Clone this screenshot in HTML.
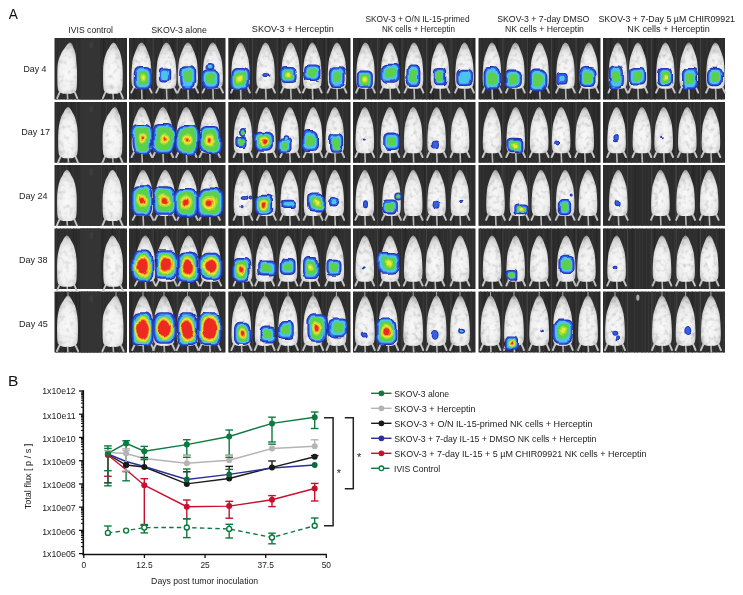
<!DOCTYPE html><html><head><meta charset="utf-8"><style>html,body{margin:0;padding:0;background:#fff;}svg{display:block}text{font-family:"Liberation Sans",Arial,sans-serif;fill:#222}</style></head><body>
<svg width="743" height="595" viewBox="0 0 743 595">
<defs>
<radialGradient id="mg" cx="0.5" cy="0.62" r="0.62"><stop offset="0" stop-color="#fafafa"/><stop offset="0.6" stop-color="#eeeeee"/><stop offset="0.87" stop-color="#d0d0d0"/><stop offset="1" stop-color="#949494"/></radialGradient>
<radialGradient id="mg1" cx="0.5" cy="0.6" r="0.62"><stop offset="0" stop-color="#fafafa"/><stop offset="0.6" stop-color="#f0f0f0"/><stop offset="0.88" stop-color="#d4d4d4"/><stop offset="1" stop-color="#9a9a9a"/></radialGradient>
<filter id="bl" x="-20%" y="-20%" width="140%" height="140%"><feGaussianBlur stdDeviation="0.55"/></filter>
<filter id="tex" filterUnits="userSpaceOnUse" x="50" y="35" width="680" height="320"><feTurbulence type="fractalNoise" baseFrequency="0.22" numOctaves="2" seed="5" result="n"/><feColorMatrix in="n" type="matrix" values="0 0 0 0 0  0 0 0 0 0  0 0 0 0 0  0 0 0 -0.8 0.42" result="a"/><feComposite in="a" in2="SourceGraphic" operator="in" result="t"/><feMerge><feMergeNode in="SourceGraphic"/><feMergeNode in="t"/></feMerge></filter>
<filter id="tex1" filterUnits="userSpaceOnUse" x="50" y="35" width="80" height="320"><feTurbulence type="fractalNoise" baseFrequency="0.2" numOctaves="2" seed="9" result="n"/><feColorMatrix in="n" type="matrix" values="0 0 0 0 0  0 0 0 0 0  0 0 0 0 0  0 0 0 -0.7 0.36" result="a"/><feComposite in="a" in2="SourceGraphic" operator="in" result="t"/><feMerge><feMergeNode in="SourceGraphic"/><feMergeNode in="t"/></feMerge></filter>
<filter id="bb" filterUnits="userSpaceOnUse" x="50" y="35" width="680" height="320"><feTurbulence type="fractalNoise" baseFrequency="0.07" numOctaves="1" seed="11" result="n"/><feDisplacementMap in="SourceGraphic" in2="n" scale="6" xChannelSelector="R" yChannelSelector="G" result="d"/><feGaussianBlur in="d" stdDeviation="0.75"/></filter>
</defs>
<rect x="54.5" y="38" width="72.50" height="61.50" fill="#2d2d2d"/>
<rect x="56.0" y="38" width="0.9" height="61.50" fill="#333"/>
<rect x="59.3" y="38" width="0.6" height="61.50" fill="#353535"/>
<rect x="62.5" y="38" width="0.6" height="61.50" fill="#333"/>
<rect x="65.1" y="38" width="0.9" height="61.50" fill="#353535"/>
<rect x="68.1" y="38" width="1.0" height="61.50" fill="#353535"/>
<rect x="72.2" y="38" width="0.7" height="61.50" fill="#333"/>
<rect x="76.0" y="38" width="1.1" height="61.50" fill="#353535"/>
<rect x="79.6" y="38" width="0.9" height="61.50" fill="#333"/>
<rect x="82.2" y="38" width="1.3" height="61.50" fill="#383838"/>
<rect x="85.6" y="38" width="1.0" height="61.50" fill="#383838"/>
<rect x="89.2" y="38" width="1.1" height="61.50" fill="#353535"/>
<rect x="92.9" y="38" width="1.1" height="61.50" fill="#383838"/>
<rect x="95.6" y="38" width="1.2" height="61.50" fill="#353535"/>
<rect x="99.3" y="38" width="1.0" height="61.50" fill="#262626"/>
<rect x="103.3" y="38" width="1.0" height="61.50" fill="#262626"/>
<rect x="106.6" y="38" width="0.8" height="61.50" fill="#333"/>
<rect x="110.5" y="38" width="0.8" height="61.50" fill="#383838"/>
<rect x="114.0" y="38" width="1.3" height="61.50" fill="#262626"/>
<rect x="117.1" y="38" width="1.4" height="61.50" fill="#353535"/>
<rect x="120.6" y="38" width="0.7" height="61.50" fill="#383838"/>
<rect x="123.4" y="38" width="1.0" height="61.50" fill="#353535"/>
<rect x="80.5" y="38" width="20" height="61.50" fill="#343434"/>
<ellipse cx="91.3" cy="45.0" rx="2" ry="3.6" fill="#3e3e3e" filter="url(#bl)"/>
<rect x="129" y="38" width="96.50" height="61.50" fill="#2d2d2d"/>
<rect x="130.5" y="38" width="0.7" height="61.50" fill="#383838"/>
<rect x="133.7" y="38" width="0.9" height="61.50" fill="#262626"/>
<rect x="137.3" y="38" width="1.0" height="61.50" fill="#353535"/>
<rect x="141.7" y="38" width="1.0" height="61.50" fill="#353535"/>
<rect x="144.4" y="38" width="1.2" height="61.50" fill="#262626"/>
<rect x="147.4" y="38" width="0.9" height="61.50" fill="#383838"/>
<rect x="150.0" y="38" width="1.0" height="61.50" fill="#333"/>
<rect x="153.7" y="38" width="1.0" height="61.50" fill="#333"/>
<rect x="157.7" y="38" width="0.7" height="61.50" fill="#333"/>
<rect x="161.0" y="38" width="1.3" height="61.50" fill="#262626"/>
<rect x="163.7" y="38" width="1.0" height="61.50" fill="#383838"/>
<rect x="167.9" y="38" width="1.3" height="61.50" fill="#383838"/>
<rect x="171.9" y="38" width="1.4" height="61.50" fill="#262626"/>
<rect x="176.3" y="38" width="0.7" height="61.50" fill="#333"/>
<rect x="179.1" y="38" width="1.1" height="61.50" fill="#353535"/>
<rect x="182.5" y="38" width="1.1" height="61.50" fill="#383838"/>
<rect x="185.6" y="38" width="0.7" height="61.50" fill="#383838"/>
<rect x="189.3" y="38" width="0.9" height="61.50" fill="#333"/>
<rect x="193.2" y="38" width="1.0" height="61.50" fill="#353535"/>
<rect x="196.6" y="38" width="1.3" height="61.50" fill="#262626"/>
<rect x="199.9" y="38" width="0.9" height="61.50" fill="#262626"/>
<rect x="203.7" y="38" width="0.6" height="61.50" fill="#353535"/>
<rect x="208.2" y="38" width="1.0" height="61.50" fill="#353535"/>
<rect x="211.3" y="38" width="0.6" height="61.50" fill="#353535"/>
<rect x="215.0" y="38" width="1.0" height="61.50" fill="#383838"/>
<rect x="218.7" y="38" width="0.7" height="61.50" fill="#333"/>
<rect x="222.4" y="38" width="0.7" height="61.50" fill="#383838"/>
<rect x="152.7" y="38" width="0.8" height="61.50" fill="#4a4a4a"/>
<rect x="176.8" y="38" width="0.8" height="61.50" fill="#4a4a4a"/>
<rect x="201.0" y="38" width="0.8" height="61.50" fill="#4a4a4a"/>
<rect x="228.3" y="38" width="122.20" height="61.50" fill="#2d2d2d"/>
<rect x="229.8" y="38" width="1.1" height="61.50" fill="#262626"/>
<rect x="232.5" y="38" width="1.3" height="61.50" fill="#262626"/>
<rect x="236.0" y="38" width="0.8" height="61.50" fill="#333"/>
<rect x="238.7" y="38" width="0.9" height="61.50" fill="#383838"/>
<rect x="242.2" y="38" width="1.2" height="61.50" fill="#353535"/>
<rect x="245.1" y="38" width="1.4" height="61.50" fill="#383838"/>
<rect x="247.9" y="38" width="1.0" height="61.50" fill="#353535"/>
<rect x="251.9" y="38" width="0.8" height="61.50" fill="#353535"/>
<rect x="255.8" y="38" width="0.8" height="61.50" fill="#383838"/>
<rect x="260.1" y="38" width="0.9" height="61.50" fill="#333"/>
<rect x="263.7" y="38" width="1.2" height="61.50" fill="#383838"/>
<rect x="267.4" y="38" width="1.1" height="61.50" fill="#333"/>
<rect x="271.5" y="38" width="1.3" height="61.50" fill="#333"/>
<rect x="274.4" y="38" width="1.0" height="61.50" fill="#353535"/>
<rect x="278.9" y="38" width="1.2" height="61.50" fill="#262626"/>
<rect x="281.9" y="38" width="1.2" height="61.50" fill="#383838"/>
<rect x="285.3" y="38" width="1.3" height="61.50" fill="#383838"/>
<rect x="289.7" y="38" width="0.9" height="61.50" fill="#333"/>
<rect x="292.5" y="38" width="1.0" height="61.50" fill="#383838"/>
<rect x="295.4" y="38" width="1.1" height="61.50" fill="#353535"/>
<rect x="298.8" y="38" width="1.1" height="61.50" fill="#353535"/>
<rect x="303.0" y="38" width="0.7" height="61.50" fill="#262626"/>
<rect x="307.1" y="38" width="1.2" height="61.50" fill="#262626"/>
<rect x="311.3" y="38" width="0.9" height="61.50" fill="#383838"/>
<rect x="314.0" y="38" width="1.4" height="61.50" fill="#262626"/>
<rect x="317.4" y="38" width="1.2" height="61.50" fill="#353535"/>
<rect x="321.4" y="38" width="0.7" height="61.50" fill="#333"/>
<rect x="323.9" y="38" width="1.1" height="61.50" fill="#262626"/>
<rect x="328.1" y="38" width="0.7" height="61.50" fill="#262626"/>
<rect x="331.9" y="38" width="0.9" height="61.50" fill="#333"/>
<rect x="334.4" y="38" width="1.2" height="61.50" fill="#353535"/>
<rect x="338.0" y="38" width="1.3" height="61.50" fill="#262626"/>
<rect x="342.4" y="38" width="0.8" height="61.50" fill="#333"/>
<rect x="345.0" y="38" width="0.8" height="61.50" fill="#333"/>
<rect x="349.0" y="38" width="0.9" height="61.50" fill="#262626"/>
<rect x="252.3" y="38" width="0.8" height="61.50" fill="#4a4a4a"/>
<rect x="276.8" y="38" width="0.8" height="61.50" fill="#4a4a4a"/>
<rect x="301.2" y="38" width="0.8" height="61.50" fill="#4a4a4a"/>
<rect x="325.7" y="38" width="0.8" height="61.50" fill="#4a4a4a"/>
<rect x="353" y="38" width="122.50" height="61.50" fill="#2d2d2d"/>
<rect x="354.5" y="38" width="0.6" height="61.50" fill="#383838"/>
<rect x="358.8" y="38" width="1.1" height="61.50" fill="#262626"/>
<rect x="362.9" y="38" width="1.3" height="61.50" fill="#333"/>
<rect x="366.5" y="38" width="1.0" height="61.50" fill="#353535"/>
<rect x="370.8" y="38" width="1.2" height="61.50" fill="#353535"/>
<rect x="374.8" y="38" width="0.7" height="61.50" fill="#333"/>
<rect x="378.3" y="38" width="1.2" height="61.50" fill="#353535"/>
<rect x="381.4" y="38" width="1.0" height="61.50" fill="#262626"/>
<rect x="385.5" y="38" width="0.7" height="61.50" fill="#353535"/>
<rect x="388.5" y="38" width="0.8" height="61.50" fill="#353535"/>
<rect x="392.0" y="38" width="1.0" height="61.50" fill="#353535"/>
<rect x="395.4" y="38" width="1.1" height="61.50" fill="#333"/>
<rect x="399.3" y="38" width="1.0" height="61.50" fill="#262626"/>
<rect x="402.8" y="38" width="0.8" height="61.50" fill="#383838"/>
<rect x="407.1" y="38" width="1.3" height="61.50" fill="#333"/>
<rect x="411.3" y="38" width="0.7" height="61.50" fill="#353535"/>
<rect x="414.6" y="38" width="0.9" height="61.50" fill="#333"/>
<rect x="417.9" y="38" width="0.8" height="61.50" fill="#383838"/>
<rect x="422.0" y="38" width="1.3" height="61.50" fill="#333"/>
<rect x="426.4" y="38" width="1.1" height="61.50" fill="#383838"/>
<rect x="429.2" y="38" width="1.3" height="61.50" fill="#262626"/>
<rect x="432.1" y="38" width="1.4" height="61.50" fill="#262626"/>
<rect x="436.4" y="38" width="0.7" height="61.50" fill="#333"/>
<rect x="439.2" y="38" width="0.9" height="61.50" fill="#262626"/>
<rect x="442.4" y="38" width="0.8" height="61.50" fill="#383838"/>
<rect x="445.1" y="38" width="0.9" height="61.50" fill="#383838"/>
<rect x="448.7" y="38" width="1.0" height="61.50" fill="#353535"/>
<rect x="451.9" y="38" width="1.0" height="61.50" fill="#383838"/>
<rect x="455.5" y="38" width="0.7" height="61.50" fill="#333"/>
<rect x="459.9" y="38" width="0.7" height="61.50" fill="#383838"/>
<rect x="463.0" y="38" width="1.3" height="61.50" fill="#333"/>
<rect x="466.0" y="38" width="0.7" height="61.50" fill="#262626"/>
<rect x="470.2" y="38" width="1.1" height="61.50" fill="#383838"/>
<rect x="473.5" y="38" width="1.0" height="61.50" fill="#262626"/>
<rect x="377.1" y="38" width="0.8" height="61.50" fill="#4a4a4a"/>
<rect x="401.6" y="38" width="0.8" height="61.50" fill="#4a4a4a"/>
<rect x="426.1" y="38" width="0.8" height="61.50" fill="#4a4a4a"/>
<rect x="450.6" y="38" width="0.8" height="61.50" fill="#4a4a4a"/>
<rect x="478.5" y="38" width="122.00" height="61.50" fill="#2d2d2d"/>
<rect x="480.0" y="38" width="0.7" height="61.50" fill="#353535"/>
<rect x="484.1" y="38" width="0.7" height="61.50" fill="#353535"/>
<rect x="487.1" y="38" width="0.6" height="61.50" fill="#353535"/>
<rect x="491.2" y="38" width="0.7" height="61.50" fill="#333"/>
<rect x="493.9" y="38" width="1.3" height="61.50" fill="#262626"/>
<rect x="496.4" y="38" width="1.4" height="61.50" fill="#262626"/>
<rect x="500.7" y="38" width="0.8" height="61.50" fill="#333"/>
<rect x="503.3" y="38" width="1.2" height="61.50" fill="#353535"/>
<rect x="507.8" y="38" width="0.8" height="61.50" fill="#333"/>
<rect x="510.7" y="38" width="0.8" height="61.50" fill="#383838"/>
<rect x="514.2" y="38" width="0.8" height="61.50" fill="#262626"/>
<rect x="517.7" y="38" width="0.7" height="61.50" fill="#383838"/>
<rect x="521.8" y="38" width="1.4" height="61.50" fill="#353535"/>
<rect x="524.4" y="38" width="1.2" height="61.50" fill="#333"/>
<rect x="527.9" y="38" width="0.8" height="61.50" fill="#262626"/>
<rect x="530.6" y="38" width="1.3" height="61.50" fill="#262626"/>
<rect x="534.4" y="38" width="1.0" height="61.50" fill="#262626"/>
<rect x="538.9" y="38" width="0.8" height="61.50" fill="#333"/>
<rect x="543.3" y="38" width="0.9" height="61.50" fill="#333"/>
<rect x="546.6" y="38" width="0.9" height="61.50" fill="#353535"/>
<rect x="550.8" y="38" width="0.6" height="61.50" fill="#383838"/>
<rect x="554.2" y="38" width="0.6" height="61.50" fill="#262626"/>
<rect x="558.4" y="38" width="1.1" height="61.50" fill="#383838"/>
<rect x="562.1" y="38" width="1.2" height="61.50" fill="#353535"/>
<rect x="565.5" y="38" width="0.7" height="61.50" fill="#262626"/>
<rect x="568.0" y="38" width="0.9" height="61.50" fill="#383838"/>
<rect x="572.5" y="38" width="1.0" height="61.50" fill="#333"/>
<rect x="575.1" y="38" width="1.3" height="61.50" fill="#333"/>
<rect x="578.3" y="38" width="0.6" height="61.50" fill="#262626"/>
<rect x="580.9" y="38" width="0.8" height="61.50" fill="#333"/>
<rect x="583.9" y="38" width="1.2" height="61.50" fill="#353535"/>
<rect x="587.0" y="38" width="0.7" height="61.50" fill="#262626"/>
<rect x="590.6" y="38" width="0.9" height="61.50" fill="#383838"/>
<rect x="593.7" y="38" width="0.8" height="61.50" fill="#333"/>
<rect x="597.6" y="38" width="1.2" height="61.50" fill="#262626"/>
<rect x="502.5" y="38" width="0.8" height="61.50" fill="#4a4a4a"/>
<rect x="526.9" y="38" width="0.8" height="61.50" fill="#4a4a4a"/>
<rect x="551.3" y="38" width="0.8" height="61.50" fill="#4a4a4a"/>
<rect x="575.7" y="38" width="0.8" height="61.50" fill="#4a4a4a"/>
<rect x="603" y="38" width="122.00" height="61.50" fill="#2d2d2d"/>
<rect x="604.5" y="38" width="1.2" height="61.50" fill="#262626"/>
<rect x="607.3" y="38" width="1.2" height="61.50" fill="#333"/>
<rect x="609.9" y="38" width="1.3" height="61.50" fill="#262626"/>
<rect x="613.9" y="38" width="1.2" height="61.50" fill="#333"/>
<rect x="618.2" y="38" width="1.2" height="61.50" fill="#353535"/>
<rect x="622.3" y="38" width="1.1" height="61.50" fill="#333"/>
<rect x="625.0" y="38" width="0.6" height="61.50" fill="#383838"/>
<rect x="629.4" y="38" width="0.9" height="61.50" fill="#262626"/>
<rect x="633.0" y="38" width="1.1" height="61.50" fill="#333"/>
<rect x="636.5" y="38" width="0.6" height="61.50" fill="#353535"/>
<rect x="640.5" y="38" width="1.0" height="61.50" fill="#353535"/>
<rect x="644.3" y="38" width="0.7" height="61.50" fill="#262626"/>
<rect x="647.3" y="38" width="0.7" height="61.50" fill="#383838"/>
<rect x="650.3" y="38" width="1.2" height="61.50" fill="#333"/>
<rect x="654.3" y="38" width="1.4" height="61.50" fill="#262626"/>
<rect x="658.5" y="38" width="0.7" height="61.50" fill="#383838"/>
<rect x="662.5" y="38" width="1.1" height="61.50" fill="#333"/>
<rect x="665.2" y="38" width="0.7" height="61.50" fill="#383838"/>
<rect x="669.0" y="38" width="1.2" height="61.50" fill="#333"/>
<rect x="671.5" y="38" width="0.6" height="61.50" fill="#383838"/>
<rect x="675.9" y="38" width="0.7" height="61.50" fill="#333"/>
<rect x="679.8" y="38" width="0.8" height="61.50" fill="#383838"/>
<rect x="683.2" y="38" width="1.0" height="61.50" fill="#353535"/>
<rect x="687.7" y="38" width="1.0" height="61.50" fill="#383838"/>
<rect x="692.2" y="38" width="1.3" height="61.50" fill="#353535"/>
<rect x="695.2" y="38" width="0.7" height="61.50" fill="#262626"/>
<rect x="699.7" y="38" width="0.9" height="61.50" fill="#333"/>
<rect x="702.4" y="38" width="0.7" height="61.50" fill="#383838"/>
<rect x="706.8" y="38" width="0.7" height="61.50" fill="#383838"/>
<rect x="711.1" y="38" width="1.2" height="61.50" fill="#333"/>
<rect x="714.5" y="38" width="1.3" height="61.50" fill="#262626"/>
<rect x="717.1" y="38" width="0.6" height="61.50" fill="#262626"/>
<rect x="721.0" y="38" width="0.9" height="61.50" fill="#333"/>
<rect x="627.0" y="38" width="0.8" height="61.50" fill="#4a4a4a"/>
<rect x="651.4" y="38" width="0.8" height="61.50" fill="#4a4a4a"/>
<rect x="675.8" y="38" width="0.8" height="61.50" fill="#4a4a4a"/>
<rect x="700.2" y="38" width="0.8" height="61.50" fill="#4a4a4a"/>
<rect x="54.5" y="102" width="72.50" height="60.80" fill="#2d2d2d"/>
<rect x="56.0" y="102" width="0.9" height="60.80" fill="#353535"/>
<rect x="60.2" y="102" width="0.6" height="60.80" fill="#383838"/>
<rect x="64.4" y="102" width="0.7" height="60.80" fill="#333"/>
<rect x="68.3" y="102" width="1.3" height="60.80" fill="#383838"/>
<rect x="71.3" y="102" width="0.7" height="60.80" fill="#262626"/>
<rect x="75.8" y="102" width="1.1" height="60.80" fill="#383838"/>
<rect x="80.1" y="102" width="1.2" height="60.80" fill="#353535"/>
<rect x="83.2" y="102" width="0.6" height="60.80" fill="#383838"/>
<rect x="87.0" y="102" width="0.7" height="60.80" fill="#383838"/>
<rect x="90.3" y="102" width="0.9" height="60.80" fill="#383838"/>
<rect x="94.4" y="102" width="0.9" height="60.80" fill="#353535"/>
<rect x="98.5" y="102" width="1.1" height="60.80" fill="#333"/>
<rect x="102.5" y="102" width="0.6" height="60.80" fill="#262626"/>
<rect x="105.9" y="102" width="1.2" height="60.80" fill="#383838"/>
<rect x="109.3" y="102" width="1.3" height="60.80" fill="#333"/>
<rect x="112.2" y="102" width="0.9" height="60.80" fill="#383838"/>
<rect x="115.3" y="102" width="1.2" height="60.80" fill="#383838"/>
<rect x="118.6" y="102" width="0.8" height="60.80" fill="#262626"/>
<rect x="122.2" y="102" width="0.9" height="60.80" fill="#333"/>
<rect x="80.5" y="102" width="20" height="60.80" fill="#343434"/>
<ellipse cx="91.3" cy="109.0" rx="2" ry="3.6" fill="#3e3e3e" filter="url(#bl)"/>
<rect x="129" y="102" width="96.50" height="60.80" fill="#2d2d2d"/>
<rect x="130.5" y="102" width="0.7" height="60.80" fill="#262626"/>
<rect x="134.1" y="102" width="1.0" height="60.80" fill="#383838"/>
<rect x="138.6" y="102" width="1.0" height="60.80" fill="#333"/>
<rect x="142.2" y="102" width="0.8" height="60.80" fill="#333"/>
<rect x="145.4" y="102" width="0.7" height="60.80" fill="#333"/>
<rect x="148.6" y="102" width="1.2" height="60.80" fill="#333"/>
<rect x="152.9" y="102" width="1.2" height="60.80" fill="#262626"/>
<rect x="156.1" y="102" width="1.2" height="60.80" fill="#333"/>
<rect x="159.4" y="102" width="0.9" height="60.80" fill="#353535"/>
<rect x="162.9" y="102" width="1.1" height="60.80" fill="#383838"/>
<rect x="165.7" y="102" width="1.0" height="60.80" fill="#333"/>
<rect x="168.3" y="102" width="1.3" height="60.80" fill="#262626"/>
<rect x="171.6" y="102" width="1.0" height="60.80" fill="#383838"/>
<rect x="175.8" y="102" width="1.3" height="60.80" fill="#353535"/>
<rect x="178.6" y="102" width="0.9" height="60.80" fill="#262626"/>
<rect x="183.0" y="102" width="1.0" height="60.80" fill="#353535"/>
<rect x="186.3" y="102" width="1.3" height="60.80" fill="#262626"/>
<rect x="190.8" y="102" width="0.8" height="60.80" fill="#353535"/>
<rect x="193.7" y="102" width="0.7" height="60.80" fill="#353535"/>
<rect x="198.1" y="102" width="1.2" height="60.80" fill="#262626"/>
<rect x="200.8" y="102" width="1.2" height="60.80" fill="#353535"/>
<rect x="204.8" y="102" width="0.8" height="60.80" fill="#353535"/>
<rect x="208.6" y="102" width="0.8" height="60.80" fill="#333"/>
<rect x="212.4" y="102" width="1.0" height="60.80" fill="#262626"/>
<rect x="216.3" y="102" width="0.7" height="60.80" fill="#353535"/>
<rect x="219.4" y="102" width="1.4" height="60.80" fill="#333"/>
<rect x="222.6" y="102" width="0.8" height="60.80" fill="#353535"/>
<rect x="152.7" y="102" width="0.8" height="60.80" fill="#4a4a4a"/>
<rect x="176.8" y="102" width="0.8" height="60.80" fill="#4a4a4a"/>
<rect x="201.0" y="102" width="0.8" height="60.80" fill="#4a4a4a"/>
<rect x="228.3" y="102" width="122.20" height="60.80" fill="#2d2d2d"/>
<rect x="229.8" y="102" width="0.8" height="60.80" fill="#262626"/>
<rect x="232.9" y="102" width="0.9" height="60.80" fill="#333"/>
<rect x="236.3" y="102" width="0.8" height="60.80" fill="#333"/>
<rect x="238.9" y="102" width="0.9" height="60.80" fill="#383838"/>
<rect x="241.5" y="102" width="0.8" height="60.80" fill="#262626"/>
<rect x="244.1" y="102" width="0.8" height="60.80" fill="#262626"/>
<rect x="248.5" y="102" width="0.8" height="60.80" fill="#353535"/>
<rect x="252.4" y="102" width="1.2" height="60.80" fill="#383838"/>
<rect x="256.2" y="102" width="0.8" height="60.80" fill="#383838"/>
<rect x="260.2" y="102" width="1.0" height="60.80" fill="#333"/>
<rect x="263.7" y="102" width="0.8" height="60.80" fill="#333"/>
<rect x="266.7" y="102" width="0.8" height="60.80" fill="#383838"/>
<rect x="269.4" y="102" width="1.1" height="60.80" fill="#333"/>
<rect x="273.7" y="102" width="1.0" height="60.80" fill="#353535"/>
<rect x="278.1" y="102" width="0.7" height="60.80" fill="#262626"/>
<rect x="280.7" y="102" width="0.6" height="60.80" fill="#333"/>
<rect x="284.0" y="102" width="1.2" height="60.80" fill="#333"/>
<rect x="287.3" y="102" width="1.3" height="60.80" fill="#383838"/>
<rect x="291.3" y="102" width="1.4" height="60.80" fill="#333"/>
<rect x="294.4" y="102" width="0.7" height="60.80" fill="#262626"/>
<rect x="297.0" y="102" width="1.1" height="60.80" fill="#262626"/>
<rect x="301.2" y="102" width="1.4" height="60.80" fill="#262626"/>
<rect x="304.0" y="102" width="0.6" height="60.80" fill="#383838"/>
<rect x="306.7" y="102" width="0.9" height="60.80" fill="#353535"/>
<rect x="310.3" y="102" width="1.2" height="60.80" fill="#262626"/>
<rect x="313.5" y="102" width="1.3" height="60.80" fill="#262626"/>
<rect x="316.2" y="102" width="1.2" height="60.80" fill="#333"/>
<rect x="319.4" y="102" width="1.3" height="60.80" fill="#333"/>
<rect x="322.6" y="102" width="1.2" height="60.80" fill="#262626"/>
<rect x="325.1" y="102" width="0.9" height="60.80" fill="#262626"/>
<rect x="327.7" y="102" width="0.6" height="60.80" fill="#353535"/>
<rect x="331.8" y="102" width="0.6" height="60.80" fill="#333"/>
<rect x="335.8" y="102" width="1.3" height="60.80" fill="#383838"/>
<rect x="339.1" y="102" width="0.9" height="60.80" fill="#353535"/>
<rect x="342.1" y="102" width="1.2" height="60.80" fill="#383838"/>
<rect x="346.4" y="102" width="0.8" height="60.80" fill="#353535"/>
<rect x="349.0" y="102" width="0.8" height="60.80" fill="#262626"/>
<rect x="252.3" y="102" width="0.8" height="60.80" fill="#4a4a4a"/>
<rect x="276.8" y="102" width="0.8" height="60.80" fill="#4a4a4a"/>
<rect x="301.2" y="102" width="0.8" height="60.80" fill="#4a4a4a"/>
<rect x="325.7" y="102" width="0.8" height="60.80" fill="#4a4a4a"/>
<rect x="353" y="102" width="122.50" height="60.80" fill="#2d2d2d"/>
<rect x="354.5" y="102" width="1.0" height="60.80" fill="#262626"/>
<rect x="358.6" y="102" width="1.3" height="60.80" fill="#262626"/>
<rect x="361.3" y="102" width="1.0" height="60.80" fill="#353535"/>
<rect x="365.5" y="102" width="1.2" height="60.80" fill="#333"/>
<rect x="369.2" y="102" width="0.9" height="60.80" fill="#383838"/>
<rect x="372.6" y="102" width="1.2" height="60.80" fill="#353535"/>
<rect x="376.1" y="102" width="0.9" height="60.80" fill="#333"/>
<rect x="379.1" y="102" width="0.7" height="60.80" fill="#353535"/>
<rect x="382.6" y="102" width="1.0" height="60.80" fill="#333"/>
<rect x="387.0" y="102" width="1.3" height="60.80" fill="#353535"/>
<rect x="390.1" y="102" width="0.7" height="60.80" fill="#353535"/>
<rect x="393.4" y="102" width="1.4" height="60.80" fill="#262626"/>
<rect x="396.2" y="102" width="0.7" height="60.80" fill="#262626"/>
<rect x="400.0" y="102" width="1.1" height="60.80" fill="#353535"/>
<rect x="404.0" y="102" width="0.8" height="60.80" fill="#383838"/>
<rect x="407.7" y="102" width="0.9" height="60.80" fill="#383838"/>
<rect x="410.6" y="102" width="0.8" height="60.80" fill="#333"/>
<rect x="413.6" y="102" width="0.8" height="60.80" fill="#333"/>
<rect x="416.7" y="102" width="0.9" height="60.80" fill="#333"/>
<rect x="420.2" y="102" width="0.8" height="60.80" fill="#353535"/>
<rect x="424.0" y="102" width="1.4" height="60.80" fill="#353535"/>
<rect x="426.5" y="102" width="1.3" height="60.80" fill="#333"/>
<rect x="430.7" y="102" width="1.3" height="60.80" fill="#353535"/>
<rect x="435.0" y="102" width="0.8" height="60.80" fill="#353535"/>
<rect x="437.8" y="102" width="1.4" height="60.80" fill="#333"/>
<rect x="442.2" y="102" width="0.9" height="60.80" fill="#333"/>
<rect x="445.6" y="102" width="0.8" height="60.80" fill="#353535"/>
<rect x="448.3" y="102" width="1.1" height="60.80" fill="#383838"/>
<rect x="451.3" y="102" width="0.9" height="60.80" fill="#333"/>
<rect x="453.8" y="102" width="1.4" height="60.80" fill="#353535"/>
<rect x="457.5" y="102" width="1.1" height="60.80" fill="#333"/>
<rect x="461.7" y="102" width="1.3" height="60.80" fill="#262626"/>
<rect x="465.5" y="102" width="0.7" height="60.80" fill="#383838"/>
<rect x="468.2" y="102" width="0.6" height="60.80" fill="#262626"/>
<rect x="471.8" y="102" width="0.7" height="60.80" fill="#353535"/>
<rect x="377.1" y="102" width="0.8" height="60.80" fill="#4a4a4a"/>
<rect x="401.6" y="102" width="0.8" height="60.80" fill="#4a4a4a"/>
<rect x="426.1" y="102" width="0.8" height="60.80" fill="#4a4a4a"/>
<rect x="450.6" y="102" width="0.8" height="60.80" fill="#4a4a4a"/>
<rect x="478.5" y="102" width="122.00" height="60.80" fill="#2d2d2d"/>
<rect x="480.0" y="102" width="1.1" height="60.80" fill="#333"/>
<rect x="483.8" y="102" width="0.7" height="60.80" fill="#333"/>
<rect x="487.1" y="102" width="0.8" height="60.80" fill="#383838"/>
<rect x="490.9" y="102" width="0.9" height="60.80" fill="#353535"/>
<rect x="494.0" y="102" width="1.1" height="60.80" fill="#383838"/>
<rect x="497.4" y="102" width="0.6" height="60.80" fill="#383838"/>
<rect x="501.2" y="102" width="0.9" height="60.80" fill="#262626"/>
<rect x="504.1" y="102" width="0.6" height="60.80" fill="#333"/>
<rect x="507.4" y="102" width="1.3" height="60.80" fill="#262626"/>
<rect x="511.1" y="102" width="0.9" height="60.80" fill="#333"/>
<rect x="513.8" y="102" width="0.6" height="60.80" fill="#333"/>
<rect x="517.6" y="102" width="1.3" height="60.80" fill="#353535"/>
<rect x="521.2" y="102" width="1.3" height="60.80" fill="#333"/>
<rect x="524.0" y="102" width="0.8" height="60.80" fill="#333"/>
<rect x="528.4" y="102" width="0.7" height="60.80" fill="#262626"/>
<rect x="532.4" y="102" width="1.2" height="60.80" fill="#333"/>
<rect x="535.5" y="102" width="1.3" height="60.80" fill="#353535"/>
<rect x="540.0" y="102" width="1.0" height="60.80" fill="#353535"/>
<rect x="543.7" y="102" width="1.1" height="60.80" fill="#353535"/>
<rect x="548.0" y="102" width="1.1" height="60.80" fill="#333"/>
<rect x="551.8" y="102" width="1.3" height="60.80" fill="#262626"/>
<rect x="555.5" y="102" width="0.8" height="60.80" fill="#262626"/>
<rect x="558.4" y="102" width="0.8" height="60.80" fill="#262626"/>
<rect x="562.7" y="102" width="0.7" height="60.80" fill="#383838"/>
<rect x="565.5" y="102" width="0.8" height="60.80" fill="#333"/>
<rect x="568.1" y="102" width="1.0" height="60.80" fill="#353535"/>
<rect x="571.9" y="102" width="0.9" height="60.80" fill="#262626"/>
<rect x="575.6" y="102" width="1.0" height="60.80" fill="#383838"/>
<rect x="579.4" y="102" width="0.8" height="60.80" fill="#333"/>
<rect x="582.7" y="102" width="1.1" height="60.80" fill="#262626"/>
<rect x="586.2" y="102" width="0.7" height="60.80" fill="#353535"/>
<rect x="590.0" y="102" width="1.0" height="60.80" fill="#333"/>
<rect x="593.4" y="102" width="1.1" height="60.80" fill="#262626"/>
<rect x="597.6" y="102" width="1.2" height="60.80" fill="#262626"/>
<rect x="502.5" y="102" width="0.8" height="60.80" fill="#4a4a4a"/>
<rect x="526.9" y="102" width="0.8" height="60.80" fill="#4a4a4a"/>
<rect x="551.3" y="102" width="0.8" height="60.80" fill="#4a4a4a"/>
<rect x="575.7" y="102" width="0.8" height="60.80" fill="#4a4a4a"/>
<rect x="603" y="102" width="122.00" height="60.80" fill="#2d2d2d"/>
<rect x="604.5" y="102" width="0.7" height="60.80" fill="#262626"/>
<rect x="607.7" y="102" width="1.2" height="60.80" fill="#353535"/>
<rect x="610.3" y="102" width="0.7" height="60.80" fill="#383838"/>
<rect x="614.4" y="102" width="1.0" height="60.80" fill="#353535"/>
<rect x="618.4" y="102" width="1.3" height="60.80" fill="#333"/>
<rect x="620.9" y="102" width="0.7" height="60.80" fill="#353535"/>
<rect x="623.8" y="102" width="1.4" height="60.80" fill="#262626"/>
<rect x="626.9" y="102" width="1.2" height="60.80" fill="#333"/>
<rect x="630.8" y="102" width="1.2" height="60.80" fill="#333"/>
<rect x="633.4" y="102" width="0.9" height="60.80" fill="#383838"/>
<rect x="636.2" y="102" width="1.3" height="60.80" fill="#383838"/>
<rect x="640.5" y="102" width="1.0" height="60.80" fill="#383838"/>
<rect x="644.0" y="102" width="1.3" height="60.80" fill="#333"/>
<rect x="647.7" y="102" width="1.1" height="60.80" fill="#333"/>
<rect x="650.8" y="102" width="0.6" height="60.80" fill="#333"/>
<rect x="654.2" y="102" width="1.1" height="60.80" fill="#383838"/>
<rect x="658.0" y="102" width="1.3" height="60.80" fill="#333"/>
<rect x="662.1" y="102" width="0.8" height="60.80" fill="#353535"/>
<rect x="665.9" y="102" width="0.9" height="60.80" fill="#262626"/>
<rect x="669.5" y="102" width="1.1" height="60.80" fill="#353535"/>
<rect x="672.5" y="102" width="1.0" height="60.80" fill="#262626"/>
<rect x="676.5" y="102" width="0.9" height="60.80" fill="#262626"/>
<rect x="680.9" y="102" width="1.1" height="60.80" fill="#383838"/>
<rect x="684.1" y="102" width="0.7" height="60.80" fill="#333"/>
<rect x="687.0" y="102" width="1.2" height="60.80" fill="#353535"/>
<rect x="690.0" y="102" width="1.0" height="60.80" fill="#383838"/>
<rect x="693.8" y="102" width="1.4" height="60.80" fill="#383838"/>
<rect x="697.8" y="102" width="1.2" height="60.80" fill="#333"/>
<rect x="700.6" y="102" width="1.1" height="60.80" fill="#262626"/>
<rect x="703.9" y="102" width="0.9" height="60.80" fill="#353535"/>
<rect x="706.7" y="102" width="0.8" height="60.80" fill="#353535"/>
<rect x="709.2" y="102" width="0.6" height="60.80" fill="#383838"/>
<rect x="712.3" y="102" width="1.0" height="60.80" fill="#333"/>
<rect x="715.7" y="102" width="0.8" height="60.80" fill="#333"/>
<rect x="718.6" y="102" width="1.1" height="60.80" fill="#262626"/>
<rect x="721.4" y="102" width="0.6" height="60.80" fill="#333"/>
<rect x="627.0" y="102" width="0.8" height="60.80" fill="#4a4a4a"/>
<rect x="651.4" y="102" width="0.8" height="60.80" fill="#4a4a4a"/>
<rect x="675.8" y="102" width="0.8" height="60.80" fill="#4a4a4a"/>
<rect x="700.2" y="102" width="0.8" height="60.80" fill="#4a4a4a"/>
<rect x="54.5" y="165" width="72.50" height="60.80" fill="#2d2d2d"/>
<rect x="56.0" y="165" width="1.0" height="60.80" fill="#353535"/>
<rect x="59.8" y="165" width="1.3" height="60.80" fill="#383838"/>
<rect x="63.1" y="165" width="0.8" height="60.80" fill="#353535"/>
<rect x="65.7" y="165" width="1.3" height="60.80" fill="#383838"/>
<rect x="69.4" y="165" width="1.1" height="60.80" fill="#262626"/>
<rect x="72.4" y="165" width="1.3" height="60.80" fill="#353535"/>
<rect x="75.0" y="165" width="0.6" height="60.80" fill="#333"/>
<rect x="78.0" y="165" width="0.6" height="60.80" fill="#353535"/>
<rect x="80.5" y="165" width="1.0" height="60.80" fill="#333"/>
<rect x="83.3" y="165" width="0.8" height="60.80" fill="#262626"/>
<rect x="87.4" y="165" width="0.7" height="60.80" fill="#383838"/>
<rect x="90.0" y="165" width="1.1" height="60.80" fill="#262626"/>
<rect x="94.0" y="165" width="0.6" height="60.80" fill="#262626"/>
<rect x="98.0" y="165" width="1.0" height="60.80" fill="#262626"/>
<rect x="100.8" y="165" width="1.4" height="60.80" fill="#383838"/>
<rect x="103.8" y="165" width="0.6" height="60.80" fill="#383838"/>
<rect x="108.1" y="165" width="1.3" height="60.80" fill="#383838"/>
<rect x="112.0" y="165" width="0.8" height="60.80" fill="#262626"/>
<rect x="115.9" y="165" width="1.3" height="60.80" fill="#383838"/>
<rect x="118.9" y="165" width="1.3" height="60.80" fill="#333"/>
<rect x="121.6" y="165" width="1.0" height="60.80" fill="#333"/>
<rect x="124.6" y="165" width="0.8" height="60.80" fill="#333"/>
<rect x="80.5" y="165" width="20" height="60.80" fill="#343434"/>
<ellipse cx="91.3" cy="172.0" rx="2" ry="3.6" fill="#3e3e3e" filter="url(#bl)"/>
<rect x="129" y="165" width="96.50" height="60.80" fill="#2d2d2d"/>
<rect x="130.5" y="165" width="1.2" height="60.80" fill="#383838"/>
<rect x="133.4" y="165" width="0.9" height="60.80" fill="#333"/>
<rect x="136.6" y="165" width="1.3" height="60.80" fill="#262626"/>
<rect x="140.1" y="165" width="1.0" height="60.80" fill="#353535"/>
<rect x="144.3" y="165" width="0.9" height="60.80" fill="#333"/>
<rect x="147.9" y="165" width="0.8" height="60.80" fill="#333"/>
<rect x="151.2" y="165" width="1.1" height="60.80" fill="#333"/>
<rect x="154.0" y="165" width="0.6" height="60.80" fill="#353535"/>
<rect x="157.8" y="165" width="0.7" height="60.80" fill="#333"/>
<rect x="161.7" y="165" width="0.6" height="60.80" fill="#333"/>
<rect x="165.5" y="165" width="1.1" height="60.80" fill="#353535"/>
<rect x="169.5" y="165" width="0.7" height="60.80" fill="#383838"/>
<rect x="172.4" y="165" width="1.4" height="60.80" fill="#353535"/>
<rect x="176.7" y="165" width="1.2" height="60.80" fill="#262626"/>
<rect x="179.4" y="165" width="0.8" height="60.80" fill="#353535"/>
<rect x="182.0" y="165" width="1.4" height="60.80" fill="#353535"/>
<rect x="186.1" y="165" width="1.1" height="60.80" fill="#383838"/>
<rect x="189.6" y="165" width="0.7" height="60.80" fill="#333"/>
<rect x="192.7" y="165" width="0.9" height="60.80" fill="#383838"/>
<rect x="195.2" y="165" width="0.8" height="60.80" fill="#383838"/>
<rect x="197.8" y="165" width="1.2" height="60.80" fill="#383838"/>
<rect x="201.8" y="165" width="1.1" height="60.80" fill="#262626"/>
<rect x="206.0" y="165" width="1.1" height="60.80" fill="#353535"/>
<rect x="210.1" y="165" width="0.6" height="60.80" fill="#353535"/>
<rect x="213.3" y="165" width="1.2" height="60.80" fill="#333"/>
<rect x="217.2" y="165" width="1.3" height="60.80" fill="#383838"/>
<rect x="220.1" y="165" width="0.6" height="60.80" fill="#333"/>
<rect x="223.2" y="165" width="1.2" height="60.80" fill="#353535"/>
<rect x="152.7" y="165" width="0.8" height="60.80" fill="#4a4a4a"/>
<rect x="176.8" y="165" width="0.8" height="60.80" fill="#4a4a4a"/>
<rect x="201.0" y="165" width="0.8" height="60.80" fill="#4a4a4a"/>
<rect x="228.3" y="165" width="122.20" height="60.80" fill="#2d2d2d"/>
<rect x="229.8" y="165" width="1.0" height="60.80" fill="#262626"/>
<rect x="233.7" y="165" width="1.3" height="60.80" fill="#262626"/>
<rect x="237.4" y="165" width="1.4" height="60.80" fill="#383838"/>
<rect x="241.0" y="165" width="0.7" height="60.80" fill="#333"/>
<rect x="245.4" y="165" width="0.8" height="60.80" fill="#333"/>
<rect x="248.1" y="165" width="1.1" height="60.80" fill="#353535"/>
<rect x="251.6" y="165" width="1.4" height="60.80" fill="#353535"/>
<rect x="255.4" y="165" width="0.9" height="60.80" fill="#262626"/>
<rect x="259.7" y="165" width="1.3" height="60.80" fill="#353535"/>
<rect x="263.1" y="165" width="1.1" height="60.80" fill="#383838"/>
<rect x="266.0" y="165" width="0.8" height="60.80" fill="#333"/>
<rect x="269.2" y="165" width="1.3" height="60.80" fill="#333"/>
<rect x="273.6" y="165" width="0.7" height="60.80" fill="#353535"/>
<rect x="276.8" y="165" width="0.9" height="60.80" fill="#333"/>
<rect x="281.1" y="165" width="1.0" height="60.80" fill="#383838"/>
<rect x="283.9" y="165" width="1.0" height="60.80" fill="#383838"/>
<rect x="287.6" y="165" width="0.7" height="60.80" fill="#262626"/>
<rect x="291.3" y="165" width="1.2" height="60.80" fill="#333"/>
<rect x="294.4" y="165" width="1.2" height="60.80" fill="#333"/>
<rect x="298.3" y="165" width="1.4" height="60.80" fill="#383838"/>
<rect x="302.0" y="165" width="0.9" height="60.80" fill="#333"/>
<rect x="305.2" y="165" width="0.8" height="60.80" fill="#353535"/>
<rect x="308.0" y="165" width="1.1" height="60.80" fill="#333"/>
<rect x="311.3" y="165" width="1.4" height="60.80" fill="#383838"/>
<rect x="315.2" y="165" width="0.9" height="60.80" fill="#333"/>
<rect x="318.0" y="165" width="1.3" height="60.80" fill="#383838"/>
<rect x="320.9" y="165" width="0.9" height="60.80" fill="#353535"/>
<rect x="323.4" y="165" width="1.3" height="60.80" fill="#262626"/>
<rect x="327.3" y="165" width="1.0" height="60.80" fill="#383838"/>
<rect x="330.7" y="165" width="0.7" height="60.80" fill="#262626"/>
<rect x="333.2" y="165" width="0.8" height="60.80" fill="#262626"/>
<rect x="337.1" y="165" width="1.1" height="60.80" fill="#262626"/>
<rect x="341.3" y="165" width="1.1" height="60.80" fill="#333"/>
<rect x="345.2" y="165" width="1.1" height="60.80" fill="#262626"/>
<rect x="348.5" y="165" width="0.8" height="60.80" fill="#353535"/>
<rect x="252.3" y="165" width="0.8" height="60.80" fill="#4a4a4a"/>
<rect x="276.8" y="165" width="0.8" height="60.80" fill="#4a4a4a"/>
<rect x="301.2" y="165" width="0.8" height="60.80" fill="#4a4a4a"/>
<rect x="325.7" y="165" width="0.8" height="60.80" fill="#4a4a4a"/>
<rect x="353" y="165" width="122.50" height="60.80" fill="#2d2d2d"/>
<rect x="354.5" y="165" width="0.8" height="60.80" fill="#262626"/>
<rect x="358.4" y="165" width="1.1" height="60.80" fill="#383838"/>
<rect x="362.6" y="165" width="1.0" height="60.80" fill="#353535"/>
<rect x="366.4" y="165" width="0.9" height="60.80" fill="#333"/>
<rect x="370.7" y="165" width="0.9" height="60.80" fill="#353535"/>
<rect x="373.9" y="165" width="1.0" height="60.80" fill="#353535"/>
<rect x="376.5" y="165" width="1.0" height="60.80" fill="#333"/>
<rect x="380.4" y="165" width="1.4" height="60.80" fill="#333"/>
<rect x="384.0" y="165" width="0.7" height="60.80" fill="#262626"/>
<rect x="387.6" y="165" width="1.2" height="60.80" fill="#353535"/>
<rect x="391.3" y="165" width="1.3" height="60.80" fill="#383838"/>
<rect x="394.7" y="165" width="1.4" height="60.80" fill="#333"/>
<rect x="399.1" y="165" width="0.7" height="60.80" fill="#353535"/>
<rect x="403.1" y="165" width="1.1" height="60.80" fill="#353535"/>
<rect x="406.1" y="165" width="0.9" height="60.80" fill="#353535"/>
<rect x="408.6" y="165" width="0.9" height="60.80" fill="#262626"/>
<rect x="412.4" y="165" width="1.1" height="60.80" fill="#383838"/>
<rect x="415.1" y="165" width="0.8" height="60.80" fill="#262626"/>
<rect x="419.5" y="165" width="1.0" height="60.80" fill="#333"/>
<rect x="424.0" y="165" width="1.4" height="60.80" fill="#262626"/>
<rect x="426.9" y="165" width="0.7" height="60.80" fill="#353535"/>
<rect x="431.0" y="165" width="1.1" height="60.80" fill="#262626"/>
<rect x="434.8" y="165" width="1.2" height="60.80" fill="#333"/>
<rect x="438.0" y="165" width="1.1" height="60.80" fill="#262626"/>
<rect x="441.4" y="165" width="0.8" height="60.80" fill="#333"/>
<rect x="445.5" y="165" width="1.0" height="60.80" fill="#333"/>
<rect x="448.5" y="165" width="0.9" height="60.80" fill="#383838"/>
<rect x="453.0" y="165" width="1.1" height="60.80" fill="#262626"/>
<rect x="455.5" y="165" width="1.2" height="60.80" fill="#383838"/>
<rect x="458.7" y="165" width="1.1" height="60.80" fill="#383838"/>
<rect x="462.2" y="165" width="0.9" height="60.80" fill="#353535"/>
<rect x="466.0" y="165" width="0.9" height="60.80" fill="#383838"/>
<rect x="470.2" y="165" width="0.6" height="60.80" fill="#383838"/>
<rect x="474.3" y="165" width="0.7" height="60.80" fill="#383838"/>
<rect x="377.1" y="165" width="0.8" height="60.80" fill="#4a4a4a"/>
<rect x="401.6" y="165" width="0.8" height="60.80" fill="#4a4a4a"/>
<rect x="426.1" y="165" width="0.8" height="60.80" fill="#4a4a4a"/>
<rect x="450.6" y="165" width="0.8" height="60.80" fill="#4a4a4a"/>
<rect x="478.5" y="165" width="122.00" height="60.80" fill="#2d2d2d"/>
<rect x="480.0" y="165" width="0.6" height="60.80" fill="#353535"/>
<rect x="482.9" y="165" width="0.7" height="60.80" fill="#383838"/>
<rect x="485.9" y="165" width="0.7" height="60.80" fill="#333"/>
<rect x="490.1" y="165" width="0.7" height="60.80" fill="#262626"/>
<rect x="493.3" y="165" width="0.7" height="60.80" fill="#262626"/>
<rect x="497.4" y="165" width="0.7" height="60.80" fill="#353535"/>
<rect x="501.2" y="165" width="1.3" height="60.80" fill="#383838"/>
<rect x="504.1" y="165" width="1.2" height="60.80" fill="#353535"/>
<rect x="508.1" y="165" width="1.0" height="60.80" fill="#353535"/>
<rect x="511.7" y="165" width="0.8" height="60.80" fill="#333"/>
<rect x="515.9" y="165" width="1.0" height="60.80" fill="#353535"/>
<rect x="519.4" y="165" width="1.3" height="60.80" fill="#262626"/>
<rect x="522.3" y="165" width="0.7" height="60.80" fill="#353535"/>
<rect x="525.2" y="165" width="0.9" height="60.80" fill="#262626"/>
<rect x="529.0" y="165" width="1.3" height="60.80" fill="#383838"/>
<rect x="532.3" y="165" width="1.4" height="60.80" fill="#353535"/>
<rect x="535.2" y="165" width="0.9" height="60.80" fill="#353535"/>
<rect x="537.8" y="165" width="0.6" height="60.80" fill="#383838"/>
<rect x="541.9" y="165" width="0.7" height="60.80" fill="#262626"/>
<rect x="545.3" y="165" width="1.3" height="60.80" fill="#353535"/>
<rect x="548.3" y="165" width="0.9" height="60.80" fill="#333"/>
<rect x="551.4" y="165" width="1.3" height="60.80" fill="#383838"/>
<rect x="554.6" y="165" width="1.2" height="60.80" fill="#333"/>
<rect x="557.7" y="165" width="0.9" height="60.80" fill="#383838"/>
<rect x="561.3" y="165" width="1.3" height="60.80" fill="#383838"/>
<rect x="564.5" y="165" width="1.0" height="60.80" fill="#383838"/>
<rect x="568.0" y="165" width="0.8" height="60.80" fill="#383838"/>
<rect x="572.5" y="165" width="1.1" height="60.80" fill="#353535"/>
<rect x="575.6" y="165" width="0.9" height="60.80" fill="#383838"/>
<rect x="578.4" y="165" width="1.4" height="60.80" fill="#353535"/>
<rect x="582.5" y="165" width="0.6" height="60.80" fill="#262626"/>
<rect x="586.0" y="165" width="0.6" height="60.80" fill="#383838"/>
<rect x="588.8" y="165" width="0.6" height="60.80" fill="#262626"/>
<rect x="592.5" y="165" width="1.1" height="60.80" fill="#262626"/>
<rect x="596.2" y="165" width="1.1" height="60.80" fill="#353535"/>
<rect x="599.1" y="165" width="1.1" height="60.80" fill="#262626"/>
<rect x="502.5" y="165" width="0.8" height="60.80" fill="#4a4a4a"/>
<rect x="526.9" y="165" width="0.8" height="60.80" fill="#4a4a4a"/>
<rect x="551.3" y="165" width="0.8" height="60.80" fill="#4a4a4a"/>
<rect x="575.7" y="165" width="0.8" height="60.80" fill="#4a4a4a"/>
<rect x="603" y="165" width="122.00" height="60.80" fill="#2d2d2d"/>
<rect x="604.5" y="165" width="0.7" height="60.80" fill="#333"/>
<rect x="608.7" y="165" width="0.9" height="60.80" fill="#353535"/>
<rect x="613.1" y="165" width="1.1" height="60.80" fill="#383838"/>
<rect x="617.3" y="165" width="0.7" height="60.80" fill="#383838"/>
<rect x="620.9" y="165" width="0.8" height="60.80" fill="#383838"/>
<rect x="623.8" y="165" width="0.6" height="60.80" fill="#353535"/>
<rect x="627.2" y="165" width="1.1" height="60.80" fill="#353535"/>
<rect x="630.7" y="165" width="1.0" height="60.80" fill="#353535"/>
<rect x="634.7" y="165" width="0.9" height="60.80" fill="#262626"/>
<rect x="638.1" y="165" width="0.6" height="60.80" fill="#262626"/>
<rect x="641.8" y="165" width="1.4" height="60.80" fill="#333"/>
<rect x="645.2" y="165" width="0.9" height="60.80" fill="#353535"/>
<rect x="647.9" y="165" width="1.0" height="60.80" fill="#333"/>
<rect x="651.7" y="165" width="0.9" height="60.80" fill="#353535"/>
<rect x="655.5" y="165" width="0.7" height="60.80" fill="#353535"/>
<rect x="658.5" y="165" width="0.7" height="60.80" fill="#262626"/>
<rect x="661.0" y="165" width="1.2" height="60.80" fill="#333"/>
<rect x="664.4" y="165" width="1.2" height="60.80" fill="#353535"/>
<rect x="667.6" y="165" width="1.2" height="60.80" fill="#333"/>
<rect x="671.6" y="165" width="0.7" height="60.80" fill="#262626"/>
<rect x="675.0" y="165" width="1.3" height="60.80" fill="#383838"/>
<rect x="679.3" y="165" width="0.6" height="60.80" fill="#353535"/>
<rect x="681.9" y="165" width="0.6" height="60.80" fill="#353535"/>
<rect x="685.1" y="165" width="0.8" height="60.80" fill="#333"/>
<rect x="689.6" y="165" width="1.3" height="60.80" fill="#353535"/>
<rect x="692.7" y="165" width="1.4" height="60.80" fill="#262626"/>
<rect x="696.1" y="165" width="0.7" height="60.80" fill="#353535"/>
<rect x="699.4" y="165" width="1.1" height="60.80" fill="#262626"/>
<rect x="702.8" y="165" width="1.2" height="60.80" fill="#262626"/>
<rect x="707.2" y="165" width="1.2" height="60.80" fill="#383838"/>
<rect x="710.3" y="165" width="0.6" height="60.80" fill="#383838"/>
<rect x="714.5" y="165" width="1.2" height="60.80" fill="#353535"/>
<rect x="718.7" y="165" width="1.1" height="60.80" fill="#383838"/>
<rect x="722.4" y="165" width="1.4" height="60.80" fill="#333"/>
<rect x="627.0" y="165" width="0.8" height="60.80" fill="#4a4a4a"/>
<rect x="651.4" y="165" width="0.8" height="60.80" fill="#4a4a4a"/>
<rect x="675.8" y="165" width="0.8" height="60.80" fill="#4a4a4a"/>
<rect x="700.2" y="165" width="0.8" height="60.80" fill="#4a4a4a"/>
<rect x="54.5" y="228.5" width="72.50" height="60.50" fill="#2d2d2d"/>
<rect x="56.0" y="228.5" width="1.1" height="60.50" fill="#333"/>
<rect x="60.1" y="228.5" width="0.8" height="60.50" fill="#353535"/>
<rect x="63.3" y="228.5" width="0.8" height="60.50" fill="#333"/>
<rect x="66.9" y="228.5" width="1.3" height="60.50" fill="#353535"/>
<rect x="70.0" y="228.5" width="0.7" height="60.50" fill="#333"/>
<rect x="73.1" y="228.5" width="1.3" height="60.50" fill="#262626"/>
<rect x="76.2" y="228.5" width="0.7" height="60.50" fill="#262626"/>
<rect x="80.3" y="228.5" width="0.8" height="60.50" fill="#333"/>
<rect x="83.5" y="228.5" width="0.6" height="60.50" fill="#262626"/>
<rect x="86.9" y="228.5" width="0.8" height="60.50" fill="#383838"/>
<rect x="90.6" y="228.5" width="0.6" height="60.50" fill="#262626"/>
<rect x="94.0" y="228.5" width="0.7" height="60.50" fill="#383838"/>
<rect x="98.0" y="228.5" width="0.8" height="60.50" fill="#383838"/>
<rect x="102.3" y="228.5" width="1.0" height="60.50" fill="#262626"/>
<rect x="105.8" y="228.5" width="0.8" height="60.50" fill="#333"/>
<rect x="108.7" y="228.5" width="0.7" height="60.50" fill="#383838"/>
<rect x="111.9" y="228.5" width="1.1" height="60.50" fill="#262626"/>
<rect x="116.0" y="228.5" width="1.3" height="60.50" fill="#333"/>
<rect x="118.6" y="228.5" width="1.4" height="60.50" fill="#383838"/>
<rect x="122.8" y="228.5" width="0.9" height="60.50" fill="#262626"/>
<rect x="80.5" y="228.5" width="20" height="60.50" fill="#343434"/>
<ellipse cx="91.3" cy="235.5" rx="2" ry="3.6" fill="#3e3e3e" filter="url(#bl)"/>
<rect x="129" y="228.5" width="96.50" height="60.50" fill="#2d2d2d"/>
<rect x="130.5" y="228.5" width="0.7" height="60.50" fill="#353535"/>
<rect x="133.7" y="228.5" width="1.0" height="60.50" fill="#353535"/>
<rect x="136.4" y="228.5" width="0.8" height="60.50" fill="#262626"/>
<rect x="140.1" y="228.5" width="0.8" height="60.50" fill="#383838"/>
<rect x="143.4" y="228.5" width="1.4" height="60.50" fill="#333"/>
<rect x="146.4" y="228.5" width="0.6" height="60.50" fill="#333"/>
<rect x="150.9" y="228.5" width="0.9" height="60.50" fill="#353535"/>
<rect x="153.5" y="228.5" width="1.0" height="60.50" fill="#262626"/>
<rect x="157.0" y="228.5" width="1.3" height="60.50" fill="#353535"/>
<rect x="161.2" y="228.5" width="1.1" height="60.50" fill="#353535"/>
<rect x="165.1" y="228.5" width="0.7" height="60.50" fill="#383838"/>
<rect x="168.7" y="228.5" width="1.1" height="60.50" fill="#262626"/>
<rect x="171.6" y="228.5" width="1.3" height="60.50" fill="#383838"/>
<rect x="176.0" y="228.5" width="1.4" height="60.50" fill="#333"/>
<rect x="178.9" y="228.5" width="1.4" height="60.50" fill="#383838"/>
<rect x="181.5" y="228.5" width="1.0" height="60.50" fill="#353535"/>
<rect x="185.7" y="228.5" width="0.6" height="60.50" fill="#262626"/>
<rect x="188.3" y="228.5" width="0.7" height="60.50" fill="#353535"/>
<rect x="192.7" y="228.5" width="1.1" height="60.50" fill="#383838"/>
<rect x="196.3" y="228.5" width="1.0" height="60.50" fill="#353535"/>
<rect x="199.8" y="228.5" width="0.9" height="60.50" fill="#262626"/>
<rect x="202.5" y="228.5" width="1.0" height="60.50" fill="#333"/>
<rect x="205.9" y="228.5" width="1.2" height="60.50" fill="#353535"/>
<rect x="209.4" y="228.5" width="1.3" height="60.50" fill="#353535"/>
<rect x="212.2" y="228.5" width="1.3" height="60.50" fill="#353535"/>
<rect x="216.5" y="228.5" width="1.3" height="60.50" fill="#333"/>
<rect x="220.6" y="228.5" width="1.4" height="60.50" fill="#262626"/>
<rect x="152.7" y="228.5" width="0.8" height="60.50" fill="#4a4a4a"/>
<rect x="176.8" y="228.5" width="0.8" height="60.50" fill="#4a4a4a"/>
<rect x="201.0" y="228.5" width="0.8" height="60.50" fill="#4a4a4a"/>
<rect x="228.3" y="228.5" width="122.20" height="60.50" fill="#2d2d2d"/>
<rect x="229.8" y="228.5" width="1.1" height="60.50" fill="#262626"/>
<rect x="234.2" y="228.5" width="0.9" height="60.50" fill="#333"/>
<rect x="237.7" y="228.5" width="1.1" height="60.50" fill="#333"/>
<rect x="240.9" y="228.5" width="1.2" height="60.50" fill="#333"/>
<rect x="244.8" y="228.5" width="1.0" height="60.50" fill="#333"/>
<rect x="248.2" y="228.5" width="0.7" height="60.50" fill="#262626"/>
<rect x="251.5" y="228.5" width="0.7" height="60.50" fill="#383838"/>
<rect x="255.1" y="228.5" width="0.8" height="60.50" fill="#333"/>
<rect x="258.2" y="228.5" width="0.7" height="60.50" fill="#262626"/>
<rect x="262.5" y="228.5" width="0.7" height="60.50" fill="#353535"/>
<rect x="266.2" y="228.5" width="1.2" height="60.50" fill="#333"/>
<rect x="269.8" y="228.5" width="1.3" height="60.50" fill="#353535"/>
<rect x="272.9" y="228.5" width="0.8" height="60.50" fill="#383838"/>
<rect x="276.2" y="228.5" width="0.8" height="60.50" fill="#333"/>
<rect x="280.6" y="228.5" width="0.7" height="60.50" fill="#383838"/>
<rect x="283.9" y="228.5" width="0.7" height="60.50" fill="#383838"/>
<rect x="286.7" y="228.5" width="1.1" height="60.50" fill="#262626"/>
<rect x="290.8" y="228.5" width="0.9" height="60.50" fill="#333"/>
<rect x="294.2" y="228.5" width="1.2" height="60.50" fill="#383838"/>
<rect x="297.1" y="228.5" width="0.9" height="60.50" fill="#262626"/>
<rect x="300.0" y="228.5" width="1.1" height="60.50" fill="#333"/>
<rect x="304.2" y="228.5" width="1.0" height="60.50" fill="#333"/>
<rect x="308.1" y="228.5" width="0.8" height="60.50" fill="#353535"/>
<rect x="312.3" y="228.5" width="1.3" height="60.50" fill="#262626"/>
<rect x="316.3" y="228.5" width="0.7" height="60.50" fill="#333"/>
<rect x="320.0" y="228.5" width="1.2" height="60.50" fill="#333"/>
<rect x="323.7" y="228.5" width="0.8" height="60.50" fill="#353535"/>
<rect x="327.6" y="228.5" width="1.0" height="60.50" fill="#353535"/>
<rect x="331.1" y="228.5" width="0.9" height="60.50" fill="#383838"/>
<rect x="335.3" y="228.5" width="1.3" height="60.50" fill="#262626"/>
<rect x="338.0" y="228.5" width="0.9" height="60.50" fill="#262626"/>
<rect x="340.7" y="228.5" width="1.1" height="60.50" fill="#333"/>
<rect x="343.6" y="228.5" width="1.3" height="60.50" fill="#383838"/>
<rect x="346.2" y="228.5" width="1.2" height="60.50" fill="#353535"/>
<rect x="349.4" y="228.5" width="1.3" height="60.50" fill="#353535"/>
<rect x="252.3" y="228.5" width="0.8" height="60.50" fill="#4a4a4a"/>
<rect x="276.8" y="228.5" width="0.8" height="60.50" fill="#4a4a4a"/>
<rect x="301.2" y="228.5" width="0.8" height="60.50" fill="#4a4a4a"/>
<rect x="325.7" y="228.5" width="0.8" height="60.50" fill="#4a4a4a"/>
<rect x="353" y="228.5" width="122.50" height="60.50" fill="#2d2d2d"/>
<rect x="354.5" y="228.5" width="1.2" height="60.50" fill="#383838"/>
<rect x="358.6" y="228.5" width="1.3" height="60.50" fill="#353535"/>
<rect x="361.6" y="228.5" width="0.7" height="60.50" fill="#262626"/>
<rect x="365.0" y="228.5" width="0.6" height="60.50" fill="#333"/>
<rect x="367.6" y="228.5" width="1.4" height="60.50" fill="#333"/>
<rect x="371.3" y="228.5" width="0.7" height="60.50" fill="#383838"/>
<rect x="374.3" y="228.5" width="1.3" height="60.50" fill="#353535"/>
<rect x="376.9" y="228.5" width="1.3" height="60.50" fill="#333"/>
<rect x="379.9" y="228.5" width="1.3" height="60.50" fill="#262626"/>
<rect x="383.4" y="228.5" width="1.2" height="60.50" fill="#353535"/>
<rect x="386.6" y="228.5" width="0.7" height="60.50" fill="#333"/>
<rect x="389.2" y="228.5" width="0.7" height="60.50" fill="#262626"/>
<rect x="392.9" y="228.5" width="1.2" height="60.50" fill="#353535"/>
<rect x="395.6" y="228.5" width="0.9" height="60.50" fill="#333"/>
<rect x="399.2" y="228.5" width="0.8" height="60.50" fill="#333"/>
<rect x="402.0" y="228.5" width="1.1" height="60.50" fill="#262626"/>
<rect x="404.8" y="228.5" width="1.3" height="60.50" fill="#262626"/>
<rect x="408.7" y="228.5" width="1.1" height="60.50" fill="#353535"/>
<rect x="412.0" y="228.5" width="1.4" height="60.50" fill="#383838"/>
<rect x="415.2" y="228.5" width="0.8" height="60.50" fill="#383838"/>
<rect x="419.1" y="228.5" width="1.3" height="60.50" fill="#383838"/>
<rect x="423.3" y="228.5" width="1.3" height="60.50" fill="#353535"/>
<rect x="426.4" y="228.5" width="0.7" height="60.50" fill="#383838"/>
<rect x="429.4" y="228.5" width="0.9" height="60.50" fill="#353535"/>
<rect x="432.6" y="228.5" width="1.0" height="60.50" fill="#353535"/>
<rect x="435.8" y="228.5" width="0.8" height="60.50" fill="#353535"/>
<rect x="438.7" y="228.5" width="0.9" height="60.50" fill="#262626"/>
<rect x="442.8" y="228.5" width="1.3" height="60.50" fill="#353535"/>
<rect x="446.9" y="228.5" width="1.3" height="60.50" fill="#353535"/>
<rect x="449.5" y="228.5" width="1.1" height="60.50" fill="#383838"/>
<rect x="453.8" y="228.5" width="1.1" height="60.50" fill="#353535"/>
<rect x="457.5" y="228.5" width="0.8" height="60.50" fill="#353535"/>
<rect x="460.9" y="228.5" width="1.4" height="60.50" fill="#383838"/>
<rect x="463.6" y="228.5" width="0.9" height="60.50" fill="#333"/>
<rect x="466.4" y="228.5" width="1.1" height="60.50" fill="#383838"/>
<rect x="469.1" y="228.5" width="1.1" height="60.50" fill="#333"/>
<rect x="472.4" y="228.5" width="1.0" height="60.50" fill="#383838"/>
<rect x="377.1" y="228.5" width="0.8" height="60.50" fill="#4a4a4a"/>
<rect x="401.6" y="228.5" width="0.8" height="60.50" fill="#4a4a4a"/>
<rect x="426.1" y="228.5" width="0.8" height="60.50" fill="#4a4a4a"/>
<rect x="450.6" y="228.5" width="0.8" height="60.50" fill="#4a4a4a"/>
<rect x="478.5" y="228.5" width="122.00" height="60.50" fill="#2d2d2d"/>
<rect x="480.0" y="228.5" width="1.1" height="60.50" fill="#383838"/>
<rect x="483.0" y="228.5" width="0.7" height="60.50" fill="#383838"/>
<rect x="487.2" y="228.5" width="1.1" height="60.50" fill="#333"/>
<rect x="491.0" y="228.5" width="0.8" height="60.50" fill="#383838"/>
<rect x="494.4" y="228.5" width="1.0" height="60.50" fill="#262626"/>
<rect x="497.8" y="228.5" width="0.8" height="60.50" fill="#333"/>
<rect x="501.0" y="228.5" width="0.8" height="60.50" fill="#262626"/>
<rect x="505.4" y="228.5" width="0.9" height="60.50" fill="#383838"/>
<rect x="508.3" y="228.5" width="1.4" height="60.50" fill="#383838"/>
<rect x="511.9" y="228.5" width="1.0" height="60.50" fill="#383838"/>
<rect x="516.1" y="228.5" width="0.8" height="60.50" fill="#353535"/>
<rect x="520.2" y="228.5" width="0.7" height="60.50" fill="#353535"/>
<rect x="523.9" y="228.5" width="0.9" height="60.50" fill="#353535"/>
<rect x="527.4" y="228.5" width="1.3" height="60.50" fill="#383838"/>
<rect x="531.4" y="228.5" width="0.7" height="60.50" fill="#333"/>
<rect x="535.9" y="228.5" width="1.1" height="60.50" fill="#333"/>
<rect x="539.2" y="228.5" width="1.1" height="60.50" fill="#333"/>
<rect x="543.1" y="228.5" width="1.1" height="60.50" fill="#383838"/>
<rect x="547.2" y="228.5" width="1.0" height="60.50" fill="#262626"/>
<rect x="550.2" y="228.5" width="1.1" height="60.50" fill="#333"/>
<rect x="553.6" y="228.5" width="0.7" height="60.50" fill="#262626"/>
<rect x="557.6" y="228.5" width="1.1" height="60.50" fill="#262626"/>
<rect x="560.9" y="228.5" width="1.4" height="60.50" fill="#333"/>
<rect x="564.2" y="228.5" width="1.2" height="60.50" fill="#353535"/>
<rect x="567.5" y="228.5" width="1.0" height="60.50" fill="#262626"/>
<rect x="570.6" y="228.5" width="0.9" height="60.50" fill="#383838"/>
<rect x="573.8" y="228.5" width="1.0" height="60.50" fill="#262626"/>
<rect x="577.6" y="228.5" width="0.6" height="60.50" fill="#262626"/>
<rect x="580.9" y="228.5" width="0.8" height="60.50" fill="#383838"/>
<rect x="585.0" y="228.5" width="0.9" height="60.50" fill="#262626"/>
<rect x="588.7" y="228.5" width="0.7" height="60.50" fill="#383838"/>
<rect x="591.8" y="228.5" width="1.3" height="60.50" fill="#333"/>
<rect x="596.2" y="228.5" width="0.8" height="60.50" fill="#262626"/>
<rect x="502.5" y="228.5" width="0.8" height="60.50" fill="#4a4a4a"/>
<rect x="526.9" y="228.5" width="0.8" height="60.50" fill="#4a4a4a"/>
<rect x="551.3" y="228.5" width="0.8" height="60.50" fill="#4a4a4a"/>
<rect x="575.7" y="228.5" width="0.8" height="60.50" fill="#4a4a4a"/>
<rect x="603" y="228.5" width="122.00" height="60.50" fill="#2d2d2d"/>
<rect x="604.5" y="228.5" width="1.4" height="60.50" fill="#353535"/>
<rect x="607.1" y="228.5" width="1.1" height="60.50" fill="#262626"/>
<rect x="610.2" y="228.5" width="1.0" height="60.50" fill="#383838"/>
<rect x="613.8" y="228.5" width="1.4" height="60.50" fill="#262626"/>
<rect x="617.1" y="228.5" width="0.9" height="60.50" fill="#383838"/>
<rect x="620.5" y="228.5" width="0.6" height="60.50" fill="#353535"/>
<rect x="624.0" y="228.5" width="0.7" height="60.50" fill="#383838"/>
<rect x="627.5" y="228.5" width="1.1" height="60.50" fill="#333"/>
<rect x="631.8" y="228.5" width="1.4" height="60.50" fill="#262626"/>
<rect x="635.1" y="228.5" width="1.2" height="60.50" fill="#383838"/>
<rect x="639.0" y="228.5" width="1.2" height="60.50" fill="#353535"/>
<rect x="641.8" y="228.5" width="0.9" height="60.50" fill="#353535"/>
<rect x="645.9" y="228.5" width="1.0" height="60.50" fill="#353535"/>
<rect x="649.8" y="228.5" width="0.8" height="60.50" fill="#383838"/>
<rect x="653.9" y="228.5" width="1.4" height="60.50" fill="#262626"/>
<rect x="657.7" y="228.5" width="1.0" height="60.50" fill="#333"/>
<rect x="661.2" y="228.5" width="0.8" height="60.50" fill="#333"/>
<rect x="663.8" y="228.5" width="1.1" height="60.50" fill="#353535"/>
<rect x="667.0" y="228.5" width="1.4" height="60.50" fill="#353535"/>
<rect x="670.9" y="228.5" width="0.6" height="60.50" fill="#353535"/>
<rect x="674.0" y="228.5" width="1.2" height="60.50" fill="#353535"/>
<rect x="678.3" y="228.5" width="0.9" height="60.50" fill="#353535"/>
<rect x="682.0" y="228.5" width="1.1" height="60.50" fill="#333"/>
<rect x="684.9" y="228.5" width="1.2" height="60.50" fill="#383838"/>
<rect x="689.1" y="228.5" width="1.3" height="60.50" fill="#333"/>
<rect x="692.7" y="228.5" width="0.9" height="60.50" fill="#353535"/>
<rect x="695.5" y="228.5" width="1.0" height="60.50" fill="#353535"/>
<rect x="698.1" y="228.5" width="0.7" height="60.50" fill="#262626"/>
<rect x="702.2" y="228.5" width="1.1" height="60.50" fill="#353535"/>
<rect x="706.0" y="228.5" width="1.1" height="60.50" fill="#383838"/>
<rect x="708.8" y="228.5" width="0.8" height="60.50" fill="#383838"/>
<rect x="711.7" y="228.5" width="0.8" height="60.50" fill="#353535"/>
<rect x="715.9" y="228.5" width="1.4" height="60.50" fill="#353535"/>
<rect x="719.1" y="228.5" width="1.0" height="60.50" fill="#262626"/>
<rect x="721.6" y="228.5" width="0.8" height="60.50" fill="#262626"/>
<rect x="627.0" y="228.5" width="0.8" height="60.50" fill="#4a4a4a"/>
<rect x="651.4" y="228.5" width="0.8" height="60.50" fill="#4a4a4a"/>
<rect x="675.8" y="228.5" width="0.8" height="60.50" fill="#4a4a4a"/>
<rect x="700.2" y="228.5" width="0.8" height="60.50" fill="#4a4a4a"/>
<rect x="54.5" y="291.6" width="72.50" height="60.90" fill="#2d2d2d"/>
<rect x="56.0" y="291.6" width="1.4" height="60.90" fill="#262626"/>
<rect x="58.6" y="291.6" width="0.8" height="60.90" fill="#333"/>
<rect x="61.2" y="291.6" width="1.3" height="60.90" fill="#333"/>
<rect x="64.3" y="291.6" width="1.3" height="60.90" fill="#262626"/>
<rect x="67.4" y="291.6" width="1.1" height="60.90" fill="#262626"/>
<rect x="71.9" y="291.6" width="0.7" height="60.90" fill="#262626"/>
<rect x="75.7" y="291.6" width="1.1" height="60.90" fill="#262626"/>
<rect x="78.9" y="291.6" width="1.3" height="60.90" fill="#262626"/>
<rect x="81.4" y="291.6" width="1.3" height="60.90" fill="#353535"/>
<rect x="84.3" y="291.6" width="0.9" height="60.90" fill="#333"/>
<rect x="86.8" y="291.6" width="1.3" height="60.90" fill="#262626"/>
<rect x="90.4" y="291.6" width="0.7" height="60.90" fill="#262626"/>
<rect x="93.6" y="291.6" width="1.1" height="60.90" fill="#353535"/>
<rect x="96.9" y="291.6" width="1.3" height="60.90" fill="#333"/>
<rect x="100.2" y="291.6" width="1.0" height="60.90" fill="#383838"/>
<rect x="103.2" y="291.6" width="0.6" height="60.90" fill="#353535"/>
<rect x="106.3" y="291.6" width="0.7" height="60.90" fill="#333"/>
<rect x="109.0" y="291.6" width="0.8" height="60.90" fill="#333"/>
<rect x="112.6" y="291.6" width="1.0" height="60.90" fill="#333"/>
<rect x="115.5" y="291.6" width="0.9" height="60.90" fill="#262626"/>
<rect x="118.7" y="291.6" width="1.4" height="60.90" fill="#333"/>
<rect x="121.8" y="291.6" width="1.0" height="60.90" fill="#333"/>
<rect x="124.8" y="291.6" width="1.0" height="60.90" fill="#333"/>
<rect x="80.5" y="291.6" width="20" height="60.90" fill="#343434"/>
<ellipse cx="91.3" cy="298.6" rx="2" ry="3.6" fill="#3e3e3e" filter="url(#bl)"/>
<rect x="129" y="291.6" width="96.50" height="60.90" fill="#2d2d2d"/>
<rect x="130.5" y="291.6" width="1.4" height="60.90" fill="#262626"/>
<rect x="134.2" y="291.6" width="0.9" height="60.90" fill="#333"/>
<rect x="137.5" y="291.6" width="1.0" height="60.90" fill="#333"/>
<rect x="141.7" y="291.6" width="0.7" height="60.90" fill="#353535"/>
<rect x="145.3" y="291.6" width="0.8" height="60.90" fill="#262626"/>
<rect x="147.9" y="291.6" width="1.2" height="60.90" fill="#333"/>
<rect x="151.0" y="291.6" width="0.9" height="60.90" fill="#353535"/>
<rect x="154.9" y="291.6" width="1.2" height="60.90" fill="#333"/>
<rect x="158.0" y="291.6" width="1.1" height="60.90" fill="#353535"/>
<rect x="160.7" y="291.6" width="1.3" height="60.90" fill="#383838"/>
<rect x="163.5" y="291.6" width="1.2" height="60.90" fill="#353535"/>
<rect x="166.5" y="291.6" width="0.7" height="60.90" fill="#262626"/>
<rect x="169.6" y="291.6" width="0.9" height="60.90" fill="#262626"/>
<rect x="173.6" y="291.6" width="1.3" height="60.90" fill="#333"/>
<rect x="178.0" y="291.6" width="0.7" height="60.90" fill="#383838"/>
<rect x="181.8" y="291.6" width="1.1" height="60.90" fill="#383838"/>
<rect x="186.1" y="291.6" width="0.6" height="60.90" fill="#262626"/>
<rect x="189.1" y="291.6" width="1.3" height="60.90" fill="#383838"/>
<rect x="193.4" y="291.6" width="0.7" height="60.90" fill="#383838"/>
<rect x="196.2" y="291.6" width="1.3" height="60.90" fill="#333"/>
<rect x="200.1" y="291.6" width="0.6" height="60.90" fill="#353535"/>
<rect x="203.8" y="291.6" width="0.9" height="60.90" fill="#383838"/>
<rect x="206.6" y="291.6" width="1.2" height="60.90" fill="#383838"/>
<rect x="210.4" y="291.6" width="1.4" height="60.90" fill="#333"/>
<rect x="214.0" y="291.6" width="1.2" height="60.90" fill="#383838"/>
<rect x="218.4" y="291.6" width="1.1" height="60.90" fill="#383838"/>
<rect x="222.8" y="291.6" width="0.7" height="60.90" fill="#383838"/>
<rect x="152.7" y="291.6" width="0.8" height="60.90" fill="#4a4a4a"/>
<rect x="176.8" y="291.6" width="0.8" height="60.90" fill="#4a4a4a"/>
<rect x="201.0" y="291.6" width="0.8" height="60.90" fill="#4a4a4a"/>
<rect x="228.3" y="291.6" width="122.20" height="60.90" fill="#2d2d2d"/>
<rect x="229.8" y="291.6" width="1.3" height="60.90" fill="#353535"/>
<rect x="234.2" y="291.6" width="1.1" height="60.90" fill="#353535"/>
<rect x="238.3" y="291.6" width="0.8" height="60.90" fill="#383838"/>
<rect x="242.3" y="291.6" width="0.7" height="60.90" fill="#262626"/>
<rect x="246.8" y="291.6" width="1.1" height="60.90" fill="#333"/>
<rect x="249.9" y="291.6" width="0.7" height="60.90" fill="#262626"/>
<rect x="253.3" y="291.6" width="0.9" height="60.90" fill="#262626"/>
<rect x="256.8" y="291.6" width="1.1" height="60.90" fill="#333"/>
<rect x="260.1" y="291.6" width="1.0" height="60.90" fill="#333"/>
<rect x="263.6" y="291.6" width="0.8" height="60.90" fill="#383838"/>
<rect x="266.5" y="291.6" width="0.7" height="60.90" fill="#333"/>
<rect x="270.1" y="291.6" width="0.8" height="60.90" fill="#353535"/>
<rect x="272.9" y="291.6" width="0.9" height="60.90" fill="#353535"/>
<rect x="275.8" y="291.6" width="0.8" height="60.90" fill="#333"/>
<rect x="279.7" y="291.6" width="1.0" height="60.90" fill="#262626"/>
<rect x="282.7" y="291.6" width="0.8" height="60.90" fill="#262626"/>
<rect x="285.4" y="291.6" width="1.1" height="60.90" fill="#383838"/>
<rect x="288.2" y="291.6" width="1.2" height="60.90" fill="#333"/>
<rect x="291.4" y="291.6" width="1.3" height="60.90" fill="#262626"/>
<rect x="295.4" y="291.6" width="0.7" height="60.90" fill="#333"/>
<rect x="299.1" y="291.6" width="1.0" height="60.90" fill="#262626"/>
<rect x="303.2" y="291.6" width="0.7" height="60.90" fill="#383838"/>
<rect x="305.8" y="291.6" width="1.0" height="60.90" fill="#353535"/>
<rect x="308.4" y="291.6" width="0.8" height="60.90" fill="#333"/>
<rect x="311.1" y="291.6" width="0.8" height="60.90" fill="#353535"/>
<rect x="313.9" y="291.6" width="1.0" height="60.90" fill="#383838"/>
<rect x="317.0" y="291.6" width="1.0" height="60.90" fill="#353535"/>
<rect x="319.5" y="291.6" width="1.4" height="60.90" fill="#262626"/>
<rect x="322.2" y="291.6" width="1.2" height="60.90" fill="#383838"/>
<rect x="324.9" y="291.6" width="1.0" height="60.90" fill="#262626"/>
<rect x="328.4" y="291.6" width="1.2" height="60.90" fill="#383838"/>
<rect x="330.9" y="291.6" width="1.3" height="60.90" fill="#383838"/>
<rect x="334.7" y="291.6" width="1.3" height="60.90" fill="#383838"/>
<rect x="338.5" y="291.6" width="0.7" height="60.90" fill="#353535"/>
<rect x="341.0" y="291.6" width="0.9" height="60.90" fill="#333"/>
<rect x="344.1" y="291.6" width="0.7" height="60.90" fill="#333"/>
<rect x="346.8" y="291.6" width="1.2" height="60.90" fill="#383838"/>
<rect x="252.3" y="291.6" width="0.8" height="60.90" fill="#4a4a4a"/>
<rect x="276.8" y="291.6" width="0.8" height="60.90" fill="#4a4a4a"/>
<rect x="301.2" y="291.6" width="0.8" height="60.90" fill="#4a4a4a"/>
<rect x="325.7" y="291.6" width="0.8" height="60.90" fill="#4a4a4a"/>
<rect x="353" y="291.6" width="122.50" height="60.90" fill="#2d2d2d"/>
<rect x="354.5" y="291.6" width="0.9" height="60.90" fill="#333"/>
<rect x="358.3" y="291.6" width="0.9" height="60.90" fill="#333"/>
<rect x="361.5" y="291.6" width="1.0" height="60.90" fill="#383838"/>
<rect x="365.7" y="291.6" width="0.8" height="60.90" fill="#353535"/>
<rect x="368.3" y="291.6" width="1.1" height="60.90" fill="#262626"/>
<rect x="372.6" y="291.6" width="1.4" height="60.90" fill="#262626"/>
<rect x="375.9" y="291.6" width="1.2" height="60.90" fill="#383838"/>
<rect x="379.7" y="291.6" width="1.1" height="60.90" fill="#333"/>
<rect x="383.5" y="291.6" width="0.7" height="60.90" fill="#262626"/>
<rect x="387.3" y="291.6" width="0.9" height="60.90" fill="#353535"/>
<rect x="391.5" y="291.6" width="1.0" height="60.90" fill="#333"/>
<rect x="395.4" y="291.6" width="0.6" height="60.90" fill="#262626"/>
<rect x="398.2" y="291.6" width="0.7" height="60.90" fill="#353535"/>
<rect x="401.8" y="291.6" width="0.9" height="60.90" fill="#383838"/>
<rect x="404.4" y="291.6" width="0.6" height="60.90" fill="#333"/>
<rect x="408.7" y="291.6" width="0.7" height="60.90" fill="#383838"/>
<rect x="411.2" y="291.6" width="1.2" height="60.90" fill="#383838"/>
<rect x="414.8" y="291.6" width="1.0" height="60.90" fill="#383838"/>
<rect x="418.4" y="291.6" width="0.9" height="60.90" fill="#333"/>
<rect x="422.8" y="291.6" width="1.4" height="60.90" fill="#353535"/>
<rect x="426.9" y="291.6" width="0.6" height="60.90" fill="#383838"/>
<rect x="430.7" y="291.6" width="0.8" height="60.90" fill="#262626"/>
<rect x="435.1" y="291.6" width="1.0" height="60.90" fill="#333"/>
<rect x="438.2" y="291.6" width="0.9" height="60.90" fill="#353535"/>
<rect x="442.4" y="291.6" width="0.8" height="60.90" fill="#262626"/>
<rect x="446.2" y="291.6" width="0.7" height="60.90" fill="#383838"/>
<rect x="449.9" y="291.6" width="1.4" height="60.90" fill="#383838"/>
<rect x="453.4" y="291.6" width="1.1" height="60.90" fill="#262626"/>
<rect x="456.4" y="291.6" width="0.8" height="60.90" fill="#333"/>
<rect x="460.0" y="291.6" width="0.7" height="60.90" fill="#383838"/>
<rect x="463.8" y="291.6" width="0.8" height="60.90" fill="#383838"/>
<rect x="467.8" y="291.6" width="0.8" height="60.90" fill="#262626"/>
<rect x="470.7" y="291.6" width="1.1" height="60.90" fill="#353535"/>
<rect x="377.1" y="291.6" width="0.8" height="60.90" fill="#4a4a4a"/>
<rect x="401.6" y="291.6" width="0.8" height="60.90" fill="#4a4a4a"/>
<rect x="426.1" y="291.6" width="0.8" height="60.90" fill="#4a4a4a"/>
<rect x="450.6" y="291.6" width="0.8" height="60.90" fill="#4a4a4a"/>
<rect x="478.5" y="291.6" width="122.00" height="60.90" fill="#2d2d2d"/>
<rect x="480.0" y="291.6" width="1.3" height="60.90" fill="#353535"/>
<rect x="484.2" y="291.6" width="1.1" height="60.90" fill="#262626"/>
<rect x="487.0" y="291.6" width="1.0" height="60.90" fill="#353535"/>
<rect x="490.7" y="291.6" width="1.4" height="60.90" fill="#353535"/>
<rect x="494.1" y="291.6" width="1.1" height="60.90" fill="#333"/>
<rect x="498.6" y="291.6" width="0.8" height="60.90" fill="#262626"/>
<rect x="502.6" y="291.6" width="0.7" height="60.90" fill="#353535"/>
<rect x="505.9" y="291.6" width="0.6" height="60.90" fill="#353535"/>
<rect x="508.5" y="291.6" width="1.1" height="60.90" fill="#333"/>
<rect x="511.9" y="291.6" width="0.7" height="60.90" fill="#333"/>
<rect x="515.2" y="291.6" width="1.3" height="60.90" fill="#333"/>
<rect x="518.9" y="291.6" width="1.3" height="60.90" fill="#383838"/>
<rect x="521.7" y="291.6" width="1.2" height="60.90" fill="#383838"/>
<rect x="525.8" y="291.6" width="1.2" height="60.90" fill="#353535"/>
<rect x="530.0" y="291.6" width="0.7" height="60.90" fill="#383838"/>
<rect x="533.5" y="291.6" width="1.0" height="60.90" fill="#383838"/>
<rect x="537.4" y="291.6" width="0.6" height="60.90" fill="#383838"/>
<rect x="540.1" y="291.6" width="1.0" height="60.90" fill="#353535"/>
<rect x="542.7" y="291.6" width="1.3" height="60.90" fill="#333"/>
<rect x="545.7" y="291.6" width="0.8" height="60.90" fill="#262626"/>
<rect x="548.3" y="291.6" width="1.4" height="60.90" fill="#262626"/>
<rect x="551.0" y="291.6" width="0.6" height="60.90" fill="#353535"/>
<rect x="553.6" y="291.6" width="0.8" height="60.90" fill="#333"/>
<rect x="557.2" y="291.6" width="0.8" height="60.90" fill="#262626"/>
<rect x="561.4" y="291.6" width="1.1" height="60.90" fill="#383838"/>
<rect x="565.0" y="291.6" width="1.2" height="60.90" fill="#383838"/>
<rect x="569.4" y="291.6" width="0.6" height="60.90" fill="#383838"/>
<rect x="573.9" y="291.6" width="1.0" height="60.90" fill="#262626"/>
<rect x="578.1" y="291.6" width="1.2" height="60.90" fill="#353535"/>
<rect x="580.8" y="291.6" width="1.1" height="60.90" fill="#262626"/>
<rect x="585.0" y="291.6" width="1.4" height="60.90" fill="#262626"/>
<rect x="588.2" y="291.6" width="1.3" height="60.90" fill="#353535"/>
<rect x="591.5" y="291.6" width="1.0" height="60.90" fill="#383838"/>
<rect x="595.7" y="291.6" width="1.1" height="60.90" fill="#353535"/>
<rect x="598.7" y="291.6" width="1.3" height="60.90" fill="#262626"/>
<rect x="502.5" y="291.6" width="0.8" height="60.90" fill="#4a4a4a"/>
<rect x="526.9" y="291.6" width="0.8" height="60.90" fill="#4a4a4a"/>
<rect x="551.3" y="291.6" width="0.8" height="60.90" fill="#4a4a4a"/>
<rect x="575.7" y="291.6" width="0.8" height="60.90" fill="#4a4a4a"/>
<rect x="603" y="291.6" width="122.00" height="60.90" fill="#2d2d2d"/>
<rect x="604.5" y="291.6" width="1.0" height="60.90" fill="#383838"/>
<rect x="607.6" y="291.6" width="0.9" height="60.90" fill="#262626"/>
<rect x="610.8" y="291.6" width="0.6" height="60.90" fill="#262626"/>
<rect x="615.0" y="291.6" width="1.1" height="60.90" fill="#333"/>
<rect x="619.0" y="291.6" width="0.7" height="60.90" fill="#262626"/>
<rect x="622.0" y="291.6" width="1.0" height="60.90" fill="#383838"/>
<rect x="625.3" y="291.6" width="1.1" height="60.90" fill="#333"/>
<rect x="629.7" y="291.6" width="0.6" height="60.90" fill="#353535"/>
<rect x="634.0" y="291.6" width="1.2" height="60.90" fill="#353535"/>
<rect x="637.2" y="291.6" width="0.8" height="60.90" fill="#333"/>
<rect x="641.5" y="291.6" width="1.4" height="60.90" fill="#353535"/>
<rect x="644.6" y="291.6" width="1.2" height="60.90" fill="#383838"/>
<rect x="648.1" y="291.6" width="1.1" height="60.90" fill="#383838"/>
<rect x="652.3" y="291.6" width="1.2" height="60.90" fill="#383838"/>
<rect x="655.0" y="291.6" width="0.9" height="60.90" fill="#383838"/>
<rect x="659.2" y="291.6" width="1.2" height="60.90" fill="#383838"/>
<rect x="663.5" y="291.6" width="1.2" height="60.90" fill="#383838"/>
<rect x="666.3" y="291.6" width="0.8" height="60.90" fill="#262626"/>
<rect x="669.6" y="291.6" width="0.9" height="60.90" fill="#383838"/>
<rect x="674.0" y="291.6" width="1.1" height="60.90" fill="#333"/>
<rect x="677.1" y="291.6" width="0.8" height="60.90" fill="#383838"/>
<rect x="679.7" y="291.6" width="0.8" height="60.90" fill="#353535"/>
<rect x="683.4" y="291.6" width="0.8" height="60.90" fill="#383838"/>
<rect x="687.9" y="291.6" width="0.9" height="60.90" fill="#262626"/>
<rect x="691.8" y="291.6" width="1.3" height="60.90" fill="#262626"/>
<rect x="695.0" y="291.6" width="0.7" height="60.90" fill="#383838"/>
<rect x="698.6" y="291.6" width="1.2" height="60.90" fill="#383838"/>
<rect x="701.5" y="291.6" width="0.6" height="60.90" fill="#353535"/>
<rect x="704.8" y="291.6" width="0.8" height="60.90" fill="#383838"/>
<rect x="709.1" y="291.6" width="1.1" height="60.90" fill="#333"/>
<rect x="712.0" y="291.6" width="0.6" height="60.90" fill="#333"/>
<rect x="715.7" y="291.6" width="0.7" height="60.90" fill="#383838"/>
<rect x="719.7" y="291.6" width="0.6" height="60.90" fill="#383838"/>
<rect x="723.2" y="291.6" width="1.3" height="60.90" fill="#383838"/>
<ellipse cx="637.8" cy="297.6" rx="1.6" ry="3.2" fill="#aaa" filter="url(#bl)"/>
<rect x="627.0" y="291.6" width="0.8" height="60.90" fill="#4a4a4a"/>
<rect x="651.4" y="291.6" width="0.8" height="60.90" fill="#4a4a4a"/>
<rect x="675.8" y="291.6" width="0.8" height="60.90" fill="#4a4a4a"/>
<rect x="700.2" y="291.6" width="0.8" height="60.90" fill="#4a4a4a"/>
<g filter="url(#tex1)">
<line x1="67.2" y1="91.5" x2="67.7" y2="99.5" stroke="#bcbcbc" stroke-width="1.6"/>
<path d="M61.8,88.4 Q58.9,93.5 57.2,98.1" stroke="#c8c8c8" stroke-width="1.9" stroke-linecap="round" fill="none"/>
<path d="M72.6,88.4 Q75.5,93.5 77.2,98.1" stroke="#c8c8c8" stroke-width="1.9" stroke-linecap="round" fill="none"/>
<path d="M70.10,42.50 C70.92,42.50 71.64,43.60 72.22,44.54 C72.80,45.48 73.07,46.66 73.60,48.11 C74.13,49.55 74.96,50.91 75.42,53.21 C75.87,55.51 76.05,58.99 76.31,61.88 C76.58,64.77 76.89,67.66 77.00,70.55 C77.11,73.44 77.03,76.58 77.00,79.22 C76.97,81.86 77.00,84.41 76.80,86.36 C76.61,88.31 76.61,89.76 75.82,90.95 C75.04,92.14 73.54,93.03 72.10,93.50 C70.66,93.97 68.83,93.75 67.20,93.75 C65.57,93.75 63.74,93.97 62.30,93.50 C60.86,93.03 59.36,92.14 58.58,90.95 C57.79,89.76 57.79,88.31 57.60,86.36 C57.40,84.41 57.43,81.86 57.40,79.22 C57.37,76.58 57.29,73.44 57.40,70.55 C57.51,67.66 57.44,64.77 58.09,61.88 C58.74,58.99 60.19,55.51 61.30,53.21 C62.42,50.91 63.78,49.55 64.78,48.11 C65.78,46.66 66.43,45.48 67.32,44.54 C68.21,43.60 69.28,42.50 70.10,42.50 Z" fill="url(#mg1)" filter="url(#bl)"/>
<line x1="112.9" y1="91.5" x2="113.4" y2="99.5" stroke="#bcbcbc" stroke-width="1.6"/>
<path d="M107.5,88.4 Q104.6,93.5 102.9,98.1" stroke="#c8c8c8" stroke-width="1.9" stroke-linecap="round" fill="none"/>
<path d="M118.3,88.4 Q121.2,93.5 122.9,98.1" stroke="#c8c8c8" stroke-width="1.9" stroke-linecap="round" fill="none"/>
<path d="M113.70,42.50 C114.52,42.50 115.37,43.60 116.06,44.54 C116.75,45.48 117.16,46.66 117.86,48.11 C118.56,49.55 119.58,50.91 120.28,53.21 C120.97,55.51 121.61,58.99 122.01,61.88 C122.42,64.77 122.59,67.66 122.70,70.55 C122.81,73.44 122.73,76.58 122.70,79.22 C122.67,81.86 122.70,84.41 122.50,86.36 C122.31,88.31 122.31,89.76 121.52,90.95 C120.74,92.14 119.24,93.03 117.80,93.50 C116.36,93.97 114.53,93.75 112.90,93.75 C111.27,93.75 109.44,93.97 108.00,93.50 C106.56,93.03 105.06,92.14 104.28,90.95 C103.49,89.76 103.49,88.31 103.30,86.36 C103.10,84.41 103.13,81.86 103.10,79.22 C103.07,76.58 102.99,73.44 103.10,70.55 C103.21,67.66 103.28,64.77 103.79,61.88 C104.30,58.99 105.29,55.51 106.16,53.21 C107.04,50.91 108.21,49.55 109.04,48.11 C109.87,46.66 110.38,45.48 111.16,44.54 C111.94,43.60 112.88,42.50 113.70,42.50 Z" fill="url(#mg1)" filter="url(#bl)"/>
<line x1="68.0" y1="156.0" x2="68.5" y2="162.8" stroke="#bcbcbc" stroke-width="1.6"/>
<path d="M62.6,152.9 Q59.7,158.0 58.0,162.6" stroke="#c8c8c8" stroke-width="1.9" stroke-linecap="round" fill="none"/>
<path d="M73.4,152.9 Q76.3,158.0 78.0,162.6" stroke="#c8c8c8" stroke-width="1.9" stroke-linecap="round" fill="none"/>
<path d="M68.00,107.00 C68.82,107.00 69.72,108.11 70.45,109.04 C71.19,109.98 71.64,111.17 72.41,112.61 C73.18,114.05 74.27,115.41 75.06,117.71 C75.84,120.00 76.66,123.49 77.11,126.38 C77.57,129.27 77.69,132.16 77.80,135.05 C77.91,137.94 77.83,141.09 77.80,143.72 C77.77,146.35 77.80,148.91 77.60,150.86 C77.41,152.81 77.41,154.26 76.62,155.45 C75.84,156.64 74.34,157.53 72.90,158.00 C71.46,158.47 69.63,158.25 68.00,158.25 C66.37,158.25 64.54,158.47 63.10,158.00 C61.66,157.53 60.16,156.64 59.38,155.45 C58.59,154.26 58.59,152.81 58.40,150.86 C58.20,148.91 58.23,146.35 58.20,143.72 C58.17,141.09 58.09,137.94 58.20,135.05 C58.31,132.16 58.43,129.27 58.89,126.38 C59.34,123.49 60.16,120.00 60.94,117.71 C61.73,115.41 62.82,114.05 63.59,112.61 C64.36,111.17 64.81,109.98 65.55,109.04 C66.28,108.11 67.18,107.00 68.00,107.00 Z" fill="url(#mg1)" filter="url(#bl)"/>
<line x1="112.5" y1="156.0" x2="113.0" y2="162.8" stroke="#bcbcbc" stroke-width="1.6"/>
<path d="M107.1,152.9 Q104.2,158.0 102.5,162.6" stroke="#c8c8c8" stroke-width="1.9" stroke-linecap="round" fill="none"/>
<path d="M117.9,152.9 Q120.8,158.0 122.5,162.6" stroke="#c8c8c8" stroke-width="1.9" stroke-linecap="round" fill="none"/>
<path d="M114.90,107.00 C115.72,107.00 116.47,108.11 117.08,109.04 C117.69,109.98 117.98,111.17 118.56,112.61 C119.13,114.05 120.01,115.41 120.52,117.71 C121.03,120.00 121.32,123.49 121.61,126.38 C121.91,129.27 122.19,132.16 122.30,135.05 C122.41,137.94 122.33,141.09 122.30,143.72 C122.27,146.35 122.30,148.91 122.10,150.86 C121.91,152.81 121.91,154.26 121.12,155.45 C120.34,156.64 118.84,157.53 117.40,158.00 C115.96,158.47 114.13,158.25 112.50,158.25 C110.87,158.25 109.04,158.47 107.60,158.00 C106.16,157.53 104.66,156.64 103.88,155.45 C103.09,154.26 103.09,152.81 102.90,150.86 C102.70,148.91 102.73,146.35 102.70,143.72 C102.67,141.09 102.59,137.94 102.70,135.05 C102.81,132.16 102.77,129.27 103.39,126.38 C104.00,123.49 105.35,120.00 106.40,117.71 C107.46,115.41 108.77,114.05 109.74,112.61 C110.70,111.17 111.32,109.98 112.18,109.04 C113.04,108.11 114.08,107.00 114.90,107.00 Z" fill="url(#mg1)" filter="url(#bl)"/>
<line x1="66.9" y1="218.8" x2="67.4" y2="225.8" stroke="#bcbcbc" stroke-width="1.6"/>
<path d="M61.5,215.7 Q58.6,220.8 56.9,225.4" stroke="#c8c8c8" stroke-width="1.9" stroke-linecap="round" fill="none"/>
<path d="M72.3,215.7 Q75.2,220.8 76.9,225.4" stroke="#c8c8c8" stroke-width="1.9" stroke-linecap="round" fill="none"/>
<path d="M66.90,169.80 C67.72,169.80 68.62,170.91 69.35,171.84 C70.09,172.78 70.54,173.97 71.31,175.41 C72.08,176.86 73.17,178.22 73.96,180.51 C74.74,182.81 75.56,186.29 76.01,189.18 C76.47,192.07 76.59,194.96 76.70,197.85 C76.81,200.74 76.73,203.89 76.70,206.52 C76.67,209.16 76.70,211.71 76.50,213.66 C76.31,215.62 76.31,217.06 75.52,218.25 C74.74,219.44 73.24,220.33 71.80,220.80 C70.36,221.27 68.53,221.06 66.90,221.06 C65.27,221.06 63.44,221.27 62.00,220.80 C60.56,220.33 59.06,219.44 58.28,218.25 C57.49,217.06 57.49,215.62 57.30,213.66 C57.10,211.71 57.13,209.16 57.10,206.52 C57.07,203.89 56.99,200.74 57.10,197.85 C57.21,194.96 57.33,192.07 57.79,189.18 C58.24,186.29 59.06,182.81 59.84,180.51 C60.63,178.22 61.72,176.86 62.49,175.41 C63.26,173.97 63.72,172.78 64.45,171.84 C65.19,170.91 66.08,169.80 66.90,169.80 Z" fill="url(#mg1)" filter="url(#bl)"/>
<line x1="112.5" y1="218.8" x2="113.0" y2="225.8" stroke="#bcbcbc" stroke-width="1.6"/>
<path d="M107.1,215.7 Q104.2,220.8 102.5,225.4" stroke="#c8c8c8" stroke-width="1.9" stroke-linecap="round" fill="none"/>
<path d="M117.9,215.7 Q120.8,220.8 122.5,225.4" stroke="#c8c8c8" stroke-width="1.9" stroke-linecap="round" fill="none"/>
<path d="M112.50,169.80 C113.32,169.80 114.22,170.91 114.95,171.84 C115.69,172.78 116.14,173.97 116.91,175.41 C117.68,176.86 118.77,178.22 119.56,180.51 C120.34,182.81 121.16,186.29 121.61,189.18 C122.07,192.07 122.19,194.96 122.30,197.85 C122.41,200.74 122.33,203.89 122.30,206.52 C122.27,209.16 122.30,211.71 122.10,213.66 C121.91,215.62 121.91,217.06 121.12,218.25 C120.34,219.44 118.84,220.33 117.40,220.80 C115.96,221.27 114.13,221.06 112.50,221.06 C110.87,221.06 109.04,221.27 107.60,220.80 C106.16,220.33 104.66,219.44 103.88,218.25 C103.09,217.06 103.09,215.62 102.90,213.66 C102.70,211.71 102.73,209.16 102.70,206.52 C102.67,203.89 102.59,200.74 102.70,197.85 C102.81,194.96 102.93,192.07 103.39,189.18 C103.84,186.29 104.66,182.81 105.44,180.51 C106.23,178.22 107.32,176.86 108.09,175.41 C108.86,173.97 109.31,172.78 110.05,171.84 C110.78,170.91 111.68,169.80 112.50,169.80 Z" fill="url(#mg1)" filter="url(#bl)"/>
<line x1="66.9" y1="284.5" x2="67.4" y2="289.0" stroke="#bcbcbc" stroke-width="1.6"/>
<path d="M61.5,281.4 Q58.6,286.5 56.9,291.1" stroke="#c8c8c8" stroke-width="1.9" stroke-linecap="round" fill="none"/>
<path d="M72.3,281.4 Q75.2,286.5 76.9,291.1" stroke="#c8c8c8" stroke-width="1.9" stroke-linecap="round" fill="none"/>
<path d="M66.90,235.50 C67.72,235.50 68.62,236.60 69.35,237.54 C70.09,238.47 70.54,239.67 71.31,241.11 C72.08,242.56 73.17,243.92 73.96,246.21 C74.74,248.50 75.56,251.99 76.01,254.88 C76.47,257.77 76.59,260.66 76.70,263.55 C76.81,266.44 76.73,269.59 76.70,272.22 C76.67,274.86 76.70,277.41 76.50,279.36 C76.31,281.31 76.31,282.76 75.52,283.95 C74.74,285.14 73.24,286.03 71.80,286.50 C70.36,286.97 68.53,286.75 66.90,286.75 C65.27,286.75 63.44,286.97 62.00,286.50 C60.56,286.03 59.06,285.14 58.28,283.95 C57.49,282.76 57.49,281.31 57.30,279.36 C57.10,277.41 57.13,274.86 57.10,272.22 C57.07,269.59 56.99,266.44 57.10,263.55 C57.21,260.66 57.33,257.77 57.79,254.88 C58.24,251.99 59.06,248.50 59.84,246.21 C60.63,243.92 61.72,242.56 62.49,241.11 C63.26,239.67 63.72,238.47 64.45,237.54 C65.19,236.60 66.08,235.50 66.90,235.50 Z" fill="url(#mg1)" filter="url(#bl)"/>
<line x1="113.1" y1="284.5" x2="113.6" y2="289.0" stroke="#bcbcbc" stroke-width="1.6"/>
<path d="M107.7,281.4 Q104.8,286.5 103.1,291.1" stroke="#c8c8c8" stroke-width="1.9" stroke-linecap="round" fill="none"/>
<path d="M118.5,281.4 Q121.4,286.5 123.1,291.1" stroke="#c8c8c8" stroke-width="1.9" stroke-linecap="round" fill="none"/>
<path d="M112.50,235.50 C113.32,235.50 114.25,236.60 115.02,237.54 C115.78,238.47 116.28,239.67 117.10,241.11 C117.91,242.56 119.06,243.92 119.92,246.21 C120.77,248.50 121.72,251.99 122.21,254.88 C122.71,257.77 122.79,260.66 122.90,263.55 C123.01,266.44 122.93,269.59 122.90,272.22 C122.87,274.86 122.90,277.41 122.70,279.36 C122.51,281.31 122.51,282.76 121.72,283.95 C120.94,285.14 119.44,286.03 118.00,286.50 C116.56,286.97 114.73,286.75 113.10,286.75 C111.47,286.75 109.64,286.97 108.20,286.50 C106.76,286.03 105.26,285.14 104.48,283.95 C103.69,282.76 103.69,281.31 103.50,279.36 C103.30,277.41 103.33,274.86 103.30,272.22 C103.27,269.59 103.19,266.44 103.30,263.55 C103.41,260.66 103.57,257.77 103.99,254.88 C104.40,251.99 105.09,248.50 105.80,246.21 C106.52,243.92 107.56,242.56 108.28,241.11 C109.00,239.67 109.41,238.47 110.12,237.54 C110.82,236.60 111.68,235.50 112.50,235.50 Z" fill="url(#mg1)" filter="url(#bl)"/>
<line x1="68.0" y1="291.6" x2="68.0" y2="297.6" stroke="#aaa" stroke-width="1"/>
<line x1="67.5" y1="344.6" x2="68.0" y2="352.5" stroke="#bcbcbc" stroke-width="1.6"/>
<path d="M61.8,341.5 Q58.7,346.6 56.9,351.2" stroke="#c8c8c8" stroke-width="1.9" stroke-linecap="round" fill="none"/>
<path d="M73.2,341.5 Q76.3,346.6 78.1,351.2" stroke="#c8c8c8" stroke-width="1.9" stroke-linecap="round" fill="none"/>
<path d="M68.00,295.60 C68.87,295.60 69.79,296.71 70.54,297.64 C71.30,298.58 71.75,299.77 72.52,301.21 C73.30,302.66 74.41,304.01 75.19,306.31 C75.96,308.61 76.72,312.09 77.17,314.98 C77.62,317.87 77.78,320.76 77.90,323.65 C78.02,326.54 77.93,329.69 77.90,332.32 C77.87,334.96 77.90,337.51 77.69,339.46 C77.48,341.42 77.48,342.86 76.65,344.05 C75.82,345.24 74.23,346.13 72.70,346.60 C71.17,347.07 69.23,346.86 67.50,346.86 C65.77,346.86 63.83,347.07 62.30,346.60 C60.77,346.13 59.18,345.24 58.35,344.05 C57.52,342.86 57.52,341.42 57.31,339.46 C57.10,337.51 57.13,334.96 57.10,332.32 C57.07,329.69 56.98,326.54 57.10,323.65 C57.22,320.76 57.31,317.87 57.83,314.98 C58.35,312.09 59.32,308.61 60.21,306.31 C61.10,304.01 62.31,302.66 63.16,301.21 C64.02,299.77 64.54,298.58 65.34,297.64 C66.15,296.71 67.13,295.60 68.00,295.60 Z" fill="url(#mg1)" filter="url(#bl)"/>
<line x1="116.0" y1="291.6" x2="116.0" y2="297.6" stroke="#aaa" stroke-width="1"/>
<line x1="113.0" y1="344.6" x2="113.5" y2="352.5" stroke="#bcbcbc" stroke-width="1.6"/>
<path d="M107.3,341.5 Q104.2,346.6 102.4,351.2" stroke="#c8c8c8" stroke-width="1.9" stroke-linecap="round" fill="none"/>
<path d="M118.7,341.5 Q121.8,346.6 123.6,351.2" stroke="#c8c8c8" stroke-width="1.9" stroke-linecap="round" fill="none"/>
<path d="M116.00,295.60 C116.87,295.60 117.63,296.71 118.26,297.64 C118.88,298.58 119.17,299.77 119.74,301.21 C120.31,302.66 121.20,304.01 121.69,306.31 C122.18,308.61 122.39,312.09 122.67,314.98 C122.96,317.87 123.28,320.76 123.40,323.65 C123.52,326.54 123.43,329.69 123.40,332.32 C123.37,334.96 123.40,337.51 123.19,339.46 C122.98,341.42 122.98,342.86 122.15,344.05 C121.32,345.24 119.73,346.13 118.20,346.60 C116.67,347.07 114.73,346.86 113.00,346.86 C111.27,346.86 109.33,347.07 107.80,346.60 C106.27,346.13 104.68,345.24 103.85,344.05 C103.02,342.86 103.02,341.42 102.81,339.46 C102.60,337.51 102.63,334.96 102.60,332.32 C102.57,329.69 102.48,326.54 102.60,323.65 C102.72,320.76 102.64,317.87 103.33,314.98 C104.01,312.09 105.54,308.61 106.71,306.31 C107.89,304.01 109.32,302.66 110.38,301.21 C111.43,299.77 112.12,298.58 113.06,297.64 C113.99,296.71 115.13,295.60 116.00,295.60 Z" fill="url(#mg1)" filter="url(#bl)"/>
</g>
<g filter="url(#tex)">
<line x1="141.5" y1="86.5" x2="142.0" y2="99.5" stroke="#bcbcbc" stroke-width="1.6"/>
<path d="M136.0,83.9 Q133.0,88.5 131.3,92.6" stroke="#c8c8c8" stroke-width="1.9" stroke-linecap="round" fill="none"/>
<path d="M147.0,83.9 Q150.0,88.5 151.7,92.6" stroke="#c8c8c8" stroke-width="1.9" stroke-linecap="round" fill="none"/>
<path d="M141.50,42.50 C142.33,42.50 143.25,43.42 144.00,44.34 C144.75,45.26 145.28,46.49 146.00,48.02 C146.72,49.55 147.62,51.70 148.30,53.54 C148.98,55.38 149.65,57.07 150.10,59.06 C150.55,61.05 150.77,63.05 151.00,65.50 C151.23,67.95 151.42,71.17 151.50,73.78 C151.58,76.39 151.67,79.07 151.50,81.14 C151.33,83.21 151.33,84.97 150.50,86.20 C149.67,87.43 148.00,88.08 146.50,88.50 C145.00,88.92 143.17,88.73 141.50,88.73 C139.83,88.73 138.00,88.92 136.50,88.50 C135.00,88.08 133.33,87.43 132.50,86.20 C131.67,84.97 131.67,83.21 131.50,81.14 C131.33,79.07 131.42,76.39 131.50,73.78 C131.58,71.17 131.77,67.95 132.00,65.50 C132.23,63.05 132.45,61.05 132.90,59.06 C133.35,57.07 134.02,55.38 134.70,53.54 C135.38,51.70 136.28,49.55 137.00,48.02 C137.72,46.49 138.25,45.26 139.00,44.34 C139.75,43.42 140.67,42.50 141.50,42.50 Z" fill="url(#mg)" filter="url(#bl)"/>
<line x1="166.4" y1="86.5" x2="166.9" y2="99.5" stroke="#bcbcbc" stroke-width="1.6"/>
<path d="M160.9,83.9 Q157.9,88.5 156.2,92.6" stroke="#c8c8c8" stroke-width="1.9" stroke-linecap="round" fill="none"/>
<path d="M171.9,83.9 Q174.9,88.5 176.6,92.6" stroke="#c8c8c8" stroke-width="1.9" stroke-linecap="round" fill="none"/>
<path d="M166.40,42.50 C167.23,42.50 168.15,43.42 168.90,44.34 C169.65,45.26 170.18,46.49 170.90,48.02 C171.62,49.55 172.52,51.70 173.20,53.54 C173.88,55.38 174.55,57.07 175.00,59.06 C175.45,61.05 175.67,63.05 175.90,65.50 C176.13,67.95 176.32,71.17 176.40,73.78 C176.48,76.39 176.57,79.07 176.40,81.14 C176.23,83.21 176.23,84.97 175.40,86.20 C174.57,87.43 172.90,88.08 171.40,88.50 C169.90,88.92 168.07,88.73 166.40,88.73 C164.73,88.73 162.90,88.92 161.40,88.50 C159.90,88.08 158.23,87.43 157.40,86.20 C156.57,84.97 156.57,83.21 156.40,81.14 C156.23,79.07 156.32,76.39 156.40,73.78 C156.48,71.17 156.67,67.95 156.90,65.50 C157.13,63.05 157.35,61.05 157.80,59.06 C158.25,57.07 158.92,55.38 159.60,53.54 C160.28,51.70 161.18,49.55 161.90,48.02 C162.62,46.49 163.15,45.26 163.90,44.34 C164.65,43.42 165.57,42.50 166.40,42.50 Z" fill="url(#mg)" filter="url(#bl)"/>
<line x1="187.9" y1="86.5" x2="188.4" y2="99.5" stroke="#bcbcbc" stroke-width="1.6"/>
<path d="M182.4,83.9 Q179.4,88.5 177.7,92.6" stroke="#c8c8c8" stroke-width="1.9" stroke-linecap="round" fill="none"/>
<path d="M193.4,83.9 Q196.4,88.5 198.1,92.6" stroke="#c8c8c8" stroke-width="1.9" stroke-linecap="round" fill="none"/>
<path d="M187.90,42.50 C188.73,42.50 189.65,43.42 190.40,44.34 C191.15,45.26 191.68,46.49 192.40,48.02 C193.12,49.55 194.02,51.70 194.70,53.54 C195.38,55.38 196.05,57.07 196.50,59.06 C196.95,61.05 197.17,63.05 197.40,65.50 C197.63,67.95 197.82,71.17 197.90,73.78 C197.98,76.39 198.07,79.07 197.90,81.14 C197.73,83.21 197.73,84.97 196.90,86.20 C196.07,87.43 194.40,88.08 192.90,88.50 C191.40,88.92 189.57,88.73 187.90,88.73 C186.23,88.73 184.40,88.92 182.90,88.50 C181.40,88.08 179.73,87.43 178.90,86.20 C178.07,84.97 178.07,83.21 177.90,81.14 C177.73,79.07 177.82,76.39 177.90,73.78 C177.98,71.17 178.17,67.95 178.40,65.50 C178.63,63.05 178.85,61.05 179.30,59.06 C179.75,57.07 180.42,55.38 181.10,53.54 C181.78,51.70 182.68,49.55 183.40,48.02 C184.12,46.49 184.65,45.26 185.40,44.34 C186.15,43.42 187.07,42.50 187.90,42.50 Z" fill="url(#mg)" filter="url(#bl)"/>
<line x1="212.8" y1="86.5" x2="213.3" y2="99.5" stroke="#bcbcbc" stroke-width="1.6"/>
<path d="M207.3,83.9 Q204.3,88.5 202.6,92.6" stroke="#c8c8c8" stroke-width="1.9" stroke-linecap="round" fill="none"/>
<path d="M218.3,83.9 Q221.3,88.5 223.0,92.6" stroke="#c8c8c8" stroke-width="1.9" stroke-linecap="round" fill="none"/>
<path d="M212.80,42.50 C213.63,42.50 214.55,43.42 215.30,44.34 C216.05,45.26 216.58,46.49 217.30,48.02 C218.02,49.55 218.92,51.70 219.60,53.54 C220.28,55.38 220.95,57.07 221.40,59.06 C221.85,61.05 222.07,63.05 222.30,65.50 C222.53,67.95 222.72,71.17 222.80,73.78 C222.88,76.39 222.97,79.07 222.80,81.14 C222.63,83.21 222.63,84.97 221.80,86.20 C220.97,87.43 219.30,88.08 217.80,88.50 C216.30,88.92 214.47,88.73 212.80,88.73 C211.13,88.73 209.30,88.92 207.80,88.50 C206.30,88.08 204.63,87.43 203.80,86.20 C202.97,84.97 202.97,83.21 202.80,81.14 C202.63,79.07 202.72,76.39 202.80,73.78 C202.88,71.17 203.07,67.95 203.30,65.50 C203.53,63.05 203.75,61.05 204.20,59.06 C204.65,57.07 205.32,55.38 206.00,53.54 C206.68,51.70 207.58,49.55 208.30,48.02 C209.02,46.49 209.55,45.26 210.30,44.34 C211.05,43.42 211.97,42.50 212.80,42.50 Z" fill="url(#mg)" filter="url(#bl)"/>
<line x1="240.5" y1="86.5" x2="241.0" y2="99.5" stroke="#bcbcbc" stroke-width="1.6"/>
<path d="M235.4,83.9 Q232.7,88.5 231.1,92.6" stroke="#c8c8c8" stroke-width="1.9" stroke-linecap="round" fill="none"/>
<path d="M245.6,83.9 Q248.3,88.5 249.9,92.6" stroke="#c8c8c8" stroke-width="1.9" stroke-linecap="round" fill="none"/>
<path d="M240.50,42.50 C241.27,42.50 242.11,43.42 242.80,44.34 C243.49,45.26 243.98,46.49 244.64,48.02 C245.30,49.55 246.13,51.70 246.76,53.54 C247.38,55.38 248.00,57.07 248.41,59.06 C248.83,61.05 249.03,63.05 249.24,65.50 C249.45,67.95 249.62,71.17 249.70,73.78 C249.78,76.39 249.85,79.07 249.70,81.14 C249.55,83.21 249.55,84.97 248.78,86.20 C248.01,87.43 246.48,88.08 245.10,88.50 C243.72,88.92 242.03,88.73 240.50,88.73 C238.97,88.73 237.28,88.92 235.90,88.50 C234.52,88.08 232.99,87.43 232.22,86.20 C231.45,84.97 231.45,83.21 231.30,81.14 C231.15,79.07 231.22,76.39 231.30,73.78 C231.38,71.17 231.55,67.95 231.76,65.50 C231.97,63.05 232.17,61.05 232.59,59.06 C233.00,57.07 233.62,55.38 234.24,53.54 C234.87,51.70 235.70,49.55 236.36,48.02 C237.02,46.49 237.51,45.26 238.20,44.34 C238.89,43.42 239.73,42.50 240.50,42.50 Z" fill="url(#mg)" filter="url(#bl)"/>
<line x1="265.6" y1="86.5" x2="266.1" y2="99.5" stroke="#bcbcbc" stroke-width="1.6"/>
<path d="M260.5,83.9 Q257.8,88.5 256.2,92.6" stroke="#c8c8c8" stroke-width="1.9" stroke-linecap="round" fill="none"/>
<path d="M270.7,83.9 Q273.4,88.5 275.0,92.6" stroke="#c8c8c8" stroke-width="1.9" stroke-linecap="round" fill="none"/>
<path d="M265.60,42.50 C266.37,42.50 267.21,43.42 267.90,44.34 C268.59,45.26 269.08,46.49 269.74,48.02 C270.40,49.55 271.23,51.70 271.86,53.54 C272.48,55.38 273.10,57.07 273.51,59.06 C273.93,61.05 274.13,63.05 274.34,65.50 C274.55,67.95 274.72,71.17 274.80,73.78 C274.88,76.39 274.95,79.07 274.80,81.14 C274.65,83.21 274.65,84.97 273.88,86.20 C273.11,87.43 271.58,88.08 270.20,88.50 C268.82,88.92 267.13,88.73 265.60,88.73 C264.07,88.73 262.38,88.92 261.00,88.50 C259.62,88.08 258.09,87.43 257.32,86.20 C256.55,84.97 256.55,83.21 256.40,81.14 C256.25,79.07 256.32,76.39 256.40,73.78 C256.48,71.17 256.65,67.95 256.86,65.50 C257.07,63.05 257.27,61.05 257.69,59.06 C258.10,57.07 258.72,55.38 259.34,53.54 C259.97,51.70 260.80,49.55 261.46,48.02 C262.12,46.49 262.61,45.26 263.30,44.34 C263.99,43.42 264.83,42.50 265.60,42.50 Z" fill="url(#mg)" filter="url(#bl)"/>
<line x1="290.6" y1="86.5" x2="291.1" y2="99.5" stroke="#bcbcbc" stroke-width="1.6"/>
<path d="M285.5,83.9 Q282.8,88.5 281.2,92.6" stroke="#c8c8c8" stroke-width="1.9" stroke-linecap="round" fill="none"/>
<path d="M295.7,83.9 Q298.4,88.5 300.0,92.6" stroke="#c8c8c8" stroke-width="1.9" stroke-linecap="round" fill="none"/>
<path d="M290.60,42.50 C291.37,42.50 292.21,43.42 292.90,44.34 C293.59,45.26 294.08,46.49 294.74,48.02 C295.40,49.55 296.23,51.70 296.86,53.54 C297.48,55.38 298.10,57.07 298.51,59.06 C298.93,61.05 299.13,63.05 299.34,65.50 C299.55,67.95 299.72,71.17 299.80,73.78 C299.88,76.39 299.95,79.07 299.80,81.14 C299.65,83.21 299.65,84.97 298.88,86.20 C298.11,87.43 296.58,88.08 295.20,88.50 C293.82,88.92 292.13,88.73 290.60,88.73 C289.07,88.73 287.38,88.92 286.00,88.50 C284.62,88.08 283.09,87.43 282.32,86.20 C281.55,84.97 281.55,83.21 281.40,81.14 C281.25,79.07 281.32,76.39 281.40,73.78 C281.48,71.17 281.65,67.95 281.86,65.50 C282.07,63.05 282.27,61.05 282.69,59.06 C283.10,57.07 283.72,55.38 284.34,53.54 C284.97,51.70 285.80,49.55 286.46,48.02 C287.12,46.49 287.61,45.26 288.30,44.34 C288.99,43.42 289.83,42.50 290.60,42.50 Z" fill="url(#mg)" filter="url(#bl)"/>
<line x1="312.3" y1="86.5" x2="312.8" y2="99.5" stroke="#bcbcbc" stroke-width="1.6"/>
<path d="M307.2,83.9 Q304.5,88.5 302.9,92.6" stroke="#c8c8c8" stroke-width="1.9" stroke-linecap="round" fill="none"/>
<path d="M317.4,83.9 Q320.1,88.5 321.7,92.6" stroke="#c8c8c8" stroke-width="1.9" stroke-linecap="round" fill="none"/>
<path d="M312.30,42.50 C313.07,42.50 313.91,43.42 314.60,44.34 C315.29,45.26 315.78,46.49 316.44,48.02 C317.10,49.55 317.93,51.70 318.56,53.54 C319.18,55.38 319.80,57.07 320.21,59.06 C320.63,61.05 320.83,63.05 321.04,65.50 C321.25,67.95 321.42,71.17 321.50,73.78 C321.58,76.39 321.65,79.07 321.50,81.14 C321.35,83.21 321.35,84.97 320.58,86.20 C319.81,87.43 318.28,88.08 316.90,88.50 C315.52,88.92 313.83,88.73 312.30,88.73 C310.77,88.73 309.08,88.92 307.70,88.50 C306.32,88.08 304.79,87.43 304.02,86.20 C303.25,84.97 303.25,83.21 303.10,81.14 C302.95,79.07 303.02,76.39 303.10,73.78 C303.18,71.17 303.35,67.95 303.56,65.50 C303.77,63.05 303.97,61.05 304.39,59.06 C304.80,57.07 305.42,55.38 306.04,53.54 C306.67,51.70 307.50,49.55 308.16,48.02 C308.82,46.49 309.31,45.26 310.00,44.34 C310.69,43.42 311.53,42.50 312.30,42.50 Z" fill="url(#mg)" filter="url(#bl)"/>
<line x1="337.0" y1="86.5" x2="337.5" y2="99.5" stroke="#bcbcbc" stroke-width="1.6"/>
<path d="M331.9,83.9 Q329.2,88.5 327.6,92.6" stroke="#c8c8c8" stroke-width="1.9" stroke-linecap="round" fill="none"/>
<path d="M342.1,83.9 Q344.8,88.5 346.4,92.6" stroke="#c8c8c8" stroke-width="1.9" stroke-linecap="round" fill="none"/>
<path d="M337.00,42.50 C337.77,42.50 338.61,43.42 339.30,44.34 C339.99,45.26 340.48,46.49 341.14,48.02 C341.80,49.55 342.63,51.70 343.26,53.54 C343.88,55.38 344.50,57.07 344.91,59.06 C345.33,61.05 345.53,63.05 345.74,65.50 C345.95,67.95 346.12,71.17 346.20,73.78 C346.28,76.39 346.35,79.07 346.20,81.14 C346.05,83.21 346.05,84.97 345.28,86.20 C344.51,87.43 342.98,88.08 341.60,88.50 C340.22,88.92 338.53,88.73 337.00,88.73 C335.47,88.73 333.78,88.92 332.40,88.50 C331.02,88.08 329.49,87.43 328.72,86.20 C327.95,84.97 327.95,83.21 327.80,81.14 C327.65,79.07 327.72,76.39 327.80,73.78 C327.88,71.17 328.05,67.95 328.26,65.50 C328.47,63.05 328.67,61.05 329.09,59.06 C329.50,57.07 330.12,55.38 330.74,53.54 C331.37,51.70 332.20,49.55 332.86,48.02 C333.52,46.49 334.01,45.26 334.70,44.34 C335.39,43.42 336.23,42.50 337.00,42.50 Z" fill="url(#mg)" filter="url(#bl)"/>
<line x1="365.5" y1="86.5" x2="366.0" y2="99.5" stroke="#bcbcbc" stroke-width="1.6"/>
<path d="M360.4,83.9 Q357.7,88.5 356.1,92.6" stroke="#c8c8c8" stroke-width="1.9" stroke-linecap="round" fill="none"/>
<path d="M370.6,83.9 Q373.3,88.5 374.9,92.6" stroke="#c8c8c8" stroke-width="1.9" stroke-linecap="round" fill="none"/>
<path d="M365.50,42.50 C366.27,42.50 367.11,43.42 367.80,44.34 C368.49,45.26 368.98,46.49 369.64,48.02 C370.30,49.55 371.13,51.70 371.76,53.54 C372.38,55.38 373.00,57.07 373.41,59.06 C373.83,61.05 374.03,63.05 374.24,65.50 C374.45,67.95 374.62,71.17 374.70,73.78 C374.78,76.39 374.85,79.07 374.70,81.14 C374.55,83.21 374.55,84.97 373.78,86.20 C373.01,87.43 371.48,88.08 370.10,88.50 C368.72,88.92 367.03,88.73 365.50,88.73 C363.97,88.73 362.28,88.92 360.90,88.50 C359.52,88.08 357.99,87.43 357.22,86.20 C356.45,84.97 356.45,83.21 356.30,81.14 C356.15,79.07 356.22,76.39 356.30,73.78 C356.38,71.17 356.55,67.95 356.76,65.50 C356.97,63.05 357.17,61.05 357.59,59.06 C358.00,57.07 358.62,55.38 359.24,53.54 C359.87,51.70 360.70,49.55 361.36,48.02 C362.02,46.49 362.51,45.26 363.20,44.34 C363.89,43.42 364.73,42.50 365.50,42.50 Z" fill="url(#mg)" filter="url(#bl)"/>
<line x1="390.0" y1="86.5" x2="390.5" y2="99.5" stroke="#bcbcbc" stroke-width="1.6"/>
<path d="M384.9,83.9 Q382.2,88.5 380.6,92.6" stroke="#c8c8c8" stroke-width="1.9" stroke-linecap="round" fill="none"/>
<path d="M395.1,83.9 Q397.8,88.5 399.4,92.6" stroke="#c8c8c8" stroke-width="1.9" stroke-linecap="round" fill="none"/>
<path d="M390.00,42.50 C390.77,42.50 391.61,43.42 392.30,44.34 C392.99,45.26 393.48,46.49 394.14,48.02 C394.80,49.55 395.63,51.70 396.26,53.54 C396.88,55.38 397.50,57.07 397.91,59.06 C398.33,61.05 398.53,63.05 398.74,65.50 C398.95,67.95 399.12,71.17 399.20,73.78 C399.28,76.39 399.35,79.07 399.20,81.14 C399.05,83.21 399.05,84.97 398.28,86.20 C397.51,87.43 395.98,88.08 394.60,88.50 C393.22,88.92 391.53,88.73 390.00,88.73 C388.47,88.73 386.78,88.92 385.40,88.50 C384.02,88.08 382.49,87.43 381.72,86.20 C380.95,84.97 380.95,83.21 380.80,81.14 C380.65,79.07 380.72,76.39 380.80,73.78 C380.88,71.17 381.05,67.95 381.26,65.50 C381.47,63.05 381.67,61.05 382.09,59.06 C382.50,57.07 383.12,55.38 383.74,53.54 C384.37,51.70 385.20,49.55 385.86,48.02 C386.52,46.49 387.01,45.26 387.70,44.34 C388.39,43.42 389.23,42.50 390.00,42.50 Z" fill="url(#mg)" filter="url(#bl)"/>
<line x1="414.0" y1="86.5" x2="414.5" y2="99.5" stroke="#bcbcbc" stroke-width="1.6"/>
<path d="M408.9,83.9 Q406.2,88.5 404.6,92.6" stroke="#c8c8c8" stroke-width="1.9" stroke-linecap="round" fill="none"/>
<path d="M419.1,83.9 Q421.8,88.5 423.4,92.6" stroke="#c8c8c8" stroke-width="1.9" stroke-linecap="round" fill="none"/>
<path d="M414.00,42.50 C414.77,42.50 415.61,43.42 416.30,44.34 C416.99,45.26 417.48,46.49 418.14,48.02 C418.80,49.55 419.63,51.70 420.26,53.54 C420.88,55.38 421.50,57.07 421.91,59.06 C422.33,61.05 422.53,63.05 422.74,65.50 C422.95,67.95 423.12,71.17 423.20,73.78 C423.28,76.39 423.35,79.07 423.20,81.14 C423.05,83.21 423.05,84.97 422.28,86.20 C421.51,87.43 419.98,88.08 418.60,88.50 C417.22,88.92 415.53,88.73 414.00,88.73 C412.47,88.73 410.78,88.92 409.40,88.50 C408.02,88.08 406.49,87.43 405.72,86.20 C404.95,84.97 404.95,83.21 404.80,81.14 C404.65,79.07 404.72,76.39 404.80,73.78 C404.88,71.17 405.05,67.95 405.26,65.50 C405.47,63.05 405.67,61.05 406.09,59.06 C406.50,57.07 407.12,55.38 407.74,53.54 C408.37,51.70 409.20,49.55 409.86,48.02 C410.52,46.49 411.01,45.26 411.70,44.34 C412.39,43.42 413.23,42.50 414.00,42.50 Z" fill="url(#mg)" filter="url(#bl)"/>
<line x1="440.0" y1="86.5" x2="440.5" y2="99.5" stroke="#bcbcbc" stroke-width="1.6"/>
<path d="M434.9,83.9 Q432.2,88.5 430.6,92.6" stroke="#c8c8c8" stroke-width="1.9" stroke-linecap="round" fill="none"/>
<path d="M445.1,83.9 Q447.8,88.5 449.4,92.6" stroke="#c8c8c8" stroke-width="1.9" stroke-linecap="round" fill="none"/>
<path d="M440.00,42.50 C440.77,42.50 441.61,43.42 442.30,44.34 C442.99,45.26 443.48,46.49 444.14,48.02 C444.80,49.55 445.63,51.70 446.26,53.54 C446.88,55.38 447.50,57.07 447.91,59.06 C448.33,61.05 448.53,63.05 448.74,65.50 C448.95,67.95 449.12,71.17 449.20,73.78 C449.28,76.39 449.35,79.07 449.20,81.14 C449.05,83.21 449.05,84.97 448.28,86.20 C447.51,87.43 445.98,88.08 444.60,88.50 C443.22,88.92 441.53,88.73 440.00,88.73 C438.47,88.73 436.78,88.92 435.40,88.50 C434.02,88.08 432.49,87.43 431.72,86.20 C430.95,84.97 430.95,83.21 430.80,81.14 C430.65,79.07 430.72,76.39 430.80,73.78 C430.88,71.17 431.05,67.95 431.26,65.50 C431.47,63.05 431.67,61.05 432.09,59.06 C432.50,57.07 433.12,55.38 433.74,53.54 C434.37,51.70 435.20,49.55 435.86,48.02 C436.52,46.49 437.01,45.26 437.70,44.34 C438.39,43.42 439.23,42.50 440.00,42.50 Z" fill="url(#mg)" filter="url(#bl)"/>
<line x1="464.5" y1="86.5" x2="465.0" y2="99.5" stroke="#bcbcbc" stroke-width="1.6"/>
<path d="M459.4,83.9 Q456.7,88.5 455.1,92.6" stroke="#c8c8c8" stroke-width="1.9" stroke-linecap="round" fill="none"/>
<path d="M469.6,83.9 Q472.3,88.5 473.9,92.6" stroke="#c8c8c8" stroke-width="1.9" stroke-linecap="round" fill="none"/>
<path d="M464.50,42.50 C465.27,42.50 466.11,43.42 466.80,44.34 C467.49,45.26 467.98,46.49 468.64,48.02 C469.30,49.55 470.13,51.70 470.76,53.54 C471.38,55.38 472.00,57.07 472.41,59.06 C472.83,61.05 473.03,63.05 473.24,65.50 C473.45,67.95 473.62,71.17 473.70,73.78 C473.78,76.39 473.85,79.07 473.70,81.14 C473.55,83.21 473.55,84.97 472.78,86.20 C472.01,87.43 470.48,88.08 469.10,88.50 C467.72,88.92 466.03,88.73 464.50,88.73 C462.97,88.73 461.28,88.92 459.90,88.50 C458.52,88.08 456.99,87.43 456.22,86.20 C455.45,84.97 455.45,83.21 455.30,81.14 C455.15,79.07 455.22,76.39 455.30,73.78 C455.38,71.17 455.55,67.95 455.76,65.50 C455.97,63.05 456.17,61.05 456.59,59.06 C457.00,57.07 457.62,55.38 458.24,53.54 C458.87,51.70 459.70,49.55 460.36,48.02 C461.02,46.49 461.51,45.26 462.20,44.34 C462.89,43.42 463.73,42.50 464.50,42.50 Z" fill="url(#mg)" filter="url(#bl)"/>
<line x1="492.0" y1="86.5" x2="492.5" y2="99.5" stroke="#bcbcbc" stroke-width="1.6"/>
<path d="M486.9,83.9 Q484.2,88.5 482.6,92.6" stroke="#c8c8c8" stroke-width="1.9" stroke-linecap="round" fill="none"/>
<path d="M497.1,83.9 Q499.8,88.5 501.4,92.6" stroke="#c8c8c8" stroke-width="1.9" stroke-linecap="round" fill="none"/>
<path d="M492.00,42.50 C492.77,42.50 493.61,43.42 494.30,44.34 C494.99,45.26 495.48,46.49 496.14,48.02 C496.80,49.55 497.63,51.70 498.26,53.54 C498.88,55.38 499.50,57.07 499.91,59.06 C500.33,61.05 500.53,63.05 500.74,65.50 C500.95,67.95 501.12,71.17 501.20,73.78 C501.28,76.39 501.35,79.07 501.20,81.14 C501.05,83.21 501.05,84.97 500.28,86.20 C499.51,87.43 497.98,88.08 496.60,88.50 C495.22,88.92 493.53,88.73 492.00,88.73 C490.47,88.73 488.78,88.92 487.40,88.50 C486.02,88.08 484.49,87.43 483.72,86.20 C482.95,84.97 482.95,83.21 482.80,81.14 C482.65,79.07 482.72,76.39 482.80,73.78 C482.88,71.17 483.05,67.95 483.26,65.50 C483.47,63.05 483.67,61.05 484.09,59.06 C484.50,57.07 485.12,55.38 485.74,53.54 C486.37,51.70 487.20,49.55 487.86,48.02 C488.52,46.49 489.01,45.26 489.70,44.34 C490.39,43.42 491.23,42.50 492.00,42.50 Z" fill="url(#mg)" filter="url(#bl)"/>
<line x1="515.4" y1="86.5" x2="515.9" y2="99.5" stroke="#bcbcbc" stroke-width="1.6"/>
<path d="M510.3,83.9 Q507.6,88.5 506.0,92.6" stroke="#c8c8c8" stroke-width="1.9" stroke-linecap="round" fill="none"/>
<path d="M520.5,83.9 Q523.2,88.5 524.8,92.6" stroke="#c8c8c8" stroke-width="1.9" stroke-linecap="round" fill="none"/>
<path d="M515.40,42.50 C516.17,42.50 517.01,43.42 517.70,44.34 C518.39,45.26 518.88,46.49 519.54,48.02 C520.20,49.55 521.03,51.70 521.66,53.54 C522.28,55.38 522.90,57.07 523.31,59.06 C523.73,61.05 523.93,63.05 524.14,65.50 C524.35,67.95 524.52,71.17 524.60,73.78 C524.68,76.39 524.75,79.07 524.60,81.14 C524.45,83.21 524.45,84.97 523.68,86.20 C522.91,87.43 521.38,88.08 520.00,88.50 C518.62,88.92 516.93,88.73 515.40,88.73 C513.87,88.73 512.18,88.92 510.80,88.50 C509.42,88.08 507.89,87.43 507.12,86.20 C506.35,84.97 506.35,83.21 506.20,81.14 C506.05,79.07 506.12,76.39 506.20,73.78 C506.28,71.17 506.45,67.95 506.66,65.50 C506.87,63.05 507.07,61.05 507.49,59.06 C507.90,57.07 508.52,55.38 509.14,53.54 C509.77,51.70 510.60,49.55 511.26,48.02 C511.92,46.49 512.41,45.26 513.10,44.34 C513.79,43.42 514.63,42.50 515.40,42.50 Z" fill="url(#mg)" filter="url(#bl)"/>
<line x1="539.6" y1="86.5" x2="540.1" y2="99.5" stroke="#bcbcbc" stroke-width="1.6"/>
<path d="M534.5,83.9 Q531.8,88.5 530.2,92.6" stroke="#c8c8c8" stroke-width="1.9" stroke-linecap="round" fill="none"/>
<path d="M544.7,83.9 Q547.4,88.5 549.0,92.6" stroke="#c8c8c8" stroke-width="1.9" stroke-linecap="round" fill="none"/>
<path d="M539.60,42.50 C540.37,42.50 541.21,43.42 541.90,44.34 C542.59,45.26 543.08,46.49 543.74,48.02 C544.40,49.55 545.23,51.70 545.86,53.54 C546.48,55.38 547.10,57.07 547.51,59.06 C547.93,61.05 548.13,63.05 548.34,65.50 C548.55,67.95 548.72,71.17 548.80,73.78 C548.88,76.39 548.95,79.07 548.80,81.14 C548.65,83.21 548.65,84.97 547.88,86.20 C547.11,87.43 545.58,88.08 544.20,88.50 C542.82,88.92 541.13,88.73 539.60,88.73 C538.07,88.73 536.38,88.92 535.00,88.50 C533.62,88.08 532.09,87.43 531.32,86.20 C530.55,84.97 530.55,83.21 530.40,81.14 C530.25,79.07 530.32,76.39 530.40,73.78 C530.48,71.17 530.65,67.95 530.86,65.50 C531.07,63.05 531.27,61.05 531.69,59.06 C532.10,57.07 532.72,55.38 533.34,53.54 C533.97,51.70 534.80,49.55 535.46,48.02 C536.12,46.49 536.61,45.26 537.30,44.34 C537.99,43.42 538.83,42.50 539.60,42.50 Z" fill="url(#mg)" filter="url(#bl)"/>
<line x1="565.5" y1="86.5" x2="566.0" y2="99.5" stroke="#bcbcbc" stroke-width="1.6"/>
<path d="M560.4,83.9 Q557.7,88.5 556.1,92.6" stroke="#c8c8c8" stroke-width="1.9" stroke-linecap="round" fill="none"/>
<path d="M570.6,83.9 Q573.3,88.5 574.9,92.6" stroke="#c8c8c8" stroke-width="1.9" stroke-linecap="round" fill="none"/>
<path d="M565.50,42.50 C566.27,42.50 567.11,43.42 567.80,44.34 C568.49,45.26 568.98,46.49 569.64,48.02 C570.30,49.55 571.13,51.70 571.76,53.54 C572.38,55.38 573.00,57.07 573.41,59.06 C573.83,61.05 574.03,63.05 574.24,65.50 C574.45,67.95 574.62,71.17 574.70,73.78 C574.78,76.39 574.85,79.07 574.70,81.14 C574.55,83.21 574.55,84.97 573.78,86.20 C573.01,87.43 571.48,88.08 570.10,88.50 C568.72,88.92 567.03,88.73 565.50,88.73 C563.97,88.73 562.28,88.92 560.90,88.50 C559.52,88.08 557.99,87.43 557.22,86.20 C556.45,84.97 556.45,83.21 556.30,81.14 C556.15,79.07 556.22,76.39 556.30,73.78 C556.38,71.17 556.55,67.95 556.76,65.50 C556.97,63.05 557.17,61.05 557.59,59.06 C558.00,57.07 558.62,55.38 559.24,53.54 C559.87,51.70 560.70,49.55 561.36,48.02 C562.02,46.49 562.51,45.26 563.20,44.34 C563.89,43.42 564.73,42.50 565.50,42.50 Z" fill="url(#mg)" filter="url(#bl)"/>
<line x1="588.9" y1="86.5" x2="589.4" y2="99.5" stroke="#bcbcbc" stroke-width="1.6"/>
<path d="M583.8,83.9 Q581.1,88.5 579.5,92.6" stroke="#c8c8c8" stroke-width="1.9" stroke-linecap="round" fill="none"/>
<path d="M594.0,83.9 Q596.7,88.5 598.3,92.6" stroke="#c8c8c8" stroke-width="1.9" stroke-linecap="round" fill="none"/>
<path d="M588.90,42.50 C589.67,42.50 590.51,43.42 591.20,44.34 C591.89,45.26 592.38,46.49 593.04,48.02 C593.70,49.55 594.53,51.70 595.16,53.54 C595.78,55.38 596.40,57.07 596.81,59.06 C597.23,61.05 597.43,63.05 597.64,65.50 C597.85,67.95 598.02,71.17 598.10,73.78 C598.18,76.39 598.25,79.07 598.10,81.14 C597.95,83.21 597.95,84.97 597.18,86.20 C596.41,87.43 594.88,88.08 593.50,88.50 C592.12,88.92 590.43,88.73 588.90,88.73 C587.37,88.73 585.68,88.92 584.30,88.50 C582.92,88.08 581.39,87.43 580.62,86.20 C579.85,84.97 579.85,83.21 579.70,81.14 C579.55,79.07 579.62,76.39 579.70,73.78 C579.78,71.17 579.95,67.95 580.16,65.50 C580.37,63.05 580.57,61.05 580.99,59.06 C581.40,57.07 582.02,55.38 582.64,53.54 C583.27,51.70 584.10,49.55 584.76,48.02 C585.42,46.49 585.91,45.26 586.60,44.34 C587.29,43.42 588.13,42.50 588.90,42.50 Z" fill="url(#mg)" filter="url(#bl)"/>
<line x1="617.9" y1="86.5" x2="618.4" y2="99.5" stroke="#bcbcbc" stroke-width="1.6"/>
<path d="M612.8,83.9 Q610.1,88.5 608.5,92.6" stroke="#c8c8c8" stroke-width="1.9" stroke-linecap="round" fill="none"/>
<path d="M623.0,83.9 Q625.7,88.5 627.3,92.6" stroke="#c8c8c8" stroke-width="1.9" stroke-linecap="round" fill="none"/>
<path d="M617.90,42.50 C618.67,42.50 619.51,43.42 620.20,44.34 C620.89,45.26 621.38,46.49 622.04,48.02 C622.70,49.55 623.53,51.70 624.16,53.54 C624.78,55.38 625.40,57.07 625.81,59.06 C626.23,61.05 626.43,63.05 626.64,65.50 C626.85,67.95 627.02,71.17 627.10,73.78 C627.18,76.39 627.25,79.07 627.10,81.14 C626.95,83.21 626.95,84.97 626.18,86.20 C625.41,87.43 623.88,88.08 622.50,88.50 C621.12,88.92 619.43,88.73 617.90,88.73 C616.37,88.73 614.68,88.92 613.30,88.50 C611.92,88.08 610.39,87.43 609.62,86.20 C608.85,84.97 608.85,83.21 608.70,81.14 C608.55,79.07 608.62,76.39 608.70,73.78 C608.78,71.17 608.95,67.95 609.16,65.50 C609.37,63.05 609.57,61.05 609.99,59.06 C610.40,57.07 611.02,55.38 611.64,53.54 C612.27,51.70 613.10,49.55 613.76,48.02 C614.42,46.49 614.91,45.26 615.60,44.34 C616.29,43.42 617.13,42.50 617.90,42.50 Z" fill="url(#mg)" filter="url(#bl)"/>
<line x1="637.9" y1="86.5" x2="638.4" y2="99.5" stroke="#bcbcbc" stroke-width="1.6"/>
<path d="M632.8,83.9 Q630.1,88.5 628.5,92.6" stroke="#c8c8c8" stroke-width="1.9" stroke-linecap="round" fill="none"/>
<path d="M643.0,83.9 Q645.7,88.5 647.3,92.6" stroke="#c8c8c8" stroke-width="1.9" stroke-linecap="round" fill="none"/>
<path d="M637.90,42.50 C638.67,42.50 639.51,43.42 640.20,44.34 C640.89,45.26 641.38,46.49 642.04,48.02 C642.70,49.55 643.53,51.70 644.16,53.54 C644.78,55.38 645.40,57.07 645.81,59.06 C646.23,61.05 646.43,63.05 646.64,65.50 C646.85,67.95 647.02,71.17 647.10,73.78 C647.18,76.39 647.25,79.07 647.10,81.14 C646.95,83.21 646.95,84.97 646.18,86.20 C645.41,87.43 643.88,88.08 642.50,88.50 C641.12,88.92 639.43,88.73 637.90,88.73 C636.37,88.73 634.68,88.92 633.30,88.50 C631.92,88.08 630.39,87.43 629.62,86.20 C628.85,84.97 628.85,83.21 628.70,81.14 C628.55,79.07 628.62,76.39 628.70,73.78 C628.78,71.17 628.95,67.95 629.16,65.50 C629.37,63.05 629.57,61.05 629.99,59.06 C630.40,57.07 631.02,55.38 631.64,53.54 C632.27,51.70 633.10,49.55 633.76,48.02 C634.42,46.49 634.91,45.26 635.60,44.34 C636.29,43.42 637.13,42.50 637.90,42.50 Z" fill="url(#mg)" filter="url(#bl)"/>
<line x1="665.4" y1="86.5" x2="665.9" y2="99.5" stroke="#bcbcbc" stroke-width="1.6"/>
<path d="M660.3,83.9 Q657.6,88.5 656.0,92.6" stroke="#c8c8c8" stroke-width="1.9" stroke-linecap="round" fill="none"/>
<path d="M670.5,83.9 Q673.2,88.5 674.8,92.6" stroke="#c8c8c8" stroke-width="1.9" stroke-linecap="round" fill="none"/>
<path d="M665.40,42.50 C666.17,42.50 667.01,43.42 667.70,44.34 C668.39,45.26 668.88,46.49 669.54,48.02 C670.20,49.55 671.03,51.70 671.66,53.54 C672.28,55.38 672.90,57.07 673.31,59.06 C673.73,61.05 673.93,63.05 674.14,65.50 C674.35,67.95 674.52,71.17 674.60,73.78 C674.68,76.39 674.75,79.07 674.60,81.14 C674.45,83.21 674.45,84.97 673.68,86.20 C672.91,87.43 671.38,88.08 670.00,88.50 C668.62,88.92 666.93,88.73 665.40,88.73 C663.87,88.73 662.18,88.92 660.80,88.50 C659.42,88.08 657.89,87.43 657.12,86.20 C656.35,84.97 656.35,83.21 656.20,81.14 C656.05,79.07 656.12,76.39 656.20,73.78 C656.28,71.17 656.45,67.95 656.66,65.50 C656.87,63.05 657.07,61.05 657.49,59.06 C657.90,57.07 658.52,55.38 659.14,53.54 C659.77,51.70 660.60,49.55 661.26,48.02 C661.92,46.49 662.41,45.26 663.10,44.34 C663.79,43.42 664.63,42.50 665.40,42.50 Z" fill="url(#mg)" filter="url(#bl)"/>
<line x1="688.8" y1="86.5" x2="689.3" y2="99.5" stroke="#bcbcbc" stroke-width="1.6"/>
<path d="M683.7,83.9 Q681.0,88.5 679.4,92.6" stroke="#c8c8c8" stroke-width="1.9" stroke-linecap="round" fill="none"/>
<path d="M693.9,83.9 Q696.6,88.5 698.2,92.6" stroke="#c8c8c8" stroke-width="1.9" stroke-linecap="round" fill="none"/>
<path d="M688.80,42.50 C689.57,42.50 690.41,43.42 691.10,44.34 C691.79,45.26 692.28,46.49 692.94,48.02 C693.60,49.55 694.43,51.70 695.06,53.54 C695.68,55.38 696.30,57.07 696.71,59.06 C697.13,61.05 697.33,63.05 697.54,65.50 C697.75,67.95 697.92,71.17 698.00,73.78 C698.08,76.39 698.15,79.07 698.00,81.14 C697.85,83.21 697.85,84.97 697.08,86.20 C696.31,87.43 694.78,88.08 693.40,88.50 C692.02,88.92 690.33,88.73 688.80,88.73 C687.27,88.73 685.58,88.92 684.20,88.50 C682.82,88.08 681.29,87.43 680.52,86.20 C679.75,84.97 679.75,83.21 679.60,81.14 C679.45,79.07 679.52,76.39 679.60,73.78 C679.68,71.17 679.85,67.95 680.06,65.50 C680.27,63.05 680.47,61.05 680.89,59.06 C681.30,57.07 681.92,55.38 682.54,53.54 C683.17,51.70 684.00,49.55 684.66,48.02 C685.32,46.49 685.81,45.26 686.50,44.34 C687.19,43.42 688.03,42.50 688.80,42.50 Z" fill="url(#mg)" filter="url(#bl)"/>
<line x1="715.5" y1="86.5" x2="716.0" y2="99.5" stroke="#bcbcbc" stroke-width="1.6"/>
<path d="M710.4,83.9 Q707.7,88.5 706.1,92.6" stroke="#c8c8c8" stroke-width="1.9" stroke-linecap="round" fill="none"/>
<path d="M720.6,83.9 Q723.3,88.5 724.9,92.6" stroke="#c8c8c8" stroke-width="1.9" stroke-linecap="round" fill="none"/>
<path d="M715.50,42.50 C716.27,42.50 717.11,43.42 717.80,44.34 C718.49,45.26 718.98,46.49 719.64,48.02 C720.30,49.55 721.13,51.70 721.76,53.54 C722.38,55.38 723.00,57.07 723.41,59.06 C723.83,61.05 724.03,63.05 724.24,65.50 C724.45,67.95 724.62,71.17 724.70,73.78 C724.78,76.39 724.85,79.07 724.70,81.14 C724.55,83.21 724.55,84.97 723.78,86.20 C723.01,87.43 721.48,88.08 720.10,88.50 C718.72,88.92 717.03,88.73 715.50,88.73 C713.97,88.73 712.28,88.92 710.90,88.50 C709.52,88.08 707.99,87.43 707.22,86.20 C706.45,84.97 706.45,83.21 706.30,81.14 C706.15,79.07 706.22,76.39 706.30,73.78 C706.38,71.17 706.55,67.95 706.76,65.50 C706.97,63.05 707.17,61.05 707.59,59.06 C708.00,57.07 708.62,55.38 709.24,53.54 C709.87,51.70 710.70,49.55 711.36,48.02 C712.02,46.49 712.51,45.26 713.20,44.34 C713.89,43.42 714.73,42.50 715.50,42.50 Z" fill="url(#mg)" filter="url(#bl)"/>
<line x1="141.8" y1="151.0" x2="142.3" y2="162.8" stroke="#bcbcbc" stroke-width="1.6"/>
<path d="M136.3,148.4 Q133.3,153.0 131.6,157.1" stroke="#c8c8c8" stroke-width="1.9" stroke-linecap="round" fill="none"/>
<path d="M147.3,148.4 Q150.3,153.0 152.0,157.1" stroke="#c8c8c8" stroke-width="1.9" stroke-linecap="round" fill="none"/>
<path d="M141.80,107.00 C142.63,107.00 143.55,107.92 144.30,108.84 C145.05,109.76 145.58,110.99 146.30,112.52 C147.02,114.05 147.92,116.20 148.60,118.04 C149.28,119.88 149.95,121.57 150.40,123.56 C150.85,125.55 151.07,127.55 151.30,130.00 C151.53,132.45 151.72,135.67 151.80,138.28 C151.88,140.89 151.97,143.57 151.80,145.64 C151.63,147.71 151.63,149.47 150.80,150.70 C149.97,151.93 148.30,152.58 146.80,153.00 C145.30,153.42 143.47,153.23 141.80,153.23 C140.13,153.23 138.30,153.42 136.80,153.00 C135.30,152.58 133.63,151.93 132.80,150.70 C131.97,149.47 131.97,147.71 131.80,145.64 C131.63,143.57 131.72,140.89 131.80,138.28 C131.88,135.67 132.07,132.45 132.30,130.00 C132.53,127.55 132.75,125.55 133.20,123.56 C133.65,121.57 134.32,119.88 135.00,118.04 C135.68,116.20 136.58,114.05 137.30,112.52 C138.02,110.99 138.55,109.76 139.30,108.84 C140.05,107.92 140.97,107.00 141.80,107.00 Z" fill="url(#mg)" filter="url(#bl)"/>
<line x1="162.9" y1="151.0" x2="163.4" y2="162.8" stroke="#bcbcbc" stroke-width="1.6"/>
<path d="M157.4,148.4 Q154.4,153.0 152.7,157.1" stroke="#c8c8c8" stroke-width="1.9" stroke-linecap="round" fill="none"/>
<path d="M168.4,148.4 Q171.4,153.0 173.1,157.1" stroke="#c8c8c8" stroke-width="1.9" stroke-linecap="round" fill="none"/>
<path d="M162.90,107.00 C163.73,107.00 164.65,107.92 165.40,108.84 C166.15,109.76 166.68,110.99 167.40,112.52 C168.12,114.05 169.02,116.20 169.70,118.04 C170.38,119.88 171.05,121.57 171.50,123.56 C171.95,125.55 172.17,127.55 172.40,130.00 C172.63,132.45 172.82,135.67 172.90,138.28 C172.98,140.89 173.07,143.57 172.90,145.64 C172.73,147.71 172.73,149.47 171.90,150.70 C171.07,151.93 169.40,152.58 167.90,153.00 C166.40,153.42 164.57,153.23 162.90,153.23 C161.23,153.23 159.40,153.42 157.90,153.00 C156.40,152.58 154.73,151.93 153.90,150.70 C153.07,149.47 153.07,147.71 152.90,145.64 C152.73,143.57 152.82,140.89 152.90,138.28 C152.98,135.67 153.17,132.45 153.40,130.00 C153.63,127.55 153.85,125.55 154.30,123.56 C154.75,121.57 155.42,119.88 156.10,118.04 C156.78,116.20 157.68,114.05 158.40,112.52 C159.12,110.99 159.65,109.76 160.40,108.84 C161.15,107.92 162.07,107.00 162.90,107.00 Z" fill="url(#mg)" filter="url(#bl)"/>
<line x1="186.3" y1="151.0" x2="186.8" y2="162.8" stroke="#bcbcbc" stroke-width="1.6"/>
<path d="M180.8,148.4 Q177.8,153.0 176.1,157.1" stroke="#c8c8c8" stroke-width="1.9" stroke-linecap="round" fill="none"/>
<path d="M191.8,148.4 Q194.8,153.0 196.5,157.1" stroke="#c8c8c8" stroke-width="1.9" stroke-linecap="round" fill="none"/>
<path d="M186.30,107.00 C187.13,107.00 188.05,107.92 188.80,108.84 C189.55,109.76 190.08,110.99 190.80,112.52 C191.52,114.05 192.42,116.20 193.10,118.04 C193.78,119.88 194.45,121.57 194.90,123.56 C195.35,125.55 195.57,127.55 195.80,130.00 C196.03,132.45 196.22,135.67 196.30,138.28 C196.38,140.89 196.47,143.57 196.30,145.64 C196.13,147.71 196.13,149.47 195.30,150.70 C194.47,151.93 192.80,152.58 191.30,153.00 C189.80,153.42 187.97,153.23 186.30,153.23 C184.63,153.23 182.80,153.42 181.30,153.00 C179.80,152.58 178.13,151.93 177.30,150.70 C176.47,149.47 176.47,147.71 176.30,145.64 C176.13,143.57 176.22,140.89 176.30,138.28 C176.38,135.67 176.57,132.45 176.80,130.00 C177.03,127.55 177.25,125.55 177.70,123.56 C178.15,121.57 178.82,119.88 179.50,118.04 C180.18,116.20 181.08,114.05 181.80,112.52 C182.52,110.99 183.05,109.76 183.80,108.84 C184.55,107.92 185.47,107.00 186.30,107.00 Z" fill="url(#mg)" filter="url(#bl)"/>
<line x1="209.7" y1="151.0" x2="210.2" y2="162.8" stroke="#bcbcbc" stroke-width="1.6"/>
<path d="M204.2,148.4 Q201.2,153.0 199.5,157.1" stroke="#c8c8c8" stroke-width="1.9" stroke-linecap="round" fill="none"/>
<path d="M215.2,148.4 Q218.2,153.0 219.9,157.1" stroke="#c8c8c8" stroke-width="1.9" stroke-linecap="round" fill="none"/>
<path d="M209.70,107.00 C210.53,107.00 211.45,107.92 212.20,108.84 C212.95,109.76 213.48,110.99 214.20,112.52 C214.92,114.05 215.82,116.20 216.50,118.04 C217.18,119.88 217.85,121.57 218.30,123.56 C218.75,125.55 218.97,127.55 219.20,130.00 C219.43,132.45 219.62,135.67 219.70,138.28 C219.78,140.89 219.87,143.57 219.70,145.64 C219.53,147.71 219.53,149.47 218.70,150.70 C217.87,151.93 216.20,152.58 214.70,153.00 C213.20,153.42 211.37,153.23 209.70,153.23 C208.03,153.23 206.20,153.42 204.70,153.00 C203.20,152.58 201.53,151.93 200.70,150.70 C199.87,149.47 199.87,147.71 199.70,145.64 C199.53,143.57 199.62,140.89 199.70,138.28 C199.78,135.67 199.97,132.45 200.20,130.00 C200.43,127.55 200.65,125.55 201.10,123.56 C201.55,121.57 202.22,119.88 202.90,118.04 C203.58,116.20 204.48,114.05 205.20,112.52 C205.92,110.99 206.45,109.76 207.20,108.84 C207.95,107.92 208.87,107.00 209.70,107.00 Z" fill="url(#mg)" filter="url(#bl)"/>
<line x1="243.0" y1="151.0" x2="243.5" y2="162.8" stroke="#bcbcbc" stroke-width="1.6"/>
<path d="M237.9,148.4 Q235.2,153.0 233.6,157.1" stroke="#c8c8c8" stroke-width="1.9" stroke-linecap="round" fill="none"/>
<path d="M248.1,148.4 Q250.8,153.0 252.4,157.1" stroke="#c8c8c8" stroke-width="1.9" stroke-linecap="round" fill="none"/>
<path d="M243.00,107.00 C243.77,107.00 244.61,107.92 245.30,108.84 C245.99,109.76 246.48,110.99 247.14,112.52 C247.80,114.05 248.63,116.20 249.26,118.04 C249.88,119.88 250.50,121.57 250.91,123.56 C251.33,125.55 251.53,127.55 251.74,130.00 C251.95,132.45 252.12,135.67 252.20,138.28 C252.28,140.89 252.35,143.57 252.20,145.64 C252.05,147.71 252.05,149.47 251.28,150.70 C250.51,151.93 248.98,152.58 247.60,153.00 C246.22,153.42 244.53,153.23 243.00,153.23 C241.47,153.23 239.78,153.42 238.40,153.00 C237.02,152.58 235.49,151.93 234.72,150.70 C233.95,149.47 233.95,147.71 233.80,145.64 C233.65,143.57 233.72,140.89 233.80,138.28 C233.88,135.67 234.05,132.45 234.26,130.00 C234.47,127.55 234.67,125.55 235.09,123.56 C235.50,121.57 236.12,119.88 236.74,118.04 C237.37,116.20 238.20,114.05 238.86,112.52 C239.52,110.99 240.01,109.76 240.70,108.84 C241.39,107.92 242.23,107.00 243.00,107.00 Z" fill="url(#mg)" filter="url(#bl)"/>
<line x1="266.4" y1="151.0" x2="266.9" y2="162.8" stroke="#bcbcbc" stroke-width="1.6"/>
<path d="M261.3,148.4 Q258.6,153.0 257.0,157.1" stroke="#c8c8c8" stroke-width="1.9" stroke-linecap="round" fill="none"/>
<path d="M271.5,148.4 Q274.2,153.0 275.8,157.1" stroke="#c8c8c8" stroke-width="1.9" stroke-linecap="round" fill="none"/>
<path d="M266.40,107.00 C267.17,107.00 268.01,107.92 268.70,108.84 C269.39,109.76 269.88,110.99 270.54,112.52 C271.20,114.05 272.03,116.20 272.66,118.04 C273.28,119.88 273.90,121.57 274.31,123.56 C274.73,125.55 274.93,127.55 275.14,130.00 C275.35,132.45 275.52,135.67 275.60,138.28 C275.68,140.89 275.75,143.57 275.60,145.64 C275.45,147.71 275.45,149.47 274.68,150.70 C273.91,151.93 272.38,152.58 271.00,153.00 C269.62,153.42 267.93,153.23 266.40,153.23 C264.87,153.23 263.18,153.42 261.80,153.00 C260.42,152.58 258.89,151.93 258.12,150.70 C257.35,149.47 257.35,147.71 257.20,145.64 C257.05,143.57 257.12,140.89 257.20,138.28 C257.28,135.67 257.45,132.45 257.66,130.00 C257.87,127.55 258.07,125.55 258.49,123.56 C258.90,121.57 259.52,119.88 260.14,118.04 C260.77,116.20 261.60,114.05 262.26,112.52 C262.92,110.99 263.41,109.76 264.10,108.84 C264.79,107.92 265.63,107.00 266.40,107.00 Z" fill="url(#mg)" filter="url(#bl)"/>
<line x1="289.7" y1="151.0" x2="290.2" y2="162.8" stroke="#bcbcbc" stroke-width="1.6"/>
<path d="M284.6,148.4 Q281.9,153.0 280.3,157.1" stroke="#c8c8c8" stroke-width="1.9" stroke-linecap="round" fill="none"/>
<path d="M294.8,148.4 Q297.5,153.0 299.1,157.1" stroke="#c8c8c8" stroke-width="1.9" stroke-linecap="round" fill="none"/>
<path d="M289.70,107.00 C290.47,107.00 291.31,107.92 292.00,108.84 C292.69,109.76 293.18,110.99 293.84,112.52 C294.50,114.05 295.33,116.20 295.96,118.04 C296.58,119.88 297.20,121.57 297.61,123.56 C298.03,125.55 298.23,127.55 298.44,130.00 C298.65,132.45 298.82,135.67 298.90,138.28 C298.98,140.89 299.05,143.57 298.90,145.64 C298.75,147.71 298.75,149.47 297.98,150.70 C297.21,151.93 295.68,152.58 294.30,153.00 C292.92,153.42 291.23,153.23 289.70,153.23 C288.17,153.23 286.48,153.42 285.10,153.00 C283.72,152.58 282.19,151.93 281.42,150.70 C280.65,149.47 280.65,147.71 280.50,145.64 C280.35,143.57 280.42,140.89 280.50,138.28 C280.58,135.67 280.75,132.45 280.96,130.00 C281.17,127.55 281.37,125.55 281.79,123.56 C282.20,121.57 282.82,119.88 283.44,118.04 C284.07,116.20 284.90,114.05 285.56,112.52 C286.22,110.99 286.71,109.76 287.40,108.84 C288.09,107.92 288.93,107.00 289.70,107.00 Z" fill="url(#mg)" filter="url(#bl)"/>
<line x1="313.1" y1="151.0" x2="313.6" y2="162.8" stroke="#bcbcbc" stroke-width="1.6"/>
<path d="M308.0,148.4 Q305.3,153.0 303.7,157.1" stroke="#c8c8c8" stroke-width="1.9" stroke-linecap="round" fill="none"/>
<path d="M318.2,148.4 Q320.9,153.0 322.5,157.1" stroke="#c8c8c8" stroke-width="1.9" stroke-linecap="round" fill="none"/>
<path d="M313.10,107.00 C313.87,107.00 314.71,107.92 315.40,108.84 C316.09,109.76 316.58,110.99 317.24,112.52 C317.90,114.05 318.73,116.20 319.36,118.04 C319.98,119.88 320.60,121.57 321.01,123.56 C321.43,125.55 321.63,127.55 321.84,130.00 C322.05,132.45 322.22,135.67 322.30,138.28 C322.38,140.89 322.45,143.57 322.30,145.64 C322.15,147.71 322.15,149.47 321.38,150.70 C320.61,151.93 319.08,152.58 317.70,153.00 C316.32,153.42 314.63,153.23 313.10,153.23 C311.57,153.23 309.88,153.42 308.50,153.00 C307.12,152.58 305.59,151.93 304.82,150.70 C304.05,149.47 304.05,147.71 303.90,145.64 C303.75,143.57 303.82,140.89 303.90,138.28 C303.98,135.67 304.15,132.45 304.36,130.00 C304.57,127.55 304.77,125.55 305.19,123.56 C305.60,121.57 306.22,119.88 306.84,118.04 C307.47,116.20 308.30,114.05 308.96,112.52 C309.62,110.99 310.11,109.76 310.80,108.84 C311.49,107.92 312.33,107.00 313.10,107.00 Z" fill="url(#mg)" filter="url(#bl)"/>
<line x1="334.8" y1="151.0" x2="335.3" y2="162.8" stroke="#bcbcbc" stroke-width="1.6"/>
<path d="M329.7,148.4 Q327.0,153.0 325.4,157.1" stroke="#c8c8c8" stroke-width="1.9" stroke-linecap="round" fill="none"/>
<path d="M339.9,148.4 Q342.6,153.0 344.2,157.1" stroke="#c8c8c8" stroke-width="1.9" stroke-linecap="round" fill="none"/>
<path d="M334.80,107.00 C335.57,107.00 336.41,107.92 337.10,108.84 C337.79,109.76 338.28,110.99 338.94,112.52 C339.60,114.05 340.43,116.20 341.06,118.04 C341.68,119.88 342.30,121.57 342.71,123.56 C343.13,125.55 343.33,127.55 343.54,130.00 C343.75,132.45 343.92,135.67 344.00,138.28 C344.08,140.89 344.15,143.57 344.00,145.64 C343.85,147.71 343.85,149.47 343.08,150.70 C342.31,151.93 340.78,152.58 339.40,153.00 C338.02,153.42 336.33,153.23 334.80,153.23 C333.27,153.23 331.58,153.42 330.20,153.00 C328.82,152.58 327.29,151.93 326.52,150.70 C325.75,149.47 325.75,147.71 325.60,145.64 C325.45,143.57 325.52,140.89 325.60,138.28 C325.68,135.67 325.85,132.45 326.06,130.00 C326.27,127.55 326.47,125.55 326.89,123.56 C327.30,121.57 327.92,119.88 328.54,118.04 C329.17,116.20 330.00,114.05 330.66,112.52 C331.32,110.99 331.81,109.76 332.50,108.84 C333.19,107.92 334.03,107.00 334.80,107.00 Z" fill="url(#mg)" filter="url(#bl)"/>
<line x1="364.8" y1="151.0" x2="365.3" y2="162.8" stroke="#bcbcbc" stroke-width="1.6"/>
<path d="M359.7,148.4 Q357.0,153.0 355.4,157.1" stroke="#c8c8c8" stroke-width="1.9" stroke-linecap="round" fill="none"/>
<path d="M369.9,148.4 Q372.6,153.0 374.2,157.1" stroke="#c8c8c8" stroke-width="1.9" stroke-linecap="round" fill="none"/>
<path d="M364.80,107.00 C365.57,107.00 366.41,107.92 367.10,108.84 C367.79,109.76 368.28,110.99 368.94,112.52 C369.60,114.05 370.43,116.20 371.06,118.04 C371.68,119.88 372.30,121.57 372.71,123.56 C373.13,125.55 373.33,127.55 373.54,130.00 C373.75,132.45 373.92,135.67 374.00,138.28 C374.08,140.89 374.15,143.57 374.00,145.64 C373.85,147.71 373.85,149.47 373.08,150.70 C372.31,151.93 370.78,152.58 369.40,153.00 C368.02,153.42 366.33,153.23 364.80,153.23 C363.27,153.23 361.58,153.42 360.20,153.00 C358.82,152.58 357.29,151.93 356.52,150.70 C355.75,149.47 355.75,147.71 355.60,145.64 C355.45,143.57 355.52,140.89 355.60,138.28 C355.68,135.67 355.85,132.45 356.06,130.00 C356.27,127.55 356.47,125.55 356.89,123.56 C357.30,121.57 357.92,119.88 358.54,118.04 C359.17,116.20 360.00,114.05 360.66,112.52 C361.32,110.99 361.81,109.76 362.50,108.84 C363.19,107.92 364.03,107.00 364.80,107.00 Z" fill="url(#mg)" filter="url(#bl)"/>
<line x1="389.9" y1="151.0" x2="390.4" y2="162.8" stroke="#bcbcbc" stroke-width="1.6"/>
<path d="M384.8,148.4 Q382.1,153.0 380.5,157.1" stroke="#c8c8c8" stroke-width="1.9" stroke-linecap="round" fill="none"/>
<path d="M395.0,148.4 Q397.7,153.0 399.3,157.1" stroke="#c8c8c8" stroke-width="1.9" stroke-linecap="round" fill="none"/>
<path d="M389.90,107.00 C390.67,107.00 391.51,107.92 392.20,108.84 C392.89,109.76 393.38,110.99 394.04,112.52 C394.70,114.05 395.53,116.20 396.16,118.04 C396.78,119.88 397.40,121.57 397.81,123.56 C398.23,125.55 398.43,127.55 398.64,130.00 C398.85,132.45 399.02,135.67 399.10,138.28 C399.18,140.89 399.25,143.57 399.10,145.64 C398.95,147.71 398.95,149.47 398.18,150.70 C397.41,151.93 395.88,152.58 394.50,153.00 C393.12,153.42 391.43,153.23 389.90,153.23 C388.37,153.23 386.68,153.42 385.30,153.00 C383.92,152.58 382.39,151.93 381.62,150.70 C380.85,149.47 380.85,147.71 380.70,145.64 C380.55,143.57 380.62,140.89 380.70,138.28 C380.78,135.67 380.95,132.45 381.16,130.00 C381.37,127.55 381.57,125.55 381.99,123.56 C382.40,121.57 383.02,119.88 383.64,118.04 C384.27,116.20 385.10,114.05 385.76,112.52 C386.42,110.99 386.91,109.76 387.60,108.84 C388.29,107.92 389.13,107.00 389.90,107.00 Z" fill="url(#mg)" filter="url(#bl)"/>
<line x1="413.2" y1="151.0" x2="413.7" y2="162.8" stroke="#bcbcbc" stroke-width="1.6"/>
<path d="M408.1,148.4 Q405.4,153.0 403.8,157.1" stroke="#c8c8c8" stroke-width="1.9" stroke-linecap="round" fill="none"/>
<path d="M418.3,148.4 Q421.0,153.0 422.6,157.1" stroke="#c8c8c8" stroke-width="1.9" stroke-linecap="round" fill="none"/>
<path d="M413.20,107.00 C413.97,107.00 414.81,107.92 415.50,108.84 C416.19,109.76 416.68,110.99 417.34,112.52 C418.00,114.05 418.83,116.20 419.46,118.04 C420.08,119.88 420.70,121.57 421.11,123.56 C421.53,125.55 421.73,127.55 421.94,130.00 C422.15,132.45 422.32,135.67 422.40,138.28 C422.48,140.89 422.55,143.57 422.40,145.64 C422.25,147.71 422.25,149.47 421.48,150.70 C420.71,151.93 419.18,152.58 417.80,153.00 C416.42,153.42 414.73,153.23 413.20,153.23 C411.67,153.23 409.98,153.42 408.60,153.00 C407.22,152.58 405.69,151.93 404.92,150.70 C404.15,149.47 404.15,147.71 404.00,145.64 C403.85,143.57 403.92,140.89 404.00,138.28 C404.08,135.67 404.25,132.45 404.46,130.00 C404.67,127.55 404.87,125.55 405.29,123.56 C405.70,121.57 406.32,119.88 406.94,118.04 C407.57,116.20 408.40,114.05 409.06,112.52 C409.72,110.99 410.21,109.76 410.90,108.84 C411.59,107.92 412.43,107.00 413.20,107.00 Z" fill="url(#mg)" filter="url(#bl)"/>
<line x1="436.6" y1="151.0" x2="437.1" y2="162.8" stroke="#bcbcbc" stroke-width="1.6"/>
<path d="M431.5,148.4 Q428.8,153.0 427.2,157.1" stroke="#c8c8c8" stroke-width="1.9" stroke-linecap="round" fill="none"/>
<path d="M441.7,148.4 Q444.4,153.0 446.0,157.1" stroke="#c8c8c8" stroke-width="1.9" stroke-linecap="round" fill="none"/>
<path d="M436.60,107.00 C437.37,107.00 438.21,107.92 438.90,108.84 C439.59,109.76 440.08,110.99 440.74,112.52 C441.40,114.05 442.23,116.20 442.86,118.04 C443.48,119.88 444.10,121.57 444.51,123.56 C444.93,125.55 445.13,127.55 445.34,130.00 C445.55,132.45 445.72,135.67 445.80,138.28 C445.88,140.89 445.95,143.57 445.80,145.64 C445.65,147.71 445.65,149.47 444.88,150.70 C444.11,151.93 442.58,152.58 441.20,153.00 C439.82,153.42 438.13,153.23 436.60,153.23 C435.07,153.23 433.38,153.42 432.00,153.00 C430.62,152.58 429.09,151.93 428.32,150.70 C427.55,149.47 427.55,147.71 427.40,145.64 C427.25,143.57 427.32,140.89 427.40,138.28 C427.48,135.67 427.65,132.45 427.86,130.00 C428.07,127.55 428.27,125.55 428.69,123.56 C429.10,121.57 429.72,119.88 430.34,118.04 C430.97,116.20 431.80,114.05 432.46,112.52 C433.12,110.99 433.61,109.76 434.30,108.84 C434.99,107.92 435.83,107.00 436.60,107.00 Z" fill="url(#mg)" filter="url(#bl)"/>
<line x1="460.0" y1="151.0" x2="460.5" y2="162.8" stroke="#bcbcbc" stroke-width="1.6"/>
<path d="M454.9,148.4 Q452.2,153.0 450.6,157.1" stroke="#c8c8c8" stroke-width="1.9" stroke-linecap="round" fill="none"/>
<path d="M465.1,148.4 Q467.8,153.0 469.4,157.1" stroke="#c8c8c8" stroke-width="1.9" stroke-linecap="round" fill="none"/>
<path d="M460.00,107.00 C460.77,107.00 461.61,107.92 462.30,108.84 C462.99,109.76 463.48,110.99 464.14,112.52 C464.80,114.05 465.63,116.20 466.26,118.04 C466.88,119.88 467.50,121.57 467.91,123.56 C468.33,125.55 468.53,127.55 468.74,130.00 C468.95,132.45 469.12,135.67 469.20,138.28 C469.28,140.89 469.35,143.57 469.20,145.64 C469.05,147.71 469.05,149.47 468.28,150.70 C467.51,151.93 465.98,152.58 464.60,153.00 C463.22,153.42 461.53,153.23 460.00,153.23 C458.47,153.23 456.78,153.42 455.40,153.00 C454.02,152.58 452.49,151.93 451.72,150.70 C450.95,149.47 450.95,147.71 450.80,145.64 C450.65,143.57 450.72,140.89 450.80,138.28 C450.88,135.67 451.05,132.45 451.26,130.00 C451.47,127.55 451.67,125.55 452.09,123.56 C452.50,121.57 453.12,119.88 453.74,118.04 C454.37,116.20 455.20,114.05 455.86,112.52 C456.52,110.99 457.01,109.76 457.70,108.84 C458.39,107.92 459.23,107.00 460.00,107.00 Z" fill="url(#mg)" filter="url(#bl)"/>
<line x1="492.1" y1="151.0" x2="492.6" y2="162.8" stroke="#bcbcbc" stroke-width="1.6"/>
<path d="M487.0,148.4 Q484.3,153.0 482.7,157.1" stroke="#c8c8c8" stroke-width="1.9" stroke-linecap="round" fill="none"/>
<path d="M497.2,148.4 Q499.9,153.0 501.5,157.1" stroke="#c8c8c8" stroke-width="1.9" stroke-linecap="round" fill="none"/>
<path d="M492.10,107.00 C492.87,107.00 493.71,107.92 494.40,108.84 C495.09,109.76 495.58,110.99 496.24,112.52 C496.90,114.05 497.73,116.20 498.36,118.04 C498.98,119.88 499.60,121.57 500.01,123.56 C500.43,125.55 500.63,127.55 500.84,130.00 C501.05,132.45 501.22,135.67 501.30,138.28 C501.38,140.89 501.45,143.57 501.30,145.64 C501.15,147.71 501.15,149.47 500.38,150.70 C499.61,151.93 498.08,152.58 496.70,153.00 C495.32,153.42 493.63,153.23 492.10,153.23 C490.57,153.23 488.88,153.42 487.50,153.00 C486.12,152.58 484.59,151.93 483.82,150.70 C483.05,149.47 483.05,147.71 482.90,145.64 C482.75,143.57 482.82,140.89 482.90,138.28 C482.98,135.67 483.15,132.45 483.36,130.00 C483.57,127.55 483.77,125.55 484.19,123.56 C484.60,121.57 485.22,119.88 485.84,118.04 C486.47,116.20 487.30,114.05 487.96,112.52 C488.62,110.99 489.11,109.76 489.80,108.84 C490.49,107.92 491.33,107.00 492.10,107.00 Z" fill="url(#mg)" filter="url(#bl)"/>
<line x1="515.7" y1="151.0" x2="516.2" y2="162.8" stroke="#bcbcbc" stroke-width="1.6"/>
<path d="M510.6,148.4 Q507.9,153.0 506.3,157.1" stroke="#c8c8c8" stroke-width="1.9" stroke-linecap="round" fill="none"/>
<path d="M520.8,148.4 Q523.5,153.0 525.1,157.1" stroke="#c8c8c8" stroke-width="1.9" stroke-linecap="round" fill="none"/>
<path d="M515.70,107.00 C516.47,107.00 517.31,107.92 518.00,108.84 C518.69,109.76 519.18,110.99 519.84,112.52 C520.50,114.05 521.33,116.20 521.96,118.04 C522.58,119.88 523.20,121.57 523.61,123.56 C524.03,125.55 524.23,127.55 524.44,130.00 C524.65,132.45 524.82,135.67 524.90,138.28 C524.98,140.89 525.05,143.57 524.90,145.64 C524.75,147.71 524.75,149.47 523.98,150.70 C523.21,151.93 521.68,152.58 520.30,153.00 C518.92,153.42 517.23,153.23 515.70,153.23 C514.17,153.23 512.48,153.42 511.10,153.00 C509.72,152.58 508.19,151.93 507.42,150.70 C506.65,149.47 506.65,147.71 506.50,145.64 C506.35,143.57 506.42,140.89 506.50,138.28 C506.58,135.67 506.75,132.45 506.96,130.00 C507.17,127.55 507.37,125.55 507.79,123.56 C508.20,121.57 508.82,119.88 509.44,118.04 C510.07,116.20 510.90,114.05 511.56,112.52 C512.22,110.99 512.71,109.76 513.40,108.84 C514.09,107.92 514.93,107.00 515.70,107.00 Z" fill="url(#mg)" filter="url(#bl)"/>
<line x1="539.2" y1="151.0" x2="539.7" y2="162.8" stroke="#bcbcbc" stroke-width="1.6"/>
<path d="M534.1,148.4 Q531.4,153.0 529.8,157.1" stroke="#c8c8c8" stroke-width="1.9" stroke-linecap="round" fill="none"/>
<path d="M544.3,148.4 Q547.0,153.0 548.6,157.1" stroke="#c8c8c8" stroke-width="1.9" stroke-linecap="round" fill="none"/>
<path d="M539.20,107.00 C539.97,107.00 540.81,107.92 541.50,108.84 C542.19,109.76 542.68,110.99 543.34,112.52 C544.00,114.05 544.83,116.20 545.46,118.04 C546.08,119.88 546.70,121.57 547.11,123.56 C547.53,125.55 547.73,127.55 547.94,130.00 C548.15,132.45 548.32,135.67 548.40,138.28 C548.48,140.89 548.55,143.57 548.40,145.64 C548.25,147.71 548.25,149.47 547.48,150.70 C546.71,151.93 545.18,152.58 543.80,153.00 C542.42,153.42 540.73,153.23 539.20,153.23 C537.67,153.23 535.98,153.42 534.60,153.00 C533.22,152.58 531.69,151.93 530.92,150.70 C530.15,149.47 530.15,147.71 530.00,145.64 C529.85,143.57 529.92,140.89 530.00,138.28 C530.08,135.67 530.25,132.45 530.46,130.00 C530.67,127.55 530.87,125.55 531.29,123.56 C531.70,121.57 532.32,119.88 532.94,118.04 C533.57,116.20 534.40,114.05 535.06,112.52 C535.72,110.99 536.21,109.76 536.90,108.84 C537.59,107.92 538.43,107.00 539.20,107.00 Z" fill="url(#mg)" filter="url(#bl)"/>
<line x1="561.1" y1="151.0" x2="561.6" y2="162.8" stroke="#bcbcbc" stroke-width="1.6"/>
<path d="M556.0,148.4 Q553.3,153.0 551.7,157.1" stroke="#c8c8c8" stroke-width="1.9" stroke-linecap="round" fill="none"/>
<path d="M566.2,148.4 Q568.9,153.0 570.5,157.1" stroke="#c8c8c8" stroke-width="1.9" stroke-linecap="round" fill="none"/>
<path d="M561.10,107.00 C561.87,107.00 562.71,107.92 563.40,108.84 C564.09,109.76 564.58,110.99 565.24,112.52 C565.90,114.05 566.73,116.20 567.36,118.04 C567.98,119.88 568.60,121.57 569.01,123.56 C569.43,125.55 569.63,127.55 569.84,130.00 C570.05,132.45 570.22,135.67 570.30,138.28 C570.38,140.89 570.45,143.57 570.30,145.64 C570.15,147.71 570.15,149.47 569.38,150.70 C568.61,151.93 567.08,152.58 565.70,153.00 C564.32,153.42 562.63,153.23 561.10,153.23 C559.57,153.23 557.88,153.42 556.50,153.00 C555.12,152.58 553.59,151.93 552.82,150.70 C552.05,149.47 552.05,147.71 551.90,145.64 C551.75,143.57 551.82,140.89 551.90,138.28 C551.98,135.67 552.15,132.45 552.36,130.00 C552.57,127.55 552.77,125.55 553.19,123.56 C553.60,121.57 554.22,119.88 554.84,118.04 C555.47,116.20 556.30,114.05 556.96,112.52 C557.62,110.99 558.11,109.76 558.80,108.84 C559.49,107.92 560.33,107.00 561.10,107.00 Z" fill="url(#mg)" filter="url(#bl)"/>
<line x1="584.7" y1="151.0" x2="585.2" y2="162.8" stroke="#bcbcbc" stroke-width="1.6"/>
<path d="M579.6,148.4 Q576.9,153.0 575.3,157.1" stroke="#c8c8c8" stroke-width="1.9" stroke-linecap="round" fill="none"/>
<path d="M589.8,148.4 Q592.5,153.0 594.1,157.1" stroke="#c8c8c8" stroke-width="1.9" stroke-linecap="round" fill="none"/>
<path d="M584.70,107.00 C585.47,107.00 586.31,107.92 587.00,108.84 C587.69,109.76 588.18,110.99 588.84,112.52 C589.50,114.05 590.33,116.20 590.96,118.04 C591.58,119.88 592.20,121.57 592.61,123.56 C593.03,125.55 593.23,127.55 593.44,130.00 C593.65,132.45 593.82,135.67 593.90,138.28 C593.98,140.89 594.05,143.57 593.90,145.64 C593.75,147.71 593.75,149.47 592.98,150.70 C592.21,151.93 590.68,152.58 589.30,153.00 C587.92,153.42 586.23,153.23 584.70,153.23 C583.17,153.23 581.48,153.42 580.10,153.00 C578.72,152.58 577.19,151.93 576.42,150.70 C575.65,149.47 575.65,147.71 575.50,145.64 C575.35,143.57 575.42,140.89 575.50,138.28 C575.58,135.67 575.75,132.45 575.96,130.00 C576.17,127.55 576.37,125.55 576.79,123.56 C577.20,121.57 577.82,119.88 578.44,118.04 C579.07,116.20 579.90,114.05 580.56,112.52 C581.22,110.99 581.71,109.76 582.40,108.84 C583.09,107.92 583.93,107.00 584.70,107.00 Z" fill="url(#mg)" filter="url(#bl)"/>
<line x1="616.6" y1="151.0" x2="617.1" y2="162.8" stroke="#bcbcbc" stroke-width="1.6"/>
<path d="M611.5,148.4 Q608.8,153.0 607.2,157.1" stroke="#c8c8c8" stroke-width="1.9" stroke-linecap="round" fill="none"/>
<path d="M621.7,148.4 Q624.4,153.0 626.0,157.1" stroke="#c8c8c8" stroke-width="1.9" stroke-linecap="round" fill="none"/>
<path d="M616.60,107.00 C617.37,107.00 618.21,107.92 618.90,108.84 C619.59,109.76 620.08,110.99 620.74,112.52 C621.40,114.05 622.23,116.20 622.86,118.04 C623.48,119.88 624.10,121.57 624.51,123.56 C624.93,125.55 625.13,127.55 625.34,130.00 C625.55,132.45 625.72,135.67 625.80,138.28 C625.88,140.89 625.95,143.57 625.80,145.64 C625.65,147.71 625.65,149.47 624.88,150.70 C624.11,151.93 622.58,152.58 621.20,153.00 C619.82,153.42 618.13,153.23 616.60,153.23 C615.07,153.23 613.38,153.42 612.00,153.00 C610.62,152.58 609.09,151.93 608.32,150.70 C607.55,149.47 607.55,147.71 607.40,145.64 C607.25,143.57 607.32,140.89 607.40,138.28 C607.48,135.67 607.65,132.45 607.86,130.00 C608.07,127.55 608.27,125.55 608.69,123.56 C609.10,121.57 609.72,119.88 610.34,118.04 C610.97,116.20 611.80,114.05 612.46,112.52 C613.12,110.99 613.61,109.76 614.30,108.84 C614.99,107.92 615.83,107.00 616.60,107.00 Z" fill="url(#mg)" filter="url(#bl)"/>
<line x1="641.9" y1="151.0" x2="642.4" y2="162.8" stroke="#bcbcbc" stroke-width="1.6"/>
<path d="M636.8,148.4 Q634.1,153.0 632.5,157.1" stroke="#c8c8c8" stroke-width="1.9" stroke-linecap="round" fill="none"/>
<path d="M647.0,148.4 Q649.7,153.0 651.3,157.1" stroke="#c8c8c8" stroke-width="1.9" stroke-linecap="round" fill="none"/>
<path d="M641.90,107.00 C642.67,107.00 643.51,107.92 644.20,108.84 C644.89,109.76 645.38,110.99 646.04,112.52 C646.70,114.05 647.53,116.20 648.16,118.04 C648.78,119.88 649.40,121.57 649.81,123.56 C650.23,125.55 650.43,127.55 650.64,130.00 C650.85,132.45 651.02,135.67 651.10,138.28 C651.18,140.89 651.25,143.57 651.10,145.64 C650.95,147.71 650.95,149.47 650.18,150.70 C649.41,151.93 647.88,152.58 646.50,153.00 C645.12,153.42 643.43,153.23 641.90,153.23 C640.37,153.23 638.68,153.42 637.30,153.00 C635.92,152.58 634.39,151.93 633.62,150.70 C632.85,149.47 632.85,147.71 632.70,145.64 C632.55,143.57 632.62,140.89 632.70,138.28 C632.78,135.67 632.95,132.45 633.16,130.00 C633.37,127.55 633.57,125.55 633.99,123.56 C634.40,121.57 635.02,119.88 635.64,118.04 C636.27,116.20 637.10,114.05 637.76,112.52 C638.42,110.99 638.91,109.76 639.60,108.84 C640.29,107.92 641.13,107.00 641.90,107.00 Z" fill="url(#mg)" filter="url(#bl)"/>
<line x1="663.7" y1="151.0" x2="664.2" y2="162.8" stroke="#bcbcbc" stroke-width="1.6"/>
<path d="M658.6,148.4 Q655.9,153.0 654.3,157.1" stroke="#c8c8c8" stroke-width="1.9" stroke-linecap="round" fill="none"/>
<path d="M668.8,148.4 Q671.5,153.0 673.1,157.1" stroke="#c8c8c8" stroke-width="1.9" stroke-linecap="round" fill="none"/>
<path d="M663.70,107.00 C664.47,107.00 665.31,107.92 666.00,108.84 C666.69,109.76 667.18,110.99 667.84,112.52 C668.50,114.05 669.33,116.20 669.96,118.04 C670.58,119.88 671.20,121.57 671.61,123.56 C672.03,125.55 672.23,127.55 672.44,130.00 C672.65,132.45 672.82,135.67 672.90,138.28 C672.98,140.89 673.05,143.57 672.90,145.64 C672.75,147.71 672.75,149.47 671.98,150.70 C671.21,151.93 669.68,152.58 668.30,153.00 C666.92,153.42 665.23,153.23 663.70,153.23 C662.17,153.23 660.48,153.42 659.10,153.00 C657.72,152.58 656.19,151.93 655.42,150.70 C654.65,149.47 654.65,147.71 654.50,145.64 C654.35,143.57 654.42,140.89 654.50,138.28 C654.58,135.67 654.75,132.45 654.96,130.00 C655.17,127.55 655.37,125.55 655.79,123.56 C656.20,121.57 656.82,119.88 657.44,118.04 C658.07,116.20 658.90,114.05 659.56,112.52 C660.22,110.99 660.71,109.76 661.40,108.84 C662.09,107.92 662.93,107.00 663.70,107.00 Z" fill="url(#mg)" filter="url(#bl)"/>
<line x1="687.3" y1="151.0" x2="687.8" y2="162.8" stroke="#bcbcbc" stroke-width="1.6"/>
<path d="M682.2,148.4 Q679.5,153.0 677.9,157.1" stroke="#c8c8c8" stroke-width="1.9" stroke-linecap="round" fill="none"/>
<path d="M692.4,148.4 Q695.1,153.0 696.7,157.1" stroke="#c8c8c8" stroke-width="1.9" stroke-linecap="round" fill="none"/>
<path d="M687.30,107.00 C688.07,107.00 688.91,107.92 689.60,108.84 C690.29,109.76 690.78,110.99 691.44,112.52 C692.10,114.05 692.93,116.20 693.56,118.04 C694.18,119.88 694.80,121.57 695.21,123.56 C695.63,125.55 695.83,127.55 696.04,130.00 C696.25,132.45 696.42,135.67 696.50,138.28 C696.58,140.89 696.65,143.57 696.50,145.64 C696.35,147.71 696.35,149.47 695.58,150.70 C694.81,151.93 693.28,152.58 691.90,153.00 C690.52,153.42 688.83,153.23 687.30,153.23 C685.77,153.23 684.08,153.42 682.70,153.00 C681.32,152.58 679.79,151.93 679.02,150.70 C678.25,149.47 678.25,147.71 678.10,145.64 C677.95,143.57 678.02,140.89 678.10,138.28 C678.18,135.67 678.35,132.45 678.56,130.00 C678.77,127.55 678.97,125.55 679.39,123.56 C679.80,121.57 680.42,119.88 681.04,118.04 C681.67,116.20 682.50,114.05 683.16,112.52 C683.82,110.99 684.31,109.76 685.00,108.84 C685.69,107.92 686.53,107.00 687.30,107.00 Z" fill="url(#mg)" filter="url(#bl)"/>
<line x1="710.9" y1="151.0" x2="711.4" y2="162.8" stroke="#bcbcbc" stroke-width="1.6"/>
<path d="M705.8,148.4 Q703.1,153.0 701.5,157.1" stroke="#c8c8c8" stroke-width="1.9" stroke-linecap="round" fill="none"/>
<path d="M716.0,148.4 Q718.7,153.0 720.3,157.1" stroke="#c8c8c8" stroke-width="1.9" stroke-linecap="round" fill="none"/>
<path d="M710.90,107.00 C711.67,107.00 712.51,107.92 713.20,108.84 C713.89,109.76 714.38,110.99 715.04,112.52 C715.70,114.05 716.53,116.20 717.16,118.04 C717.78,119.88 718.40,121.57 718.81,123.56 C719.23,125.55 719.43,127.55 719.64,130.00 C719.85,132.45 720.02,135.67 720.10,138.28 C720.18,140.89 720.25,143.57 720.10,145.64 C719.95,147.71 719.95,149.47 719.18,150.70 C718.41,151.93 716.88,152.58 715.50,153.00 C714.12,153.42 712.43,153.23 710.90,153.23 C709.37,153.23 707.68,153.42 706.30,153.00 C704.92,152.58 703.39,151.93 702.62,150.70 C701.85,149.47 701.85,147.71 701.70,145.64 C701.55,143.57 701.62,140.89 701.70,138.28 C701.78,135.67 701.95,132.45 702.16,130.00 C702.37,127.55 702.57,125.55 702.99,123.56 C703.40,121.57 704.02,119.88 704.64,118.04 C705.27,116.20 706.10,114.05 706.76,112.52 C707.42,110.99 707.91,109.76 708.60,108.84 C709.29,107.92 710.13,107.00 710.90,107.00 Z" fill="url(#mg)" filter="url(#bl)"/>
<line x1="143.0" y1="213.8" x2="143.5" y2="225.8" stroke="#bcbcbc" stroke-width="1.6"/>
<path d="M137.5,211.2 Q134.5,215.8 132.8,219.9" stroke="#c8c8c8" stroke-width="1.9" stroke-linecap="round" fill="none"/>
<path d="M148.5,211.2 Q151.5,215.8 153.2,219.9" stroke="#c8c8c8" stroke-width="1.9" stroke-linecap="round" fill="none"/>
<path d="M143.00,169.80 C143.83,169.80 144.75,170.72 145.50,171.64 C146.25,172.56 146.78,173.79 147.50,175.32 C148.22,176.85 149.12,179.00 149.80,180.84 C150.48,182.68 151.15,184.37 151.60,186.36 C152.05,188.35 152.27,190.35 152.50,192.80 C152.73,195.25 152.92,198.47 153.00,201.08 C153.08,203.69 153.17,206.37 153.00,208.44 C152.83,210.51 152.83,212.27 152.00,213.50 C151.17,214.73 149.50,215.38 148.00,215.80 C146.50,216.22 144.67,216.03 143.00,216.03 C141.33,216.03 139.50,216.22 138.00,215.80 C136.50,215.38 134.83,214.73 134.00,213.50 C133.17,212.27 133.17,210.51 133.00,208.44 C132.83,206.37 132.92,203.69 133.00,201.08 C133.08,198.47 133.27,195.25 133.50,192.80 C133.73,190.35 133.95,188.35 134.40,186.36 C134.85,184.37 135.52,182.68 136.20,180.84 C136.88,179.00 137.78,176.85 138.50,175.32 C139.22,173.79 139.75,172.56 140.50,171.64 C141.25,170.72 142.17,169.80 143.00,169.80 Z" fill="url(#mg)" filter="url(#bl)"/>
<line x1="165.2" y1="213.8" x2="165.7" y2="225.8" stroke="#bcbcbc" stroke-width="1.6"/>
<path d="M159.7,211.2 Q156.7,215.8 155.0,219.9" stroke="#c8c8c8" stroke-width="1.9" stroke-linecap="round" fill="none"/>
<path d="M170.7,211.2 Q173.7,215.8 175.4,219.9" stroke="#c8c8c8" stroke-width="1.9" stroke-linecap="round" fill="none"/>
<path d="M165.20,169.80 C166.03,169.80 166.95,170.72 167.70,171.64 C168.45,172.56 168.98,173.79 169.70,175.32 C170.42,176.85 171.32,179.00 172.00,180.84 C172.68,182.68 173.35,184.37 173.80,186.36 C174.25,188.35 174.47,190.35 174.70,192.80 C174.93,195.25 175.12,198.47 175.20,201.08 C175.28,203.69 175.37,206.37 175.20,208.44 C175.03,210.51 175.03,212.27 174.20,213.50 C173.37,214.73 171.70,215.38 170.20,215.80 C168.70,216.22 166.87,216.03 165.20,216.03 C163.53,216.03 161.70,216.22 160.20,215.80 C158.70,215.38 157.03,214.73 156.20,213.50 C155.37,212.27 155.37,210.51 155.20,208.44 C155.03,206.37 155.12,203.69 155.20,201.08 C155.28,198.47 155.47,195.25 155.70,192.80 C155.93,190.35 156.15,188.35 156.60,186.36 C157.05,184.37 157.72,182.68 158.40,180.84 C159.08,179.00 159.98,176.85 160.70,175.32 C161.42,173.79 161.95,172.56 162.70,171.64 C163.45,170.72 164.37,169.80 165.20,169.80 Z" fill="url(#mg)" filter="url(#bl)"/>
<line x1="187.5" y1="213.8" x2="188.0" y2="225.8" stroke="#bcbcbc" stroke-width="1.6"/>
<path d="M182.0,211.2 Q179.0,215.8 177.3,219.9" stroke="#c8c8c8" stroke-width="1.9" stroke-linecap="round" fill="none"/>
<path d="M193.0,211.2 Q196.0,215.8 197.7,219.9" stroke="#c8c8c8" stroke-width="1.9" stroke-linecap="round" fill="none"/>
<path d="M187.50,169.80 C188.33,169.80 189.25,170.72 190.00,171.64 C190.75,172.56 191.28,173.79 192.00,175.32 C192.72,176.85 193.62,179.00 194.30,180.84 C194.98,182.68 195.65,184.37 196.10,186.36 C196.55,188.35 196.77,190.35 197.00,192.80 C197.23,195.25 197.42,198.47 197.50,201.08 C197.58,203.69 197.67,206.37 197.50,208.44 C197.33,210.51 197.33,212.27 196.50,213.50 C195.67,214.73 194.00,215.38 192.50,215.80 C191.00,216.22 189.17,216.03 187.50,216.03 C185.83,216.03 184.00,216.22 182.50,215.80 C181.00,215.38 179.33,214.73 178.50,213.50 C177.67,212.27 177.67,210.51 177.50,208.44 C177.33,206.37 177.42,203.69 177.50,201.08 C177.58,198.47 177.77,195.25 178.00,192.80 C178.23,190.35 178.45,188.35 178.90,186.36 C179.35,184.37 180.02,182.68 180.70,180.84 C181.38,179.00 182.28,176.85 183.00,175.32 C183.72,173.79 184.25,172.56 185.00,171.64 C185.75,170.72 186.67,169.80 187.50,169.80 Z" fill="url(#mg)" filter="url(#bl)"/>
<line x1="209.7" y1="213.8" x2="210.2" y2="225.8" stroke="#bcbcbc" stroke-width="1.6"/>
<path d="M204.2,211.2 Q201.2,215.8 199.5,219.9" stroke="#c8c8c8" stroke-width="1.9" stroke-linecap="round" fill="none"/>
<path d="M215.2,211.2 Q218.2,215.8 219.9,219.9" stroke="#c8c8c8" stroke-width="1.9" stroke-linecap="round" fill="none"/>
<path d="M209.70,169.80 C210.53,169.80 211.45,170.72 212.20,171.64 C212.95,172.56 213.48,173.79 214.20,175.32 C214.92,176.85 215.82,179.00 216.50,180.84 C217.18,182.68 217.85,184.37 218.30,186.36 C218.75,188.35 218.97,190.35 219.20,192.80 C219.43,195.25 219.62,198.47 219.70,201.08 C219.78,203.69 219.87,206.37 219.70,208.44 C219.53,210.51 219.53,212.27 218.70,213.50 C217.87,214.73 216.20,215.38 214.70,215.80 C213.20,216.22 211.37,216.03 209.70,216.03 C208.03,216.03 206.20,216.22 204.70,215.80 C203.20,215.38 201.53,214.73 200.70,213.50 C199.87,212.27 199.87,210.51 199.70,208.44 C199.53,206.37 199.62,203.69 199.70,201.08 C199.78,198.47 199.97,195.25 200.20,192.80 C200.43,190.35 200.65,188.35 201.10,186.36 C201.55,184.37 202.22,182.68 202.90,180.84 C203.58,179.00 204.48,176.85 205.20,175.32 C205.92,173.79 206.45,172.56 207.20,171.64 C207.95,170.72 208.87,169.80 209.70,169.80 Z" fill="url(#mg)" filter="url(#bl)"/>
<line x1="243.0" y1="213.8" x2="243.5" y2="225.8" stroke="#bcbcbc" stroke-width="1.6"/>
<path d="M237.9,211.2 Q235.2,215.8 233.6,219.9" stroke="#c8c8c8" stroke-width="1.9" stroke-linecap="round" fill="none"/>
<path d="M248.1,211.2 Q250.8,215.8 252.4,219.9" stroke="#c8c8c8" stroke-width="1.9" stroke-linecap="round" fill="none"/>
<path d="M243.00,169.80 C243.77,169.80 244.61,170.72 245.30,171.64 C245.99,172.56 246.48,173.79 247.14,175.32 C247.80,176.85 248.63,179.00 249.26,180.84 C249.88,182.68 250.50,184.37 250.91,186.36 C251.33,188.35 251.53,190.35 251.74,192.80 C251.95,195.25 252.12,198.47 252.20,201.08 C252.28,203.69 252.35,206.37 252.20,208.44 C252.05,210.51 252.05,212.27 251.28,213.50 C250.51,214.73 248.98,215.38 247.60,215.80 C246.22,216.22 244.53,216.03 243.00,216.03 C241.47,216.03 239.78,216.22 238.40,215.80 C237.02,215.38 235.49,214.73 234.72,213.50 C233.95,212.27 233.95,210.51 233.80,208.44 C233.65,206.37 233.72,203.69 233.80,201.08 C233.88,198.47 234.05,195.25 234.26,192.80 C234.47,190.35 234.67,188.35 235.09,186.36 C235.50,184.37 236.12,182.68 236.74,180.84 C237.37,179.00 238.20,176.85 238.86,175.32 C239.52,173.79 240.01,172.56 240.70,171.64 C241.39,170.72 242.23,169.80 243.00,169.80 Z" fill="url(#mg)" filter="url(#bl)"/>
<line x1="266.4" y1="213.8" x2="266.9" y2="225.8" stroke="#bcbcbc" stroke-width="1.6"/>
<path d="M261.3,211.2 Q258.6,215.8 257.0,219.9" stroke="#c8c8c8" stroke-width="1.9" stroke-linecap="round" fill="none"/>
<path d="M271.5,211.2 Q274.2,215.8 275.8,219.9" stroke="#c8c8c8" stroke-width="1.9" stroke-linecap="round" fill="none"/>
<path d="M266.40,169.80 C267.17,169.80 268.01,170.72 268.70,171.64 C269.39,172.56 269.88,173.79 270.54,175.32 C271.20,176.85 272.03,179.00 272.66,180.84 C273.28,182.68 273.90,184.37 274.31,186.36 C274.73,188.35 274.93,190.35 275.14,192.80 C275.35,195.25 275.52,198.47 275.60,201.08 C275.68,203.69 275.75,206.37 275.60,208.44 C275.45,210.51 275.45,212.27 274.68,213.50 C273.91,214.73 272.38,215.38 271.00,215.80 C269.62,216.22 267.93,216.03 266.40,216.03 C264.87,216.03 263.18,216.22 261.80,215.80 C260.42,215.38 258.89,214.73 258.12,213.50 C257.35,212.27 257.35,210.51 257.20,208.44 C257.05,206.37 257.12,203.69 257.20,201.08 C257.28,198.47 257.45,195.25 257.66,192.80 C257.87,190.35 258.07,188.35 258.49,186.36 C258.90,184.37 259.52,182.68 260.14,180.84 C260.77,179.00 261.60,176.85 262.26,175.32 C262.92,173.79 263.41,172.56 264.10,171.64 C264.79,170.72 265.63,169.80 266.40,169.80 Z" fill="url(#mg)" filter="url(#bl)"/>
<line x1="289.7" y1="213.8" x2="290.2" y2="225.8" stroke="#bcbcbc" stroke-width="1.6"/>
<path d="M284.6,211.2 Q281.9,215.8 280.3,219.9" stroke="#c8c8c8" stroke-width="1.9" stroke-linecap="round" fill="none"/>
<path d="M294.8,211.2 Q297.5,215.8 299.1,219.9" stroke="#c8c8c8" stroke-width="1.9" stroke-linecap="round" fill="none"/>
<path d="M289.70,169.80 C290.47,169.80 291.31,170.72 292.00,171.64 C292.69,172.56 293.18,173.79 293.84,175.32 C294.50,176.85 295.33,179.00 295.96,180.84 C296.58,182.68 297.20,184.37 297.61,186.36 C298.03,188.35 298.23,190.35 298.44,192.80 C298.65,195.25 298.82,198.47 298.90,201.08 C298.98,203.69 299.05,206.37 298.90,208.44 C298.75,210.51 298.75,212.27 297.98,213.50 C297.21,214.73 295.68,215.38 294.30,215.80 C292.92,216.22 291.23,216.03 289.70,216.03 C288.17,216.03 286.48,216.22 285.10,215.80 C283.72,215.38 282.19,214.73 281.42,213.50 C280.65,212.27 280.65,210.51 280.50,208.44 C280.35,206.37 280.42,203.69 280.50,201.08 C280.58,198.47 280.75,195.25 280.96,192.80 C281.17,190.35 281.37,188.35 281.79,186.36 C282.20,184.37 282.82,182.68 283.44,180.84 C284.07,179.00 284.90,176.85 285.56,175.32 C286.22,173.79 286.71,172.56 287.40,171.64 C288.09,170.72 288.93,169.80 289.70,169.80 Z" fill="url(#mg)" filter="url(#bl)"/>
<line x1="313.1" y1="213.8" x2="313.6" y2="225.8" stroke="#bcbcbc" stroke-width="1.6"/>
<path d="M308.0,211.2 Q305.3,215.8 303.7,219.9" stroke="#c8c8c8" stroke-width="1.9" stroke-linecap="round" fill="none"/>
<path d="M318.2,211.2 Q320.9,215.8 322.5,219.9" stroke="#c8c8c8" stroke-width="1.9" stroke-linecap="round" fill="none"/>
<path d="M313.10,169.80 C313.87,169.80 314.71,170.72 315.40,171.64 C316.09,172.56 316.58,173.79 317.24,175.32 C317.90,176.85 318.73,179.00 319.36,180.84 C319.98,182.68 320.60,184.37 321.01,186.36 C321.43,188.35 321.63,190.35 321.84,192.80 C322.05,195.25 322.22,198.47 322.30,201.08 C322.38,203.69 322.45,206.37 322.30,208.44 C322.15,210.51 322.15,212.27 321.38,213.50 C320.61,214.73 319.08,215.38 317.70,215.80 C316.32,216.22 314.63,216.03 313.10,216.03 C311.57,216.03 309.88,216.22 308.50,215.80 C307.12,215.38 305.59,214.73 304.82,213.50 C304.05,212.27 304.05,210.51 303.90,208.44 C303.75,206.37 303.82,203.69 303.90,201.08 C303.98,198.47 304.15,195.25 304.36,192.80 C304.57,190.35 304.77,188.35 305.19,186.36 C305.60,184.37 306.22,182.68 306.84,180.84 C307.47,179.00 308.30,176.85 308.96,175.32 C309.62,173.79 310.11,172.56 310.80,171.64 C311.49,170.72 312.33,169.80 313.10,169.80 Z" fill="url(#mg)" filter="url(#bl)"/>
<line x1="334.8" y1="213.8" x2="335.3" y2="225.8" stroke="#bcbcbc" stroke-width="1.6"/>
<path d="M329.7,211.2 Q327.0,215.8 325.4,219.9" stroke="#c8c8c8" stroke-width="1.9" stroke-linecap="round" fill="none"/>
<path d="M339.9,211.2 Q342.6,215.8 344.2,219.9" stroke="#c8c8c8" stroke-width="1.9" stroke-linecap="round" fill="none"/>
<path d="M334.80,169.80 C335.57,169.80 336.41,170.72 337.10,171.64 C337.79,172.56 338.28,173.79 338.94,175.32 C339.60,176.85 340.43,179.00 341.06,180.84 C341.68,182.68 342.30,184.37 342.71,186.36 C343.13,188.35 343.33,190.35 343.54,192.80 C343.75,195.25 343.92,198.47 344.00,201.08 C344.08,203.69 344.15,206.37 344.00,208.44 C343.85,210.51 343.85,212.27 343.08,213.50 C342.31,214.73 340.78,215.38 339.40,215.80 C338.02,216.22 336.33,216.03 334.80,216.03 C333.27,216.03 331.58,216.22 330.20,215.80 C328.82,215.38 327.29,214.73 326.52,213.50 C325.75,212.27 325.75,210.51 325.60,208.44 C325.45,206.37 325.52,203.69 325.60,201.08 C325.68,198.47 325.85,195.25 326.06,192.80 C326.27,190.35 326.47,188.35 326.89,186.36 C327.30,184.37 327.92,182.68 328.54,180.84 C329.17,179.00 330.00,176.85 330.66,175.32 C331.32,173.79 331.81,172.56 332.50,171.64 C333.19,170.72 334.03,169.80 334.80,169.80 Z" fill="url(#mg)" filter="url(#bl)"/>
<line x1="364.8" y1="213.8" x2="365.3" y2="225.8" stroke="#bcbcbc" stroke-width="1.6"/>
<path d="M359.7,211.2 Q357.0,215.8 355.4,219.9" stroke="#c8c8c8" stroke-width="1.9" stroke-linecap="round" fill="none"/>
<path d="M369.9,211.2 Q372.6,215.8 374.2,219.9" stroke="#c8c8c8" stroke-width="1.9" stroke-linecap="round" fill="none"/>
<path d="M364.80,169.80 C365.57,169.80 366.41,170.72 367.10,171.64 C367.79,172.56 368.28,173.79 368.94,175.32 C369.60,176.85 370.43,179.00 371.06,180.84 C371.68,182.68 372.30,184.37 372.71,186.36 C373.13,188.35 373.33,190.35 373.54,192.80 C373.75,195.25 373.92,198.47 374.00,201.08 C374.08,203.69 374.15,206.37 374.00,208.44 C373.85,210.51 373.85,212.27 373.08,213.50 C372.31,214.73 370.78,215.38 369.40,215.80 C368.02,216.22 366.33,216.03 364.80,216.03 C363.27,216.03 361.58,216.22 360.20,215.80 C358.82,215.38 357.29,214.73 356.52,213.50 C355.75,212.27 355.75,210.51 355.60,208.44 C355.45,206.37 355.52,203.69 355.60,201.08 C355.68,198.47 355.85,195.25 356.06,192.80 C356.27,190.35 356.47,188.35 356.89,186.36 C357.30,184.37 357.92,182.68 358.54,180.84 C359.17,179.00 360.00,176.85 360.66,175.32 C361.32,173.79 361.81,172.56 362.50,171.64 C363.19,170.72 364.03,169.80 364.80,169.80 Z" fill="url(#mg)" filter="url(#bl)"/>
<line x1="391.5" y1="213.8" x2="392.0" y2="225.8" stroke="#bcbcbc" stroke-width="1.6"/>
<path d="M386.4,211.2 Q383.7,215.8 382.1,219.9" stroke="#c8c8c8" stroke-width="1.9" stroke-linecap="round" fill="none"/>
<path d="M396.6,211.2 Q399.3,215.8 400.9,219.9" stroke="#c8c8c8" stroke-width="1.9" stroke-linecap="round" fill="none"/>
<path d="M391.50,169.80 C392.27,169.80 393.11,170.72 393.80,171.64 C394.49,172.56 394.98,173.79 395.64,175.32 C396.30,176.85 397.13,179.00 397.76,180.84 C398.38,182.68 399.00,184.37 399.41,186.36 C399.83,188.35 400.03,190.35 400.24,192.80 C400.45,195.25 400.62,198.47 400.70,201.08 C400.78,203.69 400.85,206.37 400.70,208.44 C400.55,210.51 400.55,212.27 399.78,213.50 C399.01,214.73 397.48,215.38 396.10,215.80 C394.72,216.22 393.03,216.03 391.50,216.03 C389.97,216.03 388.28,216.22 386.90,215.80 C385.52,215.38 383.99,214.73 383.22,213.50 C382.45,212.27 382.45,210.51 382.30,208.44 C382.15,206.37 382.22,203.69 382.30,201.08 C382.38,198.47 382.55,195.25 382.76,192.80 C382.97,190.35 383.17,188.35 383.59,186.36 C384.00,184.37 384.62,182.68 385.24,180.84 C385.87,179.00 386.70,176.85 387.36,175.32 C388.02,173.79 388.51,172.56 389.20,171.64 C389.89,170.72 390.73,169.80 391.50,169.80 Z" fill="url(#mg)" filter="url(#bl)"/>
<line x1="413.2" y1="213.8" x2="413.7" y2="225.8" stroke="#bcbcbc" stroke-width="1.6"/>
<path d="M408.1,211.2 Q405.4,215.8 403.8,219.9" stroke="#c8c8c8" stroke-width="1.9" stroke-linecap="round" fill="none"/>
<path d="M418.3,211.2 Q421.0,215.8 422.6,219.9" stroke="#c8c8c8" stroke-width="1.9" stroke-linecap="round" fill="none"/>
<path d="M413.20,169.80 C413.97,169.80 414.81,170.72 415.50,171.64 C416.19,172.56 416.68,173.79 417.34,175.32 C418.00,176.85 418.83,179.00 419.46,180.84 C420.08,182.68 420.70,184.37 421.11,186.36 C421.53,188.35 421.73,190.35 421.94,192.80 C422.15,195.25 422.32,198.47 422.40,201.08 C422.48,203.69 422.55,206.37 422.40,208.44 C422.25,210.51 422.25,212.27 421.48,213.50 C420.71,214.73 419.18,215.38 417.80,215.80 C416.42,216.22 414.73,216.03 413.20,216.03 C411.67,216.03 409.98,216.22 408.60,215.80 C407.22,215.38 405.69,214.73 404.92,213.50 C404.15,212.27 404.15,210.51 404.00,208.44 C403.85,206.37 403.92,203.69 404.00,201.08 C404.08,198.47 404.25,195.25 404.46,192.80 C404.67,190.35 404.87,188.35 405.29,186.36 C405.70,184.37 406.32,182.68 406.94,180.84 C407.57,179.00 408.40,176.85 409.06,175.32 C409.72,173.79 410.21,172.56 410.90,171.64 C411.59,170.72 412.43,169.80 413.20,169.80 Z" fill="url(#mg)" filter="url(#bl)"/>
<line x1="436.6" y1="213.8" x2="437.1" y2="225.8" stroke="#bcbcbc" stroke-width="1.6"/>
<path d="M431.5,211.2 Q428.8,215.8 427.2,219.9" stroke="#c8c8c8" stroke-width="1.9" stroke-linecap="round" fill="none"/>
<path d="M441.7,211.2 Q444.4,215.8 446.0,219.9" stroke="#c8c8c8" stroke-width="1.9" stroke-linecap="round" fill="none"/>
<path d="M436.60,169.80 C437.37,169.80 438.21,170.72 438.90,171.64 C439.59,172.56 440.08,173.79 440.74,175.32 C441.40,176.85 442.23,179.00 442.86,180.84 C443.48,182.68 444.10,184.37 444.51,186.36 C444.93,188.35 445.13,190.35 445.34,192.80 C445.55,195.25 445.72,198.47 445.80,201.08 C445.88,203.69 445.95,206.37 445.80,208.44 C445.65,210.51 445.65,212.27 444.88,213.50 C444.11,214.73 442.58,215.38 441.20,215.80 C439.82,216.22 438.13,216.03 436.60,216.03 C435.07,216.03 433.38,216.22 432.00,215.80 C430.62,215.38 429.09,214.73 428.32,213.50 C427.55,212.27 427.55,210.51 427.40,208.44 C427.25,206.37 427.32,203.69 427.40,201.08 C427.48,198.47 427.65,195.25 427.86,192.80 C428.07,190.35 428.27,188.35 428.69,186.36 C429.10,184.37 429.72,182.68 430.34,180.84 C430.97,179.00 431.80,176.85 432.46,175.32 C433.12,173.79 433.61,172.56 434.30,171.64 C434.99,170.72 435.83,169.80 436.60,169.80 Z" fill="url(#mg)" filter="url(#bl)"/>
<line x1="460.0" y1="213.8" x2="460.5" y2="225.8" stroke="#bcbcbc" stroke-width="1.6"/>
<path d="M454.9,211.2 Q452.2,215.8 450.6,219.9" stroke="#c8c8c8" stroke-width="1.9" stroke-linecap="round" fill="none"/>
<path d="M465.1,211.2 Q467.8,215.8 469.4,219.9" stroke="#c8c8c8" stroke-width="1.9" stroke-linecap="round" fill="none"/>
<path d="M460.00,169.80 C460.77,169.80 461.61,170.72 462.30,171.64 C462.99,172.56 463.48,173.79 464.14,175.32 C464.80,176.85 465.63,179.00 466.26,180.84 C466.88,182.68 467.50,184.37 467.91,186.36 C468.33,188.35 468.53,190.35 468.74,192.80 C468.95,195.25 469.12,198.47 469.20,201.08 C469.28,203.69 469.35,206.37 469.20,208.44 C469.05,210.51 469.05,212.27 468.28,213.50 C467.51,214.73 465.98,215.38 464.60,215.80 C463.22,216.22 461.53,216.03 460.00,216.03 C458.47,216.03 456.78,216.22 455.40,215.80 C454.02,215.38 452.49,214.73 451.72,213.50 C450.95,212.27 450.95,210.51 450.80,208.44 C450.65,206.37 450.72,203.69 450.80,201.08 C450.88,198.47 451.05,195.25 451.26,192.80 C451.47,190.35 451.67,188.35 452.09,186.36 C452.50,184.37 453.12,182.68 453.74,180.84 C454.37,179.00 455.20,176.85 455.86,175.32 C456.52,173.79 457.01,172.56 457.70,171.64 C458.39,170.72 459.23,169.80 460.00,169.80 Z" fill="url(#mg)" filter="url(#bl)"/>
<line x1="495.5" y1="213.8" x2="496.0" y2="225.8" stroke="#bcbcbc" stroke-width="1.6"/>
<path d="M490.4,211.2 Q487.7,215.8 486.1,219.9" stroke="#c8c8c8" stroke-width="1.9" stroke-linecap="round" fill="none"/>
<path d="M500.6,211.2 Q503.3,215.8 504.9,219.9" stroke="#c8c8c8" stroke-width="1.9" stroke-linecap="round" fill="none"/>
<path d="M495.50,169.80 C496.27,169.80 497.11,170.72 497.80,171.64 C498.49,172.56 498.98,173.79 499.64,175.32 C500.30,176.85 501.13,179.00 501.76,180.84 C502.38,182.68 503.00,184.37 503.41,186.36 C503.83,188.35 504.03,190.35 504.24,192.80 C504.45,195.25 504.62,198.47 504.70,201.08 C504.78,203.69 504.85,206.37 504.70,208.44 C504.55,210.51 504.55,212.27 503.78,213.50 C503.01,214.73 501.48,215.38 500.10,215.80 C498.72,216.22 497.03,216.03 495.50,216.03 C493.97,216.03 492.28,216.22 490.90,215.80 C489.52,215.38 487.99,214.73 487.22,213.50 C486.45,212.27 486.45,210.51 486.30,208.44 C486.15,206.37 486.22,203.69 486.30,201.08 C486.38,198.47 486.55,195.25 486.76,192.80 C486.97,190.35 487.17,188.35 487.59,186.36 C488.00,184.37 488.62,182.68 489.24,180.84 C489.87,179.00 490.70,176.85 491.36,175.32 C492.02,173.79 492.51,172.56 493.20,171.64 C493.89,170.72 494.73,169.80 495.50,169.80 Z" fill="url(#mg)" filter="url(#bl)"/>
<line x1="519.0" y1="213.8" x2="519.5" y2="225.8" stroke="#bcbcbc" stroke-width="1.6"/>
<path d="M513.9,211.2 Q511.2,215.8 509.6,219.9" stroke="#c8c8c8" stroke-width="1.9" stroke-linecap="round" fill="none"/>
<path d="M524.1,211.2 Q526.8,215.8 528.4,219.9" stroke="#c8c8c8" stroke-width="1.9" stroke-linecap="round" fill="none"/>
<path d="M519.00,169.80 C519.77,169.80 520.61,170.72 521.30,171.64 C521.99,172.56 522.48,173.79 523.14,175.32 C523.80,176.85 524.63,179.00 525.26,180.84 C525.88,182.68 526.50,184.37 526.91,186.36 C527.33,188.35 527.53,190.35 527.74,192.80 C527.95,195.25 528.12,198.47 528.20,201.08 C528.28,203.69 528.35,206.37 528.20,208.44 C528.05,210.51 528.05,212.27 527.28,213.50 C526.51,214.73 524.98,215.38 523.60,215.80 C522.22,216.22 520.53,216.03 519.00,216.03 C517.47,216.03 515.78,216.22 514.40,215.80 C513.02,215.38 511.49,214.73 510.72,213.50 C509.95,212.27 509.95,210.51 509.80,208.44 C509.65,206.37 509.72,203.69 509.80,201.08 C509.88,198.47 510.05,195.25 510.26,192.80 C510.47,190.35 510.67,188.35 511.09,186.36 C511.50,184.37 512.12,182.68 512.74,180.84 C513.37,179.00 514.20,176.85 514.86,175.32 C515.52,173.79 516.01,172.56 516.70,171.64 C517.39,170.72 518.23,169.80 519.00,169.80 Z" fill="url(#mg)" filter="url(#bl)"/>
<line x1="540.9" y1="213.8" x2="541.4" y2="225.8" stroke="#bcbcbc" stroke-width="1.6"/>
<path d="M535.8,211.2 Q533.1,215.8 531.5,219.9" stroke="#c8c8c8" stroke-width="1.9" stroke-linecap="round" fill="none"/>
<path d="M546.0,211.2 Q548.7,215.8 550.3,219.9" stroke="#c8c8c8" stroke-width="1.9" stroke-linecap="round" fill="none"/>
<path d="M540.90,169.80 C541.67,169.80 542.51,170.72 543.20,171.64 C543.89,172.56 544.38,173.79 545.04,175.32 C545.70,176.85 546.53,179.00 547.16,180.84 C547.78,182.68 548.40,184.37 548.81,186.36 C549.23,188.35 549.43,190.35 549.64,192.80 C549.85,195.25 550.02,198.47 550.10,201.08 C550.18,203.69 550.25,206.37 550.10,208.44 C549.95,210.51 549.95,212.27 549.18,213.50 C548.41,214.73 546.88,215.38 545.50,215.80 C544.12,216.22 542.43,216.03 540.90,216.03 C539.37,216.03 537.68,216.22 536.30,215.80 C534.92,215.38 533.39,214.73 532.62,213.50 C531.85,212.27 531.85,210.51 531.70,208.44 C531.55,206.37 531.62,203.69 531.70,201.08 C531.78,198.47 531.95,195.25 532.16,192.80 C532.37,190.35 532.57,188.35 532.99,186.36 C533.40,184.37 534.02,182.68 534.64,180.84 C535.27,179.00 536.10,176.85 536.76,175.32 C537.42,173.79 537.91,172.56 538.60,171.64 C539.29,170.72 540.13,169.80 540.90,169.80 Z" fill="url(#mg)" filter="url(#bl)"/>
<line x1="565.2" y1="213.8" x2="565.7" y2="225.8" stroke="#bcbcbc" stroke-width="1.6"/>
<path d="M560.1,211.2 Q557.4,215.8 555.8,219.9" stroke="#c8c8c8" stroke-width="1.9" stroke-linecap="round" fill="none"/>
<path d="M570.3,211.2 Q573.0,215.8 574.6,219.9" stroke="#c8c8c8" stroke-width="1.9" stroke-linecap="round" fill="none"/>
<path d="M565.20,169.80 C565.97,169.80 566.81,170.72 567.50,171.64 C568.19,172.56 568.68,173.79 569.34,175.32 C570.00,176.85 570.83,179.00 571.46,180.84 C572.08,182.68 572.70,184.37 573.11,186.36 C573.53,188.35 573.73,190.35 573.94,192.80 C574.15,195.25 574.32,198.47 574.40,201.08 C574.48,203.69 574.55,206.37 574.40,208.44 C574.25,210.51 574.25,212.27 573.48,213.50 C572.71,214.73 571.18,215.38 569.80,215.80 C568.42,216.22 566.73,216.03 565.20,216.03 C563.67,216.03 561.98,216.22 560.60,215.80 C559.22,215.38 557.69,214.73 556.92,213.50 C556.15,212.27 556.15,210.51 556.00,208.44 C555.85,206.37 555.92,203.69 556.00,201.08 C556.08,198.47 556.25,195.25 556.46,192.80 C556.67,190.35 556.87,188.35 557.29,186.36 C557.70,184.37 558.32,182.68 558.94,180.84 C559.57,179.00 560.40,176.85 561.06,175.32 C561.72,173.79 562.21,172.56 562.90,171.64 C563.59,170.72 564.43,169.80 565.20,169.80 Z" fill="url(#mg)" filter="url(#bl)"/>
<line x1="588.0" y1="213.8" x2="588.5" y2="225.8" stroke="#bcbcbc" stroke-width="1.6"/>
<path d="M582.9,211.2 Q580.2,215.8 578.6,219.9" stroke="#c8c8c8" stroke-width="1.9" stroke-linecap="round" fill="none"/>
<path d="M593.1,211.2 Q595.8,215.8 597.4,219.9" stroke="#c8c8c8" stroke-width="1.9" stroke-linecap="round" fill="none"/>
<path d="M588.00,169.80 C588.77,169.80 589.61,170.72 590.30,171.64 C590.99,172.56 591.48,173.79 592.14,175.32 C592.80,176.85 593.63,179.00 594.26,180.84 C594.88,182.68 595.50,184.37 595.91,186.36 C596.33,188.35 596.53,190.35 596.74,192.80 C596.95,195.25 597.12,198.47 597.20,201.08 C597.28,203.69 597.35,206.37 597.20,208.44 C597.05,210.51 597.05,212.27 596.28,213.50 C595.51,214.73 593.98,215.38 592.60,215.80 C591.22,216.22 589.53,216.03 588.00,216.03 C586.47,216.03 584.78,216.22 583.40,215.80 C582.02,215.38 580.49,214.73 579.72,213.50 C578.95,212.27 578.95,210.51 578.80,208.44 C578.65,206.37 578.72,203.69 578.80,201.08 C578.88,198.47 579.05,195.25 579.26,192.80 C579.47,190.35 579.67,188.35 580.09,186.36 C580.50,184.37 581.12,182.68 581.74,180.84 C582.37,179.00 583.20,176.85 583.86,175.32 C584.52,173.79 585.01,172.56 585.70,171.64 C586.39,170.72 587.23,169.80 588.00,169.80 Z" fill="url(#mg)" filter="url(#bl)"/>
<line x1="618.3" y1="213.8" x2="618.8" y2="225.8" stroke="#bcbcbc" stroke-width="1.6"/>
<path d="M613.2,211.2 Q610.5,215.8 608.9,219.9" stroke="#c8c8c8" stroke-width="1.9" stroke-linecap="round" fill="none"/>
<path d="M623.4,211.2 Q626.1,215.8 627.7,219.9" stroke="#c8c8c8" stroke-width="1.9" stroke-linecap="round" fill="none"/>
<path d="M618.30,169.80 C619.07,169.80 619.91,170.72 620.60,171.64 C621.29,172.56 621.78,173.79 622.44,175.32 C623.10,176.85 623.93,179.00 624.56,180.84 C625.18,182.68 625.80,184.37 626.21,186.36 C626.63,188.35 626.83,190.35 627.04,192.80 C627.25,195.25 627.42,198.47 627.50,201.08 C627.58,203.69 627.65,206.37 627.50,208.44 C627.35,210.51 627.35,212.27 626.58,213.50 C625.81,214.73 624.28,215.38 622.90,215.80 C621.52,216.22 619.83,216.03 618.30,216.03 C616.77,216.03 615.08,216.22 613.70,215.80 C612.32,215.38 610.79,214.73 610.02,213.50 C609.25,212.27 609.25,210.51 609.10,208.44 C608.95,206.37 609.02,203.69 609.10,201.08 C609.18,198.47 609.35,195.25 609.56,192.80 C609.77,190.35 609.97,188.35 610.39,186.36 C610.80,184.37 611.42,182.68 612.04,180.84 C612.67,179.00 613.50,176.85 614.16,175.32 C614.82,173.79 615.31,172.56 616.00,171.64 C616.69,170.72 617.53,169.80 618.30,169.80 Z" fill="url(#mg)" filter="url(#bl)"/>
<line x1="660.4" y1="213.8" x2="660.9" y2="225.8" stroke="#bcbcbc" stroke-width="1.6"/>
<path d="M655.3,211.2 Q652.6,215.8 651.0,219.9" stroke="#c8c8c8" stroke-width="1.9" stroke-linecap="round" fill="none"/>
<path d="M665.5,211.2 Q668.2,215.8 669.8,219.9" stroke="#c8c8c8" stroke-width="1.9" stroke-linecap="round" fill="none"/>
<path d="M660.40,169.80 C661.17,169.80 662.01,170.72 662.70,171.64 C663.39,172.56 663.88,173.79 664.54,175.32 C665.20,176.85 666.03,179.00 666.66,180.84 C667.28,182.68 667.90,184.37 668.31,186.36 C668.73,188.35 668.93,190.35 669.14,192.80 C669.35,195.25 669.52,198.47 669.60,201.08 C669.68,203.69 669.75,206.37 669.60,208.44 C669.45,210.51 669.45,212.27 668.68,213.50 C667.91,214.73 666.38,215.38 665.00,215.80 C663.62,216.22 661.93,216.03 660.40,216.03 C658.87,216.03 657.18,216.22 655.80,215.80 C654.42,215.38 652.89,214.73 652.12,213.50 C651.35,212.27 651.35,210.51 651.20,208.44 C651.05,206.37 651.12,203.69 651.20,201.08 C651.28,198.47 651.45,195.25 651.66,192.80 C651.87,190.35 652.07,188.35 652.49,186.36 C652.90,184.37 653.52,182.68 654.14,180.84 C654.77,179.00 655.60,176.85 656.26,175.32 C656.92,173.79 657.41,172.56 658.10,171.64 C658.79,170.72 659.63,169.80 660.40,169.80 Z" fill="url(#mg)" filter="url(#bl)"/>
<line x1="685.6" y1="213.8" x2="686.1" y2="225.8" stroke="#bcbcbc" stroke-width="1.6"/>
<path d="M680.5,211.2 Q677.8,215.8 676.2,219.9" stroke="#c8c8c8" stroke-width="1.9" stroke-linecap="round" fill="none"/>
<path d="M690.7,211.2 Q693.4,215.8 695.0,219.9" stroke="#c8c8c8" stroke-width="1.9" stroke-linecap="round" fill="none"/>
<path d="M685.60,169.80 C686.37,169.80 687.21,170.72 687.90,171.64 C688.59,172.56 689.08,173.79 689.74,175.32 C690.40,176.85 691.23,179.00 691.86,180.84 C692.48,182.68 693.10,184.37 693.51,186.36 C693.93,188.35 694.13,190.35 694.34,192.80 C694.55,195.25 694.72,198.47 694.80,201.08 C694.88,203.69 694.95,206.37 694.80,208.44 C694.65,210.51 694.65,212.27 693.88,213.50 C693.11,214.73 691.58,215.38 690.20,215.80 C688.82,216.22 687.13,216.03 685.60,216.03 C684.07,216.03 682.38,216.22 681.00,215.80 C679.62,215.38 678.09,214.73 677.32,213.50 C676.55,212.27 676.55,210.51 676.40,208.44 C676.25,206.37 676.32,203.69 676.40,201.08 C676.48,198.47 676.65,195.25 676.86,192.80 C677.07,190.35 677.27,188.35 677.69,186.36 C678.10,184.37 678.72,182.68 679.34,180.84 C679.97,179.00 680.80,176.85 681.46,175.32 C682.12,173.79 682.61,172.56 683.30,171.64 C683.99,170.72 684.83,169.80 685.60,169.80 Z" fill="url(#mg)" filter="url(#bl)"/>
<line x1="709.2" y1="213.8" x2="709.7" y2="225.8" stroke="#bcbcbc" stroke-width="1.6"/>
<path d="M704.1,211.2 Q701.4,215.8 699.8,219.9" stroke="#c8c8c8" stroke-width="1.9" stroke-linecap="round" fill="none"/>
<path d="M714.3,211.2 Q717.0,215.8 718.6,219.9" stroke="#c8c8c8" stroke-width="1.9" stroke-linecap="round" fill="none"/>
<path d="M709.20,169.80 C709.97,169.80 710.81,170.72 711.50,171.64 C712.19,172.56 712.68,173.79 713.34,175.32 C714.00,176.85 714.83,179.00 715.46,180.84 C716.08,182.68 716.70,184.37 717.11,186.36 C717.53,188.35 717.73,190.35 717.94,192.80 C718.15,195.25 718.32,198.47 718.40,201.08 C718.48,203.69 718.55,206.37 718.40,208.44 C718.25,210.51 718.25,212.27 717.48,213.50 C716.71,214.73 715.18,215.38 713.80,215.80 C712.42,216.22 710.73,216.03 709.20,216.03 C707.67,216.03 705.98,216.22 704.60,215.80 C703.22,215.38 701.69,214.73 700.92,213.50 C700.15,212.27 700.15,210.51 700.00,208.44 C699.85,206.37 699.92,203.69 700.00,201.08 C700.08,198.47 700.25,195.25 700.46,192.80 C700.67,190.35 700.87,188.35 701.29,186.36 C701.70,184.37 702.32,182.68 702.94,180.84 C703.57,179.00 704.40,176.85 705.06,175.32 C705.72,173.79 706.21,172.56 706.90,171.64 C707.59,170.72 708.43,169.80 709.20,169.80 Z" fill="url(#mg)" filter="url(#bl)"/>
<line x1="145.3" y1="279.5" x2="145.8" y2="289.0" stroke="#bcbcbc" stroke-width="1.6"/>
<path d="M139.8,276.9 Q136.8,281.5 135.1,285.6" stroke="#c8c8c8" stroke-width="1.9" stroke-linecap="round" fill="none"/>
<path d="M150.8,276.9 Q153.8,281.5 155.5,285.6" stroke="#c8c8c8" stroke-width="1.9" stroke-linecap="round" fill="none"/>
<path d="M145.30,235.50 C146.13,235.50 147.05,236.42 147.80,237.34 C148.55,238.26 149.08,239.49 149.80,241.02 C150.52,242.55 151.42,244.70 152.10,246.54 C152.78,248.38 153.45,250.07 153.90,252.06 C154.35,254.05 154.57,256.05 154.80,258.50 C155.03,260.95 155.22,264.17 155.30,266.78 C155.38,269.39 155.47,272.07 155.30,274.14 C155.13,276.21 155.13,277.97 154.30,279.20 C153.47,280.43 151.80,281.08 150.30,281.50 C148.80,281.92 146.97,281.73 145.30,281.73 C143.63,281.73 141.80,281.92 140.30,281.50 C138.80,281.08 137.13,280.43 136.30,279.20 C135.47,277.97 135.47,276.21 135.30,274.14 C135.13,272.07 135.22,269.39 135.30,266.78 C135.38,264.17 135.57,260.95 135.80,258.50 C136.03,256.05 136.25,254.05 136.70,252.06 C137.15,250.07 137.82,248.38 138.50,246.54 C139.18,244.70 140.08,242.55 140.80,241.02 C141.52,239.49 142.05,238.26 142.80,237.34 C143.55,236.42 144.47,235.50 145.30,235.50 Z" fill="url(#mg)" filter="url(#bl)"/>
<line x1="166.4" y1="279.5" x2="166.9" y2="289.0" stroke="#bcbcbc" stroke-width="1.6"/>
<path d="M160.9,276.9 Q157.9,281.5 156.2,285.6" stroke="#c8c8c8" stroke-width="1.9" stroke-linecap="round" fill="none"/>
<path d="M171.9,276.9 Q174.9,281.5 176.6,285.6" stroke="#c8c8c8" stroke-width="1.9" stroke-linecap="round" fill="none"/>
<path d="M166.40,235.50 C167.23,235.50 168.15,236.42 168.90,237.34 C169.65,238.26 170.18,239.49 170.90,241.02 C171.62,242.55 172.52,244.70 173.20,246.54 C173.88,248.38 174.55,250.07 175.00,252.06 C175.45,254.05 175.67,256.05 175.90,258.50 C176.13,260.95 176.32,264.17 176.40,266.78 C176.48,269.39 176.57,272.07 176.40,274.14 C176.23,276.21 176.23,277.97 175.40,279.20 C174.57,280.43 172.90,281.08 171.40,281.50 C169.90,281.92 168.07,281.73 166.40,281.73 C164.73,281.73 162.90,281.92 161.40,281.50 C159.90,281.08 158.23,280.43 157.40,279.20 C156.57,277.97 156.57,276.21 156.40,274.14 C156.23,272.07 156.32,269.39 156.40,266.78 C156.48,264.17 156.67,260.95 156.90,258.50 C157.13,256.05 157.35,254.05 157.80,252.06 C158.25,250.07 158.92,248.38 159.60,246.54 C160.28,244.70 161.18,242.55 161.90,241.02 C162.62,239.49 163.15,238.26 163.90,237.34 C164.65,236.42 165.57,235.50 166.40,235.50 Z" fill="url(#mg)" filter="url(#bl)"/>
<line x1="188.7" y1="279.5" x2="189.2" y2="289.0" stroke="#bcbcbc" stroke-width="1.6"/>
<path d="M183.2,276.9 Q180.2,281.5 178.5,285.6" stroke="#c8c8c8" stroke-width="1.9" stroke-linecap="round" fill="none"/>
<path d="M194.2,276.9 Q197.2,281.5 198.9,285.6" stroke="#c8c8c8" stroke-width="1.9" stroke-linecap="round" fill="none"/>
<path d="M188.70,235.50 C189.53,235.50 190.45,236.42 191.20,237.34 C191.95,238.26 192.48,239.49 193.20,241.02 C193.92,242.55 194.82,244.70 195.50,246.54 C196.18,248.38 196.85,250.07 197.30,252.06 C197.75,254.05 197.97,256.05 198.20,258.50 C198.43,260.95 198.62,264.17 198.70,266.78 C198.78,269.39 198.87,272.07 198.70,274.14 C198.53,276.21 198.53,277.97 197.70,279.20 C196.87,280.43 195.20,281.08 193.70,281.50 C192.20,281.92 190.37,281.73 188.70,281.73 C187.03,281.73 185.20,281.92 183.70,281.50 C182.20,281.08 180.53,280.43 179.70,279.20 C178.87,277.97 178.87,276.21 178.70,274.14 C178.53,272.07 178.62,269.39 178.70,266.78 C178.78,264.17 178.97,260.95 179.20,258.50 C179.43,256.05 179.65,254.05 180.10,252.06 C180.55,250.07 181.22,248.38 181.90,246.54 C182.58,244.70 183.48,242.55 184.20,241.02 C184.92,239.49 185.45,238.26 186.20,237.34 C186.95,236.42 187.87,235.50 188.70,235.50 Z" fill="url(#mg)" filter="url(#bl)"/>
<line x1="210.9" y1="279.5" x2="211.4" y2="289.0" stroke="#bcbcbc" stroke-width="1.6"/>
<path d="M205.4,276.9 Q202.4,281.5 200.7,285.6" stroke="#c8c8c8" stroke-width="1.9" stroke-linecap="round" fill="none"/>
<path d="M216.4,276.9 Q219.4,281.5 221.1,285.6" stroke="#c8c8c8" stroke-width="1.9" stroke-linecap="round" fill="none"/>
<path d="M210.90,235.50 C211.73,235.50 212.65,236.42 213.40,237.34 C214.15,238.26 214.68,239.49 215.40,241.02 C216.12,242.55 217.02,244.70 217.70,246.54 C218.38,248.38 219.05,250.07 219.50,252.06 C219.95,254.05 220.17,256.05 220.40,258.50 C220.63,260.95 220.82,264.17 220.90,266.78 C220.98,269.39 221.07,272.07 220.90,274.14 C220.73,276.21 220.73,277.97 219.90,279.20 C219.07,280.43 217.40,281.08 215.90,281.50 C214.40,281.92 212.57,281.73 210.90,281.73 C209.23,281.73 207.40,281.92 205.90,281.50 C204.40,281.08 202.73,280.43 201.90,279.20 C201.07,277.97 201.07,276.21 200.90,274.14 C200.73,272.07 200.82,269.39 200.90,266.78 C200.98,264.17 201.17,260.95 201.40,258.50 C201.63,256.05 201.85,254.05 202.30,252.06 C202.75,250.07 203.42,248.38 204.10,246.54 C204.78,244.70 205.68,242.55 206.40,241.02 C207.12,239.49 207.65,238.26 208.40,237.34 C209.15,236.42 210.07,235.50 210.90,235.50 Z" fill="url(#mg)" filter="url(#bl)"/>
<line x1="243.0" y1="279.5" x2="243.5" y2="289.0" stroke="#bcbcbc" stroke-width="1.6"/>
<path d="M237.9,276.9 Q235.2,281.5 233.6,285.6" stroke="#c8c8c8" stroke-width="1.9" stroke-linecap="round" fill="none"/>
<path d="M248.1,276.9 Q250.8,281.5 252.4,285.6" stroke="#c8c8c8" stroke-width="1.9" stroke-linecap="round" fill="none"/>
<path d="M243.00,235.50 C243.77,235.50 244.61,236.42 245.30,237.34 C245.99,238.26 246.48,239.49 247.14,241.02 C247.80,242.55 248.63,244.70 249.26,246.54 C249.88,248.38 250.50,250.07 250.91,252.06 C251.33,254.05 251.53,256.05 251.74,258.50 C251.95,260.95 252.12,264.17 252.20,266.78 C252.28,269.39 252.35,272.07 252.20,274.14 C252.05,276.21 252.05,277.97 251.28,279.20 C250.51,280.43 248.98,281.08 247.60,281.50 C246.22,281.92 244.53,281.73 243.00,281.73 C241.47,281.73 239.78,281.92 238.40,281.50 C237.02,281.08 235.49,280.43 234.72,279.20 C233.95,277.97 233.95,276.21 233.80,274.14 C233.65,272.07 233.72,269.39 233.80,266.78 C233.88,264.17 234.05,260.95 234.26,258.50 C234.47,256.05 234.67,254.05 235.09,252.06 C235.50,250.07 236.12,248.38 236.74,246.54 C237.37,244.70 238.20,242.55 238.86,241.02 C239.52,239.49 240.01,238.26 240.70,237.34 C241.39,236.42 242.23,235.50 243.00,235.50 Z" fill="url(#mg)" filter="url(#bl)"/>
<line x1="264.7" y1="279.5" x2="265.2" y2="289.0" stroke="#bcbcbc" stroke-width="1.6"/>
<path d="M259.6,276.9 Q256.9,281.5 255.3,285.6" stroke="#c8c8c8" stroke-width="1.9" stroke-linecap="round" fill="none"/>
<path d="M269.8,276.9 Q272.5,281.5 274.1,285.6" stroke="#c8c8c8" stroke-width="1.9" stroke-linecap="round" fill="none"/>
<path d="M264.70,235.50 C265.47,235.50 266.31,236.42 267.00,237.34 C267.69,238.26 268.18,239.49 268.84,241.02 C269.50,242.55 270.33,244.70 270.96,246.54 C271.58,248.38 272.20,250.07 272.61,252.06 C273.03,254.05 273.23,256.05 273.44,258.50 C273.65,260.95 273.82,264.17 273.90,266.78 C273.98,269.39 274.05,272.07 273.90,274.14 C273.75,276.21 273.75,277.97 272.98,279.20 C272.21,280.43 270.68,281.08 269.30,281.50 C267.92,281.92 266.23,281.73 264.70,281.73 C263.17,281.73 261.48,281.92 260.10,281.50 C258.72,281.08 257.19,280.43 256.42,279.20 C255.65,277.97 255.65,276.21 255.50,274.14 C255.35,272.07 255.42,269.39 255.50,266.78 C255.58,264.17 255.75,260.95 255.96,258.50 C256.17,256.05 256.37,254.05 256.79,252.06 C257.20,250.07 257.82,248.38 258.44,246.54 C259.07,244.70 259.90,242.55 260.56,241.02 C261.22,239.49 261.71,238.26 262.40,237.34 C263.09,236.42 263.93,235.50 264.70,235.50 Z" fill="url(#mg)" filter="url(#bl)"/>
<line x1="288.0" y1="279.5" x2="288.5" y2="289.0" stroke="#bcbcbc" stroke-width="1.6"/>
<path d="M282.9,276.9 Q280.2,281.5 278.6,285.6" stroke="#c8c8c8" stroke-width="1.9" stroke-linecap="round" fill="none"/>
<path d="M293.1,276.9 Q295.8,281.5 297.4,285.6" stroke="#c8c8c8" stroke-width="1.9" stroke-linecap="round" fill="none"/>
<path d="M288.00,235.50 C288.77,235.50 289.61,236.42 290.30,237.34 C290.99,238.26 291.48,239.49 292.14,241.02 C292.80,242.55 293.63,244.70 294.26,246.54 C294.88,248.38 295.50,250.07 295.91,252.06 C296.33,254.05 296.53,256.05 296.74,258.50 C296.95,260.95 297.12,264.17 297.20,266.78 C297.28,269.39 297.35,272.07 297.20,274.14 C297.05,276.21 297.05,277.97 296.28,279.20 C295.51,280.43 293.98,281.08 292.60,281.50 C291.22,281.92 289.53,281.73 288.00,281.73 C286.47,281.73 284.78,281.92 283.40,281.50 C282.02,281.08 280.49,280.43 279.72,279.20 C278.95,277.97 278.95,276.21 278.80,274.14 C278.65,272.07 278.72,269.39 278.80,266.78 C278.88,264.17 279.05,260.95 279.26,258.50 C279.47,256.05 279.67,254.05 280.09,252.06 C280.50,250.07 281.12,248.38 281.74,246.54 C282.37,244.70 283.20,242.55 283.86,241.02 C284.52,239.49 285.01,238.26 285.70,237.34 C286.39,236.42 287.23,235.50 288.00,235.50 Z" fill="url(#mg)" filter="url(#bl)"/>
<line x1="309.8" y1="279.5" x2="310.3" y2="289.0" stroke="#bcbcbc" stroke-width="1.6"/>
<path d="M304.7,276.9 Q302.0,281.5 300.4,285.6" stroke="#c8c8c8" stroke-width="1.9" stroke-linecap="round" fill="none"/>
<path d="M314.9,276.9 Q317.6,281.5 319.2,285.6" stroke="#c8c8c8" stroke-width="1.9" stroke-linecap="round" fill="none"/>
<path d="M309.80,235.50 C310.57,235.50 311.41,236.42 312.10,237.34 C312.79,238.26 313.28,239.49 313.94,241.02 C314.60,242.55 315.43,244.70 316.06,246.54 C316.68,248.38 317.30,250.07 317.71,252.06 C318.13,254.05 318.33,256.05 318.54,258.50 C318.75,260.95 318.92,264.17 319.00,266.78 C319.08,269.39 319.15,272.07 319.00,274.14 C318.85,276.21 318.85,277.97 318.08,279.20 C317.31,280.43 315.78,281.08 314.40,281.50 C313.02,281.92 311.33,281.73 309.80,281.73 C308.27,281.73 306.58,281.92 305.20,281.50 C303.82,281.08 302.29,280.43 301.52,279.20 C300.75,277.97 300.75,276.21 300.60,274.14 C300.45,272.07 300.52,269.39 300.60,266.78 C300.68,264.17 300.85,260.95 301.06,258.50 C301.27,256.05 301.47,254.05 301.89,252.06 C302.30,250.07 302.92,248.38 303.54,246.54 C304.17,244.70 305.00,242.55 305.66,241.02 C306.32,239.49 306.81,238.26 307.50,237.34 C308.19,236.42 309.03,235.50 309.80,235.50 Z" fill="url(#mg)" filter="url(#bl)"/>
<line x1="334.8" y1="279.5" x2="335.3" y2="289.0" stroke="#bcbcbc" stroke-width="1.6"/>
<path d="M329.7,276.9 Q327.0,281.5 325.4,285.6" stroke="#c8c8c8" stroke-width="1.9" stroke-linecap="round" fill="none"/>
<path d="M339.9,276.9 Q342.6,281.5 344.2,285.6" stroke="#c8c8c8" stroke-width="1.9" stroke-linecap="round" fill="none"/>
<path d="M334.80,235.50 C335.57,235.50 336.41,236.42 337.10,237.34 C337.79,238.26 338.28,239.49 338.94,241.02 C339.60,242.55 340.43,244.70 341.06,246.54 C341.68,248.38 342.30,250.07 342.71,252.06 C343.13,254.05 343.33,256.05 343.54,258.50 C343.75,260.95 343.92,264.17 344.00,266.78 C344.08,269.39 344.15,272.07 344.00,274.14 C343.85,276.21 343.85,277.97 343.08,279.20 C342.31,280.43 340.78,281.08 339.40,281.50 C338.02,281.92 336.33,281.73 334.80,281.73 C333.27,281.73 331.58,281.92 330.20,281.50 C328.82,281.08 327.29,280.43 326.52,279.20 C325.75,277.97 325.75,276.21 325.60,274.14 C325.45,272.07 325.52,269.39 325.60,266.78 C325.68,264.17 325.85,260.95 326.06,258.50 C326.27,256.05 326.47,254.05 326.89,252.06 C327.30,250.07 327.92,248.38 328.54,246.54 C329.17,244.70 330.00,242.55 330.66,241.02 C331.32,239.49 331.81,238.26 332.50,237.34 C333.19,236.42 334.03,235.50 334.80,235.50 Z" fill="url(#mg)" filter="url(#bl)"/>
<line x1="364.8" y1="279.5" x2="365.3" y2="289.0" stroke="#bcbcbc" stroke-width="1.6"/>
<path d="M359.7,276.9 Q357.0,281.5 355.4,285.6" stroke="#c8c8c8" stroke-width="1.9" stroke-linecap="round" fill="none"/>
<path d="M369.9,276.9 Q372.6,281.5 374.2,285.6" stroke="#c8c8c8" stroke-width="1.9" stroke-linecap="round" fill="none"/>
<path d="M364.80,235.50 C365.57,235.50 366.41,236.42 367.10,237.34 C367.79,238.26 368.28,239.49 368.94,241.02 C369.60,242.55 370.43,244.70 371.06,246.54 C371.68,248.38 372.30,250.07 372.71,252.06 C373.13,254.05 373.33,256.05 373.54,258.50 C373.75,260.95 373.92,264.17 374.00,266.78 C374.08,269.39 374.15,272.07 374.00,274.14 C373.85,276.21 373.85,277.97 373.08,279.20 C372.31,280.43 370.78,281.08 369.40,281.50 C368.02,281.92 366.33,281.73 364.80,281.73 C363.27,281.73 361.58,281.92 360.20,281.50 C358.82,281.08 357.29,280.43 356.52,279.20 C355.75,277.97 355.75,276.21 355.60,274.14 C355.45,272.07 355.52,269.39 355.60,266.78 C355.68,264.17 355.85,260.95 356.06,258.50 C356.27,256.05 356.47,254.05 356.89,252.06 C357.30,250.07 357.92,248.38 358.54,246.54 C359.17,244.70 360.00,242.55 360.66,241.02 C361.32,239.49 361.81,238.26 362.50,237.34 C363.19,236.42 364.03,235.50 364.80,235.50 Z" fill="url(#mg)" filter="url(#bl)"/>
<line x1="389.9" y1="279.5" x2="390.4" y2="289.0" stroke="#bcbcbc" stroke-width="1.6"/>
<path d="M384.8,276.9 Q382.1,281.5 380.5,285.6" stroke="#c8c8c8" stroke-width="1.9" stroke-linecap="round" fill="none"/>
<path d="M395.0,276.9 Q397.7,281.5 399.3,285.6" stroke="#c8c8c8" stroke-width="1.9" stroke-linecap="round" fill="none"/>
<path d="M389.90,235.50 C390.67,235.50 391.51,236.42 392.20,237.34 C392.89,238.26 393.38,239.49 394.04,241.02 C394.70,242.55 395.53,244.70 396.16,246.54 C396.78,248.38 397.40,250.07 397.81,252.06 C398.23,254.05 398.43,256.05 398.64,258.50 C398.85,260.95 399.02,264.17 399.10,266.78 C399.18,269.39 399.25,272.07 399.10,274.14 C398.95,276.21 398.95,277.97 398.18,279.20 C397.41,280.43 395.88,281.08 394.50,281.50 C393.12,281.92 391.43,281.73 389.90,281.73 C388.37,281.73 386.68,281.92 385.30,281.50 C383.92,281.08 382.39,280.43 381.62,279.20 C380.85,277.97 380.85,276.21 380.70,274.14 C380.55,272.07 380.62,269.39 380.70,266.78 C380.78,264.17 380.95,260.95 381.16,258.50 C381.37,256.05 381.57,254.05 381.99,252.06 C382.40,250.07 383.02,248.38 383.64,246.54 C384.27,244.70 385.10,242.55 385.76,241.02 C386.42,239.49 386.91,238.26 387.60,237.34 C388.29,236.42 389.13,235.50 389.90,235.50 Z" fill="url(#mg)" filter="url(#bl)"/>
<line x1="413.2" y1="279.5" x2="413.7" y2="289.0" stroke="#bcbcbc" stroke-width="1.6"/>
<path d="M408.1,276.9 Q405.4,281.5 403.8,285.6" stroke="#c8c8c8" stroke-width="1.9" stroke-linecap="round" fill="none"/>
<path d="M418.3,276.9 Q421.0,281.5 422.6,285.6" stroke="#c8c8c8" stroke-width="1.9" stroke-linecap="round" fill="none"/>
<path d="M413.20,235.50 C413.97,235.50 414.81,236.42 415.50,237.34 C416.19,238.26 416.68,239.49 417.34,241.02 C418.00,242.55 418.83,244.70 419.46,246.54 C420.08,248.38 420.70,250.07 421.11,252.06 C421.53,254.05 421.73,256.05 421.94,258.50 C422.15,260.95 422.32,264.17 422.40,266.78 C422.48,269.39 422.55,272.07 422.40,274.14 C422.25,276.21 422.25,277.97 421.48,279.20 C420.71,280.43 419.18,281.08 417.80,281.50 C416.42,281.92 414.73,281.73 413.20,281.73 C411.67,281.73 409.98,281.92 408.60,281.50 C407.22,281.08 405.69,280.43 404.92,279.20 C404.15,277.97 404.15,276.21 404.00,274.14 C403.85,272.07 403.92,269.39 404.00,266.78 C404.08,264.17 404.25,260.95 404.46,258.50 C404.67,256.05 404.87,254.05 405.29,252.06 C405.70,250.07 406.32,248.38 406.94,246.54 C407.57,244.70 408.40,242.55 409.06,241.02 C409.72,239.49 410.21,238.26 410.90,237.34 C411.59,236.42 412.43,235.50 413.20,235.50 Z" fill="url(#mg)" filter="url(#bl)"/>
<line x1="435.0" y1="279.5" x2="435.5" y2="289.0" stroke="#bcbcbc" stroke-width="1.6"/>
<path d="M429.9,276.9 Q427.2,281.5 425.6,285.6" stroke="#c8c8c8" stroke-width="1.9" stroke-linecap="round" fill="none"/>
<path d="M440.1,276.9 Q442.8,281.5 444.4,285.6" stroke="#c8c8c8" stroke-width="1.9" stroke-linecap="round" fill="none"/>
<path d="M435.00,235.50 C435.77,235.50 436.61,236.42 437.30,237.34 C437.99,238.26 438.48,239.49 439.14,241.02 C439.80,242.55 440.63,244.70 441.26,246.54 C441.88,248.38 442.50,250.07 442.91,252.06 C443.33,254.05 443.53,256.05 443.74,258.50 C443.95,260.95 444.12,264.17 444.20,266.78 C444.28,269.39 444.35,272.07 444.20,274.14 C444.05,276.21 444.05,277.97 443.28,279.20 C442.51,280.43 440.98,281.08 439.60,281.50 C438.22,281.92 436.53,281.73 435.00,281.73 C433.47,281.73 431.78,281.92 430.40,281.50 C429.02,281.08 427.49,280.43 426.72,279.20 C425.95,277.97 425.95,276.21 425.80,274.14 C425.65,272.07 425.72,269.39 425.80,266.78 C425.88,264.17 426.05,260.95 426.26,258.50 C426.47,256.05 426.67,254.05 427.09,252.06 C427.50,250.07 428.12,248.38 428.74,246.54 C429.37,244.70 430.20,242.55 430.86,241.02 C431.52,239.49 432.01,238.26 432.70,237.34 C433.39,236.42 434.23,235.50 435.00,235.50 Z" fill="url(#mg)" filter="url(#bl)"/>
<line x1="460.0" y1="279.5" x2="460.5" y2="289.0" stroke="#bcbcbc" stroke-width="1.6"/>
<path d="M454.9,276.9 Q452.2,281.5 450.6,285.6" stroke="#c8c8c8" stroke-width="1.9" stroke-linecap="round" fill="none"/>
<path d="M465.1,276.9 Q467.8,281.5 469.4,285.6" stroke="#c8c8c8" stroke-width="1.9" stroke-linecap="round" fill="none"/>
<path d="M460.00,235.50 C460.77,235.50 461.61,236.42 462.30,237.34 C462.99,238.26 463.48,239.49 464.14,241.02 C464.80,242.55 465.63,244.70 466.26,246.54 C466.88,248.38 467.50,250.07 467.91,252.06 C468.33,254.05 468.53,256.05 468.74,258.50 C468.95,260.95 469.12,264.17 469.20,266.78 C469.28,269.39 469.35,272.07 469.20,274.14 C469.05,276.21 469.05,277.97 468.28,279.20 C467.51,280.43 465.98,281.08 464.60,281.50 C463.22,281.92 461.53,281.73 460.00,281.73 C458.47,281.73 456.78,281.92 455.40,281.50 C454.02,281.08 452.49,280.43 451.72,279.20 C450.95,277.97 450.95,276.21 450.80,274.14 C450.65,272.07 450.72,269.39 450.80,266.78 C450.88,264.17 451.05,260.95 451.26,258.50 C451.47,256.05 451.67,254.05 452.09,252.06 C452.50,250.07 453.12,248.38 453.74,246.54 C454.37,244.70 455.20,242.55 455.86,241.02 C456.52,239.49 457.01,238.26 457.70,237.34 C458.39,236.42 459.23,235.50 460.00,235.50 Z" fill="url(#mg)" filter="url(#bl)"/>
<line x1="492.1" y1="279.5" x2="492.6" y2="289.0" stroke="#bcbcbc" stroke-width="1.6"/>
<path d="M487.0,276.9 Q484.3,281.5 482.7,285.6" stroke="#c8c8c8" stroke-width="1.9" stroke-linecap="round" fill="none"/>
<path d="M497.2,276.9 Q499.9,281.5 501.5,285.6" stroke="#c8c8c8" stroke-width="1.9" stroke-linecap="round" fill="none"/>
<path d="M492.10,235.50 C492.87,235.50 493.71,236.42 494.40,237.34 C495.09,238.26 495.58,239.49 496.24,241.02 C496.90,242.55 497.73,244.70 498.36,246.54 C498.98,248.38 499.60,250.07 500.01,252.06 C500.43,254.05 500.63,256.05 500.84,258.50 C501.05,260.95 501.22,264.17 501.30,266.78 C501.38,269.39 501.45,272.07 501.30,274.14 C501.15,276.21 501.15,277.97 500.38,279.20 C499.61,280.43 498.08,281.08 496.70,281.50 C495.32,281.92 493.63,281.73 492.10,281.73 C490.57,281.73 488.88,281.92 487.50,281.50 C486.12,281.08 484.59,280.43 483.82,279.20 C483.05,277.97 483.05,276.21 482.90,274.14 C482.75,272.07 482.82,269.39 482.90,266.78 C482.98,264.17 483.15,260.95 483.36,258.50 C483.57,256.05 483.77,254.05 484.19,252.06 C484.60,250.07 485.22,248.38 485.84,246.54 C486.47,244.70 487.30,242.55 487.96,241.02 C488.62,239.49 489.11,238.26 489.80,237.34 C490.49,236.42 491.33,235.50 492.10,235.50 Z" fill="url(#mg)" filter="url(#bl)"/>
<line x1="515.7" y1="279.5" x2="516.2" y2="289.0" stroke="#bcbcbc" stroke-width="1.6"/>
<path d="M510.6,276.9 Q507.9,281.5 506.3,285.6" stroke="#c8c8c8" stroke-width="1.9" stroke-linecap="round" fill="none"/>
<path d="M520.8,276.9 Q523.5,281.5 525.1,285.6" stroke="#c8c8c8" stroke-width="1.9" stroke-linecap="round" fill="none"/>
<path d="M515.70,235.50 C516.47,235.50 517.31,236.42 518.00,237.34 C518.69,238.26 519.18,239.49 519.84,241.02 C520.50,242.55 521.33,244.70 521.96,246.54 C522.58,248.38 523.20,250.07 523.61,252.06 C524.03,254.05 524.23,256.05 524.44,258.50 C524.65,260.95 524.82,264.17 524.90,266.78 C524.98,269.39 525.05,272.07 524.90,274.14 C524.75,276.21 524.75,277.97 523.98,279.20 C523.21,280.43 521.68,281.08 520.30,281.50 C518.92,281.92 517.23,281.73 515.70,281.73 C514.17,281.73 512.48,281.92 511.10,281.50 C509.72,281.08 508.19,280.43 507.42,279.20 C506.65,277.97 506.65,276.21 506.50,274.14 C506.35,272.07 506.42,269.39 506.50,266.78 C506.58,264.17 506.75,260.95 506.96,258.50 C507.17,256.05 507.37,254.05 507.79,252.06 C508.20,250.07 508.82,248.38 509.44,246.54 C510.07,244.70 510.90,242.55 511.56,241.02 C512.22,239.49 512.71,238.26 513.40,237.34 C514.09,236.42 514.93,235.50 515.70,235.50 Z" fill="url(#mg)" filter="url(#bl)"/>
<line x1="539.2" y1="279.5" x2="539.7" y2="289.0" stroke="#bcbcbc" stroke-width="1.6"/>
<path d="M534.1,276.9 Q531.4,281.5 529.8,285.6" stroke="#c8c8c8" stroke-width="1.9" stroke-linecap="round" fill="none"/>
<path d="M544.3,276.9 Q547.0,281.5 548.6,285.6" stroke="#c8c8c8" stroke-width="1.9" stroke-linecap="round" fill="none"/>
<path d="M539.20,235.50 C539.97,235.50 540.81,236.42 541.50,237.34 C542.19,238.26 542.68,239.49 543.34,241.02 C544.00,242.55 544.83,244.70 545.46,246.54 C546.08,248.38 546.70,250.07 547.11,252.06 C547.53,254.05 547.73,256.05 547.94,258.50 C548.15,260.95 548.32,264.17 548.40,266.78 C548.48,269.39 548.55,272.07 548.40,274.14 C548.25,276.21 548.25,277.97 547.48,279.20 C546.71,280.43 545.18,281.08 543.80,281.50 C542.42,281.92 540.73,281.73 539.20,281.73 C537.67,281.73 535.98,281.92 534.60,281.50 C533.22,281.08 531.69,280.43 530.92,279.20 C530.15,277.97 530.15,276.21 530.00,274.14 C529.85,272.07 529.92,269.39 530.00,266.78 C530.08,264.17 530.25,260.95 530.46,258.50 C530.67,256.05 530.87,254.05 531.29,252.06 C531.70,250.07 532.32,248.38 532.94,246.54 C533.57,244.70 534.40,242.55 535.06,241.02 C535.72,239.49 536.21,238.26 536.90,237.34 C537.59,236.42 538.43,235.50 539.20,235.50 Z" fill="url(#mg)" filter="url(#bl)"/>
<line x1="566.2" y1="279.5" x2="566.7" y2="289.0" stroke="#bcbcbc" stroke-width="1.6"/>
<path d="M561.1,276.9 Q558.4,281.5 556.8,285.6" stroke="#c8c8c8" stroke-width="1.9" stroke-linecap="round" fill="none"/>
<path d="M571.3,276.9 Q574.0,281.5 575.6,285.6" stroke="#c8c8c8" stroke-width="1.9" stroke-linecap="round" fill="none"/>
<path d="M566.20,235.50 C566.97,235.50 567.81,236.42 568.50,237.34 C569.19,238.26 569.68,239.49 570.34,241.02 C571.00,242.55 571.83,244.70 572.46,246.54 C573.08,248.38 573.70,250.07 574.11,252.06 C574.53,254.05 574.73,256.05 574.94,258.50 C575.15,260.95 575.32,264.17 575.40,266.78 C575.48,269.39 575.55,272.07 575.40,274.14 C575.25,276.21 575.25,277.97 574.48,279.20 C573.71,280.43 572.18,281.08 570.80,281.50 C569.42,281.92 567.73,281.73 566.20,281.73 C564.67,281.73 562.98,281.92 561.60,281.50 C560.22,281.08 558.69,280.43 557.92,279.20 C557.15,277.97 557.15,276.21 557.00,274.14 C556.85,272.07 556.92,269.39 557.00,266.78 C557.08,264.17 557.25,260.95 557.46,258.50 C557.67,256.05 557.87,254.05 558.29,252.06 C558.70,250.07 559.32,248.38 559.94,246.54 C560.57,244.70 561.40,242.55 562.06,241.02 C562.72,239.49 563.21,238.26 563.90,237.34 C564.59,236.42 565.43,235.50 566.20,235.50 Z" fill="url(#mg)" filter="url(#bl)"/>
<line x1="586.4" y1="279.5" x2="586.9" y2="289.0" stroke="#bcbcbc" stroke-width="1.6"/>
<path d="M581.3,276.9 Q578.6,281.5 577.0,285.6" stroke="#c8c8c8" stroke-width="1.9" stroke-linecap="round" fill="none"/>
<path d="M591.5,276.9 Q594.2,281.5 595.8,285.6" stroke="#c8c8c8" stroke-width="1.9" stroke-linecap="round" fill="none"/>
<path d="M586.40,235.50 C587.17,235.50 588.01,236.42 588.70,237.34 C589.39,238.26 589.88,239.49 590.54,241.02 C591.20,242.55 592.03,244.70 592.66,246.54 C593.28,248.38 593.90,250.07 594.31,252.06 C594.73,254.05 594.93,256.05 595.14,258.50 C595.35,260.95 595.52,264.17 595.60,266.78 C595.68,269.39 595.75,272.07 595.60,274.14 C595.45,276.21 595.45,277.97 594.68,279.20 C593.91,280.43 592.38,281.08 591.00,281.50 C589.62,281.92 587.93,281.73 586.40,281.73 C584.87,281.73 583.18,281.92 581.80,281.50 C580.42,281.08 578.89,280.43 578.12,279.20 C577.35,277.97 577.35,276.21 577.20,274.14 C577.05,272.07 577.12,269.39 577.20,266.78 C577.28,264.17 577.45,260.95 577.66,258.50 C577.87,256.05 578.07,254.05 578.49,252.06 C578.90,250.07 579.52,248.38 580.14,246.54 C580.77,244.70 581.60,242.55 582.26,241.02 C582.92,239.49 583.41,238.26 584.10,237.34 C584.79,236.42 585.63,235.50 586.40,235.50 Z" fill="url(#mg)" filter="url(#bl)"/>
<line x1="616.6" y1="279.5" x2="617.1" y2="289.0" stroke="#bcbcbc" stroke-width="1.6"/>
<path d="M611.5,276.9 Q608.8,281.5 607.2,285.6" stroke="#c8c8c8" stroke-width="1.9" stroke-linecap="round" fill="none"/>
<path d="M621.7,276.9 Q624.4,281.5 626.0,285.6" stroke="#c8c8c8" stroke-width="1.9" stroke-linecap="round" fill="none"/>
<path d="M616.60,235.50 C617.37,235.50 618.21,236.42 618.90,237.34 C619.59,238.26 620.08,239.49 620.74,241.02 C621.40,242.55 622.23,244.70 622.86,246.54 C623.48,248.38 624.10,250.07 624.51,252.06 C624.93,254.05 625.13,256.05 625.34,258.50 C625.55,260.95 625.72,264.17 625.80,266.78 C625.88,269.39 625.95,272.07 625.80,274.14 C625.65,276.21 625.65,277.97 624.88,279.20 C624.11,280.43 622.58,281.08 621.20,281.50 C619.82,281.92 618.13,281.73 616.60,281.73 C615.07,281.73 613.38,281.92 612.00,281.50 C610.62,281.08 609.09,280.43 608.32,279.20 C607.55,277.97 607.55,276.21 607.40,274.14 C607.25,272.07 607.32,269.39 607.40,266.78 C607.48,264.17 607.65,260.95 607.86,258.50 C608.07,256.05 608.27,254.05 608.69,252.06 C609.10,250.07 609.72,248.38 610.34,246.54 C610.97,244.70 611.80,242.55 612.46,241.02 C613.12,239.49 613.61,238.26 614.30,237.34 C614.99,236.42 615.83,235.50 616.60,235.50 Z" fill="url(#mg)" filter="url(#bl)"/>
<line x1="662.0" y1="279.5" x2="662.5" y2="289.0" stroke="#bcbcbc" stroke-width="1.6"/>
<path d="M656.9,276.9 Q654.2,281.5 652.6,285.6" stroke="#c8c8c8" stroke-width="1.9" stroke-linecap="round" fill="none"/>
<path d="M667.1,276.9 Q669.8,281.5 671.4,285.6" stroke="#c8c8c8" stroke-width="1.9" stroke-linecap="round" fill="none"/>
<path d="M662.00,235.50 C662.77,235.50 663.61,236.42 664.30,237.34 C664.99,238.26 665.48,239.49 666.14,241.02 C666.80,242.55 667.63,244.70 668.26,246.54 C668.88,248.38 669.50,250.07 669.91,252.06 C670.33,254.05 670.53,256.05 670.74,258.50 C670.95,260.95 671.12,264.17 671.20,266.78 C671.28,269.39 671.35,272.07 671.20,274.14 C671.05,276.21 671.05,277.97 670.28,279.20 C669.51,280.43 667.98,281.08 666.60,281.50 C665.22,281.92 663.53,281.73 662.00,281.73 C660.47,281.73 658.78,281.92 657.40,281.50 C656.02,281.08 654.49,280.43 653.72,279.20 C652.95,277.97 652.95,276.21 652.80,274.14 C652.65,272.07 652.72,269.39 652.80,266.78 C652.88,264.17 653.05,260.95 653.26,258.50 C653.47,256.05 653.67,254.05 654.09,252.06 C654.50,250.07 655.12,248.38 655.74,246.54 C656.37,244.70 657.20,242.55 657.86,241.02 C658.52,239.49 659.01,238.26 659.70,237.34 C660.39,236.42 661.23,235.50 662.00,235.50 Z" fill="url(#mg)" filter="url(#bl)"/>
<line x1="685.6" y1="279.5" x2="686.1" y2="289.0" stroke="#bcbcbc" stroke-width="1.6"/>
<path d="M680.5,276.9 Q677.8,281.5 676.2,285.6" stroke="#c8c8c8" stroke-width="1.9" stroke-linecap="round" fill="none"/>
<path d="M690.7,276.9 Q693.4,281.5 695.0,285.6" stroke="#c8c8c8" stroke-width="1.9" stroke-linecap="round" fill="none"/>
<path d="M685.60,235.50 C686.37,235.50 687.21,236.42 687.90,237.34 C688.59,238.26 689.08,239.49 689.74,241.02 C690.40,242.55 691.23,244.70 691.86,246.54 C692.48,248.38 693.10,250.07 693.51,252.06 C693.93,254.05 694.13,256.05 694.34,258.50 C694.55,260.95 694.72,264.17 694.80,266.78 C694.88,269.39 694.95,272.07 694.80,274.14 C694.65,276.21 694.65,277.97 693.88,279.20 C693.11,280.43 691.58,281.08 690.20,281.50 C688.82,281.92 687.13,281.73 685.60,281.73 C684.07,281.73 682.38,281.92 681.00,281.50 C679.62,281.08 678.09,280.43 677.32,279.20 C676.55,277.97 676.55,276.21 676.40,274.14 C676.25,272.07 676.32,269.39 676.40,266.78 C676.48,264.17 676.65,260.95 676.86,258.50 C677.07,256.05 677.27,254.05 677.69,252.06 C678.10,250.07 678.72,248.38 679.34,246.54 C679.97,244.70 680.80,242.55 681.46,241.02 C682.12,239.49 682.61,238.26 683.30,237.34 C683.99,236.42 684.83,235.50 685.60,235.50 Z" fill="url(#mg)" filter="url(#bl)"/>
<line x1="709.2" y1="279.5" x2="709.7" y2="289.0" stroke="#bcbcbc" stroke-width="1.6"/>
<path d="M704.1,276.9 Q701.4,281.5 699.8,285.6" stroke="#c8c8c8" stroke-width="1.9" stroke-linecap="round" fill="none"/>
<path d="M714.3,276.9 Q717.0,281.5 718.6,285.6" stroke="#c8c8c8" stroke-width="1.9" stroke-linecap="round" fill="none"/>
<path d="M709.20,235.50 C709.97,235.50 710.81,236.42 711.50,237.34 C712.19,238.26 712.68,239.49 713.34,241.02 C714.00,242.55 714.83,244.70 715.46,246.54 C716.08,248.38 716.70,250.07 717.11,252.06 C717.53,254.05 717.73,256.05 717.94,258.50 C718.15,260.95 718.32,264.17 718.40,266.78 C718.48,269.39 718.55,272.07 718.40,274.14 C718.25,276.21 718.25,277.97 717.48,279.20 C716.71,280.43 715.18,281.08 713.80,281.50 C712.42,281.92 710.73,281.73 709.20,281.73 C707.67,281.73 705.98,281.92 704.60,281.50 C703.22,281.08 701.69,280.43 700.92,279.20 C700.15,277.97 700.15,276.21 700.00,274.14 C699.85,272.07 699.92,269.39 700.00,266.78 C700.08,264.17 700.25,260.95 700.46,258.50 C700.67,256.05 700.87,254.05 701.29,252.06 C701.70,250.07 702.32,248.38 702.94,246.54 C703.57,244.70 704.40,242.55 705.06,241.02 C705.72,239.49 706.21,238.26 706.90,237.34 C707.59,236.42 708.43,235.50 709.20,235.50 Z" fill="url(#mg)" filter="url(#bl)"/>
<line x1="143.0" y1="291.6" x2="143.0" y2="297.6" stroke="#aaa" stroke-width="1"/>
<line x1="143.0" y1="343.6" x2="143.5" y2="352.5" stroke="#bcbcbc" stroke-width="1.6"/>
<path d="M137.2,340.6 Q134.0,345.6 132.2,350.1" stroke="#c8c8c8" stroke-width="1.9" stroke-linecap="round" fill="none"/>
<path d="M148.8,340.6 Q152.0,345.6 153.8,350.1" stroke="#c8c8c8" stroke-width="1.9" stroke-linecap="round" fill="none"/>
<path d="M143.00,295.60 C143.88,295.60 144.86,296.60 145.65,297.60 C146.44,298.60 147.01,299.93 147.77,301.60 C148.53,303.27 149.48,305.60 150.21,307.60 C150.93,309.60 151.64,311.43 152.12,313.60 C152.59,315.77 152.82,317.93 153.07,320.60 C153.32,323.27 153.51,326.77 153.60,329.60 C153.69,332.43 153.78,335.35 153.60,337.60 C153.42,339.85 153.42,341.77 152.54,343.10 C151.66,344.43 149.89,345.14 148.30,345.60 C146.71,346.06 144.77,345.85 143.00,345.85 C141.23,345.85 139.29,346.06 137.70,345.60 C136.11,345.14 134.34,344.43 133.46,343.10 C132.58,341.77 132.58,339.85 132.40,337.60 C132.22,335.35 132.31,332.43 132.40,329.60 C132.49,326.77 132.68,323.27 132.93,320.60 C133.18,317.93 133.41,315.77 133.88,313.60 C134.36,311.43 135.07,309.60 135.79,307.60 C136.52,305.60 137.47,303.27 138.23,301.60 C138.99,299.93 139.56,298.60 140.35,297.60 C141.14,296.60 142.12,295.60 143.00,295.60 Z" fill="url(#mg)" filter="url(#bl)"/>
<line x1="164.0" y1="291.6" x2="164.0" y2="297.6" stroke="#aaa" stroke-width="1"/>
<line x1="164.0" y1="343.6" x2="164.5" y2="352.5" stroke="#bcbcbc" stroke-width="1.6"/>
<path d="M158.2,340.6 Q155.0,345.6 153.2,350.1" stroke="#c8c8c8" stroke-width="1.9" stroke-linecap="round" fill="none"/>
<path d="M169.8,340.6 Q173.0,345.6 174.8,350.1" stroke="#c8c8c8" stroke-width="1.9" stroke-linecap="round" fill="none"/>
<path d="M164.00,295.60 C164.88,295.60 165.86,296.60 166.65,297.60 C167.44,298.60 168.01,299.93 168.77,301.60 C169.53,303.27 170.48,305.60 171.21,307.60 C171.93,309.60 172.64,311.43 173.12,313.60 C173.59,315.77 173.82,317.93 174.07,320.60 C174.32,323.27 174.51,326.77 174.60,329.60 C174.69,332.43 174.78,335.35 174.60,337.60 C174.42,339.85 174.42,341.77 173.54,343.10 C172.66,344.43 170.89,345.14 169.30,345.60 C167.71,346.06 165.77,345.85 164.00,345.85 C162.23,345.85 160.29,346.06 158.70,345.60 C157.11,345.14 155.34,344.43 154.46,343.10 C153.58,341.77 153.58,339.85 153.40,337.60 C153.22,335.35 153.31,332.43 153.40,329.60 C153.49,326.77 153.68,323.27 153.93,320.60 C154.18,317.93 154.41,315.77 154.88,313.60 C155.36,311.43 156.07,309.60 156.79,307.60 C157.52,305.60 158.47,303.27 159.23,301.60 C159.99,299.93 160.56,298.60 161.35,297.60 C162.14,296.60 163.12,295.60 164.00,295.60 Z" fill="url(#mg)" filter="url(#bl)"/>
<line x1="187.5" y1="291.6" x2="187.5" y2="297.6" stroke="#aaa" stroke-width="1"/>
<line x1="187.5" y1="343.6" x2="188.0" y2="352.5" stroke="#bcbcbc" stroke-width="1.6"/>
<path d="M181.7,340.6 Q178.5,345.6 176.7,350.1" stroke="#c8c8c8" stroke-width="1.9" stroke-linecap="round" fill="none"/>
<path d="M193.3,340.6 Q196.5,345.6 198.3,350.1" stroke="#c8c8c8" stroke-width="1.9" stroke-linecap="round" fill="none"/>
<path d="M187.50,295.60 C188.38,295.60 189.36,296.60 190.15,297.60 C190.94,298.60 191.51,299.93 192.27,301.60 C193.03,303.27 193.98,305.60 194.71,307.60 C195.43,309.60 196.14,311.43 196.62,313.60 C197.09,315.77 197.32,317.93 197.57,320.60 C197.82,323.27 198.01,326.77 198.10,329.60 C198.19,332.43 198.28,335.35 198.10,337.60 C197.92,339.85 197.92,341.77 197.04,343.10 C196.16,344.43 194.39,345.14 192.80,345.60 C191.21,346.06 189.27,345.85 187.50,345.85 C185.73,345.85 183.79,346.06 182.20,345.60 C180.61,345.14 178.84,344.43 177.96,343.10 C177.08,341.77 177.08,339.85 176.90,337.60 C176.72,335.35 176.81,332.43 176.90,329.60 C176.99,326.77 177.18,323.27 177.43,320.60 C177.68,317.93 177.91,315.77 178.38,313.60 C178.86,311.43 179.57,309.60 180.29,307.60 C181.02,305.60 181.97,303.27 182.73,301.60 C183.49,299.93 184.06,298.60 184.85,297.60 C185.64,296.60 186.62,295.60 187.50,295.60 Z" fill="url(#mg)" filter="url(#bl)"/>
<line x1="209.7" y1="291.6" x2="209.7" y2="297.6" stroke="#aaa" stroke-width="1"/>
<line x1="209.7" y1="343.6" x2="210.2" y2="352.5" stroke="#bcbcbc" stroke-width="1.6"/>
<path d="M203.9,340.6 Q200.7,345.6 198.9,350.1" stroke="#c8c8c8" stroke-width="1.9" stroke-linecap="round" fill="none"/>
<path d="M215.5,340.6 Q218.7,345.6 220.5,350.1" stroke="#c8c8c8" stroke-width="1.9" stroke-linecap="round" fill="none"/>
<path d="M209.70,295.60 C210.58,295.60 211.56,296.60 212.35,297.60 C213.14,298.60 213.71,299.93 214.47,301.60 C215.23,303.27 216.18,305.60 216.91,307.60 C217.63,309.60 218.34,311.43 218.82,313.60 C219.29,315.77 219.52,317.93 219.77,320.60 C220.02,323.27 220.21,326.77 220.30,329.60 C220.39,332.43 220.48,335.35 220.30,337.60 C220.12,339.85 220.12,341.77 219.24,343.10 C218.36,344.43 216.59,345.14 215.00,345.60 C213.41,346.06 211.47,345.85 209.70,345.85 C207.93,345.85 205.99,346.06 204.40,345.60 C202.81,345.14 201.04,344.43 200.16,343.10 C199.28,341.77 199.28,339.85 199.10,337.60 C198.92,335.35 199.01,332.43 199.10,329.60 C199.19,326.77 199.38,323.27 199.63,320.60 C199.88,317.93 200.11,315.77 200.58,313.60 C201.06,311.43 201.77,309.60 202.49,307.60 C203.22,305.60 204.17,303.27 204.93,301.60 C205.69,299.93 206.25,298.60 207.05,297.60 C207.84,296.60 208.82,295.60 209.70,295.60 Z" fill="url(#mg)" filter="url(#bl)"/>
<line x1="241.4" y1="291.6" x2="241.4" y2="297.6" stroke="#aaa" stroke-width="1"/>
<line x1="241.4" y1="343.6" x2="241.9" y2="352.5" stroke="#bcbcbc" stroke-width="1.6"/>
<path d="M236.0,340.6 Q233.1,345.6 231.4,350.1" stroke="#c8c8c8" stroke-width="1.9" stroke-linecap="round" fill="none"/>
<path d="M246.8,340.6 Q249.7,345.6 251.4,350.1" stroke="#c8c8c8" stroke-width="1.9" stroke-linecap="round" fill="none"/>
<path d="M241.40,295.60 C242.22,295.60 243.12,296.60 243.85,297.60 C244.58,298.60 245.11,299.93 245.81,301.60 C246.51,303.27 247.39,305.60 248.06,307.60 C248.73,309.60 249.39,311.43 249.83,313.60 C250.27,315.77 250.48,317.93 250.71,320.60 C250.94,323.27 251.12,326.77 251.20,329.60 C251.28,332.43 251.36,335.35 251.20,337.60 C251.04,339.85 251.04,341.77 250.22,343.10 C249.40,344.43 247.77,345.14 246.30,345.60 C244.83,346.06 243.03,345.85 241.40,345.85 C239.77,345.85 237.97,346.06 236.50,345.60 C235.03,345.14 233.40,344.43 232.58,343.10 C231.76,341.77 231.76,339.85 231.60,337.60 C231.44,335.35 231.52,332.43 231.60,329.60 C231.68,326.77 231.86,323.27 232.09,320.60 C232.32,317.93 232.53,315.77 232.97,313.60 C233.41,311.43 234.07,309.60 234.74,307.60 C235.41,305.60 236.29,303.27 236.99,301.60 C237.69,299.93 238.22,298.60 238.95,297.60 C239.69,296.60 240.58,295.60 241.40,295.60 Z" fill="url(#mg)" filter="url(#bl)"/>
<line x1="264.7" y1="291.6" x2="264.7" y2="297.6" stroke="#aaa" stroke-width="1"/>
<line x1="264.7" y1="343.6" x2="265.2" y2="352.5" stroke="#bcbcbc" stroke-width="1.6"/>
<path d="M259.3,340.6 Q256.4,345.6 254.7,350.1" stroke="#c8c8c8" stroke-width="1.9" stroke-linecap="round" fill="none"/>
<path d="M270.1,340.6 Q273.0,345.6 274.7,350.1" stroke="#c8c8c8" stroke-width="1.9" stroke-linecap="round" fill="none"/>
<path d="M264.70,295.60 C265.52,295.60 266.41,296.60 267.15,297.60 C267.88,298.60 268.41,299.93 269.11,301.60 C269.81,303.27 270.69,305.60 271.36,307.60 C272.03,309.60 272.69,311.43 273.13,313.60 C273.57,315.77 273.78,317.93 274.01,320.60 C274.24,323.27 274.42,326.77 274.50,329.60 C274.58,332.43 274.66,335.35 274.50,337.60 C274.34,339.85 274.34,341.77 273.52,343.10 C272.70,344.43 271.07,345.14 269.60,345.60 C268.13,346.06 266.33,345.85 264.70,345.85 C263.07,345.85 261.27,346.06 259.80,345.60 C258.33,345.14 256.70,344.43 255.88,343.10 C255.06,341.77 255.06,339.85 254.90,337.60 C254.74,335.35 254.82,332.43 254.90,329.60 C254.98,326.77 255.16,323.27 255.39,320.60 C255.62,317.93 255.83,315.77 256.27,313.60 C256.71,311.43 257.37,309.60 258.04,307.60 C258.71,305.60 259.59,303.27 260.29,301.60 C260.99,299.93 261.51,298.60 262.25,297.60 C262.99,296.60 263.88,295.60 264.70,295.60 Z" fill="url(#mg)" filter="url(#bl)"/>
<line x1="288.0" y1="291.6" x2="288.0" y2="297.6" stroke="#aaa" stroke-width="1"/>
<line x1="288.0" y1="343.6" x2="288.5" y2="352.5" stroke="#bcbcbc" stroke-width="1.6"/>
<path d="M282.6,340.6 Q279.7,345.6 278.0,350.1" stroke="#c8c8c8" stroke-width="1.9" stroke-linecap="round" fill="none"/>
<path d="M293.4,340.6 Q296.3,345.6 298.0,350.1" stroke="#c8c8c8" stroke-width="1.9" stroke-linecap="round" fill="none"/>
<path d="M288.00,295.60 C288.82,295.60 289.71,296.60 290.45,297.60 C291.19,298.60 291.71,299.93 292.41,301.60 C293.11,303.27 293.99,305.60 294.66,307.60 C295.33,309.60 295.99,311.43 296.43,313.60 C296.87,315.77 297.08,317.93 297.31,320.60 C297.54,323.27 297.72,326.77 297.80,329.60 C297.88,332.43 297.96,335.35 297.80,337.60 C297.64,339.85 297.64,341.77 296.82,343.10 C296.00,344.43 294.37,345.14 292.90,345.60 C291.43,346.06 289.63,345.85 288.00,345.85 C286.37,345.85 284.57,346.06 283.10,345.60 C281.63,345.14 280.00,344.43 279.18,343.10 C278.36,341.77 278.36,339.85 278.20,337.60 C278.04,335.35 278.12,332.43 278.20,329.60 C278.28,326.77 278.46,323.27 278.69,320.60 C278.92,317.93 279.13,315.77 279.57,313.60 C280.01,311.43 280.67,309.60 281.34,307.60 C282.01,305.60 282.89,303.27 283.59,301.60 C284.29,299.93 284.81,298.60 285.55,297.60 C286.29,296.60 287.18,295.60 288.00,295.60 Z" fill="url(#mg)" filter="url(#bl)"/>
<line x1="313.1" y1="291.6" x2="313.1" y2="297.6" stroke="#aaa" stroke-width="1"/>
<line x1="313.1" y1="343.6" x2="313.6" y2="352.5" stroke="#bcbcbc" stroke-width="1.6"/>
<path d="M307.7,340.6 Q304.8,345.6 303.1,350.1" stroke="#c8c8c8" stroke-width="1.9" stroke-linecap="round" fill="none"/>
<path d="M318.5,340.6 Q321.4,345.6 323.1,350.1" stroke="#c8c8c8" stroke-width="1.9" stroke-linecap="round" fill="none"/>
<path d="M313.10,295.60 C313.92,295.60 314.81,296.60 315.55,297.60 C316.29,298.60 316.81,299.93 317.51,301.60 C318.21,303.27 319.09,305.60 319.76,307.60 C320.43,309.60 321.09,311.43 321.53,313.60 C321.97,315.77 322.18,317.93 322.41,320.60 C322.64,323.27 322.82,326.77 322.90,329.60 C322.98,332.43 323.06,335.35 322.90,337.60 C322.74,339.85 322.74,341.77 321.92,343.10 C321.10,344.43 319.47,345.14 318.00,345.60 C316.53,346.06 314.73,345.85 313.10,345.85 C311.47,345.85 309.67,346.06 308.20,345.60 C306.73,345.14 305.10,344.43 304.28,343.10 C303.46,341.77 303.46,339.85 303.30,337.60 C303.14,335.35 303.22,332.43 303.30,329.60 C303.38,326.77 303.56,323.27 303.79,320.60 C304.02,317.93 304.23,315.77 304.67,313.60 C305.11,311.43 305.77,309.60 306.44,307.60 C307.11,305.60 307.99,303.27 308.69,301.60 C309.39,299.93 309.92,298.60 310.65,297.60 C311.39,296.60 312.28,295.60 313.10,295.60 Z" fill="url(#mg)" filter="url(#bl)"/>
<line x1="336.5" y1="291.6" x2="336.5" y2="297.6" stroke="#aaa" stroke-width="1"/>
<line x1="336.5" y1="343.6" x2="337.0" y2="352.5" stroke="#bcbcbc" stroke-width="1.6"/>
<path d="M331.1,340.6 Q328.2,345.6 326.5,350.1" stroke="#c8c8c8" stroke-width="1.9" stroke-linecap="round" fill="none"/>
<path d="M341.9,340.6 Q344.8,345.6 346.5,350.1" stroke="#c8c8c8" stroke-width="1.9" stroke-linecap="round" fill="none"/>
<path d="M336.50,295.60 C337.32,295.60 338.21,296.60 338.95,297.60 C339.69,298.60 340.21,299.93 340.91,301.60 C341.61,303.27 342.49,305.60 343.16,307.60 C343.83,309.60 344.49,311.43 344.93,313.60 C345.37,315.77 345.58,317.93 345.81,320.60 C346.04,323.27 346.22,326.77 346.30,329.60 C346.38,332.43 346.46,335.35 346.30,337.60 C346.14,339.85 346.14,341.77 345.32,343.10 C344.50,344.43 342.87,345.14 341.40,345.60 C339.93,346.06 338.13,345.85 336.50,345.85 C334.87,345.85 333.07,346.06 331.60,345.60 C330.13,345.14 328.50,344.43 327.68,343.10 C326.86,341.77 326.86,339.85 326.70,337.60 C326.54,335.35 326.62,332.43 326.70,329.60 C326.78,326.77 326.96,323.27 327.19,320.60 C327.42,317.93 327.63,315.77 328.07,313.60 C328.51,311.43 329.17,309.60 329.84,307.60 C330.51,305.60 331.39,303.27 332.09,301.60 C332.79,299.93 333.31,298.60 334.05,297.60 C334.79,296.60 335.68,295.60 336.50,295.60 Z" fill="url(#mg)" filter="url(#bl)"/>
<line x1="364.8" y1="291.6" x2="364.8" y2="297.6" stroke="#aaa" stroke-width="1"/>
<line x1="364.8" y1="343.6" x2="365.3" y2="352.5" stroke="#bcbcbc" stroke-width="1.6"/>
<path d="M359.4,340.6 Q356.5,345.6 354.8,350.1" stroke="#c8c8c8" stroke-width="1.9" stroke-linecap="round" fill="none"/>
<path d="M370.2,340.6 Q373.1,345.6 374.8,350.1" stroke="#c8c8c8" stroke-width="1.9" stroke-linecap="round" fill="none"/>
<path d="M364.80,295.60 C365.62,295.60 366.51,296.60 367.25,297.60 C367.99,298.60 368.51,299.93 369.21,301.60 C369.91,303.27 370.79,305.60 371.46,307.60 C372.13,309.60 372.79,311.43 373.23,313.60 C373.67,315.77 373.88,317.93 374.11,320.60 C374.34,323.27 374.52,326.77 374.60,329.60 C374.68,332.43 374.76,335.35 374.60,337.60 C374.44,339.85 374.44,341.77 373.62,343.10 C372.80,344.43 371.17,345.14 369.70,345.60 C368.23,346.06 366.43,345.85 364.80,345.85 C363.17,345.85 361.37,346.06 359.90,345.60 C358.43,345.14 356.80,344.43 355.98,343.10 C355.16,341.77 355.16,339.85 355.00,337.60 C354.84,335.35 354.92,332.43 355.00,329.60 C355.08,326.77 355.26,323.27 355.49,320.60 C355.72,317.93 355.93,315.77 356.37,313.60 C356.81,311.43 357.47,309.60 358.14,307.60 C358.81,305.60 359.69,303.27 360.39,301.60 C361.09,299.93 361.62,298.60 362.35,297.60 C363.09,296.60 363.98,295.60 364.80,295.60 Z" fill="url(#mg)" filter="url(#bl)"/>
<line x1="388.2" y1="291.6" x2="388.2" y2="297.6" stroke="#aaa" stroke-width="1"/>
<line x1="388.2" y1="343.6" x2="388.7" y2="352.5" stroke="#bcbcbc" stroke-width="1.6"/>
<path d="M382.8,340.6 Q379.9,345.6 378.2,350.1" stroke="#c8c8c8" stroke-width="1.9" stroke-linecap="round" fill="none"/>
<path d="M393.6,340.6 Q396.5,345.6 398.2,350.1" stroke="#c8c8c8" stroke-width="1.9" stroke-linecap="round" fill="none"/>
<path d="M388.20,295.60 C389.02,295.60 389.91,296.60 390.65,297.60 C391.38,298.60 391.91,299.93 392.61,301.60 C393.31,303.27 394.19,305.60 394.86,307.60 C395.53,309.60 396.19,311.43 396.63,313.60 C397.07,315.77 397.28,317.93 397.51,320.60 C397.74,323.27 397.92,326.77 398.00,329.60 C398.08,332.43 398.16,335.35 398.00,337.60 C397.84,339.85 397.84,341.77 397.02,343.10 C396.20,344.43 394.57,345.14 393.10,345.60 C391.63,346.06 389.83,345.85 388.20,345.85 C386.57,345.85 384.77,346.06 383.30,345.60 C381.83,345.14 380.20,344.43 379.38,343.10 C378.56,341.77 378.56,339.85 378.40,337.60 C378.24,335.35 378.32,332.43 378.40,329.60 C378.48,326.77 378.66,323.27 378.89,320.60 C379.12,317.93 379.33,315.77 379.77,313.60 C380.21,311.43 380.87,309.60 381.54,307.60 C382.21,305.60 383.09,303.27 383.79,301.60 C384.49,299.93 385.01,298.60 385.75,297.60 C386.49,296.60 387.38,295.60 388.20,295.60 Z" fill="url(#mg)" filter="url(#bl)"/>
<line x1="413.2" y1="291.6" x2="413.2" y2="297.6" stroke="#aaa" stroke-width="1"/>
<line x1="413.2" y1="343.6" x2="413.7" y2="352.5" stroke="#bcbcbc" stroke-width="1.6"/>
<path d="M407.8,340.6 Q404.9,345.6 403.2,350.1" stroke="#c8c8c8" stroke-width="1.9" stroke-linecap="round" fill="none"/>
<path d="M418.6,340.6 Q421.5,345.6 423.2,350.1" stroke="#c8c8c8" stroke-width="1.9" stroke-linecap="round" fill="none"/>
<path d="M413.20,295.60 C414.02,295.60 414.91,296.60 415.65,297.60 C416.38,298.60 416.91,299.93 417.61,301.60 C418.31,303.27 419.19,305.60 419.86,307.60 C420.53,309.60 421.19,311.43 421.63,313.60 C422.07,315.77 422.28,317.93 422.51,320.60 C422.74,323.27 422.92,326.77 423.00,329.60 C423.08,332.43 423.16,335.35 423.00,337.60 C422.84,339.85 422.84,341.77 422.02,343.10 C421.20,344.43 419.57,345.14 418.10,345.60 C416.63,346.06 414.83,345.85 413.20,345.85 C411.57,345.85 409.77,346.06 408.30,345.60 C406.83,345.14 405.20,344.43 404.38,343.10 C403.56,341.77 403.56,339.85 403.40,337.60 C403.24,335.35 403.32,332.43 403.40,329.60 C403.48,326.77 403.66,323.27 403.89,320.60 C404.12,317.93 404.33,315.77 404.77,313.60 C405.21,311.43 405.87,309.60 406.54,307.60 C407.21,305.60 408.09,303.27 408.79,301.60 C409.49,299.93 410.01,298.60 410.75,297.60 C411.49,296.60 412.38,295.60 413.20,295.60 Z" fill="url(#mg)" filter="url(#bl)"/>
<line x1="436.6" y1="291.6" x2="436.6" y2="297.6" stroke="#aaa" stroke-width="1"/>
<line x1="436.6" y1="343.6" x2="437.1" y2="352.5" stroke="#bcbcbc" stroke-width="1.6"/>
<path d="M431.2,340.6 Q428.3,345.6 426.6,350.1" stroke="#c8c8c8" stroke-width="1.9" stroke-linecap="round" fill="none"/>
<path d="M442.0,340.6 Q444.9,345.6 446.6,350.1" stroke="#c8c8c8" stroke-width="1.9" stroke-linecap="round" fill="none"/>
<path d="M436.60,295.60 C437.42,295.60 438.31,296.60 439.05,297.60 C439.79,298.60 440.31,299.93 441.01,301.60 C441.71,303.27 442.59,305.60 443.26,307.60 C443.93,309.60 444.59,311.43 445.03,313.60 C445.47,315.77 445.68,317.93 445.91,320.60 C446.14,323.27 446.32,326.77 446.40,329.60 C446.48,332.43 446.56,335.35 446.40,337.60 C446.24,339.85 446.24,341.77 445.42,343.10 C444.60,344.43 442.97,345.14 441.50,345.60 C440.03,346.06 438.23,345.85 436.60,345.85 C434.97,345.85 433.17,346.06 431.70,345.60 C430.23,345.14 428.60,344.43 427.78,343.10 C426.96,341.77 426.96,339.85 426.80,337.60 C426.64,335.35 426.72,332.43 426.80,329.60 C426.88,326.77 427.06,323.27 427.29,320.60 C427.52,317.93 427.73,315.77 428.17,313.60 C428.61,311.43 429.27,309.60 429.94,307.60 C430.61,305.60 431.49,303.27 432.19,301.60 C432.89,299.93 433.42,298.60 434.15,297.60 C434.89,296.60 435.78,295.60 436.60,295.60 Z" fill="url(#mg)" filter="url(#bl)"/>
<line x1="460.0" y1="291.6" x2="460.0" y2="297.6" stroke="#aaa" stroke-width="1"/>
<line x1="460.0" y1="343.6" x2="460.5" y2="352.5" stroke="#bcbcbc" stroke-width="1.6"/>
<path d="M454.6,340.6 Q451.7,345.6 450.0,350.1" stroke="#c8c8c8" stroke-width="1.9" stroke-linecap="round" fill="none"/>
<path d="M465.4,340.6 Q468.3,345.6 470.0,350.1" stroke="#c8c8c8" stroke-width="1.9" stroke-linecap="round" fill="none"/>
<path d="M460.00,295.60 C460.82,295.60 461.71,296.60 462.45,297.60 C463.19,298.60 463.71,299.93 464.41,301.60 C465.11,303.27 465.99,305.60 466.66,307.60 C467.33,309.60 467.99,311.43 468.43,313.60 C468.87,315.77 469.08,317.93 469.31,320.60 C469.54,323.27 469.72,326.77 469.80,329.60 C469.88,332.43 469.96,335.35 469.80,337.60 C469.64,339.85 469.64,341.77 468.82,343.10 C468.00,344.43 466.37,345.14 464.90,345.60 C463.43,346.06 461.63,345.85 460.00,345.85 C458.37,345.85 456.57,346.06 455.10,345.60 C453.63,345.14 452.00,344.43 451.18,343.10 C450.36,341.77 450.36,339.85 450.20,337.60 C450.04,335.35 450.12,332.43 450.20,329.60 C450.28,326.77 450.46,323.27 450.69,320.60 C450.92,317.93 451.13,315.77 451.57,313.60 C452.01,311.43 452.67,309.60 453.34,307.60 C454.01,305.60 454.89,303.27 455.59,301.60 C456.29,299.93 456.81,298.60 457.55,297.60 C458.29,296.60 459.18,295.60 460.00,295.60 Z" fill="url(#mg)" filter="url(#bl)"/>
<line x1="490.5" y1="291.6" x2="490.5" y2="297.6" stroke="#aaa" stroke-width="1"/>
<line x1="490.5" y1="343.6" x2="491.0" y2="352.5" stroke="#bcbcbc" stroke-width="1.6"/>
<path d="M485.1,340.6 Q482.2,345.6 480.5,350.1" stroke="#c8c8c8" stroke-width="1.9" stroke-linecap="round" fill="none"/>
<path d="M495.9,340.6 Q498.8,345.6 500.5,350.1" stroke="#c8c8c8" stroke-width="1.9" stroke-linecap="round" fill="none"/>
<path d="M490.50,295.60 C491.32,295.60 492.21,296.60 492.95,297.60 C493.69,298.60 494.21,299.93 494.91,301.60 C495.61,303.27 496.49,305.60 497.16,307.60 C497.83,309.60 498.49,311.43 498.93,313.60 C499.37,315.77 499.58,317.93 499.81,320.60 C500.04,323.27 500.22,326.77 500.30,329.60 C500.38,332.43 500.46,335.35 500.30,337.60 C500.14,339.85 500.14,341.77 499.32,343.10 C498.50,344.43 496.87,345.14 495.40,345.60 C493.93,346.06 492.13,345.85 490.50,345.85 C488.87,345.85 487.07,346.06 485.60,345.60 C484.13,345.14 482.50,344.43 481.68,343.10 C480.86,341.77 480.86,339.85 480.70,337.60 C480.54,335.35 480.62,332.43 480.70,329.60 C480.78,326.77 480.96,323.27 481.19,320.60 C481.42,317.93 481.63,315.77 482.07,313.60 C482.51,311.43 483.17,309.60 483.84,307.60 C484.51,305.60 485.39,303.27 486.09,301.60 C486.79,299.93 487.31,298.60 488.05,297.60 C488.79,296.60 489.68,295.60 490.50,295.60 Z" fill="url(#mg)" filter="url(#bl)"/>
<line x1="514.0" y1="291.6" x2="514.0" y2="297.6" stroke="#aaa" stroke-width="1"/>
<line x1="514.0" y1="343.6" x2="514.5" y2="352.5" stroke="#bcbcbc" stroke-width="1.6"/>
<path d="M508.6,340.6 Q505.7,345.6 504.0,350.1" stroke="#c8c8c8" stroke-width="1.9" stroke-linecap="round" fill="none"/>
<path d="M519.4,340.6 Q522.3,345.6 524.0,350.1" stroke="#c8c8c8" stroke-width="1.9" stroke-linecap="round" fill="none"/>
<path d="M514.00,295.60 C514.82,295.60 515.72,296.60 516.45,297.60 C517.19,298.60 517.71,299.93 518.41,301.60 C519.11,303.27 519.99,305.60 520.66,307.60 C521.33,309.60 521.99,311.43 522.43,313.60 C522.87,315.77 523.08,317.93 523.31,320.60 C523.54,323.27 523.72,326.77 523.80,329.60 C523.88,332.43 523.96,335.35 523.80,337.60 C523.64,339.85 523.64,341.77 522.82,343.10 C522.00,344.43 520.37,345.14 518.90,345.60 C517.43,346.06 515.63,345.85 514.00,345.85 C512.37,345.85 510.57,346.06 509.10,345.60 C507.63,345.14 506.00,344.43 505.18,343.10 C504.36,341.77 504.36,339.85 504.20,337.60 C504.04,335.35 504.12,332.43 504.20,329.60 C504.28,326.77 504.46,323.27 504.69,320.60 C504.92,317.93 505.13,315.77 505.57,313.60 C506.01,311.43 506.67,309.60 507.34,307.60 C508.01,305.60 508.89,303.27 509.59,301.60 C510.29,299.93 510.81,298.60 511.55,297.60 C512.28,296.60 513.18,295.60 514.00,295.60 Z" fill="url(#mg)" filter="url(#bl)"/>
<line x1="539.2" y1="291.6" x2="539.2" y2="297.6" stroke="#aaa" stroke-width="1"/>
<line x1="539.2" y1="343.6" x2="539.7" y2="352.5" stroke="#bcbcbc" stroke-width="1.6"/>
<path d="M533.8,340.6 Q530.9,345.6 529.2,350.1" stroke="#c8c8c8" stroke-width="1.9" stroke-linecap="round" fill="none"/>
<path d="M544.6,340.6 Q547.5,345.6 549.2,350.1" stroke="#c8c8c8" stroke-width="1.9" stroke-linecap="round" fill="none"/>
<path d="M539.20,295.60 C540.02,295.60 540.92,296.60 541.65,297.60 C542.39,298.60 542.91,299.93 543.61,301.60 C544.31,303.27 545.19,305.60 545.86,307.60 C546.53,309.60 547.19,311.43 547.63,313.60 C548.07,315.77 548.28,317.93 548.51,320.60 C548.74,323.27 548.92,326.77 549.00,329.60 C549.08,332.43 549.16,335.35 549.00,337.60 C548.84,339.85 548.84,341.77 548.02,343.10 C547.20,344.43 545.57,345.14 544.10,345.60 C542.63,346.06 540.83,345.85 539.20,345.85 C537.57,345.85 535.77,346.06 534.30,345.60 C532.83,345.14 531.20,344.43 530.38,343.10 C529.56,341.77 529.56,339.85 529.40,337.60 C529.24,335.35 529.32,332.43 529.40,329.60 C529.48,326.77 529.66,323.27 529.89,320.60 C530.12,317.93 530.33,315.77 530.77,313.60 C531.21,311.43 531.87,309.60 532.54,307.60 C533.21,305.60 534.09,303.27 534.79,301.60 C535.49,299.93 536.01,298.60 536.75,297.60 C537.49,296.60 538.38,295.60 539.20,295.60 Z" fill="url(#mg)" filter="url(#bl)"/>
<line x1="562.8" y1="291.6" x2="562.8" y2="297.6" stroke="#aaa" stroke-width="1"/>
<line x1="562.8" y1="343.6" x2="563.3" y2="352.5" stroke="#bcbcbc" stroke-width="1.6"/>
<path d="M557.4,340.6 Q554.5,345.6 552.8,350.1" stroke="#c8c8c8" stroke-width="1.9" stroke-linecap="round" fill="none"/>
<path d="M568.2,340.6 Q571.1,345.6 572.8,350.1" stroke="#c8c8c8" stroke-width="1.9" stroke-linecap="round" fill="none"/>
<path d="M562.80,295.60 C563.62,295.60 564.51,296.60 565.25,297.60 C565.99,298.60 566.51,299.93 567.21,301.60 C567.91,303.27 568.79,305.60 569.46,307.60 C570.13,309.60 570.79,311.43 571.23,313.60 C571.67,315.77 571.88,317.93 572.11,320.60 C572.34,323.27 572.52,326.77 572.60,329.60 C572.68,332.43 572.76,335.35 572.60,337.60 C572.44,339.85 572.44,341.77 571.62,343.10 C570.80,344.43 569.17,345.14 567.70,345.60 C566.23,346.06 564.43,345.85 562.80,345.85 C561.17,345.85 559.37,346.06 557.90,345.60 C556.43,345.14 554.80,344.43 553.98,343.10 C553.16,341.77 553.16,339.85 553.00,337.60 C552.84,335.35 552.92,332.43 553.00,329.60 C553.08,326.77 553.26,323.27 553.49,320.60 C553.72,317.93 553.93,315.77 554.37,313.60 C554.81,311.43 555.47,309.60 556.14,307.60 C556.81,305.60 557.69,303.27 558.39,301.60 C559.09,299.93 559.61,298.60 560.35,297.60 C561.08,296.60 561.98,295.60 562.80,295.60 Z" fill="url(#mg)" filter="url(#bl)"/>
<line x1="588.0" y1="291.6" x2="588.0" y2="297.6" stroke="#aaa" stroke-width="1"/>
<line x1="588.0" y1="343.6" x2="588.5" y2="352.5" stroke="#bcbcbc" stroke-width="1.6"/>
<path d="M582.6,340.6 Q579.7,345.6 578.0,350.1" stroke="#c8c8c8" stroke-width="1.9" stroke-linecap="round" fill="none"/>
<path d="M593.4,340.6 Q596.3,345.6 598.0,350.1" stroke="#c8c8c8" stroke-width="1.9" stroke-linecap="round" fill="none"/>
<path d="M588.00,295.60 C588.82,295.60 589.72,296.60 590.45,297.60 C591.19,298.60 591.71,299.93 592.41,301.60 C593.11,303.27 593.99,305.60 594.66,307.60 C595.33,309.60 595.99,311.43 596.43,313.60 C596.87,315.77 597.08,317.93 597.31,320.60 C597.54,323.27 597.72,326.77 597.80,329.60 C597.88,332.43 597.96,335.35 597.80,337.60 C597.64,339.85 597.64,341.77 596.82,343.10 C596.00,344.43 594.37,345.14 592.90,345.60 C591.43,346.06 589.63,345.85 588.00,345.85 C586.37,345.85 584.57,346.06 583.10,345.60 C581.63,345.14 580.00,344.43 579.18,343.10 C578.36,341.77 578.36,339.85 578.20,337.60 C578.04,335.35 578.12,332.43 578.20,329.60 C578.28,326.77 578.46,323.27 578.69,320.60 C578.92,317.93 579.13,315.77 579.57,313.60 C580.01,311.43 580.67,309.60 581.34,307.60 C582.01,305.60 582.89,303.27 583.59,301.60 C584.29,299.93 584.81,298.60 585.55,297.60 C586.28,296.60 587.18,295.60 588.00,295.60 Z" fill="url(#mg)" filter="url(#bl)"/>
<line x1="615.0" y1="291.6" x2="615.0" y2="297.6" stroke="#aaa" stroke-width="1"/>
<line x1="615.0" y1="343.6" x2="615.5" y2="352.5" stroke="#bcbcbc" stroke-width="1.6"/>
<path d="M609.6,340.6 Q606.7,345.6 605.0,350.1" stroke="#c8c8c8" stroke-width="1.9" stroke-linecap="round" fill="none"/>
<path d="M620.4,340.6 Q623.3,345.6 625.0,350.1" stroke="#c8c8c8" stroke-width="1.9" stroke-linecap="round" fill="none"/>
<path d="M615.00,295.60 C615.82,295.60 616.72,296.60 617.45,297.60 C618.19,298.60 618.71,299.93 619.41,301.60 C620.11,303.27 620.99,305.60 621.66,307.60 C622.33,309.60 622.99,311.43 623.43,313.60 C623.87,315.77 624.08,317.93 624.31,320.60 C624.54,323.27 624.72,326.77 624.80,329.60 C624.88,332.43 624.96,335.35 624.80,337.60 C624.64,339.85 624.64,341.77 623.82,343.10 C623.00,344.43 621.37,345.14 619.90,345.60 C618.43,346.06 616.63,345.85 615.00,345.85 C613.37,345.85 611.57,346.06 610.10,345.60 C608.63,345.14 607.00,344.43 606.18,343.10 C605.36,341.77 605.36,339.85 605.20,337.60 C605.04,335.35 605.12,332.43 605.20,329.60 C605.28,326.77 605.46,323.27 605.69,320.60 C605.92,317.93 606.13,315.77 606.57,313.60 C607.01,311.43 607.67,309.60 608.34,307.60 C609.01,305.60 609.89,303.27 610.59,301.60 C611.29,299.93 611.81,298.60 612.55,297.60 C613.28,296.60 614.18,295.60 615.00,295.60 Z" fill="url(#mg)" filter="url(#bl)"/>
<line x1="662.0" y1="291.6" x2="662.0" y2="297.6" stroke="#aaa" stroke-width="1"/>
<line x1="662.0" y1="343.6" x2="662.5" y2="352.5" stroke="#bcbcbc" stroke-width="1.6"/>
<path d="M656.6,340.6 Q653.7,345.6 652.0,350.1" stroke="#c8c8c8" stroke-width="1.9" stroke-linecap="round" fill="none"/>
<path d="M667.4,340.6 Q670.3,345.6 672.0,350.1" stroke="#c8c8c8" stroke-width="1.9" stroke-linecap="round" fill="none"/>
<path d="M662.00,295.60 C662.82,295.60 663.72,296.60 664.45,297.60 C665.19,298.60 665.71,299.93 666.41,301.60 C667.11,303.27 667.99,305.60 668.66,307.60 C669.33,309.60 669.99,311.43 670.43,313.60 C670.87,315.77 671.08,317.93 671.31,320.60 C671.54,323.27 671.72,326.77 671.80,329.60 C671.88,332.43 671.96,335.35 671.80,337.60 C671.64,339.85 671.64,341.77 670.82,343.10 C670.00,344.43 668.37,345.14 666.90,345.60 C665.43,346.06 663.63,345.85 662.00,345.85 C660.37,345.85 658.57,346.06 657.10,345.60 C655.63,345.14 654.00,344.43 653.18,343.10 C652.36,341.77 652.36,339.85 652.20,337.60 C652.04,335.35 652.12,332.43 652.20,329.60 C652.28,326.77 652.46,323.27 652.69,320.60 C652.92,317.93 653.13,315.77 653.57,313.60 C654.01,311.43 654.67,309.60 655.34,307.60 C656.01,305.60 656.89,303.27 657.59,301.60 C658.29,299.93 658.81,298.60 659.55,297.60 C660.28,296.60 661.18,295.60 662.00,295.60 Z" fill="url(#mg)" filter="url(#bl)"/>
<line x1="685.6" y1="291.6" x2="685.6" y2="297.6" stroke="#aaa" stroke-width="1"/>
<line x1="685.6" y1="343.6" x2="686.1" y2="352.5" stroke="#bcbcbc" stroke-width="1.6"/>
<path d="M680.2,340.6 Q677.3,345.6 675.6,350.1" stroke="#c8c8c8" stroke-width="1.9" stroke-linecap="round" fill="none"/>
<path d="M691.0,340.6 Q693.9,345.6 695.6,350.1" stroke="#c8c8c8" stroke-width="1.9" stroke-linecap="round" fill="none"/>
<path d="M685.60,295.60 C686.42,295.60 687.32,296.60 688.05,297.60 C688.79,298.60 689.31,299.93 690.01,301.60 C690.71,303.27 691.59,305.60 692.26,307.60 C692.93,309.60 693.59,311.43 694.03,313.60 C694.47,315.77 694.68,317.93 694.91,320.60 C695.14,323.27 695.32,326.77 695.40,329.60 C695.48,332.43 695.56,335.35 695.40,337.60 C695.24,339.85 695.24,341.77 694.42,343.10 C693.60,344.43 691.97,345.14 690.50,345.60 C689.03,346.06 687.23,345.85 685.60,345.85 C683.97,345.85 682.17,346.06 680.70,345.60 C679.23,345.14 677.60,344.43 676.78,343.10 C675.96,341.77 675.96,339.85 675.80,337.60 C675.64,335.35 675.72,332.43 675.80,329.60 C675.88,326.77 676.06,323.27 676.29,320.60 C676.52,317.93 676.73,315.77 677.17,313.60 C677.61,311.43 678.27,309.60 678.94,307.60 C679.61,305.60 680.49,303.27 681.19,301.60 C681.89,299.93 682.41,298.60 683.15,297.60 C683.88,296.60 684.78,295.60 685.60,295.60 Z" fill="url(#mg)" filter="url(#bl)"/>
<line x1="710.9" y1="291.6" x2="710.9" y2="297.6" stroke="#aaa" stroke-width="1"/>
<line x1="710.9" y1="343.6" x2="711.4" y2="352.5" stroke="#bcbcbc" stroke-width="1.6"/>
<path d="M705.5,340.6 Q702.6,345.6 700.9,350.1" stroke="#c8c8c8" stroke-width="1.9" stroke-linecap="round" fill="none"/>
<path d="M716.3,340.6 Q719.2,345.6 720.9,350.1" stroke="#c8c8c8" stroke-width="1.9" stroke-linecap="round" fill="none"/>
<path d="M710.90,295.60 C711.72,295.60 712.62,296.60 713.35,297.60 C714.09,298.60 714.61,299.93 715.31,301.60 C716.01,303.27 716.89,305.60 717.56,307.60 C718.23,309.60 718.89,311.43 719.33,313.60 C719.77,315.77 719.98,317.93 720.21,320.60 C720.44,323.27 720.62,326.77 720.70,329.60 C720.78,332.43 720.86,335.35 720.70,337.60 C720.54,339.85 720.54,341.77 719.72,343.10 C718.90,344.43 717.27,345.14 715.80,345.60 C714.33,346.06 712.53,345.85 710.90,345.85 C709.27,345.85 707.47,346.06 706.00,345.60 C704.53,345.14 702.90,344.43 702.08,343.10 C701.26,341.77 701.26,339.85 701.10,337.60 C700.94,335.35 701.02,332.43 701.10,329.60 C701.18,326.77 701.36,323.27 701.59,320.60 C701.82,317.93 702.03,315.77 702.47,313.60 C702.91,311.43 703.57,309.60 704.24,307.60 C704.91,305.60 705.79,303.27 706.49,301.60 C707.19,299.93 707.71,298.60 708.45,297.60 C709.18,296.60 710.08,295.60 710.90,295.60 Z" fill="url(#mg)" filter="url(#bl)"/>
</g>
<g filter="url(#bb)">
<rect x="133.7" y="65.9" width="18.2" height="23.6" rx="5.6" ry="7.3" fill="#2434b0"/>
<rect x="159.8" y="67.4" width="11.4" height="14.0" rx="3.5" ry="4.3" fill="#2434b0"/>
<rect x="179.2" y="65.3" width="17.0" height="23.4" rx="5.3" ry="7.3" fill="#2434b0"/>
<rect x="205.5" y="63.0" width="9.0" height="7.0" rx="4.5" ry="3.5" fill="#2434b0"/>
<rect x="201.5" y="69.2" width="18.0" height="19.6" rx="5.6" ry="6.1" fill="#2434b0"/>
<rect x="231.3" y="67.9" width="17.6" height="21.8" rx="5.5" ry="6.8" fill="#2434b0"/>
<rect x="263.4" y="73.0" width="6.0" height="4.0" rx="3.0" ry="2.0" fill="#2434b0"/>
<rect x="279.8" y="67.0" width="16.8" height="16.0" rx="5.2" ry="5.0" fill="#2434b0"/>
<rect x="303.1" y="64.4" width="18.4" height="17.6" rx="5.7" ry="5.5" fill="#2434b0"/>
<rect x="329.0" y="66.2" width="16.6" height="20.8" rx="5.1" ry="6.4" fill="#2434b0"/>
<rect x="356.7" y="70.4" width="16.2" height="18.4" rx="5.0" ry="5.7" fill="#2434b0"/>
<rect x="381.2" y="63.7" width="18.4" height="20.0" rx="5.7" ry="6.2" fill="#2434b0"/>
<rect x="406.4" y="64.5" width="14.0" height="22.4" rx="4.3" ry="6.9" fill="#2434b0"/>
<rect x="433.7" y="67.9" width="12.6" height="17.4" rx="3.9" ry="5.4" fill="#2434b0"/>
<rect x="456.3" y="68.7" width="16.6" height="17.4" rx="5.1" ry="5.4" fill="#2434b0"/>
<rect x="483.6" y="67.0" width="16.8" height="23.4" rx="5.2" ry="7.3" fill="#2434b0"/>
<rect x="504.5" y="69.6" width="17.4" height="19.2" rx="5.4" ry="6.0" fill="#2434b0"/>
<rect x="529.6" y="69.6" width="16.8" height="20.8" rx="5.2" ry="6.4" fill="#2434b0"/>
<rect x="556.3" y="72.0" width="12.4" height="13.4" rx="3.8" ry="4.2" fill="#2434b0"/>
<rect x="579.7" y="67.0" width="15.8" height="20.0" rx="4.9" ry="6.2" fill="#2434b0"/>
<rect x="608.7" y="65.4" width="14.2" height="23.4" rx="4.4" ry="7.3" fill="#2434b0"/>
<rect x="628.7" y="67.0" width="17.4" height="17.6" rx="5.4" ry="5.5" fill="#2434b0"/>
<rect x="657.0" y="67.0" width="15.0" height="19.2" rx="4.7" ry="6.0" fill="#2434b0"/>
<rect x="682.0" y="68.0" width="16.0" height="22.4" rx="5.0" ry="6.9" fill="#2434b0"/>
<rect x="707.0" y="67.8" width="16.0" height="18.4" rx="5.0" ry="5.7" fill="#2434b0"/>
<rect x="134.8" y="67.0" width="16.0" height="21.4" rx="5.0" ry="6.6" fill="#3460e4"/>
<rect x="160.9" y="68.5" width="9.2" height="11.8" rx="2.9" ry="3.7" fill="#3460e4"/>
<rect x="180.3" y="66.4" width="14.8" height="21.2" rx="4.6" ry="6.6" fill="#3460e4"/>
<rect x="206.6" y="64.1" width="6.8" height="4.8" rx="3.4" ry="2.4" fill="#3460e4"/>
<rect x="202.6" y="70.3" width="15.8" height="17.4" rx="4.9" ry="5.4" fill="#3460e4"/>
<rect x="232.4" y="69.0" width="15.4" height="19.6" rx="4.8" ry="6.1" fill="#3460e4"/>
<rect x="264.4" y="74.0" width="4.0" height="2.0" rx="2.0" ry="1.0" fill="#3460e4"/>
<rect x="280.9" y="68.1" width="14.6" height="13.8" rx="4.5" ry="4.3" fill="#3460e4"/>
<rect x="304.2" y="65.5" width="16.2" height="15.4" rx="5.0" ry="4.8" fill="#3460e4"/>
<rect x="330.1" y="67.3" width="14.4" height="18.6" rx="4.5" ry="5.8" fill="#3460e4"/>
<rect x="357.8" y="71.5" width="14.0" height="16.2" rx="4.3" ry="5.0" fill="#3460e4"/>
<rect x="382.3" y="64.8" width="16.2" height="17.8" rx="5.0" ry="5.5" fill="#3460e4"/>
<rect x="407.5" y="65.6" width="11.8" height="20.2" rx="3.7" ry="6.3" fill="#3460e4"/>
<rect x="434.8" y="69.0" width="10.4" height="15.2" rx="3.2" ry="4.7" fill="#3460e4"/>
<rect x="457.4" y="69.8" width="14.4" height="15.2" rx="4.5" ry="4.7" fill="#3460e4"/>
<rect x="484.7" y="68.1" width="14.6" height="21.2" rx="4.5" ry="6.6" fill="#3460e4"/>
<rect x="505.6" y="70.7" width="15.2" height="17.0" rx="4.7" ry="5.3" fill="#3460e4"/>
<rect x="530.7" y="70.7" width="14.6" height="18.6" rx="4.5" ry="5.8" fill="#3460e4"/>
<rect x="557.4" y="73.1" width="10.2" height="11.2" rx="3.2" ry="3.5" fill="#3460e4"/>
<rect x="580.8" y="68.1" width="13.6" height="17.8" rx="4.2" ry="5.5" fill="#3460e4"/>
<rect x="609.8" y="66.5" width="12.0" height="21.2" rx="3.7" ry="6.6" fill="#3460e4"/>
<rect x="629.8" y="68.1" width="15.2" height="15.4" rx="4.7" ry="4.8" fill="#3460e4"/>
<rect x="658.1" y="68.1" width="12.8" height="17.0" rx="4.0" ry="5.3" fill="#3460e4"/>
<rect x="683.1" y="69.1" width="13.8" height="20.2" rx="4.3" ry="6.3" fill="#3460e4"/>
<rect x="708.1" y="68.9" width="13.8" height="16.2" rx="4.3" ry="5.0" fill="#3460e4"/>
<rect x="136.0" y="68.2" width="13.6" height="19.0" rx="4.2" ry="5.9" fill="#48c4ee"/>
<rect x="162.1" y="69.7" width="6.8" height="9.4" rx="2.1" ry="2.9" fill="#48c4ee"/>
<rect x="181.5" y="67.6" width="12.4" height="18.8" rx="3.8" ry="5.8" fill="#48c4ee"/>
<rect x="207.8" y="64.8" width="4.5" height="3.5" rx="2.2" ry="1.8" fill="#48c4ee"/>
<rect x="203.8" y="71.5" width="13.4" height="15.0" rx="4.2" ry="4.7" fill="#48c4ee"/>
<rect x="233.6" y="70.2" width="13.0" height="17.2" rx="4.0" ry="5.3" fill="#48c4ee"/>
<rect x="282.1" y="69.3" width="12.2" height="11.4" rx="3.8" ry="3.5" fill="#48c4ee"/>
<rect x="305.4" y="66.7" width="13.8" height="13.0" rx="4.3" ry="4.0" fill="#48c4ee"/>
<rect x="331.3" y="68.5" width="12.0" height="16.2" rx="3.7" ry="5.0" fill="#48c4ee"/>
<rect x="359.0" y="72.7" width="11.6" height="13.8" rx="3.6" ry="4.3" fill="#48c4ee"/>
<rect x="383.5" y="66.0" width="13.8" height="15.4" rx="4.3" ry="4.8" fill="#48c4ee"/>
<rect x="408.7" y="66.8" width="9.4" height="17.8" rx="2.9" ry="5.5" fill="#48c4ee"/>
<rect x="436.0" y="70.2" width="8.0" height="12.8" rx="2.5" ry="4.0" fill="#48c4ee"/>
<rect x="458.6" y="71.0" width="12.0" height="12.8" rx="3.7" ry="4.0" fill="#48c4ee"/>
<rect x="485.9" y="69.3" width="12.2" height="18.8" rx="3.8" ry="5.8" fill="#48c4ee"/>
<rect x="506.8" y="71.9" width="12.8" height="14.6" rx="4.0" ry="4.5" fill="#48c4ee"/>
<rect x="531.9" y="71.9" width="12.2" height="16.2" rx="3.8" ry="5.0" fill="#48c4ee"/>
<rect x="559.4" y="75.4" width="6.2" height="6.7" rx="1.9" ry="2.1" fill="#48c4ee"/>
<rect x="582.0" y="69.3" width="11.2" height="15.4" rx="3.5" ry="4.8" fill="#48c4ee"/>
<rect x="611.0" y="67.7" width="9.6" height="18.8" rx="3.0" ry="5.8" fill="#48c4ee"/>
<rect x="631.0" y="69.3" width="12.8" height="13.0" rx="4.0" ry="4.0" fill="#48c4ee"/>
<rect x="659.3" y="69.3" width="10.4" height="14.6" rx="3.2" ry="4.5" fill="#48c4ee"/>
<rect x="684.3" y="70.3" width="11.4" height="17.8" rx="3.5" ry="5.5" fill="#48c4ee"/>
<rect x="709.3" y="70.1" width="11.4" height="13.8" rx="3.5" ry="4.3" fill="#48c4ee"/>
<rect x="137.5" y="70.9" width="10.6" height="13.7" rx="3.3" ry="4.2" fill="#5ccf4c"/>
<rect x="183.3" y="70.9" width="8.8" height="12.2" rx="2.7" ry="3.8" fill="#5ccf4c"/>
<rect x="205.8" y="73.9" width="9.4" height="10.2" rx="2.9" ry="3.2" fill="#5ccf4c"/>
<rect x="235.0" y="72.5" width="10.2" height="12.6" rx="3.2" ry="3.9" fill="#5ccf4c"/>
<rect x="283.3" y="70.4" width="9.7" height="9.3" rx="3.0" ry="2.9" fill="#5ccf4c"/>
<rect x="307.5" y="68.6" width="9.6" height="9.2" rx="3.0" ry="2.8" fill="#5ccf4c"/>
<rect x="333.0" y="71.2" width="8.6" height="10.8" rx="2.7" ry="3.4" fill="#5ccf4c"/>
<rect x="360.1" y="74.3" width="9.4" height="10.7" rx="2.9" ry="3.3" fill="#5ccf4c"/>
<rect x="385.6" y="68.5" width="9.6" height="10.4" rx="3.0" ry="3.2" fill="#5ccf4c"/>
<rect x="409.8" y="69.9" width="7.3" height="11.6" rx="2.3" ry="3.6" fill="#5ccf4c"/>
<rect x="436.7" y="72.1" width="6.6" height="9.0" rx="2.0" ry="2.8" fill="#5ccf4c"/>
<rect x="487.6" y="72.6" width="8.7" height="12.2" rx="2.7" ry="3.8" fill="#5ccf4c"/>
<rect x="508.7" y="74.2" width="9.0" height="10.0" rx="2.8" ry="3.1" fill="#5ccf4c"/>
<rect x="533.6" y="74.6" width="8.7" height="10.8" rx="2.7" ry="3.4" fill="#5ccf4c"/>
<rect x="583.5" y="71.8" width="8.2" height="10.4" rx="2.5" ry="3.2" fill="#5ccf4c"/>
<rect x="612.1" y="71.0" width="7.4" height="12.2" rx="2.3" ry="3.8" fill="#5ccf4c"/>
<rect x="632.9" y="71.2" width="9.0" height="9.2" rx="2.8" ry="2.8" fill="#5ccf4c"/>
<rect x="660.1" y="71.0" width="8.7" height="11.1" rx="2.7" ry="3.5" fill="#5ccf4c"/>
<rect x="685.8" y="73.4" width="8.3" height="11.6" rx="2.6" ry="3.6" fill="#5ccf4c"/>
<rect x="710.8" y="72.2" width="8.3" height="9.6" rx="2.6" ry="3.0" fill="#5ccf4c"/>
<rect x="139.3" y="73.7" width="6.9" height="8.0" rx="3.5" ry="4.0" fill="#a6dc3c"/>
<rect x="236.8" y="75.0" width="6.7" height="7.7" rx="3.3" ry="3.8" fill="#a6dc3c"/>
<rect x="285.0" y="72.0" width="6.4" height="6.1" rx="3.2" ry="3.0" fill="#a6dc3c"/>
<rect x="361.7" y="76.1" width="6.2" height="7.0" rx="3.1" ry="3.5" fill="#a6dc3c"/>
<rect x="661.6" y="73.3" width="5.7" height="6.6" rx="2.9" ry="3.3" fill="#a6dc3c"/>
<rect x="140.8" y="75.4" width="4.0" height="4.6" rx="2.0" ry="2.3" fill="#eeea30"/>
<rect x="238.2" y="76.6" width="3.9" height="4.5" rx="1.9" ry="2.2" fill="#eeea30"/>
<rect x="286.4" y="73.2" width="3.7" height="3.5" rx="1.8" ry="1.8" fill="#eeea30"/>
<rect x="363.0" y="77.6" width="3.6" height="4.0" rx="1.8" ry="2.0" fill="#eeea30"/>
<rect x="662.9" y="74.7" width="3.3" height="3.8" rx="1.6" ry="1.9" fill="#eeea30"/>
</g>
<g filter="url(#bb)">
<rect x="131.5" y="123.9" width="20.6" height="30.0" rx="6.4" ry="9.3" fill="#2434b0"/>
<rect x="152.0" y="123.9" width="24.0" height="30.0" rx="7.4" ry="9.3" fill="#2434b0"/>
<rect x="176.0" y="125.0" width="22.4" height="30.0" rx="6.9" ry="9.3" fill="#2434b0"/>
<rect x="199.0" y="125.9" width="22.4" height="28.0" rx="6.9" ry="8.7" fill="#2434b0"/>
<rect x="239.0" y="128.1" width="8.0" height="9.0" rx="4.0" ry="4.5" fill="#2434b0"/>
<rect x="235.4" y="137.1" width="12.0" height="11.0" rx="3.7" ry="3.4" fill="#2434b0"/>
<rect x="254.7" y="131.7" width="19.2" height="20.0" rx="6.0" ry="6.2" fill="#2434b0"/>
<rect x="278.5" y="138.5" width="13.0" height="14.0" rx="4.0" ry="4.3" fill="#2434b0"/>
<rect x="283.4" y="136.2" width="6.0" height="6.0" rx="3.0" ry="3.0" fill="#2434b0"/>
<rect x="302.2" y="130.0" width="16.8" height="21.0" rx="5.2" ry="6.5" fill="#2434b0"/>
<rect x="329.0" y="134.2" width="14.2" height="17.6" rx="4.4" ry="5.5" fill="#2434b0"/>
<rect x="361.6" y="138.4" width="3.2" height="3.2" rx="1.6" ry="1.6" fill="#2434b0"/>
<rect x="383.2" y="131.6" width="16.8" height="18.4" rx="5.2" ry="5.7" fill="#2434b0"/>
<rect x="431.6" y="139.4" width="7.4" height="9.0" rx="3.7" ry="4.5" fill="#2434b0"/>
<rect x="507.3" y="138.8" width="15.0" height="13.4" rx="4.7" ry="4.2" fill="#2434b0"/>
<rect x="554.1" y="140.5" width="6.0" height="5.0" rx="3.0" ry="2.5" fill="#2434b0"/>
<rect x="612.4" y="135.2" width="6.4" height="7.0" rx="3.2" ry="3.5" fill="#2434b0"/>
<rect x="660.1" y="135.7" width="2.6" height="2.6" rx="1.3" ry="1.3" fill="#2434b0"/>
<rect x="132.6" y="125.0" width="18.4" height="27.8" rx="5.7" ry="8.6" fill="#3460e4"/>
<rect x="153.1" y="125.0" width="21.8" height="27.8" rx="6.8" ry="8.6" fill="#3460e4"/>
<rect x="177.1" y="126.1" width="20.2" height="27.8" rx="6.3" ry="8.6" fill="#3460e4"/>
<rect x="200.1" y="127.0" width="20.2" height="25.8" rx="6.3" ry="8.0" fill="#3460e4"/>
<rect x="240.1" y="129.2" width="5.8" height="6.8" rx="2.9" ry="3.4" fill="#3460e4"/>
<rect x="236.5" y="138.2" width="9.8" height="8.8" rx="3.0" ry="2.7" fill="#3460e4"/>
<rect x="255.8" y="132.8" width="17.0" height="17.8" rx="5.3" ry="5.5" fill="#3460e4"/>
<rect x="279.6" y="139.6" width="10.8" height="11.8" rx="3.3" ry="3.7" fill="#3460e4"/>
<rect x="284.5" y="137.3" width="3.8" height="3.8" rx="1.9" ry="1.9" fill="#3460e4"/>
<rect x="303.3" y="131.1" width="14.6" height="18.8" rx="4.5" ry="5.8" fill="#3460e4"/>
<rect x="330.1" y="135.3" width="12.0" height="15.4" rx="3.7" ry="4.8" fill="#3460e4"/>
<rect x="362.6" y="139.4" width="1.2" height="1.2" rx="0.6" ry="0.6" fill="#3460e4"/>
<rect x="384.3" y="132.7" width="14.6" height="16.2" rx="4.5" ry="5.0" fill="#3460e4"/>
<rect x="432.6" y="140.4" width="5.4" height="7.0" rx="2.7" ry="3.5" fill="#3460e4"/>
<rect x="508.4" y="139.9" width="12.8" height="11.2" rx="4.0" ry="3.5" fill="#3460e4"/>
<rect x="555.1" y="141.5" width="4.0" height="3.0" rx="2.0" ry="1.5" fill="#3460e4"/>
<rect x="613.4" y="136.2" width="4.4" height="5.0" rx="2.2" ry="2.5" fill="#3460e4"/>
<rect x="661.1" y="136.7" width="0.6" height="0.6" rx="0.3" ry="0.3" fill="#3460e4"/>
<rect x="133.7" y="126.1" width="16.2" height="25.6" rx="5.0" ry="7.9" fill="#48c4ee"/>
<rect x="154.2" y="126.1" width="19.6" height="25.6" rx="6.1" ry="7.9" fill="#48c4ee"/>
<rect x="178.2" y="127.2" width="18.0" height="25.6" rx="5.6" ry="7.9" fill="#48c4ee"/>
<rect x="201.2" y="128.1" width="18.0" height="23.6" rx="5.6" ry="7.3" fill="#48c4ee"/>
<rect x="241.3" y="130.4" width="3.4" height="4.4" rx="1.7" ry="2.2" fill="#48c4ee"/>
<rect x="237.7" y="139.4" width="7.4" height="6.4" rx="2.3" ry="2.0" fill="#48c4ee"/>
<rect x="256.9" y="133.9" width="14.8" height="15.6" rx="4.6" ry="4.8" fill="#48c4ee"/>
<rect x="280.8" y="140.8" width="8.4" height="9.4" rx="2.6" ry="2.9" fill="#48c4ee"/>
<rect x="284.9" y="137.7" width="3.0" height="3.0" rx="1.5" ry="1.5" fill="#48c4ee"/>
<rect x="304.5" y="132.3" width="12.2" height="16.4" rx="3.8" ry="5.1" fill="#48c4ee"/>
<rect x="331.3" y="136.5" width="9.6" height="13.0" rx="3.0" ry="4.0" fill="#48c4ee"/>
<rect x="385.5" y="133.9" width="12.2" height="13.8" rx="3.8" ry="4.3" fill="#48c4ee"/>
<rect x="509.6" y="141.1" width="10.4" height="8.8" rx="3.2" ry="2.7" fill="#48c4ee"/>
<rect x="135.1" y="127.5" width="13.4" height="22.8" rx="4.2" ry="7.1" fill="#5ccf4c"/>
<rect x="155.6" y="127.5" width="16.8" height="22.8" rx="5.2" ry="7.1" fill="#5ccf4c"/>
<rect x="179.6" y="128.6" width="15.2" height="22.8" rx="4.7" ry="7.1" fill="#5ccf4c"/>
<rect x="202.6" y="129.5" width="15.2" height="20.8" rx="4.7" ry="6.4" fill="#5ccf4c"/>
<rect x="240.9" y="130.3" width="4.2" height="4.7" rx="2.1" ry="2.3" fill="#5ccf4c"/>
<rect x="238.3" y="139.7" width="6.2" height="5.7" rx="1.9" ry="1.8" fill="#5ccf4c"/>
<rect x="258.3" y="135.3" width="12.0" height="12.8" rx="3.7" ry="4.0" fill="#5ccf4c"/>
<rect x="282.1" y="142.3" width="5.9" height="6.3" rx="1.8" ry="2.0" fill="#5ccf4c"/>
<rect x="306.2" y="135.0" width="8.7" height="10.9" rx="2.7" ry="3.4" fill="#5ccf4c"/>
<rect x="332.4" y="138.4" width="7.4" height="9.2" rx="2.3" ry="2.8" fill="#5ccf4c"/>
<rect x="387.2" y="136.0" width="8.7" height="9.6" rx="2.7" ry="3.0" fill="#5ccf4c"/>
<rect x="510.4" y="141.6" width="8.7" height="7.8" rx="2.7" ry="2.4" fill="#5ccf4c"/>
<rect x="137.5" y="133.9" width="8.7" height="9.9" rx="4.3" ry="5.0" fill="#a6dc3c"/>
<rect x="159.0" y="133.1" width="10.1" height="11.6" rx="5.0" ry="5.8" fill="#a6dc3c"/>
<rect x="182.5" y="134.6" width="9.4" height="10.8" rx="4.7" ry="5.4" fill="#a6dc3c"/>
<rect x="205.2" y="134.1" width="10.1" height="11.6" rx="5.0" ry="5.8" fill="#a6dc3c"/>
<rect x="259.0" y="136.2" width="10.6" height="11.0" rx="5.3" ry="5.5" fill="#a6dc3c"/>
<rect x="511.9" y="143.0" width="5.7" height="5.1" rx="2.9" ry="2.5" fill="#a6dc3c"/>
<rect x="138.7" y="135.3" width="6.2" height="7.1" rx="3.1" ry="3.6" fill="#eeea30"/>
<rect x="160.4" y="134.8" width="7.2" height="8.3" rx="3.6" ry="4.1" fill="#eeea30"/>
<rect x="183.8" y="136.1" width="6.7" height="7.7" rx="3.4" ry="3.9" fill="#eeea30"/>
<rect x="206.6" y="135.8" width="7.2" height="8.2" rx="3.6" ry="4.1" fill="#eeea30"/>
<rect x="260.3" y="137.5" width="8.1" height="8.4" rx="4.0" ry="4.2" fill="#eeea30"/>
<rect x="513.1" y="144.0" width="3.3" height="2.9" rx="1.6" ry="1.5" fill="#eeea30"/>
<rect x="139.8" y="136.6" width="3.9" height="4.5" rx="2.0" ry="2.3" fill="#f09a28"/>
<rect x="161.7" y="136.3" width="4.6" height="5.2" rx="2.3" ry="2.6" fill="#f09a28"/>
<rect x="185.1" y="137.6" width="4.3" height="4.9" rx="2.1" ry="2.4" fill="#f09a28"/>
<rect x="208.0" y="137.3" width="4.5" height="5.2" rx="2.2" ry="2.6" fill="#f09a28"/>
<rect x="261.2" y="138.5" width="6.1" height="6.4" rx="3.1" ry="3.2" fill="#f09a28"/>
<rect x="140.8" y="137.7" width="2.1" height="2.4" rx="1.0" ry="1.2" fill="#ec2a22"/>
<rect x="162.8" y="137.5" width="2.4" height="2.8" rx="1.2" ry="1.4" fill="#ec2a22"/>
<rect x="186.1" y="138.7" width="2.2" height="2.6" rx="1.1" ry="1.3" fill="#ec2a22"/>
<rect x="209.0" y="138.5" width="2.5" height="2.8" rx="1.2" ry="1.4" fill="#ec2a22"/>
<rect x="262.2" y="139.5" width="4.2" height="4.4" rx="2.1" ry="2.2" fill="#ec2a22"/>
</g>
<g filter="url(#bb)">
<rect x="131.4" y="185.3" width="20.8" height="30.4" rx="6.4" ry="9.4" fill="#2434b0"/>
<rect x="153.2" y="186.3" width="22.4" height="29.4" rx="6.9" ry="9.1" fill="#2434b0"/>
<rect x="173.6" y="188.9" width="24.4" height="28.0" rx="7.6" ry="8.7" fill="#2434b0"/>
<rect x="197.0" y="187.6" width="25.4" height="30.4" rx="7.9" ry="9.4" fill="#2434b0"/>
<rect x="240.5" y="194.9" width="7.0" height="5.0" rx="3.5" ry="2.5" fill="#2434b0"/>
<rect x="241.5" y="204.9" width="3.0" height="3.0" rx="1.5" ry="1.5" fill="#2434b0"/>
<rect x="247.7" y="195.5" width="4.0" height="4.0" rx="2.0" ry="2.0" fill="#2434b0"/>
<rect x="254.7" y="194.7" width="18.4" height="20.0" rx="5.7" ry="6.2" fill="#2434b0"/>
<rect x="281.4" y="199.7" width="13.4" height="8.4" rx="4.2" ry="2.6" fill="#2434b0"/>
<rect x="308.0" y="192.4" width="16.8" height="19.0" rx="5.2" ry="5.9" fill="#2434b0"/>
<rect x="328.0" y="198.0" width="10.0" height="8.4" rx="5.0" ry="4.2" fill="#2434b0"/>
<rect x="363.0" y="200.2" width="5.0" height="7.0" rx="2.5" ry="3.5" fill="#2434b0"/>
<rect x="381.9" y="199.4" width="16.0" height="14.0" rx="5.0" ry="4.3" fill="#2434b0"/>
<rect x="394.2" y="192.4" width="8.0" height="8.0" rx="4.0" ry="4.0" fill="#2434b0"/>
<rect x="432.6" y="200.7" width="8.0" height="10.0" rx="4.0" ry="5.0" fill="#2434b0"/>
<rect x="459.3" y="198.7" width="3.4" height="3.4" rx="1.7" ry="1.7" fill="#2434b0"/>
<rect x="513.3" y="203.4" width="14.2" height="11.8" rx="4.4" ry="3.7" fill="#2434b0"/>
<rect x="557.8" y="200.0" width="13.4" height="15.2" rx="4.2" ry="4.7" fill="#2434b0"/>
<rect x="569.7" y="193.5" width="3.0" height="3.0" rx="1.5" ry="1.5" fill="#2434b0"/>
<rect x="614.6" y="199.2" width="6.0" height="7.0" rx="3.0" ry="3.5" fill="#2434b0"/>
<rect x="132.5" y="186.4" width="18.6" height="28.2" rx="5.8" ry="8.7" fill="#3460e4"/>
<rect x="154.3" y="187.4" width="20.2" height="27.2" rx="6.3" ry="8.4" fill="#3460e4"/>
<rect x="174.7" y="190.0" width="22.2" height="25.8" rx="6.9" ry="8.0" fill="#3460e4"/>
<rect x="198.1" y="188.7" width="23.2" height="28.2" rx="7.2" ry="8.7" fill="#3460e4"/>
<rect x="241.5" y="195.9" width="5.0" height="3.0" rx="2.5" ry="1.5" fill="#3460e4"/>
<rect x="242.5" y="205.9" width="1.0" height="1.0" rx="0.5" ry="0.5" fill="#3460e4"/>
<rect x="248.7" y="196.5" width="2.0" height="2.0" rx="1.0" ry="1.0" fill="#3460e4"/>
<rect x="255.8" y="195.8" width="16.2" height="17.8" rx="5.0" ry="5.5" fill="#3460e4"/>
<rect x="282.5" y="200.8" width="11.2" height="6.2" rx="3.5" ry="1.9" fill="#3460e4"/>
<rect x="309.1" y="193.5" width="14.6" height="16.8" rx="4.5" ry="5.2" fill="#3460e4"/>
<rect x="329.1" y="199.1" width="7.8" height="6.2" rx="3.9" ry="3.1" fill="#3460e4"/>
<rect x="364.0" y="201.2" width="3.0" height="5.0" rx="1.5" ry="2.5" fill="#3460e4"/>
<rect x="383.0" y="200.5" width="13.8" height="11.8" rx="4.3" ry="3.7" fill="#3460e4"/>
<rect x="395.3" y="193.5" width="5.8" height="5.8" rx="2.9" ry="2.9" fill="#3460e4"/>
<rect x="433.6" y="201.7" width="6.0" height="8.0" rx="3.0" ry="4.0" fill="#3460e4"/>
<rect x="460.3" y="199.7" width="1.4" height="1.4" rx="0.7" ry="0.7" fill="#3460e4"/>
<rect x="514.4" y="204.5" width="12.0" height="9.6" rx="3.7" ry="3.0" fill="#3460e4"/>
<rect x="558.9" y="201.1" width="11.2" height="13.0" rx="3.5" ry="4.0" fill="#3460e4"/>
<rect x="570.7" y="194.5" width="1.0" height="1.0" rx="0.5" ry="0.5" fill="#3460e4"/>
<rect x="615.6" y="200.2" width="4.0" height="5.0" rx="2.0" ry="2.5" fill="#3460e4"/>
<rect x="133.6" y="187.5" width="16.4" height="26.0" rx="5.1" ry="8.1" fill="#48c4ee"/>
<rect x="155.4" y="188.5" width="18.0" height="25.0" rx="5.6" ry="7.8" fill="#48c4ee"/>
<rect x="175.8" y="191.1" width="20.0" height="23.6" rx="6.2" ry="7.3" fill="#48c4ee"/>
<rect x="199.2" y="189.8" width="21.0" height="26.0" rx="6.5" ry="8.1" fill="#48c4ee"/>
<rect x="256.9" y="196.9" width="14.0" height="15.6" rx="4.3" ry="4.8" fill="#48c4ee"/>
<rect x="283.7" y="202.0" width="8.8" height="3.8" rx="2.7" ry="1.2" fill="#48c4ee"/>
<rect x="310.3" y="194.7" width="12.2" height="14.4" rx="3.8" ry="4.5" fill="#48c4ee"/>
<rect x="330.5" y="200.1" width="5.0" height="4.2" rx="2.5" ry="2.1" fill="#48c4ee"/>
<rect x="384.2" y="201.7" width="11.4" height="9.4" rx="3.5" ry="2.9" fill="#48c4ee"/>
<rect x="396.5" y="194.7" width="3.4" height="3.4" rx="1.7" ry="1.7" fill="#48c4ee"/>
<rect x="515.6" y="205.7" width="9.6" height="7.2" rx="3.0" ry="2.2" fill="#48c4ee"/>
<rect x="560.1" y="202.3" width="8.8" height="10.6" rx="2.7" ry="3.3" fill="#48c4ee"/>
<rect x="135.0" y="188.9" width="13.6" height="23.2" rx="4.2" ry="7.2" fill="#5ccf4c"/>
<rect x="156.8" y="189.9" width="15.2" height="22.2" rx="4.7" ry="6.9" fill="#5ccf4c"/>
<rect x="177.2" y="192.5" width="17.2" height="20.8" rx="5.3" ry="6.4" fill="#5ccf4c"/>
<rect x="200.6" y="191.2" width="18.2" height="23.2" rx="5.6" ry="7.2" fill="#5ccf4c"/>
<rect x="258.3" y="198.3" width="11.2" height="12.8" rx="3.5" ry="4.0" fill="#5ccf4c"/>
<rect x="311.5" y="196.4" width="9.7" height="11.0" rx="3.0" ry="3.4" fill="#5ccf4c"/>
<rect x="385.7" y="202.8" width="8.3" height="7.3" rx="2.6" ry="2.3" fill="#5ccf4c"/>
<rect x="396.1" y="194.3" width="4.2" height="4.2" rx="2.1" ry="2.1" fill="#5ccf4c"/>
<rect x="516.3" y="205.9" width="8.2" height="6.8" rx="2.6" ry="2.1" fill="#5ccf4c"/>
<rect x="561.0" y="203.6" width="7.0" height="7.9" rx="2.2" ry="2.5" fill="#5ccf4c"/>
<rect x="136.1" y="193.9" width="11.4" height="13.2" rx="5.7" ry="6.6" fill="#a6dc3c"/>
<rect x="158.2" y="193.9" width="12.3" height="14.2" rx="6.2" ry="7.1" fill="#a6dc3c"/>
<rect x="179.1" y="195.2" width="13.4" height="15.4" rx="6.7" ry="7.7" fill="#a6dc3c"/>
<rect x="202.7" y="194.8" width="14.0" height="16.1" rx="7.0" ry="8.0" fill="#a6dc3c"/>
<rect x="258.8" y="199.2" width="10.1" height="11.0" rx="5.1" ry="5.5" fill="#a6dc3c"/>
<rect x="313.2" y="198.3" width="6.4" height="7.2" rx="3.2" ry="3.6" fill="#a6dc3c"/>
<rect x="517.7" y="207.1" width="5.4" height="4.5" rx="2.7" ry="2.2" fill="#a6dc3c"/>
<rect x="137.4" y="195.5" width="8.7" height="10.0" rx="4.4" ry="5.0" fill="#eeea30"/>
<rect x="159.7" y="195.6" width="9.4" height="10.8" rx="4.7" ry="5.4" fill="#eeea30"/>
<rect x="180.7" y="197.0" width="10.2" height="11.8" rx="5.1" ry="5.9" fill="#eeea30"/>
<rect x="204.4" y="196.7" width="10.7" height="12.3" rx="5.3" ry="6.1" fill="#eeea30"/>
<rect x="260.0" y="200.5" width="7.7" height="8.4" rx="3.9" ry="4.2" fill="#eeea30"/>
<rect x="314.6" y="199.8" width="3.7" height="4.2" rx="1.8" ry="2.1" fill="#eeea30"/>
<rect x="518.8" y="208.0" width="3.1" height="2.6" rx="1.6" ry="1.3" fill="#eeea30"/>
<rect x="138.5" y="196.7" width="6.7" height="7.7" rx="3.3" ry="3.8" fill="#f09a28"/>
<rect x="160.8" y="196.9" width="7.2" height="8.2" rx="3.6" ry="4.1" fill="#f09a28"/>
<rect x="181.9" y="198.4" width="7.8" height="9.0" rx="3.9" ry="4.5" fill="#f09a28"/>
<rect x="205.6" y="198.1" width="8.1" height="9.3" rx="4.1" ry="4.7" fill="#f09a28"/>
<rect x="261.0" y="201.5" width="5.9" height="6.4" rx="2.9" ry="3.2" fill="#f09a28"/>
<rect x="139.5" y="197.9" width="4.6" height="5.3" rx="2.3" ry="2.6" fill="#ec2a22"/>
<rect x="161.9" y="198.2" width="4.9" height="5.7" rx="2.5" ry="2.8" fill="#ec2a22"/>
<rect x="183.1" y="199.8" width="5.4" height="6.2" rx="2.7" ry="3.1" fill="#ec2a22"/>
<rect x="206.9" y="199.6" width="5.6" height="6.4" rx="2.8" ry="3.2" fill="#ec2a22"/>
<rect x="261.9" y="202.5" width="4.0" height="4.4" rx="2.0" ry="2.2" fill="#ec2a22"/>
</g>
<g filter="url(#bb)">
<rect x="131.5" y="250.4" width="22.0" height="31.6" rx="6.8" ry="9.8" fill="#2434b0"/>
<rect x="154.9" y="250.3" width="22.0" height="29.4" rx="6.8" ry="9.1" fill="#2434b0"/>
<rect x="176.0" y="251.6" width="23.0" height="30.4" rx="7.1" ry="9.4" fill="#2434b0"/>
<rect x="199.4" y="252.7" width="23.0" height="27.0" rx="7.1" ry="8.4" fill="#2434b0"/>
<rect x="232.1" y="258.0" width="18.4" height="23.4" rx="5.7" ry="7.3" fill="#2434b0"/>
<rect x="257.2" y="260.6" width="19.2" height="15.8" rx="6.0" ry="4.9" fill="#2434b0"/>
<rect x="279.8" y="259.1" width="15.8" height="15.8" rx="4.9" ry="4.9" fill="#2434b0"/>
<rect x="280.9" y="258.4" width="6.0" height="6.0" rx="3.0" ry="3.0" fill="#2434b0"/>
<rect x="303.0" y="257.1" width="16.0" height="21.0" rx="5.0" ry="6.5" fill="#2434b0"/>
<rect x="326.5" y="259.7" width="15.0" height="15.0" rx="4.7" ry="4.7" fill="#2434b0"/>
<rect x="362.7" y="266.2" width="3.0" height="3.0" rx="1.5" ry="1.5" fill="#2434b0"/>
<rect x="376.5" y="252.0" width="23.4" height="21.8" rx="7.3" ry="6.8" fill="#2434b0"/>
<rect x="505.6" y="270.0" width="11.8" height="10.8" rx="3.7" ry="3.3" fill="#2434b0"/>
<rect x="559.4" y="255.7" width="15.2" height="18.4" rx="4.7" ry="5.7" fill="#2434b0"/>
<rect x="612.5" y="264.7" width="5.0" height="4.0" rx="2.5" ry="2.0" fill="#2434b0"/>
<rect x="132.6" y="251.5" width="19.8" height="29.4" rx="6.1" ry="9.1" fill="#3460e4"/>
<rect x="156.0" y="251.4" width="19.8" height="27.2" rx="6.1" ry="8.4" fill="#3460e4"/>
<rect x="177.1" y="252.7" width="20.8" height="28.2" rx="6.4" ry="8.7" fill="#3460e4"/>
<rect x="200.5" y="253.8" width="20.8" height="24.8" rx="6.4" ry="7.7" fill="#3460e4"/>
<rect x="233.2" y="259.1" width="16.2" height="21.2" rx="5.0" ry="6.6" fill="#3460e4"/>
<rect x="258.3" y="261.7" width="17.0" height="13.6" rx="5.3" ry="4.2" fill="#3460e4"/>
<rect x="280.9" y="260.2" width="13.6" height="13.6" rx="4.2" ry="4.2" fill="#3460e4"/>
<rect x="281.9" y="259.4" width="4.0" height="4.0" rx="2.0" ry="2.0" fill="#3460e4"/>
<rect x="304.1" y="258.2" width="13.8" height="18.8" rx="4.3" ry="5.8" fill="#3460e4"/>
<rect x="327.6" y="260.8" width="12.8" height="12.8" rx="4.0" ry="4.0" fill="#3460e4"/>
<rect x="363.7" y="267.2" width="1.0" height="1.0" rx="0.5" ry="0.5" fill="#3460e4"/>
<rect x="377.6" y="253.1" width="21.2" height="19.6" rx="6.6" ry="6.1" fill="#3460e4"/>
<rect x="506.7" y="271.1" width="9.6" height="8.6" rx="3.0" ry="2.7" fill="#3460e4"/>
<rect x="560.5" y="256.8" width="13.0" height="16.2" rx="4.0" ry="5.0" fill="#3460e4"/>
<rect x="613.5" y="265.7" width="3.0" height="2.0" rx="1.5" ry="1.0" fill="#3460e4"/>
<rect x="133.7" y="252.6" width="17.6" height="27.2" rx="5.5" ry="8.4" fill="#48c4ee"/>
<rect x="157.1" y="252.5" width="17.6" height="25.0" rx="5.5" ry="7.8" fill="#48c4ee"/>
<rect x="178.2" y="253.8" width="18.6" height="26.0" rx="5.8" ry="8.1" fill="#48c4ee"/>
<rect x="201.6" y="254.9" width="18.6" height="22.6" rx="5.8" ry="7.0" fill="#48c4ee"/>
<rect x="234.3" y="260.2" width="14.0" height="19.0" rx="4.3" ry="5.9" fill="#48c4ee"/>
<rect x="259.5" y="262.9" width="14.6" height="11.2" rx="4.5" ry="3.5" fill="#48c4ee"/>
<rect x="282.1" y="261.4" width="11.2" height="11.2" rx="3.5" ry="3.5" fill="#48c4ee"/>
<rect x="305.3" y="259.4" width="11.4" height="16.4" rx="3.5" ry="5.1" fill="#48c4ee"/>
<rect x="328.8" y="262.0" width="10.4" height="10.4" rx="3.2" ry="3.2" fill="#48c4ee"/>
<rect x="378.8" y="254.3" width="18.8" height="17.2" rx="5.8" ry="5.3" fill="#48c4ee"/>
<rect x="507.9" y="272.3" width="7.2" height="6.2" rx="2.2" ry="1.9" fill="#48c4ee"/>
<rect x="561.7" y="258.0" width="10.6" height="13.8" rx="3.3" ry="4.3" fill="#48c4ee"/>
<rect x="135.1" y="254.0" width="14.8" height="24.4" rx="4.6" ry="7.6" fill="#5ccf4c"/>
<rect x="158.5" y="253.9" width="14.8" height="22.2" rx="4.6" ry="6.9" fill="#5ccf4c"/>
<rect x="179.6" y="255.2" width="15.8" height="23.2" rx="4.9" ry="7.2" fill="#5ccf4c"/>
<rect x="203.0" y="256.3" width="15.8" height="19.8" rx="4.9" ry="6.1" fill="#5ccf4c"/>
<rect x="235.7" y="261.6" width="11.2" height="16.2" rx="3.5" ry="5.0" fill="#5ccf4c"/>
<rect x="261.8" y="264.4" width="10.0" height="8.2" rx="3.1" ry="2.5" fill="#5ccf4c"/>
<rect x="284.1" y="263.4" width="7.1" height="7.1" rx="2.2" ry="2.2" fill="#5ccf4c"/>
<rect x="306.4" y="261.5" width="9.3" height="12.2" rx="2.9" ry="3.8" fill="#5ccf4c"/>
<rect x="330.1" y="263.3" width="7.8" height="7.8" rx="2.4" ry="2.4" fill="#5ccf4c"/>
<rect x="381.4" y="256.6" width="13.6" height="12.6" rx="4.2" ry="3.9" fill="#5ccf4c"/>
<rect x="508.4" y="272.6" width="6.1" height="5.6" rx="1.9" ry="1.7" fill="#5ccf4c"/>
<rect x="563.0" y="260.1" width="7.9" height="9.6" rx="2.5" ry="3.0" fill="#5ccf4c"/>
<rect x="134.6" y="254.8" width="15.8" height="22.8" rx="7.9" ry="11.4" fill="#a6dc3c"/>
<rect x="158.0" y="254.4" width="15.8" height="21.2" rx="7.9" ry="10.6" fill="#a6dc3c"/>
<rect x="179.2" y="255.9" width="16.6" height="21.9" rx="8.3" ry="10.9" fill="#a6dc3c"/>
<rect x="202.6" y="256.5" width="16.6" height="19.4" rx="8.3" ry="9.7" fill="#a6dc3c"/>
<rect x="236.2" y="263.9" width="10.1" height="11.6" rx="5.1" ry="5.8" fill="#a6dc3c"/>
<rect x="308.0" y="264.1" width="6.1" height="7.0" rx="3.0" ry="3.5" fill="#a6dc3c"/>
<rect x="383.8" y="258.8" width="8.9" height="8.3" rx="4.4" ry="4.1" fill="#a6dc3c"/>
<rect x="135.7" y="256.4" width="13.6" height="19.6" rx="6.8" ry="9.8" fill="#eeea30"/>
<rect x="159.1" y="255.9" width="13.6" height="18.2" rx="6.8" ry="9.1" fill="#eeea30"/>
<rect x="180.4" y="257.4" width="14.3" height="18.8" rx="7.1" ry="9.4" fill="#eeea30"/>
<rect x="203.8" y="257.8" width="14.3" height="16.7" rx="7.1" ry="8.4" fill="#eeea30"/>
<rect x="237.4" y="265.3" width="7.7" height="8.9" rx="3.9" ry="4.4" fill="#eeea30"/>
<rect x="309.2" y="265.6" width="3.5" height="4.0" rx="1.8" ry="2.0" fill="#eeea30"/>
<rect x="385.6" y="260.5" width="5.1" height="4.8" rx="2.6" ry="2.4" fill="#eeea30"/>
<rect x="136.6" y="257.7" width="11.9" height="17.1" rx="5.9" ry="8.5" fill="#f09a28"/>
<rect x="160.0" y="257.1" width="11.9" height="15.9" rx="5.9" ry="7.9" fill="#f09a28"/>
<rect x="181.3" y="258.6" width="12.4" height="16.4" rx="6.2" ry="8.2" fill="#f09a28"/>
<rect x="204.7" y="258.9" width="12.4" height="14.6" rx="6.2" ry="7.3" fill="#f09a28"/>
<rect x="238.4" y="266.3" width="5.9" height="6.8" rx="2.9" ry="3.4" fill="#f09a28"/>
<rect x="137.4" y="258.9" width="10.1" height="14.5" rx="5.1" ry="7.3" fill="#ec2a22"/>
<rect x="160.8" y="258.2" width="10.1" height="13.5" rx="5.1" ry="6.8" fill="#ec2a22"/>
<rect x="182.2" y="259.8" width="10.6" height="14.0" rx="5.3" ry="7.0" fill="#ec2a22"/>
<rect x="205.6" y="260.0" width="10.6" height="12.4" rx="5.3" ry="6.2" fill="#ec2a22"/>
<rect x="239.3" y="267.4" width="4.0" height="4.7" rx="2.0" ry="2.3" fill="#ec2a22"/>
</g>
<g filter="url(#bb)">
<rect x="131.5" y="312.2" width="22.0" height="34.0" rx="6.8" ry="10.5" fill="#2434b0"/>
<rect x="153.2" y="312.2" width="22.4" height="31.6" rx="6.9" ry="9.8" fill="#2434b0"/>
<rect x="176.0" y="312.2" width="22.0" height="34.0" rx="6.8" ry="10.5" fill="#2434b0"/>
<rect x="198.2" y="312.2" width="24.2" height="34.0" rx="7.5" ry="10.5" fill="#2434b0"/>
<rect x="233.0" y="321.7" width="18.4" height="23.4" rx="5.7" ry="7.3" fill="#2434b0"/>
<rect x="259.6" y="326.6" width="16.8" height="16.8" rx="5.2" ry="5.2" fill="#2434b0"/>
<rect x="278.0" y="320.0" width="16.8" height="20.0" rx="5.2" ry="6.2" fill="#2434b0"/>
<rect x="306.4" y="313.3" width="21.6" height="28.4" rx="6.7" ry="8.8" fill="#2434b0"/>
<rect x="328.0" y="318.4" width="20.0" height="20.0" rx="6.2" ry="6.2" fill="#2434b0"/>
<rect x="359.7" y="332.5" width="7.0" height="5.0" rx="3.5" ry="2.5" fill="#2434b0"/>
<rect x="376.5" y="318.4" width="20.0" height="26.6" rx="6.2" ry="8.2" fill="#2434b0"/>
<rect x="431.6" y="330.0" width="8.0" height="10.0" rx="4.0" ry="5.0" fill="#2434b0"/>
<rect x="458.1" y="327.7" width="7.0" height="6.0" rx="3.5" ry="3.0" fill="#2434b0"/>
<rect x="504.0" y="335.4" width="15.0" height="15.2" rx="4.7" ry="4.7" fill="#2434b0"/>
<rect x="541.3" y="329.7" width="2.6" height="2.6" rx="1.3" ry="1.3" fill="#2434b0"/>
<rect x="552.7" y="318.6" width="20.2" height="25.2" rx="6.3" ry="7.8" fill="#2434b0"/>
<rect x="611.3" y="330.7" width="6.0" height="6.0" rx="3.0" ry="3.0" fill="#2434b0"/>
<rect x="615.1" y="336.3" width="5.0" height="5.0" rx="2.5" ry="2.5" fill="#2434b0"/>
<rect x="684.3" y="326.0" width="8.0" height="10.0" rx="4.0" ry="5.0" fill="#2434b0"/>
<rect x="132.6" y="313.3" width="19.8" height="31.8" rx="6.1" ry="9.9" fill="#3460e4"/>
<rect x="154.3" y="313.3" width="20.2" height="29.4" rx="6.3" ry="9.1" fill="#3460e4"/>
<rect x="177.1" y="313.3" width="19.8" height="31.8" rx="6.1" ry="9.9" fill="#3460e4"/>
<rect x="199.3" y="313.3" width="22.0" height="31.8" rx="6.8" ry="9.9" fill="#3460e4"/>
<rect x="234.1" y="322.8" width="16.2" height="21.2" rx="5.0" ry="6.6" fill="#3460e4"/>
<rect x="260.7" y="327.7" width="14.6" height="14.6" rx="4.5" ry="4.5" fill="#3460e4"/>
<rect x="279.1" y="321.1" width="14.6" height="17.8" rx="4.5" ry="5.5" fill="#3460e4"/>
<rect x="307.5" y="314.4" width="19.4" height="26.2" rx="6.0" ry="8.1" fill="#3460e4"/>
<rect x="329.1" y="319.5" width="17.8" height="17.8" rx="5.5" ry="5.5" fill="#3460e4"/>
<rect x="360.7" y="333.5" width="5.0" height="3.0" rx="2.5" ry="1.5" fill="#3460e4"/>
<rect x="377.6" y="319.5" width="17.8" height="24.4" rx="5.5" ry="7.6" fill="#3460e4"/>
<rect x="432.6" y="331.0" width="6.0" height="8.0" rx="3.0" ry="4.0" fill="#3460e4"/>
<rect x="459.2" y="328.8" width="4.8" height="3.8" rx="2.4" ry="1.9" fill="#3460e4"/>
<rect x="505.1" y="336.5" width="12.8" height="13.0" rx="4.0" ry="4.0" fill="#3460e4"/>
<rect x="542.3" y="330.7" width="0.6" height="0.6" rx="0.3" ry="0.3" fill="#3460e4"/>
<rect x="553.8" y="319.7" width="18.0" height="23.0" rx="5.6" ry="7.1" fill="#3460e4"/>
<rect x="612.3" y="331.7" width="4.0" height="4.0" rx="2.0" ry="2.0" fill="#3460e4"/>
<rect x="616.1" y="337.3" width="3.0" height="3.0" rx="1.5" ry="1.5" fill="#3460e4"/>
<rect x="685.3" y="327.0" width="6.0" height="8.0" rx="3.0" ry="4.0" fill="#3460e4"/>
<rect x="133.7" y="314.4" width="17.6" height="29.6" rx="5.5" ry="9.2" fill="#48c4ee"/>
<rect x="155.4" y="314.4" width="18.0" height="27.2" rx="5.6" ry="8.4" fill="#48c4ee"/>
<rect x="178.2" y="314.4" width="17.6" height="29.6" rx="5.5" ry="9.2" fill="#48c4ee"/>
<rect x="200.4" y="314.4" width="19.8" height="29.6" rx="6.1" ry="9.2" fill="#48c4ee"/>
<rect x="235.2" y="323.9" width="14.0" height="19.0" rx="4.3" ry="5.9" fill="#48c4ee"/>
<rect x="261.9" y="328.9" width="12.2" height="12.2" rx="3.8" ry="3.8" fill="#48c4ee"/>
<rect x="280.3" y="322.3" width="12.2" height="15.4" rx="3.8" ry="4.8" fill="#48c4ee"/>
<rect x="308.6" y="315.5" width="17.2" height="24.0" rx="5.3" ry="7.4" fill="#48c4ee"/>
<rect x="330.3" y="320.7" width="15.4" height="15.4" rx="4.8" ry="4.8" fill="#48c4ee"/>
<rect x="378.7" y="320.6" width="15.6" height="22.2" rx="4.8" ry="6.9" fill="#48c4ee"/>
<rect x="459.9" y="329.2" width="3.5" height="3.0" rx="1.8" ry="1.5" fill="#48c4ee"/>
<rect x="506.2" y="337.6" width="10.6" height="10.8" rx="3.3" ry="3.3" fill="#48c4ee"/>
<rect x="555.0" y="320.9" width="15.6" height="20.6" rx="4.8" ry="6.4" fill="#48c4ee"/>
<rect x="135.1" y="315.8" width="14.8" height="26.8" rx="4.6" ry="8.3" fill="#5ccf4c"/>
<rect x="156.8" y="315.8" width="15.2" height="24.4" rx="4.7" ry="7.6" fill="#5ccf4c"/>
<rect x="179.6" y="315.8" width="14.8" height="26.8" rx="4.6" ry="8.3" fill="#5ccf4c"/>
<rect x="201.8" y="315.8" width="17.0" height="26.8" rx="5.3" ry="8.3" fill="#5ccf4c"/>
<rect x="236.6" y="325.3" width="11.2" height="16.2" rx="3.5" ry="5.0" fill="#5ccf4c"/>
<rect x="263.6" y="330.6" width="8.7" height="8.7" rx="2.7" ry="2.7" fill="#5ccf4c"/>
<rect x="282.0" y="324.8" width="8.7" height="10.4" rx="2.7" ry="3.2" fill="#5ccf4c"/>
<rect x="310.0" y="316.9" width="14.4" height="21.2" rx="4.5" ry="6.6" fill="#5ccf4c"/>
<rect x="332.8" y="323.2" width="10.4" height="10.4" rx="3.2" ry="3.2" fill="#5ccf4c"/>
<rect x="380.1" y="322.0" width="12.8" height="19.4" rx="4.0" ry="6.0" fill="#5ccf4c"/>
<rect x="507.6" y="339.0" width="7.8" height="8.0" rx="2.4" ry="2.5" fill="#5ccf4c"/>
<rect x="556.9" y="323.9" width="11.7" height="14.6" rx="3.6" ry="4.5" fill="#5ccf4c"/>
<rect x="133.9" y="315.9" width="17.2" height="26.5" rx="8.6" ry="13.3" fill="#a6dc3c"/>
<rect x="155.7" y="315.7" width="17.5" height="24.6" rx="8.7" ry="12.3" fill="#a6dc3c"/>
<rect x="178.4" y="315.9" width="17.2" height="26.5" rx="8.6" ry="13.3" fill="#a6dc3c"/>
<rect x="200.9" y="315.9" width="18.9" height="26.5" rx="9.4" ry="13.3" fill="#a6dc3c"/>
<rect x="237.1" y="327.6" width="10.1" height="11.6" rx="5.1" ry="5.8" fill="#a6dc3c"/>
<rect x="311.3" y="320.7" width="11.9" height="13.7" rx="5.9" ry="6.8" fill="#a6dc3c"/>
<rect x="380.3" y="324.6" width="12.4" height="14.3" rx="6.2" ry="7.1" fill="#a6dc3c"/>
<rect x="507.4" y="338.8" width="8.2" height="8.4" rx="4.1" ry="4.2" fill="#a6dc3c"/>
<rect x="559.0" y="326.8" width="7.7" height="8.8" rx="3.8" ry="4.4" fill="#a6dc3c"/>
<rect x="134.8" y="317.3" width="15.4" height="23.8" rx="7.7" ry="11.9" fill="#eeea30"/>
<rect x="156.6" y="316.9" width="15.7" height="22.1" rx="7.8" ry="11.1" fill="#eeea30"/>
<rect x="179.3" y="317.3" width="15.4" height="23.8" rx="7.7" ry="11.9" fill="#eeea30"/>
<rect x="201.8" y="317.3" width="16.9" height="23.8" rx="8.5" ry="11.9" fill="#eeea30"/>
<rect x="238.3" y="329.0" width="7.7" height="8.9" rx="3.9" ry="4.4" fill="#eeea30"/>
<rect x="312.7" y="322.3" width="9.1" height="10.4" rx="4.5" ry="5.2" fill="#eeea30"/>
<rect x="381.5" y="325.9" width="10.0" height="11.5" rx="5.0" ry="5.8" fill="#eeea30"/>
<rect x="508.4" y="339.8" width="6.3" height="6.4" rx="3.1" ry="3.2" fill="#eeea30"/>
<rect x="560.6" y="328.6" width="4.4" height="5.1" rx="2.2" ry="2.6" fill="#eeea30"/>
<rect x="135.6" y="318.5" width="13.9" height="21.4" rx="6.9" ry="10.7" fill="#f09a28"/>
<rect x="157.3" y="318.0" width="14.1" height="19.9" rx="7.1" ry="10.0" fill="#f09a28"/>
<rect x="180.1" y="318.5" width="13.9" height="21.4" rx="6.9" ry="10.7" fill="#f09a28"/>
<rect x="202.7" y="318.5" width="15.2" height="21.4" rx="7.6" ry="10.7" fill="#f09a28"/>
<rect x="239.3" y="330.0" width="5.9" height="6.8" rx="2.9" ry="3.4" fill="#f09a28"/>
<rect x="313.7" y="323.5" width="6.9" height="7.9" rx="3.5" ry="4.0" fill="#f09a28"/>
<rect x="382.5" y="327.1" width="8.0" height="9.2" rx="4.0" ry="4.6" fill="#f09a28"/>
<rect x="509.1" y="340.6" width="4.8" height="4.9" rx="2.4" ry="2.4" fill="#f09a28"/>
<rect x="136.3" y="319.7" width="12.3" height="19.0" rx="6.2" ry="9.5" fill="#ec2a22"/>
<rect x="158.1" y="319.2" width="12.5" height="17.7" rx="6.3" ry="8.8" fill="#ec2a22"/>
<rect x="180.8" y="319.7" width="12.3" height="19.0" rx="6.2" ry="9.5" fill="#ec2a22"/>
<rect x="203.5" y="319.7" width="13.6" height="19.0" rx="6.8" ry="9.5" fill="#ec2a22"/>
<rect x="240.2" y="331.1" width="4.0" height="4.7" rx="2.0" ry="2.3" fill="#ec2a22"/>
<rect x="314.8" y="324.8" width="4.8" height="5.5" rx="2.4" ry="2.7" fill="#ec2a22"/>
<rect x="383.5" y="328.2" width="6.0" height="6.9" rx="3.0" ry="3.4" fill="#ec2a22"/>
<rect x="509.9" y="341.3" width="3.3" height="3.3" rx="1.6" ry="1.7" fill="#ec2a22"/>
</g>
<text x="68.35" y="33.1" font-size="8.6" textLength="44.68" lengthAdjust="spacingAndGlyphs">IVIS control</text>
<text x="151.19" y="32.6" font-size="8.6" textLength="55.63" lengthAdjust="spacingAndGlyphs">SKOV-3 alone</text>
<text x="251.87" y="32.4" font-size="8.6" textLength="81.99" lengthAdjust="spacingAndGlyphs">SKOV-3 + Herceptin</text>
<text x="365.40" y="21.5" font-size="8.4" textLength="104.20" lengthAdjust="spacingAndGlyphs">SKOV-3 + O/N IL-15-primed</text>
<text x="381.92" y="31.6" font-size="8.4" textLength="73.13" lengthAdjust="spacingAndGlyphs">NK cells + Herceptin</text>
<text x="497.18" y="21.5" font-size="8.4" textLength="92.20" lengthAdjust="spacingAndGlyphs">SKOV-3 + 7-day DMSO</text>
<text x="504.98" y="31.6" font-size="8.4" textLength="78.99" lengthAdjust="spacingAndGlyphs">NK cells + Herceptin</text>
<text x="598.47" y="21.5" font-size="8.4" textLength="136.49" lengthAdjust="spacingAndGlyphs">SKOV-3 + 7-Day 5 µM CHIR09921</text>
<text x="627.36" y="31.6" font-size="8.4" textLength="82.53" lengthAdjust="spacingAndGlyphs">NK cells + Herceptin</text>
<text x="8.70" y="19.0" font-size="15.2" textLength="9.10" lengthAdjust="spacingAndGlyphs" style="fill:#111">A</text>
<text x="8.09" y="385.7" font-size="14.8" textLength="10.37" lengthAdjust="spacingAndGlyphs" style="fill:#111">B</text>
<text x="23.43" y="71.6" font-size="8.6" textLength="22.98" lengthAdjust="spacingAndGlyphs">Day 4</text>
<text x="21.21" y="135.3" font-size="8.6" textLength="28.81" lengthAdjust="spacingAndGlyphs">Day 17</text>
<text x="19.07" y="198.8" font-size="8.6" textLength="28.48" lengthAdjust="spacingAndGlyphs">Day 24</text>
<text x="19.07" y="262.9" font-size="8.6" textLength="28.48" lengthAdjust="spacingAndGlyphs">Day 38</text>
<text x="19.06" y="326.9" font-size="8.6" textLength="28.79" lengthAdjust="spacingAndGlyphs">Day 45</text>
<line x1="83.3" y1="390.2" x2="83.3" y2="555.3" stroke="#111" stroke-width="1.6"/>
<line x1="82.5" y1="554.5" x2="326.9" y2="554.5" stroke="#111" stroke-width="1.6"/>
<line x1="79" y1="553.61" x2="83.3" y2="553.61" stroke="#111" stroke-width="1.3"/>
<text x="42.17" y="557.40" font-size="8.2" textLength="33.59" lengthAdjust="spacingAndGlyphs">1x10e05</text>
<line x1="81.0" y1="546.62" x2="83.3" y2="546.62" stroke="#111" stroke-width="1.05"/>
<line x1="81.0" y1="542.53" x2="83.3" y2="542.53" stroke="#111" stroke-width="1.05"/>
<line x1="81.0" y1="539.62" x2="83.3" y2="539.62" stroke="#111" stroke-width="1.05"/>
<line x1="81.0" y1="537.37" x2="83.3" y2="537.37" stroke="#111" stroke-width="1.05"/>
<line x1="81.0" y1="535.53" x2="83.3" y2="535.53" stroke="#111" stroke-width="1.05"/>
<line x1="81.0" y1="533.98" x2="83.3" y2="533.98" stroke="#111" stroke-width="1.05"/>
<line x1="81.0" y1="532.63" x2="83.3" y2="532.63" stroke="#111" stroke-width="1.05"/>
<line x1="81.0" y1="531.44" x2="83.3" y2="531.44" stroke="#111" stroke-width="1.05"/>
<line x1="79" y1="530.38" x2="83.3" y2="530.38" stroke="#111" stroke-width="1.3"/>
<text x="42.17" y="535.30" font-size="8.2" textLength="33.59" lengthAdjust="spacingAndGlyphs">1x10e06</text>
<line x1="81.0" y1="523.39" x2="83.3" y2="523.39" stroke="#111" stroke-width="1.05"/>
<line x1="81.0" y1="519.30" x2="83.3" y2="519.30" stroke="#111" stroke-width="1.05"/>
<line x1="81.0" y1="516.39" x2="83.3" y2="516.39" stroke="#111" stroke-width="1.05"/>
<line x1="81.0" y1="514.14" x2="83.3" y2="514.14" stroke="#111" stroke-width="1.05"/>
<line x1="81.0" y1="512.30" x2="83.3" y2="512.30" stroke="#111" stroke-width="1.05"/>
<line x1="81.0" y1="510.75" x2="83.3" y2="510.75" stroke="#111" stroke-width="1.05"/>
<line x1="81.0" y1="509.40" x2="83.3" y2="509.40" stroke="#111" stroke-width="1.05"/>
<line x1="81.0" y1="508.21" x2="83.3" y2="508.21" stroke="#111" stroke-width="1.05"/>
<line x1="79" y1="507.15" x2="83.3" y2="507.15" stroke="#111" stroke-width="1.3"/>
<text x="42.17" y="511.10" font-size="8.2" textLength="33.59" lengthAdjust="spacingAndGlyphs">1x10e07</text>
<line x1="81.0" y1="500.16" x2="83.3" y2="500.16" stroke="#111" stroke-width="1.05"/>
<line x1="81.0" y1="496.07" x2="83.3" y2="496.07" stroke="#111" stroke-width="1.05"/>
<line x1="81.0" y1="493.16" x2="83.3" y2="493.16" stroke="#111" stroke-width="1.05"/>
<line x1="81.0" y1="490.91" x2="83.3" y2="490.91" stroke="#111" stroke-width="1.05"/>
<line x1="81.0" y1="489.07" x2="83.3" y2="489.07" stroke="#111" stroke-width="1.05"/>
<line x1="81.0" y1="487.52" x2="83.3" y2="487.52" stroke="#111" stroke-width="1.05"/>
<line x1="81.0" y1="486.17" x2="83.3" y2="486.17" stroke="#111" stroke-width="1.05"/>
<line x1="81.0" y1="484.98" x2="83.3" y2="484.98" stroke="#111" stroke-width="1.05"/>
<line x1="79" y1="483.92" x2="83.3" y2="483.92" stroke="#111" stroke-width="1.3"/>
<text x="42.17" y="488.20" font-size="8.2" textLength="33.59" lengthAdjust="spacingAndGlyphs">1x10e08</text>
<line x1="81.0" y1="476.93" x2="83.3" y2="476.93" stroke="#111" stroke-width="1.05"/>
<line x1="81.0" y1="472.84" x2="83.3" y2="472.84" stroke="#111" stroke-width="1.05"/>
<line x1="81.0" y1="469.93" x2="83.3" y2="469.93" stroke="#111" stroke-width="1.05"/>
<line x1="81.0" y1="467.68" x2="83.3" y2="467.68" stroke="#111" stroke-width="1.05"/>
<line x1="81.0" y1="465.84" x2="83.3" y2="465.84" stroke="#111" stroke-width="1.05"/>
<line x1="81.0" y1="464.29" x2="83.3" y2="464.29" stroke="#111" stroke-width="1.05"/>
<line x1="81.0" y1="462.94" x2="83.3" y2="462.94" stroke="#111" stroke-width="1.05"/>
<line x1="81.0" y1="461.75" x2="83.3" y2="461.75" stroke="#111" stroke-width="1.05"/>
<line x1="79" y1="460.69" x2="83.3" y2="460.69" stroke="#111" stroke-width="1.3"/>
<text x="42.17" y="464.80" font-size="8.2" textLength="33.59" lengthAdjust="spacingAndGlyphs">1x10e09</text>
<line x1="81.0" y1="453.70" x2="83.3" y2="453.70" stroke="#111" stroke-width="1.05"/>
<line x1="81.0" y1="449.61" x2="83.3" y2="449.61" stroke="#111" stroke-width="1.05"/>
<line x1="81.0" y1="446.70" x2="83.3" y2="446.70" stroke="#111" stroke-width="1.05"/>
<line x1="81.0" y1="444.45" x2="83.3" y2="444.45" stroke="#111" stroke-width="1.05"/>
<line x1="81.0" y1="442.61" x2="83.3" y2="442.61" stroke="#111" stroke-width="1.05"/>
<line x1="81.0" y1="441.06" x2="83.3" y2="441.06" stroke="#111" stroke-width="1.05"/>
<line x1="81.0" y1="439.71" x2="83.3" y2="439.71" stroke="#111" stroke-width="1.05"/>
<line x1="81.0" y1="438.52" x2="83.3" y2="438.52" stroke="#111" stroke-width="1.05"/>
<line x1="79" y1="437.46" x2="83.3" y2="437.46" stroke="#111" stroke-width="1.3"/>
<text x="42.17" y="441.70" font-size="8.2" textLength="33.59" lengthAdjust="spacingAndGlyphs">1x10e10</text>
<line x1="81.0" y1="430.47" x2="83.3" y2="430.47" stroke="#111" stroke-width="1.05"/>
<line x1="81.0" y1="426.38" x2="83.3" y2="426.38" stroke="#111" stroke-width="1.05"/>
<line x1="81.0" y1="423.47" x2="83.3" y2="423.47" stroke="#111" stroke-width="1.05"/>
<line x1="81.0" y1="421.22" x2="83.3" y2="421.22" stroke="#111" stroke-width="1.05"/>
<line x1="81.0" y1="419.38" x2="83.3" y2="419.38" stroke="#111" stroke-width="1.05"/>
<line x1="81.0" y1="417.83" x2="83.3" y2="417.83" stroke="#111" stroke-width="1.05"/>
<line x1="81.0" y1="416.48" x2="83.3" y2="416.48" stroke="#111" stroke-width="1.05"/>
<line x1="81.0" y1="415.29" x2="83.3" y2="415.29" stroke="#111" stroke-width="1.05"/>
<line x1="79" y1="414.23" x2="83.3" y2="414.23" stroke="#111" stroke-width="1.3"/>
<text x="42.17" y="418.50" font-size="8.2" textLength="33.59" lengthAdjust="spacingAndGlyphs">1x10e11</text>
<line x1="81.0" y1="407.24" x2="83.3" y2="407.24" stroke="#111" stroke-width="1.05"/>
<line x1="81.0" y1="403.15" x2="83.3" y2="403.15" stroke="#111" stroke-width="1.05"/>
<line x1="81.0" y1="400.24" x2="83.3" y2="400.24" stroke="#111" stroke-width="1.05"/>
<line x1="81.0" y1="397.99" x2="83.3" y2="397.99" stroke="#111" stroke-width="1.05"/>
<line x1="81.0" y1="396.15" x2="83.3" y2="396.15" stroke="#111" stroke-width="1.05"/>
<line x1="81.0" y1="394.60" x2="83.3" y2="394.60" stroke="#111" stroke-width="1.05"/>
<line x1="81.0" y1="393.25" x2="83.3" y2="393.25" stroke="#111" stroke-width="1.05"/>
<line x1="81.0" y1="392.06" x2="83.3" y2="392.06" stroke="#111" stroke-width="1.05"/>
<line x1="79" y1="391.00" x2="83.3" y2="391.00" stroke="#111" stroke-width="1.3"/>
<text x="42.17" y="393.80" font-size="8.2" textLength="33.59" lengthAdjust="spacingAndGlyphs">1x10e12</text>
<line x1="83.80" y1="554.5" x2="83.80" y2="558" stroke="#111" stroke-width="1.3"/>
<text x="83.80" y="567.5" font-size="8.4" text-anchor="middle">0</text>
<line x1="144.42" y1="554.5" x2="144.42" y2="558" stroke="#111" stroke-width="1.3"/>
<text x="144.42" y="567.5" font-size="8.4" text-anchor="middle">12.5</text>
<line x1="205.05" y1="554.5" x2="205.05" y2="558" stroke="#111" stroke-width="1.3"/>
<text x="205.05" y="567.5" font-size="8.4" text-anchor="middle">25</text>
<line x1="265.68" y1="554.5" x2="265.68" y2="558" stroke="#111" stroke-width="1.3"/>
<text x="265.68" y="567.5" font-size="8.4" text-anchor="middle">37.5</text>
<line x1="326.30" y1="554.5" x2="326.30" y2="558" stroke="#111" stroke-width="1.3"/>
<text x="326.30" y="567.5" font-size="8.4" text-anchor="middle">50</text>
<text x="151.14" y="583.8" font-size="8.6" textLength="107.01" lengthAdjust="spacingAndGlyphs">Days post tumor inoculation</text>
<text x="0.00" y="0" font-size="8.4" textLength="65.56" lengthAdjust="spacingAndGlyphs" transform="translate(31.1,509.3) rotate(-90)">Total flux [ p / s ]</text>
<polyline points="107.9,454.5 126.1,465.0 144.3,467.0 186.8,483.9 229.2,478.5 272.0,467.4 314.7,456.8" fill="none" stroke="#1a1a1a" stroke-width="1.4"/>
<polyline points="107.9,454.0 126.1,461.5 144.3,466.5 186.8,479.5 229.2,474.4 272.0,468.0 314.7,465.0" fill="none" stroke="#2b2f9a" stroke-width="1.4"/>
<polyline points="107.9,455.0 126.1,469.8 144.3,485.2 186.8,506.7 229.2,506.1 272.0,499.8 314.7,488.5" fill="none" stroke="#c8102e" stroke-width="1.4"/>
<polyline points="107.9,452.5 126.1,453.5 144.3,458.5 186.8,463.3 229.2,460.3 272.0,448.5 314.7,446.2" fill="none" stroke="#b4b4b4" stroke-width="1.6"/>
<polyline points="107.9,453.3 126.1,443.4 144.3,451.2 186.8,444.6 229.2,436.5 272.0,423.4 314.7,417.2" fill="none" stroke="#0d7a40" stroke-width="1.4"/>
<polyline points="107.9,532.9 126.1,530.6 144.3,527.6 186.8,527.5 229.2,528.9 272.0,537.5 314.7,525.7" fill="none" stroke="#0d7a40" stroke-width="1.4" stroke-dasharray="4.5,3.2"/>
<line x1="107.9" y1="454.5" x2="107.9" y2="482.9" stroke="#1a1a1a" stroke-width="1.4"/><line x1="104.1" y1="482.9" x2="111.7" y2="482.9" stroke="#1a1a1a" stroke-width="1.4"/>
<circle cx="107.9" cy="454.5" r="3.0" fill="#1a1a1a"/>
<circle cx="126.1" cy="465" r="3.0" fill="#1a1a1a"/>
<line x1="144.3" y1="457.5" x2="144.3" y2="467" stroke="#1a1a1a" stroke-width="1.4"/><line x1="140.5" y1="457.5" x2="148.1" y2="457.5" stroke="#1a1a1a" stroke-width="1.4"/>
<circle cx="144.3" cy="467" r="3.0" fill="#1a1a1a"/>
<line x1="186.8" y1="471.8" x2="186.8" y2="483.9" stroke="#1a1a1a" stroke-width="1.4"/><line x1="183.0" y1="471.8" x2="190.6" y2="471.8" stroke="#1a1a1a" stroke-width="1.4"/>
<circle cx="186.8" cy="483.9" r="3.0" fill="#1a1a1a"/>
<line x1="229.2" y1="466.4" x2="229.2" y2="478.5" stroke="#1a1a1a" stroke-width="1.4"/><line x1="225.4" y1="466.4" x2="233.0" y2="466.4" stroke="#1a1a1a" stroke-width="1.4"/>
<circle cx="229.2" cy="478.5" r="3.0" fill="#1a1a1a"/>
<line x1="272" y1="461" x2="272" y2="467.4" stroke="#1a1a1a" stroke-width="1.4"/><line x1="268.2" y1="461" x2="275.8" y2="461" stroke="#1a1a1a" stroke-width="1.4"/>
<circle cx="272" cy="467.4" r="3.0" fill="#1a1a1a"/>
<line x1="314.7" y1="455.6" x2="314.7" y2="456.8" stroke="#1a1a1a" stroke-width="1.4"/><line x1="310.9" y1="455.6" x2="318.5" y2="455.6" stroke="#1a1a1a" stroke-width="1.4"/>
<circle cx="314.7" cy="456.8" r="3.0" fill="#1a1a1a"/>
<line x1="186.8" y1="469" x2="186.8" y2="479.5" stroke="#0d7a40" stroke-width="1.4"/><line x1="183.0" y1="469" x2="190.6" y2="469" stroke="#0d7a40" stroke-width="1.4"/>
<circle cx="186.8" cy="479.5" r="2.9" fill="#0d6b3a"/>
<line x1="229.2" y1="469.4" x2="229.2" y2="474.4" stroke="#0d7a40" stroke-width="1.4"/><line x1="225.4" y1="469.4" x2="233.0" y2="469.4" stroke="#0d7a40" stroke-width="1.4"/>
<circle cx="229.2" cy="474.4" r="2.9" fill="#0d6b3a"/>
<circle cx="314.7" cy="465" r="2.9" fill="#0d6b3a"/>
<line x1="107.9" y1="455" x2="107.9" y2="476.3" stroke="#c8102e" stroke-width="1.4"/><line x1="104.1" y1="476.3" x2="111.7" y2="476.3" stroke="#c8102e" stroke-width="1.4"/>
<circle cx="107.9" cy="455" r="3.0" fill="#c8102e"/>
<line x1="126.1" y1="469.8" x2="126.1" y2="471.6" stroke="#c8102e" stroke-width="1.4"/><line x1="122.3" y1="471.6" x2="129.9" y2="471.6" stroke="#c8102e" stroke-width="1.4"/>
<line x1="144.3" y1="478.7" x2="144.3" y2="485.2" stroke="#c8102e" stroke-width="1.4"/><line x1="140.5" y1="478.7" x2="148.1" y2="478.7" stroke="#c8102e" stroke-width="1.4"/>
<line x1="144.3" y1="485.2" x2="144.3" y2="525.3" stroke="#c8102e" stroke-width="1.4"/><line x1="140.5" y1="525.3" x2="148.1" y2="525.3" stroke="#c8102e" stroke-width="1.4"/>
<circle cx="144.3" cy="485.2" r="3.0" fill="#c8102e"/>
<line x1="186.8" y1="500" x2="186.8" y2="506.7" stroke="#c8102e" stroke-width="1.4"/><line x1="183.0" y1="500" x2="190.6" y2="500" stroke="#c8102e" stroke-width="1.4"/>
<line x1="186.8" y1="506.7" x2="186.8" y2="518.8" stroke="#c8102e" stroke-width="1.4"/><line x1="183.0" y1="518.8" x2="190.6" y2="518.8" stroke="#c8102e" stroke-width="1.4"/>
<circle cx="186.8" cy="506.7" r="3.0" fill="#c8102e"/>
<line x1="229.2" y1="501.3" x2="229.2" y2="506.1" stroke="#c8102e" stroke-width="1.4"/><line x1="225.4" y1="501.3" x2="233.0" y2="501.3" stroke="#c8102e" stroke-width="1.4"/>
<line x1="229.2" y1="506.1" x2="229.2" y2="518.2" stroke="#c8102e" stroke-width="1.4"/><line x1="225.4" y1="518.2" x2="233.0" y2="518.2" stroke="#c8102e" stroke-width="1.4"/>
<circle cx="229.2" cy="506.1" r="3.0" fill="#c8102e"/>
<line x1="272" y1="495.6" x2="272" y2="499.8" stroke="#c8102e" stroke-width="1.4"/><line x1="268.2" y1="495.6" x2="275.8" y2="495.6" stroke="#c8102e" stroke-width="1.4"/>
<line x1="272" y1="499.8" x2="272" y2="506.6" stroke="#c8102e" stroke-width="1.4"/><line x1="268.2" y1="506.6" x2="275.8" y2="506.6" stroke="#c8102e" stroke-width="1.4"/>
<circle cx="272" cy="499.8" r="3.0" fill="#c8102e"/>
<line x1="314.7" y1="483.4" x2="314.7" y2="488.5" stroke="#c8102e" stroke-width="1.4"/><line x1="310.9" y1="483.4" x2="318.5" y2="483.4" stroke="#c8102e" stroke-width="1.4"/>
<line x1="314.7" y1="488.5" x2="314.7" y2="501" stroke="#c8102e" stroke-width="1.4"/><line x1="310.9" y1="501" x2="318.5" y2="501" stroke="#c8102e" stroke-width="1.4"/>
<circle cx="314.7" cy="488.5" r="3.0" fill="#c8102e"/>
<line x1="107.9" y1="445.9" x2="107.9" y2="453.3" stroke="#0d7a40" stroke-width="1.4"/><line x1="104.1" y1="445.9" x2="111.7" y2="445.9" stroke="#0d7a40" stroke-width="1.4"/>
<line x1="107.9" y1="453.3" x2="107.9" y2="485.8" stroke="#0d7a40" stroke-width="1.4"/><line x1="104.1" y1="485.8" x2="111.7" y2="485.8" stroke="#0d7a40" stroke-width="1.4"/>
<circle cx="107.9" cy="453.3" r="3.0" fill="#0d7a40"/>
<line x1="126.1" y1="440.7" x2="126.1" y2="443.4" stroke="#0d7a40" stroke-width="1.4"/><line x1="122.3" y1="440.7" x2="129.9" y2="440.7" stroke="#0d7a40" stroke-width="1.4"/>
<line x1="126.1" y1="443.4" x2="126.1" y2="480.8" stroke="#0d7a40" stroke-width="1.4"/><line x1="122.3" y1="480.8" x2="129.9" y2="480.8" stroke="#0d7a40" stroke-width="1.4"/>
<circle cx="126.1" cy="443.4" r="3.0" fill="#0d7a40"/>
<line x1="144.3" y1="446.4" x2="144.3" y2="451.2" stroke="#0d7a40" stroke-width="1.4"/><line x1="140.5" y1="446.4" x2="148.1" y2="446.4" stroke="#0d7a40" stroke-width="1.4"/>
<line x1="144.3" y1="451.2" x2="144.3" y2="459.6" stroke="#0d7a40" stroke-width="1.4"/><line x1="140.5" y1="459.6" x2="148.1" y2="459.6" stroke="#0d7a40" stroke-width="1.4"/>
<circle cx="144.3" cy="451.2" r="3.0" fill="#0d7a40"/>
<line x1="186.8" y1="439.7" x2="186.8" y2="444.6" stroke="#0d7a40" stroke-width="1.4"/><line x1="183.0" y1="439.7" x2="190.6" y2="439.7" stroke="#0d7a40" stroke-width="1.4"/>
<line x1="186.8" y1="444.6" x2="186.8" y2="455.3" stroke="#0d7a40" stroke-width="1.4"/><line x1="183.0" y1="455.3" x2="190.6" y2="455.3" stroke="#0d7a40" stroke-width="1.4"/>
<circle cx="186.8" cy="444.6" r="3.0" fill="#0d7a40"/>
<line x1="229.2" y1="430" x2="229.2" y2="436.5" stroke="#0d7a40" stroke-width="1.4"/><line x1="225.4" y1="430" x2="233.0" y2="430" stroke="#0d7a40" stroke-width="1.4"/>
<line x1="229.2" y1="436.5" x2="229.2" y2="455.3" stroke="#0d7a40" stroke-width="1.4"/><line x1="225.4" y1="455.3" x2="233.0" y2="455.3" stroke="#0d7a40" stroke-width="1.4"/>
<circle cx="229.2" cy="436.5" r="3.0" fill="#0d7a40"/>
<line x1="272" y1="417.2" x2="272" y2="423.4" stroke="#0d7a40" stroke-width="1.4"/><line x1="268.2" y1="417.2" x2="275.8" y2="417.2" stroke="#0d7a40" stroke-width="1.4"/>
<line x1="272" y1="423.4" x2="272" y2="442" stroke="#0d7a40" stroke-width="1.4"/><line x1="268.2" y1="442" x2="275.8" y2="442" stroke="#0d7a40" stroke-width="1.4"/>
<circle cx="272" cy="423.4" r="3.0" fill="#0d7a40"/>
<line x1="314.7" y1="412" x2="314.7" y2="417.2" stroke="#0d7a40" stroke-width="1.4"/><line x1="310.9" y1="412" x2="318.5" y2="412" stroke="#0d7a40" stroke-width="1.4"/>
<line x1="314.7" y1="417.2" x2="314.7" y2="428.5" stroke="#0d7a40" stroke-width="1.4"/><line x1="310.9" y1="428.5" x2="318.5" y2="428.5" stroke="#0d7a40" stroke-width="1.4"/>
<circle cx="314.7" cy="417.2" r="3.0" fill="#0d7a40"/>
<line x1="126.1" y1="448.8" x2="126.1" y2="453.5" stroke="#b4b4b4" stroke-width="1.4"/><line x1="122.3" y1="448.8" x2="129.9" y2="448.8" stroke="#b4b4b4" stroke-width="1.4"/>
<line x1="126.1" y1="453.5" x2="126.1" y2="471" stroke="#b4b4b4" stroke-width="1.4"/><line x1="122.3" y1="471" x2="129.9" y2="471" stroke="#b4b4b4" stroke-width="1.4"/>
<circle cx="126.1" cy="453.5" r="3.0" fill="#b4b4b4"/>
<line x1="186.8" y1="455.3" x2="186.8" y2="463.3" stroke="#b4b4b4" stroke-width="1.4"/><line x1="183.0" y1="455.3" x2="190.6" y2="455.3" stroke="#b4b4b4" stroke-width="1.4"/>
<circle cx="186.8" cy="463.3" r="3.0" fill="#b4b4b4"/>
<line x1="229.2" y1="455.3" x2="229.2" y2="460.3" stroke="#b4b4b4" stroke-width="1.4"/><line x1="225.4" y1="455.3" x2="233.0" y2="455.3" stroke="#b4b4b4" stroke-width="1.4"/>
<circle cx="229.2" cy="460.3" r="3.0" fill="#b4b4b4"/>
<circle cx="272" cy="448.5" r="3.0" fill="#b4b4b4"/>
<line x1="314.7" y1="439.8" x2="314.7" y2="446.2" stroke="#b4b4b4" stroke-width="1.4"/><line x1="310.9" y1="439.8" x2="318.5" y2="439.8" stroke="#b4b4b4" stroke-width="1.4"/>
<circle cx="314.7" cy="446.2" r="3.0" fill="#b4b4b4"/>
<line x1="107.9" y1="526" x2="107.9" y2="532.9" stroke="#0d7a40" stroke-width="1.4"/><line x1="104.1" y1="526" x2="111.7" y2="526" stroke="#0d7a40" stroke-width="1.4"/>
<circle cx="107.9" cy="532.9" r="2.5" fill="#fff" stroke="#0d7a40" stroke-width="1.4"/>
<circle cx="126.1" cy="530.6" r="2.5" fill="#fff" stroke="#0d7a40" stroke-width="1.4"/>
<line x1="144.3" y1="524.5" x2="144.3" y2="527.6" stroke="#0d7a40" stroke-width="1.4"/><line x1="140.5" y1="524.5" x2="148.1" y2="524.5" stroke="#0d7a40" stroke-width="1.4"/>
<line x1="144.3" y1="527.6" x2="144.3" y2="532.9" stroke="#0d7a40" stroke-width="1.4"/><line x1="140.5" y1="532.9" x2="148.1" y2="532.9" stroke="#0d7a40" stroke-width="1.4"/>
<circle cx="144.3" cy="527.6" r="2.5" fill="#fff" stroke="#0d7a40" stroke-width="1.4"/>
<line x1="186.8" y1="518.8" x2="186.8" y2="527.5" stroke="#0d7a40" stroke-width="1.4"/><line x1="183.0" y1="518.8" x2="190.6" y2="518.8" stroke="#0d7a40" stroke-width="1.4"/>
<line x1="186.8" y1="527.5" x2="186.8" y2="537.6" stroke="#0d7a40" stroke-width="1.4"/><line x1="183.0" y1="537.6" x2="190.6" y2="537.6" stroke="#0d7a40" stroke-width="1.4"/>
<circle cx="186.8" cy="527.5" r="2.5" fill="#fff" stroke="#0d7a40" stroke-width="1.4"/>
<line x1="229.2" y1="524.3" x2="229.2" y2="528.9" stroke="#0d7a40" stroke-width="1.4"/><line x1="225.4" y1="524.3" x2="233.0" y2="524.3" stroke="#0d7a40" stroke-width="1.4"/>
<line x1="229.2" y1="528.9" x2="229.2" y2="538" stroke="#0d7a40" stroke-width="1.4"/><line x1="225.4" y1="538" x2="233.0" y2="538" stroke="#0d7a40" stroke-width="1.4"/>
<circle cx="229.2" cy="528.9" r="2.5" fill="#fff" stroke="#0d7a40" stroke-width="1.4"/>
<line x1="272" y1="533.2" x2="272" y2="537.5" stroke="#0d7a40" stroke-width="1.4"/><line x1="268.2" y1="533.2" x2="275.8" y2="533.2" stroke="#0d7a40" stroke-width="1.4"/>
<line x1="272" y1="537.5" x2="272" y2="543.8" stroke="#0d7a40" stroke-width="1.4"/><line x1="268.2" y1="543.8" x2="275.8" y2="543.8" stroke="#0d7a40" stroke-width="1.4"/>
<circle cx="272" cy="537.5" r="2.5" fill="#fff" stroke="#0d7a40" stroke-width="1.4"/>
<line x1="314.7" y1="518" x2="314.7" y2="525.7" stroke="#0d7a40" stroke-width="1.4"/><line x1="310.9" y1="518" x2="318.5" y2="518" stroke="#0d7a40" stroke-width="1.4"/>
<circle cx="314.7" cy="525.7" r="2.5" fill="#fff" stroke="#0d7a40" stroke-width="1.4"/>
<circle cx="126.1" cy="465" r="3.0" fill="#1a1a1a"/>
<line x1="104.1" y1="470.7" x2="111.7" y2="470.7" stroke="#0d7a40" stroke-width="1.4"/>
<line x1="122.3" y1="450.5" x2="129.9" y2="450.5" stroke="#b4b4b4" stroke-width="1.4"/>
<line x1="183.0" y1="457.3" x2="190.6" y2="457.3" stroke="#0d7a40" stroke-width="1.4"/>
<line x1="225.4" y1="457.3" x2="233.0" y2="457.3" stroke="#0d7a40" stroke-width="1.4"/>
<line x1="268.2" y1="444.2" x2="275.8" y2="444.2" stroke="#0d7a40" stroke-width="1.4"/>
<line x1="104.1" y1="448.4" x2="111.7" y2="448.4" stroke="#0d7a40" stroke-width="1.4"/>
<line x1="104.1" y1="450.6" x2="111.7" y2="450.6" stroke="#b4b4b4" stroke-width="1.4"/>
<path d="M324,417.8 H333.1 V525.8 H324" fill="none" stroke="#222" stroke-width="1.5"/>
<path d="M344.8,417.8 H353.3 V488.8 H344.8" fill="none" stroke="#222" stroke-width="1.5"/>
<text x="338.8" y="477.3" font-size="11" text-anchor="middle">*</text>
<text x="359.2" y="460.5" font-size="11" text-anchor="middle">*</text>
<line x1="371.1" y1="393.30" x2="391.5" y2="393.30" stroke="#0d7a40" stroke-width="1.4"/>
<circle cx="381.4" cy="393.30" r="2.9" fill="#0d7a40"/>
<text x="394.28" y="396.7" font-size="8.4" textLength="54.86" lengthAdjust="spacingAndGlyphs">SKOV-3 alone</text>
<line x1="371.1" y1="408.30" x2="391.5" y2="408.30" stroke="#b4b4b4" stroke-width="1.4"/>
<circle cx="381.4" cy="408.30" r="2.9" fill="#b4b4b4"/>
<text x="394.26" y="411.7" font-size="8.4" textLength="81.17" lengthAdjust="spacingAndGlyphs">SKOV-3 + Herceptin</text>
<line x1="371.1" y1="423.30" x2="391.5" y2="423.30" stroke="#1a1a1a" stroke-width="1.4"/>
<circle cx="381.4" cy="423.30" r="2.9" fill="#1a1a1a"/>
<text x="394.26" y="426.7" font-size="8.4" textLength="198.22" lengthAdjust="spacingAndGlyphs">SKOV-3 + O/N IL-15-primed NK cells + Herceptin</text>
<line x1="371.1" y1="438.30" x2="391.5" y2="438.30" stroke="#2b2f9a" stroke-width="1.4"/>
<circle cx="381.4" cy="438.30" r="2.9" fill="#2b2f9a"/>
<text x="394.28" y="441.7" font-size="8.4" textLength="202.17" lengthAdjust="spacingAndGlyphs">SKOV-3 + 7-day IL-15 + DMSO NK cells + Herceptin</text>
<line x1="371.1" y1="453.30" x2="391.5" y2="453.30" stroke="#c8102e" stroke-width="1.4"/>
<circle cx="381.4" cy="453.30" r="2.9" fill="#c8102e"/>
<text x="394.26" y="456.7" font-size="8.4" textLength="252.29" lengthAdjust="spacingAndGlyphs">SKOV-3 + 7-day IL-15 + 5 µM CHIR09921 NK cells + Herceptin</text>
<line x1="371.1" y1="468.30" x2="389.5" y2="468.30" stroke="#0d7a40" stroke-width="1.4"/>
<circle cx="381.4" cy="468.30" r="2.3" fill="#fff" stroke="#0d7a40" stroke-width="1.3"/>
<text x="394.03" y="471.7" font-size="8.4" textLength="46.18" lengthAdjust="spacingAndGlyphs">IVIS Control</text>
</svg></body></html>
